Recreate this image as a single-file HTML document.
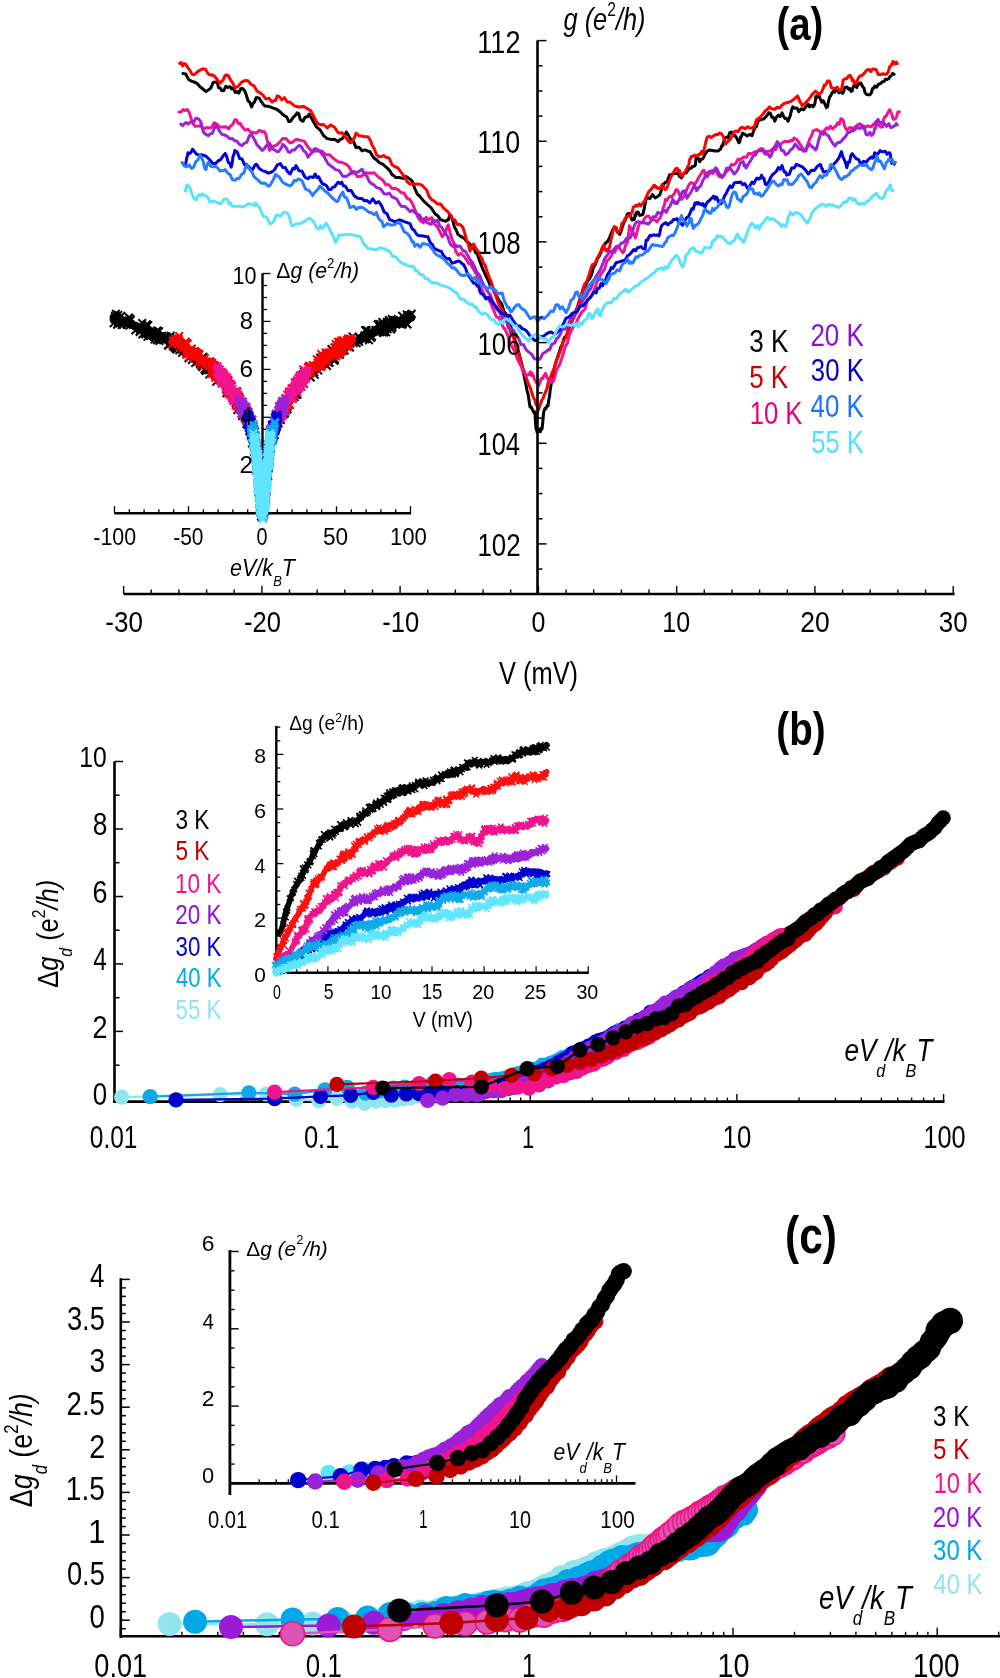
<!DOCTYPE html>
<html><head><meta charset="utf-8"><style>
html,body{margin:0;padding:0;background:#fff;}
svg{display:block;will-change:transform}
text{font-family:"Liberation Sans",sans-serif;}
</style></head><body>
<svg width="1000" height="1678" viewBox="0 0 1000 1678">
<rect width="1000" height="1678" fill="#fff"/>

<path d="M183 73.6 185.8 74 188.5 79.4 191.2 81.1 194 82 197 83.3 200 86.8 203 89 206 91.6 208.4 89.9 210.8 88.1 213.2 82.5 215.6 82 217.1 81.9 218.6 87.7 220.1 88 221.6 90.4 223.7 90.7 225.8 86.3 227.9 87.4 230 86.8 231.8 89 233.5 88 235.2 92.4 237 91.6 238.8 93.1 240.7 88.8 242.6 88.5 244.4 90.4 246.2 94.7 248 100.7 249.8 102.3 251.6 107 253.1 103.3 254.6 101.9 256.1 97.8 257.6 97.6 259.4 98.4 261.2 101.5 263 103.9 264.8 106 268.7 106.3 272.6 107.8 276.5 109.2 280.4 112 282.5 114.2 284.6 115.8 286.7 117 288.8 121.6 290.9 121 293 117.5 295.1 115.7 297.2 112.8 298.7 113.5 300.2 119.3 301.7 120.8 303.2 121.2 304.7 117.7 306.2 116.8 307.7 116.8 309.2 114 312.8 120.4 316.4 126.8 320 129.8 323.6 135.6 327.2 138.6 330.8 139.4 334.4 139.2 338 141.6 340.1 139.6 342.2 138.6 344.3 136 346.4 132 348.8 135.9 351.2 140.2 353.6 141.6 356 147.6 359 147.3 362 150.8 365 149.9 368 151.2 370.1 151.8 372.2 155.6 374.3 158.4 376.4 159.6 379.4 162.8 382.4 163.8 385.4 166.5 388.4 169.2 390.2 171.3 392 174.7 393.8 175.6 395.6 177.6 399.2 177.5 402.8 178.4 406.4 176.6 410 179.2 412.4 181.3 414.8 188.5 417.2 194 419.6 196 423.5 200.9 427.4 204.5 431.3 208 435.2 214 437.9 215.8 440.6 219.8 443.3 220.6 446 221.2 447.2 219.9 448.4 219.9 449.6 215.5 450.8 215.2 452.6 220.1 454.4 226.9 456.2 230 458 234.4 461 236.6 464 238.1 467 241.8 470 244 471.8 248.5 473.6 246.5 475.4 252.5 477.2 253.6 479.9 261.7 482.6 268.6 485.3 274.5 488 280 490.4 285.9 492.8 289.1 495.2 293.8 497.6 298 499.7 301.6 501.8 303.8 503.9 311.5 506 313.7 508.2 320.6 510.5 325.5 512.8 333.4 515 340 516.8 346.2 518.5 351.8 520.2 358 522 365 523 370.2 524 375.6 525 380.5 526 385 527 390.3 528 393.8 529 400.3 530 407 531.2 406.8 532.5 409.9 533.8 412.4 535 412 535.2 417.6 535.5 421.9 535.8 426.2 536 429 536.5 428.6 537 432.1 537.5 432 538 432 538.5 429.8 539 429.3 539.5 429 540 431 540.5 431.7 541 428.8 541.5 427.7 542 429 542.5 425.1 543 419.3 543.5 413.5 544 411 545 408.2 546 408.6 547 405.7 548 406 548.8 399.7 549.5 396.5 550.2 390 551 385 552.2 378.4 553.5 373.4 554.8 365.6 556 362 557.5 357.2 559 353.1 560.5 347.8 562 345 564.4 337.5 566.8 335.3 569.1 327.8 571.5 322 574.1 313.9 576.8 309 579.4 303.2 582 295 583.9 288.6 585.9 284.5 587.8 280.9 589.7 278.4 591.6 274.6 593.5 267.1 595.3 264.8 597.2 259 599.4 255.8 601.5 251.2 603.6 245.7 605.8 243 607.9 241.2 610.1 236.3 612.2 231 614.4 226.9 615.7 227.5 617 231.3 618.4 232 619.7 234.4 621.6 229.6 623.5 223.4 625.4 219.7 627.3 214 628.9 213.3 630.5 215.8 632.1 220.2 633.7 219.4 634.4 219.4 635 215 635.7 215.7 636.4 212.3 638 212 639.6 215.4 641.3 215 642.9 214.4 644 209.7 645 204.7 646.1 199.3 647.2 197.3 649.9 198.8 652.5 194.6 655.2 197.9 657.9 196.2 659.8 194.8 661.6 189.5 663.5 184.2 665.4 182.2 666.5 182 667.5 180.6 668.6 177.5 669.7 174.7 671.6 174.5 673.5 173.6 675.3 173.2 677.2 173.6 678.3 173.3 679.4 176.6 680.4 176.5 681.5 177.9 683.1 174.6 684.7 172.3 686.3 173 687.9 170.4 689.5 168.4 691.1 168.2 692.8 166.4 694.4 166.1 694.9 165.9 695.5 164.2 696 158.3 696.5 158.6 697.6 157.5 698.6 158.4 699.7 161.7 700.8 159.7 702.9 158.6 705.1 154.1 707.2 151.1 709.4 150 712.2 150.5 715.1 151 717.9 151.1 720.8 148.8 721.7 145.7 722.6 145.8 723.5 142.5 724.4 139.2 726.2 137.3 728 137.8 729.8 132.6 731.6 132 733.4 135.7 735.2 135.5 737 138.6 738.8 142.8 739.7 142.3 740.6 136.7 741.5 136.8 742.4 133.2 744.8 134.3 747.2 136 749.6 134.4 752 135.6 753.5 131.3 755 127.4 756.5 126.5 758 121.2 760.7 119.6 763.4 119.1 766.1 116.7 768.8 112.8 770.3 113.2 771.8 117.2 773.3 117.3 774.8 121.2 776.6 117 778.4 115 780.2 116.6 782 112.8 783.5 116.2 785 118.5 786.5 118.4 788 121.2 789.2 118.1 790.4 115.3 791.6 109.8 792.8 106.8 794.3 108.3 795.8 107.9 797.3 108.5 798.8 111.6 801.2 108.7 803.6 109.8 806 106.5 808.4 104.4 809.6 107 810.8 105.4 812 105.2 813.2 106.8 814.1 105.4 815 102.9 815.9 96.5 816.8 96 817.6 97.3 818.4 95.1 819.2 95.7 820 98 821.6 102.2 823.2 100.7 824.8 104 826.4 107.6 827.5 106.9 828.5 101.3 829.6 97 830.7 95.8 832.1 92.7 833.4 91.4 834.8 92.1 836.1 89.4 837.5 88.4 838.8 92.9 840.1 91.2 841.5 92.6 842.6 93.4 843.6 91.8 844.7 87.6 845.8 87.2 847.1 87.1 848.5 89.2 849.8 88.6 851.1 91.5 852.2 90.8 853.2 86.7 854.3 85.2 855.4 86.1 856.8 87.5 858.1 83.6 859.4 84.1 860.8 82.9 861.8 85.1 862.9 86.9 864 88.2 865 92.6 866.6 94.5 868.2 94.8 869.9 94.8 871.5 92.6 872.3 89.2 873.1 88 873.9 88.3 874.7 86.1 876.6 87.2 878.5 84.1 880.3 83.7 882.2 81.8 883.8 81.7 885.5 79.1 887.1 79.6 888.7 78.6 890 76.6 891.4 75.3 892.7 73.4 894 74.3" fill="none" stroke="#000000" stroke-width="3" stroke-linejoin="round" stroke-linecap="round"/>
<path d="M179.6 63.4 181.1 62.5 182.6 65.9 184.1 63.6 185.6 64 187.7 67.4 189.8 70.1 191.9 74.1 194 74.8 196.4 72.8 198.8 70.9 201.2 69.5 203.6 68.8 205.7 69.5 207.8 73.4 209.9 75.1 212 74.8 214.1 75.9 216.2 78.1 218.3 81.2 220.4 83 221.9 81.3 223.4 79.3 224.9 75.7 226.4 74.8 228.5 75.9 230.6 80.2 232.7 82.7 234.8 88 238.1 86.4 241.4 82.4 244.7 80.6 248 80.8 251 84.4 254 85.8 257 91.1 260 92.8 263 95.1 266 99.1 269 98.1 272 102 273.8 100.6 275.5 100.6 277.2 95.9 279 96.4 281.8 99.9 284.5 97.7 287.2 101.9 290 102 294.5 106 299 107 303.5 106.4 308 109 311 111.1 314 117 317 122.8 320 124.8 323.6 124.5 327.2 127.8 330.8 125 334.4 127.2 338.3 133 342.2 132.8 346.1 138.1 350 142.8 351.5 142.3 353 139.4 354.5 137.5 356 133.2 359 135.7 362 136.1 365 136.8 368 136.8 370.1 139.8 372.2 145.5 374.3 148.7 376.4 154.8 378.8 156.4 381.2 156.8 383.6 155.5 386 157.2 389 157.9 392 164.7 395 166.7 398 168 401 172.2 404 176.2 407 181.6 410 184 413 184.1 416 184.1 419 184.2 422 185.2 424.4 187.7 426.8 190.2 429.2 196.7 431.6 199.6 434.6 201.3 437.6 204.1 440.6 203.9 443.6 208 445.7 210 447.8 211.7 449.9 214.4 452 218.8 454.7 219.8 457.4 224.5 460.1 224.6 462.8 227.2 464.6 232.7 466.4 239.7 468.2 244 470 251.2 470.9 247.1 471.8 247.7 472.7 245.8 473.6 244 475.7 248.3 477.8 250.9 479.9 255.7 482 258.4 483.5 263.4 485 265 486.5 270.1 488 274 489.5 278.1 491 281.1 492.5 286.2 494 290.8 495.8 295.3 497.6 301.1 499.4 305.4 501.2 307.7 503 311.7 504.8 318.5 506.6 320.8 508.4 328 509.3 327.6 510.2 331.2 511.1 334.4 512 334.2 513.5 337.1 515 344.3 516.5 349.3 518 352 519.3 355.4 520.6 361.5 521.9 366.5 523.2 369.2 524.9 373.1 526.6 379 528.3 383.6 530 387 531.2 390.7 532.5 395.1 533.8 398.6 535 400 535.9 404.6 536.8 405.3 537.6 406 538.5 410 540.1 404.6 541.8 400.2 543.4 397.6 545 393 546.8 389.2 548.5 380.9 550.2 378.8 552 373 554.2 368.2 556.4 360.8 558.5 355.8 560.7 350 563.4 341.6 566.1 337.3 568.8 327.2 571.5 322.4 574.2 316.8 576.9 308.2 579.5 299.6 582.2 291.2 584.4 284.5 586.5 281.8 588.6 276.4 590.8 268.7 592.4 264.4 594 264.6 595.6 262.2 597.2 258 598.8 255.5 600.4 252.5 602 248.1 603.6 245.1 604.7 248.7 605.8 250.5 606.9 249.4 608 251.5 609.6 246.7 611.2 238.9 612.8 231.5 614.4 226.9 615.5 227.4 616.5 227.8 617.6 232.8 618.7 232.2 620.3 230.8 621.9 223.5 623.5 222.2 625.1 218.3 626.3 217.5 627.5 215.7 628.8 216.1 630 216.6 631.1 213 632.1 212.9 633.2 207 634.3 206.9 635.9 205.2 637.5 206.1 639.1 203.9 640.7 205.8 642.1 204.3 643.4 202 644.8 201 646.1 197.3 648 193 649.9 190.4 651.7 188.6 653.6 185.5 654.7 185.3 655.8 187.5 656.8 186.8 657.9 188.7 659 188.5 660 187.9 661.1 186.9 662.2 184.4 663 187.9 663.8 187.3 664.6 188.3 665.4 189.7 666.8 188.1 668.1 184.5 669.4 180.4 670.8 176.9 672.4 174.2 674 171.6 675.6 168.6 677.2 168.3 678.3 171.6 679.4 170.3 680.4 175.1 681.5 175.8 683.1 173.6 684.7 173.1 686.3 169.7 687.9 166.1 688.7 165.9 689.5 159.6 690.4 158.9 691.2 156.5 692.8 156.6 694.4 155.1 696 155.7 697.6 155.4 699 154.2 700.3 154.5 701.6 151.5 703 153.3 704.1 149 705.1 145 706.2 140.3 707.3 137.2 709.2 136.2 711 137.4 712.9 136.4 714.8 135 716.3 134.5 717.8 134.8 719.3 133.1 720.8 133.2 722 134.5 723.2 136.3 724.4 140.3 725.6 144 727.7 141.5 729.8 139.8 731.9 136.5 734 132 736.1 130.9 738.2 131.8 740.3 128.2 742.4 127.2 745.1 128.7 747.8 126.8 750.5 128.3 753.2 127.2 754.4 127.3 755.6 122.1 756.8 119.4 758 118.8 760.4 117 762.8 114.1 765.2 111 767.6 109.2 769.4 106.9 771.2 108.7 773 108.9 774.8 109.2 777.2 107.3 779.6 107.9 782 105.1 784.4 103.2 787.7 102.5 791 101.4 794.3 98.9 797.6 96 798.8 98.4 800 101.9 801.2 103.8 802.4 105.6 805.7 102.7 809 99 812.3 94.4 815.6 91.2 816.7 92.4 817.8 93 818.9 95 820 93.6 821.1 92.7 822.1 90.9 823.2 88.4 824.3 85 825.4 85.4 826.5 83.4 827.5 81.2 828.6 80.8 829.7 81.6 830.8 85.5 831.8 88.1 832.9 88.3 835 88.8 837.2 87.2 839.4 90.7 841.5 89.4 842 86.9 842.5 84.4 843.1 80 843.6 79.7 845.2 78.7 846.8 78.7 848.4 76.1 850 75.4 851.1 76.9 852.1 80.4 853.2 79.6 854.3 84 855.4 82.4 856.5 82.9 857.5 80.1 858.6 77.6 860.2 75.8 861.8 75.8 863.4 74 865 72.2 866.9 70.1 868.8 69.3 870.7 71.6 872.6 69 874.5 69.3 876.3 69.7 878.1 74.5 880 74.3 881.6 74.4 883.2 73.7 884.9 74.4 886.5 74.3 888.1 72.2 889.8 66.4 891.4 65.4 893 61.5 894.1 63 895.1 64 896.2 62 897.3 63.6" fill="none" stroke="#ff0000" stroke-width="3" stroke-linejoin="round" stroke-linecap="round"/>
<path d="M179 112 181.1 111.9 183.2 109.6 185.3 110.5 187.4 109.6 189.3 112.3 191.3 119.3 193.2 123.9 195.2 126.4 197.9 125.9 200.6 125.7 203.3 129.4 206 127.6 208.7 127.7 211.4 127.4 214.1 122.7 216.8 124 219.8 127 222.8 127 225.8 126.8 228.8 128.8 230.3 126.2 231.8 125.5 233.3 123.4 234.8 119.8 236.6 120 238.4 123.7 240.2 123.2 242 126.4 245 130.1 248 129.1 251 132.8 254 132.4 255.8 133.1 257.5 132.2 259.2 130.3 261 131 262.2 132.1 263.5 131.2 264.8 132.2 266 134.8 266.9 139.7 267.8 142 268.7 147.7 269.6 150.4 272.9 146.2 276.2 145.4 279.5 142.4 282.8 138.4 284.6 138.6 286.4 138.8 288.2 141.2 290 142.8 292.7 142.2 295.4 139.8 298.1 139.6 300.8 140.4 304.1 141.1 307.4 146.2 310.7 150.3 314 151.2 317.9 150.8 321.8 150.9 325.7 154.8 329.6 154.8 333.8 158.6 338 161.7 342.2 162.5 346.4 164.4 349 166.7 351.7 172 354.4 171.6 357 176.4 361.2 176.4 365.5 172.7 369.8 173.2 374 172.8 377 175.8 380 178.2 383 180.3 386 184.8 389 184.8 392 188.7 395 188.2 398 189.6 401 192.5 404 193.3 407 198.1 410 199.6 412.7 204.2 415.4 210.8 418.1 217.7 420.8 221.2 423.5 222.6 426.2 217.3 428.9 219.9 431.6 217.6 434.3 224 437 226.4 439.7 231.5 442.4 236.8 443.9 234.2 445.4 232.7 446.9 227.3 448.4 224.8 450.2 233.1 452 239.2 453.8 243 455.6 251.2 458.3 255.2 461 253.2 463.7 255.9 466.4 259.6 468.5 263.4 470.6 263.6 472.7 268 474.8 271.6 476.6 274.4 478.4 280.4 480.2 286.7 482 289.6 485 296.9 488 298.3 491 303.9 494 311.3 496.4 317 498.8 317.5 501.2 322.8 503.6 328 505 329.2 506.3 332.1 507.6 334.8 509 340 510.4 343.4 511.9 346.6 513.3 349.1 514.8 351 516.9 357.8 519 362.2 521.1 366.2 523.2 372 524.6 373.3 526 375.6 527.4 374.8 528.8 374.8 529.6 373.2 530.4 371.9 531.2 375.5 532 373 532.8 375.2 533.5 375.8 534.2 378.7 535 380 535.9 381.8 536.8 383.1 537.7 382.5 538.6 386 539.5 383.3 540.3 381.6 541.1 378.6 542 378 542.9 378.6 543.8 375.4 544.7 375.3 545.6 373.4 546.7 376.5 547.8 378.8 548.9 380.9 550 382 551 382.4 552 379.4 553 381.9 554 379 556.8 369.3 559.6 364.8 562.4 356.5 565.2 346.8 567.3 343.4 569.4 334.7 571.5 329.8 573.6 326.7 575.8 324.4 577.9 319 580.1 314.8 582.2 311.6 584.9 309.3 587.5 300.4 590.2 298.1 592.9 293.4 594.8 288.6 596.6 282.6 598.5 279.3 600.4 275.2 602.5 272.1 604.7 268.9 606.9 260.9 609 259.1 610.9 256.5 612.8 251.8 614.6 252.4 616.5 248.3 618.1 247.5 619.8 248.3 621.4 251 623 252.6 624.1 251.3 625.1 246.9 626.2 243.7 627.3 243 627.8 240.1 628.3 235.8 628.9 231.7 629.4 225.8 630.9 227.9 632.4 231.6 633.9 233.8 635.4 238 636.5 234.5 637.5 229.7 638.6 226 639.7 223 641.3 222.7 642.9 221.9 644.5 218.6 646.1 216.6 648.5 215.9 651 219.5 653.4 219.6 655.8 220.9 657.1 221.8 658.5 219.2 659.8 218.4 661.1 215.5 662.2 212.4 663.2 207.6 664.3 205.3 665.4 199.4 667 200.4 668.6 197.4 670.2 196.2 671.8 197.3 673.1 194.8 674.5 193.6 675.9 189.7 677.2 189.7 678.3 191.4 679.4 194.9 680.4 194.9 681.5 199.4 683.6 196.8 685.8 192 688 186.5 690.1 183.3 691.2 182.6 692.2 183.2 693.3 183.3 694.4 184.4 696.5 182 698.7 177.4 700.9 174 703 170.4 704.1 170.4 705.1 175.6 706.2 174.5 707.3 176.9 709.2 174.2 711 171.2 712.9 173.5 714.8 169.4 716.3 171.1 717.8 174.8 719.3 176.6 720.8 176.4 723.5 175.6 726.2 171.9 728.9 169.4 731.6 164.4 733.7 165.1 735.8 163.4 737.9 159.1 740 159.6 742.1 158.2 744.2 156.9 746.3 157.4 748.4 153.6 751.4 153.7 754.4 152.1 757.4 151.1 760.4 148.8 762.8 148.8 765.2 152 767.6 151.3 770 151.2 771.8 149.6 773.6 148.6 775.4 149.8 777.2 146.4 779.9 145.3 782.6 142.5 785.3 141.2 788 141.6 789.5 141.6 791 140.1 792.5 140.8 794 138 797 139.8 800 144.2 803 148.9 806 151.2 807.8 144 809.6 139.2 811.4 136.1 813.2 130.8 815 130 816.8 129.6 818.6 130.6 820.4 132 822.5 131.9 824.5 130.6 826.5 127.8 828.6 129 830.5 126.2 832.4 129 834.2 127.3 836.1 125.8 837.7 122.7 839.3 124.3 840.9 118.8 842.5 119.4 843.6 121.5 844.6 126.3 845.7 128.4 846.8 130.1 850 127.5 853.2 128.7 856.5 125.8 859.7 123.7 862.4 126.2 865 127.1 867.7 125.8 870.4 126.9 871.8 126.4 873.1 124.4 874.4 124.9 875.8 121.5 877.4 124.2 879 125.2 880.6 127 882.2 126.9 882.8 126.8 883.3 121 883.9 118.3 884.4 117.3 885.7 116.5 887 114.7 888.4 111.7 889.7 109.7 890.8 112.1 891.9 114.1 892.9 118.7 894 119.4 895.4 118.9 896.7 116 898 111.7 899.4 111.9" fill="none" stroke="#f01490" stroke-width="3" stroke-linejoin="round" stroke-linecap="round"/>
<path d="M180.8 124 182.6 125.6 184.4 123.8 186.2 122.6 188 124 190.7 121.9 193.4 122.5 196.1 118.1 198.8 119.2 200.3 121.1 201.8 125.5 203.3 131.8 204.8 133.6 206.6 134.7 208.4 135.8 210.2 133.8 212 133.6 212.9 131.8 213.8 129.6 214.7 127.4 215.6 125.2 217.7 127.8 219.8 131.5 221.9 134.5 224 134.8 226.7 135.9 229.4 138.4 232.1 138.4 234.8 140.8 236.6 141.1 238.4 143.2 240.2 144.8 242 145.6 244.4 143.1 246.8 142.4 249.2 135.9 251.6 134.8 254.3 139.3 257 144.9 259.7 147.6 262.4 150.4 264.2 148.9 266 146.2 267.8 144.5 269.6 143.2 271.4 147.3 273.2 149.2 275 150.3 276.8 151.6 278.3 151.6 279.8 150 281.3 147.8 282.8 144.4 284.6 145.9 286.4 148.2 288.2 151.8 290 152.4 292.4 150 294.8 149.9 297.2 146.9 299.6 145.2 301.7 147.4 303.8 151 305.9 152.4 308 157.2 310.1 154.4 312.2 152.6 314.3 148.7 316.4 148.8 320.3 151.8 324.2 156.7 328.1 163.9 332 166.8 335.6 169.6 339.2 170.6 342.8 176.3 346.4 176.4 350.3 173.5 354.2 172.9 358.1 172.1 362 169.2 364.4 173.7 366.8 176.1 369.2 181.3 371.6 183.6 374 185 376.4 187.6 378.8 188.1 381.2 189.6 383.9 193.6 386.6 194.2 389.3 193.1 392 196.8 396.5 198.8 401 206.3 405.5 206.7 410 211.6 412.4 210.3 414.8 212.3 417.2 214.2 419.6 215.2 422 219.4 424.4 218.9 426.8 222.5 429.2 223.6 431.3 224.2 433.4 219.9 435.5 221.4 437.6 220 439.7 225.9 441.8 227.4 443.9 231 446 234.4 447.8 236.7 449.6 242.5 451.4 245.6 453.2 246.4 455 244.6 456.8 246.6 458.6 246 460.4 246.4 462.8 250.5 465.2 251.2 467.6 255.2 470 259.6 472.4 262.5 474.8 267.3 477.2 272.6 479.6 275.2 481.7 281 483.8 284.9 485.9 288.6 488 292 490.1 294.3 492.2 299.9 494.3 305.5 496.4 308.9 498.5 310.8 500.7 314.6 502.9 319.2 505 320.2 507.8 322.3 510.6 329.5 513.4 329.9 516.2 335.6 518.7 338.6 521.1 344.5 523.5 344.7 526 349.6 528.8 352.1 531.6 354.1 534.4 358.7 537.2 359.4 540 359.2 542.8 353.5 545.6 352 548.4 349.6 549.6 350 550.8 346.9 552 343.9 553.2 343.8 554.8 342.9 556.4 339 558 337.6 559.6 335.6 562.6 329 565.5 329.1 568.5 323.2 571.5 318.1 573.6 316.8 575.8 313.8 577.9 307.4 580 305.2 582.1 301.9 584.3 297.9 586.5 295.9 588.6 291.2 591 288.2 593.5 280.9 595.9 276.5 598.3 273 600.4 269.6 602.6 264 604.8 258.4 606.9 255.8 609.3 252 611.7 251.3 614.1 249.1 616.5 246.2 618.6 247 620.8 243.7 623 242.7 625.1 240.8 626.3 238.5 627.5 239 628.8 237.7 630 238 631.6 234.9 633.2 228.9 634.8 224.6 636.4 221.9 639.4 221.8 642.3 222.9 645.2 222.8 648.2 224.1 650.6 221.6 653 216.7 655.5 217 657.9 212.3 660 213.2 662.2 212.5 664.4 210.3 666.5 212.3 668.1 208.3 669.7 206.7 671.3 203.3 672.9 199.4 674 201.9 675 203.4 676.1 201.8 677.2 203.7 678.8 200.4 680.4 196.5 682 192.3 683.6 190.8 684.4 191 685.2 193.4 686.1 194.5 686.9 198.3 688.8 195.3 690.6 192.8 692.5 189 694.4 185.5 694.9 187.7 695.5 186.9 696 188.1 696.5 190.8 698.6 187.6 700.8 185.6 703 180 705.1 176.9 707.2 173 709.4 171.4 711.6 171.1 713.7 170.4 714.6 170.6 715.5 167.9 716.3 168.2 717.2 169.2 718.4 172.1 719.6 175.6 720.8 174.8 722 177.6 723.5 175.7 725 172.9 726.5 168.2 728 168 729.5 168.7 731 169.3 732.5 171.4 734 174 736.1 172.2 738.2 168.8 740.3 162.9 742.4 162 743.3 161.6 744.2 166 745.1 164.7 746 168 748.4 163.9 750.8 160.3 753.2 156 755.6 154.8 757.4 151.4 759.2 150.7 761 150.7 762.8 150 764.6 153.8 766.4 154.2 768.2 154.2 770 157.2 771.8 154.1 773.6 148.4 775.4 145.6 777.2 141.6 779.3 144.1 781.4 150.3 783.5 150.8 785.6 154.8 788 153.5 790.4 150 792.8 148.3 795.2 144 797.3 146.3 799.4 149.3 801.5 149 803.6 151.2 805.1 150.2 806.6 148.2 808.1 145.9 809.6 144 811.1 145.8 812.6 147.2 814.1 148 815.6 150 816.8 147.9 818 142.8 819.2 138.5 820.4 134.4 821.9 132.3 823.4 134.4 824.9 132.9 826.4 134.4 828.5 136 830.7 140 832.9 143.5 835 146.2 836.6 143.7 838.2 142.5 839.9 142.4 841.5 140.9 843.6 138.6 845.8 136.2 847.9 132.6 850 132.3 851.6 130.6 853.2 130.9 854.9 129.3 856.5 128 858.1 127.7 859.7 128.5 861.3 127.4 862.9 125.8 863.7 128.8 864.5 127.9 865.3 131.4 866.1 134.4 868 135 869.9 132.3 871.7 135.5 873.6 133.3 874.7 128.2 875.8 128.1 876.8 121.6 877.9 119.4 879.5 122 881.1 123.2 882.8 121.9 884.4 123.7 886.5 126.3 888.7 123.7 890.9 127.7 893 126.9 894.1 125.8 895.1 125.6 896.2 123.6 897.3 124.8" fill="none" stroke="#9a22d8" stroke-width="3" stroke-linejoin="round" stroke-linecap="round"/>
<path d="M185.6 163.6 186.2 161.4 186.8 157.1 187.4 156.3 188 152.8 189.5 153.7 191 152.4 192.5 149.2 194 151 196.4 154.1 198.8 155 201.2 154.8 203.6 155.2 206.6 156.7 209.6 159.7 212.6 163.3 215.6 163.6 218 160.9 220.4 159.8 222.8 156.4 225.2 153.4 226.7 156.5 228.2 162.3 229.7 163.3 231.2 167.2 232.1 163.5 233 156.7 233.9 154.5 234.8 150.4 237.2 151.9 239.6 158.5 242 158.9 244.4 164.8 246.2 164.2 248 166 249.8 167.6 251.6 170.8 252.8 169.2 254 166.8 255.2 164.8 256.4 164.2 259.4 168.7 262.4 170.6 265.4 171.7 268.4 173.2 271.4 172.2 274.4 169.9 277.4 164.8 280.4 163.6 282.8 167.6 285.2 167.6 287.6 171.7 290 174 291.5 171.2 293 168.2 294.5 169 296 165.6 299 170.8 302 171.3 305 177.2 308 178.8 309.8 176.9 311.6 177.1 313.4 177.5 315.2 174 317 177.7 318.8 176.8 320.6 180.9 322.4 183.6 324.5 184.5 326.6 185.7 328.7 189.6 330.8 189.6 332.6 187.5 334.4 186.9 336.2 184.8 338 182.4 339.8 183.4 341.6 182.2 343.4 185.9 345.2 186 348.2 190.8 351.2 190.5 354.2 195.7 357.2 198 359.6 198.5 362 198.5 364.4 200.8 366.8 200.4 369.8 202.9 372.8 198.8 375.8 203.1 378.8 201.6 381.5 205.6 384.2 212.1 386.9 213.6 389.6 219.6 394.7 221.6 399.8 219.8 404.9 221.8 410 223.6 412.1 228.8 414.2 230.3 416.3 233.9 418.4 235.6 420.8 235.7 423.2 236.1 425.6 236.5 428 236.8 429.5 241.1 431 243.8 432.5 244.4 434 248.8 435.8 249.1 437.6 250.2 439.4 250.9 441.2 251.2 443.9 256.2 446.6 258.8 449.3 258.6 452 263.2 454.4 262.6 456.8 261.4 459.2 261 461.6 263.2 463.7 264.8 465.8 268.9 467.9 275.2 470 277.6 471.8 280.5 473.6 283.2 475.4 282.9 477.2 286 478.7 286.5 480.2 292.4 481.7 293.9 483.2 294.5 485.9 298.9 488.6 297 491.3 301.1 494 304 496.4 307 498.8 309.9 501.2 313.2 503.6 313.7 505.7 315.1 507.8 315.7 509.9 315.2 512 318.8 514 322 516 324.6 518 326.1 520 326 522.2 328.8 524.4 329.4 526.6 331 528.8 334.2 530.9 336.9 533 339 535.1 340.5 537.2 339.8 540 336.6 542.8 336.7 545.6 334.6 548.4 332.8 551 332 553.5 333.3 556 333.5 558.6 331 560.5 328.8 562.4 325.5 564.2 322.2 566.1 318.1 568.2 317.5 570.4 315.6 572.6 312.9 574.7 312.7 577.4 311.6 580 306.1 582.7 306.1 585.4 303 587.3 300.1 589.1 298.5 591 296.5 592.9 293.4 594.5 292 596.1 292.9 597.8 288.2 599.4 288 601 283.6 602.6 285.8 604.2 280.7 605.8 279.4 607.1 275.4 608.5 273.1 609.9 271 611.2 267.6 612.8 268.5 614.4 265.9 616 262.8 617.6 262.3 619.5 261.9 621.4 261 623.2 260.7 625.1 260.1 626.3 258.2 627.5 255.6 628.8 255.1 630 254.1 631.9 252 633.8 249.5 635.6 250.8 637.5 247.7 639.4 247.3 641.2 246.6 643.1 248.8 645 248.8 645.3 248.2 645.5 245.8 645.8 242.9 646.1 240.2 647.5 240.2 648.8 237.3 650.1 235.3 651.5 235.9 653.4 234.8 655.2 235.2 657.1 234.9 659 235.9 659.8 233.1 660.6 228.9 661.4 226.2 662.2 225.2 664.1 223.5 666 222.7 667.8 224.9 669.7 223 671.6 222.1 673.5 219.5 675.3 219.4 677.2 218.7 678.6 222 679.9 222.3 681.2 223.8 682.6 225.2 684.5 221.7 686.4 217.9 688.2 216.9 690.1 213.3 691.7 208.7 693.3 209.3 694.9 203.2 696.5 202.6 697.6 204 698.6 202.6 699.7 204.3 700.8 203.7 701.9 204.9 703 203.6 704 206.3 705.1 206.9 707 202.5 708.9 200.9 710.7 199.2 712.6 197.3 713.5 196.2 714.3 197.8 715.1 199.2 716 196.8 717.2 197.9 718.4 202 719.6 200.9 720.8 204 722.6 201.4 724.4 196.1 726.2 193.4 728 189.6 730.1 185.9 732.2 187.5 734.3 182.9 736.4 182.4 738.5 182.5 740.6 182 742.7 184.7 744.8 183.6 745.7 185.2 746.6 186.5 747.5 188.4 748.4 188.4 750.2 185.2 752 182.2 753.8 183.6 755.6 180 757.1 178 758.6 179 760.1 178.5 761.6 175.2 762.8 178.2 764 178.2 765.2 184 766.4 184.8 768.5 182.4 770.6 177.6 772.7 174.5 774.8 172.8 776.6 171 778.4 167.5 780.2 169.3 782 165.6 783.2 169 784.4 171.9 785.6 172.3 786.8 175.2 789.2 174.4 791.6 168.1 794 168.1 796.4 164.4 799.4 165.7 802.4 166.9 805.4 169.9 808.4 174 811.4 170.2 814.4 170.4 817.4 166.2 820.4 164.4 821.1 166.2 821.8 168.7 822.5 169 823.2 172 825.1 171.8 827 171.2 828.8 171.5 830.7 168.8 833.4 164.5 836.1 161.8 838.8 158.1 841.5 151.6 842.8 156.9 844.1 159.3 845.5 162.6 846.8 167.7 848.1 162.3 849.5 162.2 850.9 155.5 852.2 153.7 854.4 156.7 856.5 158.9 858.6 159.7 860.8 164.5 863.5 161.3 866.1 162.2 868.8 159.1 871.5 157 872.6 158.1 873.6 157.2 874.7 152.7 875.8 153.7 877.9 154 880.1 150.5 882.2 151.8 884.4 151.6 885.7 151.6 887 154.3 888.4 152.9 889.7 152.7 890.2 153.9 890.8 158.1 891.4 160.8 891.9 163.4 892.7 161.7 893.5 162.2 894.3 164.3 895.1 162.3" fill="none" stroke="#0000d8" stroke-width="3" stroke-linejoin="round" stroke-linecap="round"/>
<path d="M182 162.4 184.4 166.1 186.8 166.7 189.2 164.9 191.6 168.4 193.7 167 195.8 161.6 197.9 160 200 155.2 201.5 157.3 203 160.8 204.5 167.9 206 169.6 206.6 166.8 207.2 163.9 207.8 164.2 208.4 162.4 210.8 166.2 213.2 166.9 215.6 166.4 218 168.4 219.8 171 221.6 170.4 223.4 170.9 225.2 169.6 227.6 173 230 174.5 232.4 179.6 234.8 180.4 236.9 178.5 239 178.8 241.1 175.2 243.2 173.2 244.1 173 245 168.9 245.9 166.6 246.8 164.8 248.6 168.2 250.4 170 252.2 172.2 254 176.8 257.6 179.6 261.2 183.2 264.8 183 268.4 186.4 270.2 185.1 272 181.7 273.8 178.7 275.6 174.4 279.2 176.9 282.8 182.5 286.4 184.4 290 186 292.1 184.5 294.2 180.6 296.3 180.9 298.4 178.8 302 180.8 305.6 189.1 309.2 190.6 312.8 195.6 314.6 192.6 316.4 191 318.2 189 320 186 324.2 190.3 328.4 193.7 332.6 198.3 336.8 201.6 338.3 200.8 339.8 196.6 341.3 194.4 342.8 192 344.6 197.3 346.4 197.5 348.2 202.1 350 207.6 352.1 206.8 354.2 206.3 356.3 209.4 358.4 207.6 361.1 207.2 363.8 208.2 366.5 210.4 369.2 212.4 371 212.4 372.8 213.9 374.6 214.7 376.4 212.4 378.2 217.6 380 220.1 381.8 221.1 383.6 226.8 387.2 223.6 390.8 225 394.4 224.7 398 222 401 224.6 404 231.6 407 233.3 410 236.8 411.2 239.5 412.4 242.1 413.6 242 414.8 246.4 417.5 244.3 420.2 247.2 422.9 243.5 425.6 244 428.9 245.1 432.2 249 435.5 254 438.8 256 440.9 256.7 443 258.3 445.1 260.4 447.2 263.2 449.6 264.9 452 267.9 454.4 267.7 456.8 270.4 458.9 273.3 461 275 463.1 275.5 465.2 275.2 467.6 273.8 470 275.6 472.4 279 474.8 277.6 476.6 281.4 478.4 280.1 480.2 283.6 482 286 484.7 286.3 487.4 288.9 490.1 286.5 492.8 289.6 494.9 289.6 497 292.4 499.1 293.9 501.2 292.9 502.4 293.6 503.6 298.9 504.8 302 506 304 507.5 307.5 509 307.3 510.5 311.7 512 311.3 513.8 308.3 515.5 306.3 517.2 304.7 519 304.8 521.8 308.7 524.6 310.1 527.4 314.2 530.2 318.8 532.7 317.4 535.1 316.8 537.5 320.9 540 318.8 542.1 317 544.2 318.8 546.3 316.7 548.4 314.6 550.9 310.9 553.3 311.7 555.8 305 558.2 304.8 560.2 309 562.2 306.6 564.1 309.6 566.1 312.7 568.5 307.8 571 300.2 573.4 298.6 575.8 292.3 577.4 292 579 297 580.6 295 582.2 298.8 583.8 295.7 585.4 291 587 288.2 588.6 285.9 590.8 283.7 592.9 281 595.1 279 597.2 277.3 599.4 279.6 601.5 279.1 603.6 280.6 605.8 283.7 606.9 282.4 608 278.5 609 279.3 610.1 275.2 612.5 273.8 614.9 272.9 617.3 269.8 619.7 270.9 621.6 265.7 623.5 263.2 625.4 262.6 627.3 259.1 628.3 260.9 629.4 263.3 630.5 261.9 631.5 263.3 633 262.8 634.5 259.6 636 256.8 637.5 257.3 639.6 255.3 641.8 255 644 253.9 646.1 250.9 647.7 251.4 649.3 249.2 650.9 246.4 652.5 244.5 654.9 245.3 657.4 245.6 659.8 246 662.2 246.6 663.6 245.3 664.9 242.6 666.2 241.8 667.6 238 669.5 236.4 671.4 235.2 673.2 235.6 675.1 232.7 676.7 229.2 678.3 224.2 679.9 220.1 681.5 215.5 682.9 219.6 684.2 221.3 685.5 222.4 686.9 226.2 688 223.5 689 222.9 690.1 218.5 691.2 218.7 691.7 220.9 692.2 225.4 692.8 224.7 693.3 228.4 695.2 225.7 697 224.5 698.9 223.1 700.8 218.7 701.9 217.2 703 214.5 704 211 705.1 209.1 706.2 209.9 707.2 211.9 708.3 211.6 709.4 213.3 711 213.3 712.6 208.4 714.2 210.5 715.8 208 717.6 207.2 719.5 203.3 721.4 200.1 723.2 200.4 724.4 201.5 725.6 204.4 726.8 207.1 728 207.6 729.5 205.4 731 198.5 732.5 194 734 192 735.8 192.7 737.6 199 739.4 199.9 741.2 201.6 743.3 196.3 745.4 195.3 747.5 192.9 749.6 187.2 751.1 189.2 752.6 189 754.1 193.8 755.6 193.2 757.4 194.7 759.2 192.9 761 196.2 762.8 195.6 765.2 192 767.6 188.7 770 184.2 772.4 181.2 773.9 181.5 775.4 183.2 776.9 184.9 778.4 186 780.2 184.3 782 184.7 783.8 179.5 785.6 180 787.1 179.8 788.6 184.4 790.1 184.1 791.6 184.8 794 182.6 796.4 180 798.8 175.5 801.2 174 803.3 176.8 805.4 179.3 807.5 182.3 809.6 187.2 811.7 187.4 813.8 184.1 815.9 182.6 818 178.8 820.1 175.6 822.2 177.9 824.3 175.2 826.4 175.2 827.8 172.5 829.1 170.7 830.4 165 831.8 164.5 834.2 167.7 836.6 172.2 839.1 177.5 841.5 179.5 843.1 178.5 844.7 176.5 846.3 176.8 847.9 175.2 849.5 174 851.1 171 852.7 170.6 854.3 168.8 857 166.9 859.6 164.9 862.3 165.5 865 165.5 866.6 164.7 868.2 167.6 869.9 168.7 871.5 169.8 872.9 168 874.2 164 875.5 160.5 876.9 155.9 878.8 161.4 880.6 161.3 882.5 165 884.4 168.8 885.5 165.1 886.5 162.1 887.6 161.6 888.7 159.1 890.3 160 891.9 159 893.5 163.4 895.1 162.3" fill="none" stroke="#2a7cff" stroke-width="3" stroke-linejoin="round" stroke-linecap="round"/>
<path d="M185 190 185.8 191.2 186.5 186 187.2 184.7 188 186 190 187.5 192 194.1 194 198.1 196 200 197.5 196.5 199 194.7 200.5 195.7 202 194 204 195.2 206 195.8 208 197.7 210 202 212.5 201.2 215 201.6 217.5 202.6 220 204 221.5 203 223 200.4 224.5 199 226 199 227.5 199.4 229 204.3 230.5 203 232 206 234.5 206.5 237 206.3 239.5 206 242 207 245 206.1 248 203.8 251 204.1 254 205 254.5 205.4 255 205.7 255.5 203 256 204 259.5 207.5 263 215.9 266.5 217.1 270 224 272 223.1 274 221.2 276 215.6 278 215 280.5 216.3 283 212.9 285.5 212.1 288 214 289 216 290 219.3 291 223.4 292 226 296.3 223.8 300.6 223.5 304.9 221.1 309.2 218.4 311.6 219.3 314 222.4 316.4 227.6 318.8 229.2 320.6 225.9 322.4 228.3 324.2 226.1 326 223.2 328.4 226.7 330.8 231.8 333.2 236.5 335.6 242.4 336.8 240.2 338 237.6 339.2 234.8 340.4 235.2 345.2 234.4 350 234.4 354.8 235.4 359.6 236.4 361.7 239.2 363.8 244.1 365.9 246.1 368 248.4 371.9 248.9 375.8 250.1 379.7 247.9 383.6 248.4 386.6 250.2 389.6 251.4 392.6 256.2 395.6 256.8 399.2 261 402.8 263.7 406.4 264.8 410 266.8 411.8 265.9 413.6 266.6 415.4 270.9 417.2 270.4 419.9 274.3 422.6 274.7 425.3 278.6 428 278.8 431 282.3 434 283 437 282.7 440 284.8 443 285.8 446 286.5 449 287.9 452 289.6 454.1 291.9 456.2 292.2 458.3 295.2 460.4 299.3 463.4 298.9 466.4 302 469.4 304.5 472.4 304 474.2 307.1 476 306.6 477.8 310.2 479.6 312.5 482 314.3 484.4 313.2 486.8 314.2 489.2 317.3 491.6 319.6 494 319.7 496.4 323.4 498.8 324.5 500.7 321.6 502.6 323.3 504.5 319.3 506.4 318.8 508.9 320.2 511.3 322.5 513.8 325.8 516.2 325.8 519.4 331.6 522.5 335.1 525.6 338.2 528.8 341.2 530.9 337.1 533 335.6 535.1 335.1 537.2 332.8 540 337.5 542.8 338.7 545.6 338.7 548.4 342.6 551.2 337.7 554 336.3 556.8 330 559.6 325.8 561.5 327.1 563.3 326.5 565.1 325.7 567 324 568.9 325 570.9 325.6 572.8 324.5 574.7 325.6 576.6 323.6 578.5 327.1 580.3 322.6 582.2 324.5 583.8 320.8 585.4 319.7 587 318.6 588.6 313.8 589.7 313.5 590.8 314.8 591.8 318.6 592.9 318.1 594 315.2 595 313.4 596.1 311 597.2 309.5 598 309 598.8 314.7 599.6 315.2 600.4 315.9 601.8 310.7 603.1 308.1 604.4 305.4 605.8 304.1 608.5 302.2 611.1 303.2 613.8 298.5 616.5 298.8 618.6 295.1 620.8 293.1 623 291.6 625.1 289.1 626.3 291.3 627.5 290 628.8 292.1 630 290.6 632.7 288.6 635.4 286 638 285.9 640.7 282 642.9 281 645 279.2 647.1 278.1 649.3 276.7 652 274.1 654.6 272.6 657.3 269 660 269.1 661.9 267.5 663.8 269.8 665.7 266.6 667.6 268 669.7 263.5 671.9 260.1 674 257.8 676.1 255.2 677.7 256.1 679.4 260.5 681 264.6 682.6 267 683.7 264.6 684.8 262.2 685.8 255.4 686.9 254.1 688.5 253.2 690.1 249.5 691.7 248.6 693.3 247.7 694.6 249.1 696 251.4 697.4 251.7 698.7 252 701.7 253.2 704.6 247.6 707.5 247.9 710.5 247.7 711.3 246 712.1 242.3 712.9 240.8 713.7 241.2 714.9 239.4 716 239.1 717.2 235.9 718.4 236.4 721.4 236.2 724.4 239.2 727.4 242.9 730.4 243.6 732.2 241.5 734 241.1 735.8 236.9 737.6 234 739.1 237.9 740.6 238.5 742.1 240.2 743.6 242.4 745.7 237.2 747.8 230.8 749.9 226 752 223.2 753.8 225.4 755.6 227.9 757.4 225.5 759.2 229.2 761.3 224.7 763.4 222.4 765.5 219.3 767.6 217.2 770 219.9 772.4 218.5 774.8 219.9 777.2 222 779.3 223.1 781.4 226.5 783.5 224.7 785.6 226.8 786.8 223.8 788 217.5 789.2 215.7 790.4 212.4 793.1 215 795.8 212.3 798.5 213.5 801.2 214.8 802.7 217.6 804.2 219.3 805.7 221.4 807.2 223.2 808.7 220.7 810.2 218 811.7 213.4 813.2 211.2 815.3 208.7 817.4 207.1 819.5 205.9 821.6 204 823.9 204.6 826.2 206.3 828.4 204.4 830.7 205.2 833.4 205 836.1 206.7 838.8 207.4 841.5 205.2 843.9 202.1 846.3 202.5 848.7 198.4 851.1 197.7 853 200.4 854.9 198.8 856.7 202.6 858.6 204.2 860.8 203.7 862.9 203.5 865.1 203.7 867.2 201 869.1 200.7 871 198 872.8 196.1 874.7 194.5 876.6 193.3 878.5 196.9 880.3 198 882.2 198.8 884.1 196.7 886 190.8 887.8 189.5 889.7 185.9 890.5 184.9 891.4 189.1 892.2 190.6 893 190.2" fill="none" stroke="#5ae2ff" stroke-width="3" stroke-linejoin="round" stroke-linecap="round"/>
<line x1="537.5" y1="40.6" x2="537.5" y2="595" stroke="#000" stroke-width="2.6"/>
<line x1="537.5" y1="569.1" x2="542.5" y2="569.1" stroke="#000" stroke-width="1.5"/>
<line x1="537.5" y1="543.9" x2="546.5" y2="543.9" stroke="#000" stroke-width="1.5"/>
<text transform="translate(477.43 555.91) scale(0.827 1)" font-size="31.27">102</text>
<line x1="537.5" y1="518.8" x2="542.5" y2="518.8" stroke="#000" stroke-width="1.5"/>
<line x1="537.5" y1="493.6" x2="542.5" y2="493.6" stroke="#000" stroke-width="1.5"/>
<line x1="537.5" y1="468.4" x2="542.5" y2="468.4" stroke="#000" stroke-width="1.5"/>
<line x1="537.5" y1="443.3" x2="546.5" y2="443.3" stroke="#000" stroke-width="1.5"/>
<text transform="translate(477.46 455.25) scale(0.816 1)" font-size="31.27">104</text>
<line x1="537.5" y1="418.1" x2="542.5" y2="418.1" stroke="#000" stroke-width="1.5"/>
<line x1="537.5" y1="392.9" x2="542.5" y2="392.9" stroke="#000" stroke-width="1.5"/>
<line x1="537.5" y1="367.8" x2="542.5" y2="367.8" stroke="#000" stroke-width="1.5"/>
<line x1="537.5" y1="342.6" x2="546.5" y2="342.6" stroke="#000" stroke-width="1.5"/>
<text transform="translate(477.43 354.59) scale(0.827 1)" font-size="31.27">106</text>
<line x1="537.5" y1="317.4" x2="542.5" y2="317.4" stroke="#000" stroke-width="1.5"/>
<line x1="537.5" y1="292.3" x2="542.5" y2="292.3" stroke="#000" stroke-width="1.5"/>
<line x1="537.5" y1="267.1" x2="542.5" y2="267.1" stroke="#000" stroke-width="1.5"/>
<line x1="537.5" y1="241.9" x2="546.5" y2="241.9" stroke="#000" stroke-width="1.5"/>
<text transform="translate(477.43 253.93) scale(0.827 1)" font-size="31.27">108</text>
<line x1="537.5" y1="216.8" x2="542.5" y2="216.8" stroke="#000" stroke-width="1.5"/>
<line x1="537.5" y1="191.6" x2="542.5" y2="191.6" stroke="#000" stroke-width="1.5"/>
<line x1="537.5" y1="166.4" x2="542.5" y2="166.4" stroke="#000" stroke-width="1.5"/>
<line x1="537.5" y1="141.3" x2="546.5" y2="141.3" stroke="#000" stroke-width="1.5"/>
<text transform="translate(477.35 153.27) scale(0.860 1)" font-size="31.27">110</text>
<line x1="537.5" y1="116.1" x2="542.5" y2="116.1" stroke="#000" stroke-width="1.5"/>
<line x1="537.5" y1="91" x2="542.5" y2="91" stroke="#000" stroke-width="1.5"/>
<line x1="537.5" y1="65.8" x2="542.5" y2="65.8" stroke="#000" stroke-width="1.5"/>
<line x1="537.5" y1="40.6" x2="546.5" y2="40.6" stroke="#000" stroke-width="1.5"/>
<text transform="translate(477.33 52.92) scale(0.854 1)" font-size="31.71">112</text>
<line x1="123.6" y1="594" x2="954.6" y2="594" stroke="#000" stroke-width="2.6"/>
<line x1="123.6" y1="594" x2="123.6" y2="586" stroke="#000" stroke-width="1.4"/>
<text transform="translate(105.35 632.10) scale(0.862 1)" font-size="30.14">-30</text>
<line x1="151.2" y1="594" x2="151.2" y2="589.5" stroke="#000" stroke-width="1.4"/>
<line x1="178.9" y1="594" x2="178.9" y2="589.5" stroke="#000" stroke-width="1.4"/>
<line x1="206.6" y1="594" x2="206.6" y2="589.5" stroke="#000" stroke-width="1.4"/>
<line x1="234.2" y1="594" x2="234.2" y2="589.5" stroke="#000" stroke-width="1.4"/>
<line x1="261.9" y1="594" x2="261.9" y2="586" stroke="#000" stroke-width="1.4"/>
<text transform="translate(243.94 632.10) scale(0.848 1)" font-size="30.14">-20</text>
<line x1="289.5" y1="594" x2="289.5" y2="589.5" stroke="#000" stroke-width="1.4"/>
<line x1="317.2" y1="594" x2="317.2" y2="589.5" stroke="#000" stroke-width="1.4"/>
<line x1="344.8" y1="594" x2="344.8" y2="589.5" stroke="#000" stroke-width="1.4"/>
<line x1="372.5" y1="594" x2="372.5" y2="589.5" stroke="#000" stroke-width="1.4"/>
<line x1="400.1" y1="594" x2="400.1" y2="586" stroke="#000" stroke-width="1.4"/>
<text transform="translate(382.21 632.10) scale(0.848 1)" font-size="30.14">-10</text>
<line x1="427.8" y1="594" x2="427.8" y2="589.5" stroke="#000" stroke-width="1.4"/>
<line x1="455.4" y1="594" x2="455.4" y2="589.5" stroke="#000" stroke-width="1.4"/>
<line x1="483.1" y1="594" x2="483.1" y2="589.5" stroke="#000" stroke-width="1.4"/>
<line x1="510.7" y1="594" x2="510.7" y2="589.5" stroke="#000" stroke-width="1.4"/>
<line x1="538.4" y1="594" x2="538.4" y2="586" stroke="#000" stroke-width="1.4"/>
<text transform="translate(531.60 632.10) scale(0.829 1)" font-size="30.14">0</text>
<line x1="566.1" y1="594" x2="566.1" y2="589.5" stroke="#000" stroke-width="1.4"/>
<line x1="593.7" y1="594" x2="593.7" y2="589.5" stroke="#000" stroke-width="1.4"/>
<line x1="621.4" y1="594" x2="621.4" y2="589.5" stroke="#000" stroke-width="1.4"/>
<line x1="649" y1="594" x2="649" y2="589.5" stroke="#000" stroke-width="1.4"/>
<line x1="676.7" y1="594" x2="676.7" y2="586" stroke="#000" stroke-width="1.4"/>
<text transform="translate(662.37 632.10) scale(0.829 1)" font-size="30.14">10</text>
<line x1="704.3" y1="594" x2="704.3" y2="589.5" stroke="#000" stroke-width="1.4"/>
<line x1="732" y1="594" x2="732" y2="589.5" stroke="#000" stroke-width="1.4"/>
<line x1="759.6" y1="594" x2="759.6" y2="589.5" stroke="#000" stroke-width="1.4"/>
<line x1="787.3" y1="594" x2="787.3" y2="589.5" stroke="#000" stroke-width="1.4"/>
<line x1="814.9" y1="594" x2="814.9" y2="586" stroke="#000" stroke-width="1.4"/>
<text transform="translate(800.22 632.10) scale(0.876 1)" font-size="30.14">20</text>
<line x1="842.6" y1="594" x2="842.6" y2="589.5" stroke="#000" stroke-width="1.4"/>
<line x1="870.2" y1="594" x2="870.2" y2="589.5" stroke="#000" stroke-width="1.4"/>
<line x1="897.9" y1="594" x2="897.9" y2="589.5" stroke="#000" stroke-width="1.4"/>
<line x1="925.6" y1="594" x2="925.6" y2="589.5" stroke="#000" stroke-width="1.4"/>
<line x1="953.2" y1="594" x2="953.2" y2="586" stroke="#000" stroke-width="1.4"/>
<text transform="translate(938.87 632.10) scale(0.861 1)" font-size="30.14">30</text>
<text transform="translate(498.95 684.30) scale(0.822 1)" font-size="30.97">V (mV)</text>
<text transform="translate(563.50 29.50) scale(0.805 1)" font-size="31.50"><tspan font-style="italic" y="0.00">g (e</tspan><tspan font-size="19.53" y="-14.00">2</tspan><tspan font-style="italic" y="0.00">/h)</tspan></text>
<text transform="translate(776.48 39.91) scale(0.813 1)" font-size="47.10" font-weight="bold">(a)</text>
<text transform="translate(749.16 352.18) scale(0.822 1)" font-size="31.69" fill="#000000">3 K</text>
<text transform="translate(749.16 388.18) scale(0.810 1)" font-size="32.14" fill="#c80000">5 K</text>
<text transform="translate(749.65 424.08) scale(0.810 1)" font-size="31.69" fill="#e8007a">10 K</text>
<text transform="translate(810.40 345.88) scale(0.820 1)" font-size="31.69" fill="#9010d0">20 K</text>
<text transform="translate(810.87 381.38) scale(0.813 1)" font-size="31.69" fill="#0000c8">30 K</text>
<text transform="translate(810.48 417.38) scale(0.819 1)" font-size="31.69" fill="#2070ff">40 K</text>
<text transform="translate(811.18 453.38) scale(0.796 1)" font-size="32.14" fill="#55dfff">55 K</text>
<line x1="262.5" y1="273.4" x2="262.5" y2="514.4" stroke="#000" stroke-width="2.4"/>
<line x1="262.5" y1="513.2" x2="270.5" y2="513.2" stroke="#000" stroke-width="1.3"/>
<line x1="262.5" y1="501.2" x2="267" y2="501.2" stroke="#000" stroke-width="1.3"/>
<line x1="262.5" y1="489.2" x2="267" y2="489.2" stroke="#000" stroke-width="1.3"/>
<line x1="262.5" y1="477.2" x2="267" y2="477.2" stroke="#000" stroke-width="1.3"/>
<line x1="262.5" y1="465.3" x2="270.5" y2="465.3" stroke="#000" stroke-width="1.3"/>
<line x1="262.5" y1="453.3" x2="267" y2="453.3" stroke="#000" stroke-width="1.3"/>
<line x1="262.5" y1="441.3" x2="267" y2="441.3" stroke="#000" stroke-width="1.3"/>
<line x1="262.5" y1="429.3" x2="267" y2="429.3" stroke="#000" stroke-width="1.3"/>
<line x1="262.5" y1="417.3" x2="270.5" y2="417.3" stroke="#000" stroke-width="1.3"/>
<line x1="262.5" y1="405.3" x2="267" y2="405.3" stroke="#000" stroke-width="1.3"/>
<line x1="262.5" y1="393.4" x2="267" y2="393.4" stroke="#000" stroke-width="1.3"/>
<line x1="262.5" y1="381.4" x2="267" y2="381.4" stroke="#000" stroke-width="1.3"/>
<line x1="262.5" y1="369.4" x2="270.5" y2="369.4" stroke="#000" stroke-width="1.3"/>
<line x1="262.5" y1="357.4" x2="267" y2="357.4" stroke="#000" stroke-width="1.3"/>
<line x1="262.5" y1="345.4" x2="267" y2="345.4" stroke="#000" stroke-width="1.3"/>
<line x1="262.5" y1="333.4" x2="267" y2="333.4" stroke="#000" stroke-width="1.3"/>
<line x1="262.5" y1="321.4" x2="270.5" y2="321.4" stroke="#000" stroke-width="1.3"/>
<line x1="262.5" y1="309.5" x2="267" y2="309.5" stroke="#000" stroke-width="1.3"/>
<line x1="262.5" y1="297.5" x2="267" y2="297.5" stroke="#000" stroke-width="1.3"/>
<line x1="262.5" y1="285.5" x2="267" y2="285.5" stroke="#000" stroke-width="1.3"/>
<line x1="262.5" y1="273.5" x2="270.5" y2="273.5" stroke="#000" stroke-width="1.3"/>
<text transform="translate(232.47 283.55) scale(0.876 1)" font-size="24.65">10</text>
<line x1="114.3" y1="513.2" x2="411" y2="513.2" stroke="#000" stroke-width="2.4"/>
<line x1="114.5" y1="513.2" x2="114.5" y2="506.2" stroke="#000" stroke-width="1.3"/>
<text transform="translate(93.34 545.25) scale(0.868 1)" font-size="24.65">-100</text>
<line x1="129.3" y1="513.2" x2="129.3" y2="509.2" stroke="#000" stroke-width="1.3"/>
<line x1="144.1" y1="513.2" x2="144.1" y2="509.2" stroke="#000" stroke-width="1.3"/>
<line x1="158.9" y1="513.2" x2="158.9" y2="509.2" stroke="#000" stroke-width="1.3"/>
<line x1="173.7" y1="513.2" x2="173.7" y2="509.2" stroke="#000" stroke-width="1.3"/>
<line x1="188.5" y1="513.2" x2="188.5" y2="506.2" stroke="#000" stroke-width="1.3"/>
<text transform="translate(173.16 545.25) scale(0.850 1)" font-size="24.65">-50</text>
<line x1="203.3" y1="513.2" x2="203.3" y2="509.2" stroke="#000" stroke-width="1.3"/>
<line x1="218.1" y1="513.2" x2="218.1" y2="509.2" stroke="#000" stroke-width="1.3"/>
<line x1="232.9" y1="513.2" x2="232.9" y2="509.2" stroke="#000" stroke-width="1.3"/>
<line x1="247.7" y1="513.2" x2="247.7" y2="509.2" stroke="#000" stroke-width="1.3"/>
<line x1="262.5" y1="513.2" x2="262.5" y2="506.2" stroke="#000" stroke-width="1.3"/>
<text transform="translate(256.51 545.25) scale(0.803 1)" font-size="24.65">0</text>
<line x1="277.3" y1="513.2" x2="277.3" y2="509.2" stroke="#000" stroke-width="1.3"/>
<line x1="292.1" y1="513.2" x2="292.1" y2="509.2" stroke="#000" stroke-width="1.3"/>
<line x1="306.9" y1="513.2" x2="306.9" y2="509.2" stroke="#000" stroke-width="1.3"/>
<line x1="321.7" y1="513.2" x2="321.7" y2="509.2" stroke="#000" stroke-width="1.3"/>
<line x1="336.5" y1="513.2" x2="336.5" y2="506.2" stroke="#000" stroke-width="1.3"/>
<text transform="translate(322.90 545.25) scale(0.917 1)" font-size="24.65">50</text>
<line x1="351.3" y1="513.2" x2="351.3" y2="509.2" stroke="#000" stroke-width="1.3"/>
<line x1="366.1" y1="513.2" x2="366.1" y2="509.2" stroke="#000" stroke-width="1.3"/>
<line x1="380.9" y1="513.2" x2="380.9" y2="509.2" stroke="#000" stroke-width="1.3"/>
<line x1="395.7" y1="513.2" x2="395.7" y2="509.2" stroke="#000" stroke-width="1.3"/>
<line x1="410.5" y1="513.2" x2="410.5" y2="506.2" stroke="#000" stroke-width="1.3"/>
<text transform="translate(389.93 545.25) scale(0.898 1)" font-size="24.65">100</text>
<text transform="translate(276.20 277.60) scale(0.941 1)" font-size="22.60"><tspan y="0.00">Δ</tspan><tspan font-style="italic" y="0.00">g (e</tspan><tspan font-size="14.01" y="-10.00">2</tspan><tspan font-style="italic" y="0.00">/h)</tspan></text>
<text transform="translate(230.00 576.30) scale(0.918 1)" font-size="23.50"><tspan font-style="italic" y="0.00">eV/k</tspan><tspan font-style="italic" font-size="14.10" y="10.00">B</tspan><tspan font-style="italic" y="0.00">T</tspan></text>
<path d="M262.5 513.1 260 494.8 257.5 468 255.1 446.6 252.6 434.4 250.1 428.1 247.6 421 245.1 416.1 242.7 412.3 240.2 408.7 237.7 404.9 235.2 400.1 232.7 396.9 230.2 391.9 227.8 389.1 225.3 384.8 222.8 381.8 220.3 379.7 217.8 374.8 215.4 373.9 212.9 371.6 210.4 370.6 207.9 368.6 205.4 364.8 203 363.1 200.5 362.6 198 359.2 195.5 357 193 356.7 190.6 354.4 188.1 352 185.6 350.7 183.1 348.8 180.6 347.1 178.1 345.5 175.7 343 173.2 342.3 170.7 341.9 168.2 340 165.7 339.3 163.3 337.2 160.8 335.9 158.3 334.4 155.8 335.3 153.3 332.5 150.9 331.9 148.4 331.3 145.9 330.4 143.4 329.1 140.9 327.7 138.5 327.5 136 325.7 133.5 325.5 131 322.9 128.5 323.3 126.1 321 123.6 320.6 121.1 319.7 118.6 318.2 116.1 317.7 113.6 317.5" fill="none" stroke="#000000" stroke-width="8" stroke-linejoin="round" stroke-linecap="round"/>
<path d="M252.4 465.4l7.6 7.6m-7.6 0l7.6 -7.6M191.4 359.2l7.6 7.6m-7.6 0l7.6 -7.6M142.2 327.9l7.6 7.6m-7.6 0l7.6 -7.6M232.7 397.6l7.6 7.6m-7.6 0l7.6 -7.6M138.5 330.7l7.6 7.6m-7.6 0l7.6 -7.6M225.5 385.3l7.6 7.6m-7.6 0l7.6 -7.6M125.2 313.9l7.6 7.6m-7.6 0l7.6 -7.6M190.3 351.4l7.6 7.6m-7.6 0l7.6 -7.6M182.2 348.3l7.6 7.6m-7.6 0l7.6 -7.6M196.3 359.6l7.6 7.6m-7.6 0l7.6 -7.6M186.5 346.3l7.6 7.6m-7.6 0l7.6 -7.6M114.5 311.1l7.6 7.6m-7.6 0l7.6 -7.6M137.1 323.8l7.6 7.6m-7.6 0l7.6 -7.6M126.9 315.2l7.6 7.6m-7.6 0l7.6 -7.6M249.8 438.7l7.6 7.6m-7.6 0l7.6 -7.6M210.2 362.9l7.6 7.6m-7.6 0l7.6 -7.6M186 353.1l7.6 7.6m-7.6 0l7.6 -7.6M213.8 369l7.6 7.6m-7.6 0l7.6 -7.6M145.6 328l7.6 7.6m-7.6 0l7.6 -7.6M192.2 354.8l7.6 7.6m-7.6 0l7.6 -7.6M178.3 349l7.6 7.6m-7.6 0l7.6 -7.6M117.2 317.7l7.6 7.6m-7.6 0l7.6 -7.6M150.4 331.3l7.6 7.6m-7.6 0l7.6 -7.6M189.8 351.1l7.6 7.6m-7.6 0l7.6 -7.6M178 341.4l7.6 7.6m-7.6 0l7.6 -7.6M229.2 388.8l7.6 7.6m-7.6 0l7.6 -7.6M143.7 329.7l7.6 7.6m-7.6 0l7.6 -7.6M211.2 366.4l7.6 7.6m-7.6 0l7.6 -7.6M205.2 366.5l7.6 7.6m-7.6 0l7.6 -7.6M198.7 363.3l7.6 7.6m-7.6 0l7.6 -7.6M214.9 372.7l7.6 7.6m-7.6 0l7.6 -7.6M155.2 327.5l7.6 7.6m-7.6 0l7.6 -7.6M202 367.1l7.6 7.6m-7.6 0l7.6 -7.6M169.6 342.4l7.6 7.6m-7.6 0l7.6 -7.6M224.3 389.1l7.6 7.6m-7.6 0l7.6 -7.6M202.1 359l7.6 7.6m-7.6 0l7.6 -7.6M195 350.4l7.6 7.6m-7.6 0l7.6 -7.6M197 359.3l7.6 7.6m-7.6 0l7.6 -7.6M151.1 332.8l7.6 7.6m-7.6 0l7.6 -7.6M237 406.3l7.6 7.6m-7.6 0l7.6 -7.6M164.4 341.9l7.6 7.6m-7.6 0l7.6 -7.6M117.6 312l7.6 7.6m-7.6 0l7.6 -7.6M113.3 320.9l7.6 7.6m-7.6 0l7.6 -7.6M241.1 407.4l7.6 7.6m-7.6 0l7.6 -7.6M238.3 412.3l7.6 7.6m-7.6 0l7.6 -7.6M153.6 326.8l7.6 7.6m-7.6 0l7.6 -7.6M204.3 361.3l7.6 7.6m-7.6 0l7.6 -7.6M184.7 354.4l7.6 7.6m-7.6 0l7.6 -7.6M245.4 422.2l7.6 7.6m-7.6 0l7.6 -7.6M237 401.4l7.6 7.6m-7.6 0l7.6 -7.6M125.2 313.7l7.6 7.6m-7.6 0l7.6 -7.6M188.1 356.2l7.6 7.6m-7.6 0l7.6 -7.6M150.8 335.7l7.6 7.6m-7.6 0l7.6 -7.6M258.5 499.5l7.6 7.6m-7.6 0l7.6 -7.6M135.8 327.7l7.6 7.6m-7.6 0l7.6 -7.6M138.4 319.2l7.6 7.6m-7.6 0l7.6 -7.6M197.9 362.6l7.6 7.6m-7.6 0l7.6 -7.6M110.8 315.3l7.6 7.6m-7.6 0l7.6 -7.6M158.3 332.1l7.6 7.6m-7.6 0l7.6 -7.6M207.5 364.8l7.6 7.6m-7.6 0l7.6 -7.6M204.1 359.8l7.6 7.6m-7.6 0l7.6 -7.6M248.2 426l7.6 7.6m-7.6 0l7.6 -7.6M158.9 335.2l7.6 7.6m-7.6 0l7.6 -7.6M172.9 345.6l7.6 7.6m-7.6 0l7.6 -7.6M135.3 323l7.6 7.6m-7.6 0l7.6 -7.6M141.5 330.6l7.6 7.6m-7.6 0l7.6 -7.6M155.7 337.2l7.6 7.6m-7.6 0l7.6 -7.6M143 320.5l7.6 7.6m-7.6 0l7.6 -7.6M191.6 353.6l7.6 7.6m-7.6 0l7.6 -7.6M171.2 344.2l7.6 7.6m-7.6 0l7.6 -7.6M222.6 382.1l7.6 7.6m-7.6 0l7.6 -7.6M235.1 399.7l7.6 7.6m-7.6 0l7.6 -7.6M215.7 368l7.6 7.6m-7.6 0l7.6 -7.6M249.6 437.5l7.6 7.6m-7.6 0l7.6 -7.6M194.5 357.4l7.6 7.6m-7.6 0l7.6 -7.6M244.4 420.8l7.6 7.6m-7.6 0l7.6 -7.6M118.6 316.9l7.6 7.6m-7.6 0l7.6 -7.6M198.9 358.9l7.6 7.6m-7.6 0l7.6 -7.6M188.3 350.1l7.6 7.6m-7.6 0l7.6 -7.6M249 435.9l7.6 7.6m-7.6 0l7.6 -7.6M202.5 358.4l7.6 7.6m-7.6 0l7.6 -7.6M122.6 320.6l7.6 7.6m-7.6 0l7.6 -7.6M245.7 427.5l7.6 7.6m-7.6 0l7.6 -7.6M223.2 386.6l7.6 7.6m-7.6 0l7.6 -7.6M173.5 339.5l7.6 7.6m-7.6 0l7.6 -7.6M252.9 450.1l7.6 7.6m-7.6 0l7.6 -7.6M166.2 333.9l7.6 7.6m-7.6 0l7.6 -7.6M109.9 319.4l7.6 7.6m-7.6 0l7.6 -7.6M187.7 347.9l7.6 7.6m-7.6 0l7.6 -7.6M233.4 397.9l7.6 7.6m-7.6 0l7.6 -7.6M170.6 339.8l7.6 7.6m-7.6 0l7.6 -7.6M161.4 336.5l7.6 7.6m-7.6 0l7.6 -7.6M197.7 359.4l7.6 7.6m-7.6 0l7.6 -7.6M188 348.4l7.6 7.6m-7.6 0l7.6 -7.6M248.2 439.5l7.6 7.6m-7.6 0l7.6 -7.6M126.8 316.3l7.6 7.6m-7.6 0l7.6 -7.6M134.7 323.2l7.6 7.6m-7.6 0l7.6 -7.6M212.4 378l7.6 7.6m-7.6 0l7.6 -7.6M111.1 312.3l7.6 7.6m-7.6 0l7.6 -7.6M151.3 330.2l7.6 7.6m-7.6 0l7.6 -7.6M241.5 411.3l7.6 7.6m-7.6 0l7.6 -7.6M144.5 321.4l7.6 7.6m-7.6 0l7.6 -7.6M188.5 349.5l7.6 7.6m-7.6 0l7.6 -7.6M116.1 316.2l7.6 7.6m-7.6 0l7.6 -7.6M242.6 415.6l7.6 7.6m-7.6 0l7.6 -7.6M164.4 341.3l7.6 7.6m-7.6 0l7.6 -7.6M192.4 354.5l7.6 7.6m-7.6 0l7.6 -7.6M171.6 335.2l7.6 7.6m-7.6 0l7.6 -7.6M249.3 431.6l7.6 7.6m-7.6 0l7.6 -7.6M175.5 346.5l7.6 7.6m-7.6 0l7.6 -7.6M233.6 406.1l7.6 7.6m-7.6 0l7.6 -7.6M244.9 423.8l7.6 7.6m-7.6 0l7.6 -7.6M174.2 337.3l7.6 7.6m-7.6 0l7.6 -7.6M171.9 345.1l7.6 7.6m-7.6 0l7.6 -7.6M220.6 372.7l7.6 7.6m-7.6 0l7.6 -7.6M167.1 337.2l7.6 7.6m-7.6 0l7.6 -7.6M194.7 351.3l7.6 7.6m-7.6 0l7.6 -7.6M143 328.9l7.6 7.6m-7.6 0l7.6 -7.6M135.9 328.1l7.6 7.6m-7.6 0l7.6 -7.6M205.5 370.6l7.6 7.6m-7.6 0l7.6 -7.6M112.1 310l7.6 7.6m-7.6 0l7.6 -7.6M118 321.2l7.6 7.6m-7.6 0l7.6 -7.6M209.9 366.1l7.6 7.6m-7.6 0l7.6 -7.6M157.3 332.5l7.6 7.6m-7.6 0l7.6 -7.6M243.3 420.7l7.6 7.6m-7.6 0l7.6 -7.6M140.9 323.8l7.6 7.6m-7.6 0l7.6 -7.6M143.7 333l7.6 7.6m-7.6 0l7.6 -7.6M125.9 321.6l7.6 7.6m-7.6 0l7.6 -7.6M200.7 365.6l7.6 7.6m-7.6 0l7.6 -7.6M191.8 348.3l7.6 7.6m-7.6 0l7.6 -7.6M131.5 326.6l7.6 7.6m-7.6 0l7.6 -7.6M154.1 331.8l7.6 7.6m-7.6 0l7.6 -7.6M243.3 419l7.6 7.6m-7.6 0l7.6 -7.6M231.8 399.4l7.6 7.6m-7.6 0l7.6 -7.6M171.4 337.8l7.6 7.6m-7.6 0l7.6 -7.6M176.1 346.3l7.6 7.6m-7.6 0l7.6 -7.6M166.9 331.9l7.6 7.6m-7.6 0l7.6 -7.6M239.1 411.7l7.6 7.6m-7.6 0l7.6 -7.6M162.8 332.7l7.6 7.6m-7.6 0l7.6 -7.6M169.4 342.9l7.6 7.6m-7.6 0l7.6 -7.6M243.7 411.2l7.6 7.6m-7.6 0l7.6 -7.6M153.2 336.5l7.6 7.6m-7.6 0l7.6 -7.6M123 321l7.6 7.6m-7.6 0l7.6 -7.6M124 317.8l7.6 7.6m-7.6 0l7.6 -7.6M146.4 332.2l7.6 7.6m-7.6 0l7.6 -7.6M199.6 352.9l7.6 7.6m-7.6 0l7.6 -7.6M170.9 343.4l7.6 7.6m-7.6 0l7.6 -7.6M114.2 319.2l7.6 7.6m-7.6 0l7.6 -7.6M222.6 389.4l7.6 7.6m-7.6 0l7.6 -7.6M196.3 360.8l7.6 7.6m-7.6 0l7.6 -7.6" stroke="#000000" stroke-width="2" fill="none"/>
<path d="M262.5 514 265 493.6 267.5 467.9 269.9 446.7 272.4 434.4 274.9 426.7 277.4 420.3 279.9 416.4 282.3 412 284.8 408.1 287.3 404.2 289.8 400.7 292.3 396.7 294.8 391.9 297.2 389.4 299.7 386.5 302.2 381.8 304.7 379.1 307.2 376.6 309.6 373.9 312.1 372 314.6 369.2 317.1 368.6 319.6 366.3 322 363.2 324.5 361.2 327 358.6 329.5 357.6 332 356.6 334.4 354.7 336.9 351.7 339.4 350.1 341.9 348.2 344.4 346.7 346.9 344.8 349.3 343 351.8 342.2 354.3 341.8 356.8 340.6 359.3 339 361.7 337.3 364.2 337.4 366.7 334.9 369.2 333.4 371.7 332.7 374.1 332.7 376.6 331.4 379.1 329.5 381.6 328.3 384.1 328.1 386.5 326.8 389 326.4 391.5 324.7 394 323 396.5 321.9 398.9 321.3 401.4 320.8 403.9 320.2 406.4 318.9 408.9 316.8 411.4 317.7" fill="none" stroke="#000000" stroke-width="8" stroke-linejoin="round" stroke-linecap="round"/>
<path d="M327 349l7.6 7.6m-7.6 0l7.6 -7.6M294.1 384.7l7.6 7.6m-7.6 0l7.6 -7.6M393.3 316.5l7.6 7.6m-7.6 0l7.6 -7.6M300.1 367.9l7.6 7.6m-7.6 0l7.6 -7.6M376.4 320.3l7.6 7.6m-7.6 0l7.6 -7.6M270 423.7l7.6 7.6m-7.6 0l7.6 -7.6M296.5 378.6l7.6 7.6m-7.6 0l7.6 -7.6M288.9 395l7.6 7.6m-7.6 0l7.6 -7.6M361.3 326.4l7.6 7.6m-7.6 0l7.6 -7.6M402.9 310.8l7.6 7.6m-7.6 0l7.6 -7.6M330.5 357l7.6 7.6m-7.6 0l7.6 -7.6M258.9 496.2l7.6 7.6m-7.6 0l7.6 -7.6M280.4 402.2l7.6 7.6m-7.6 0l7.6 -7.6M338 338.1l7.6 7.6m-7.6 0l7.6 -7.6M299.6 376.4l7.6 7.6m-7.6 0l7.6 -7.6M388.9 321l7.6 7.6m-7.6 0l7.6 -7.6M299.3 375.7l7.6 7.6m-7.6 0l7.6 -7.6M318.5 356.7l7.6 7.6m-7.6 0l7.6 -7.6M261.2 473.6l7.6 7.6m-7.6 0l7.6 -7.6M291 393.3l7.6 7.6m-7.6 0l7.6 -7.6M367.4 334.1l7.6 7.6m-7.6 0l7.6 -7.6M388.2 322.7l7.6 7.6m-7.6 0l7.6 -7.6M277.9 407.8l7.6 7.6m-7.6 0l7.6 -7.6M297.8 373.5l7.6 7.6m-7.6 0l7.6 -7.6M365.2 336.5l7.6 7.6m-7.6 0l7.6 -7.6M262.3 476.5l7.6 7.6m-7.6 0l7.6 -7.6M336.3 342l7.6 7.6m-7.6 0l7.6 -7.6M271.7 416.2l7.6 7.6m-7.6 0l7.6 -7.6M385.1 316.3l7.6 7.6m-7.6 0l7.6 -7.6M378.9 319l7.6 7.6m-7.6 0l7.6 -7.6M346 335.3l7.6 7.6m-7.6 0l7.6 -7.6M380.8 328l7.6 7.6m-7.6 0l7.6 -7.6M399.3 319l7.6 7.6m-7.6 0l7.6 -7.6M387.3 318.5l7.6 7.6m-7.6 0l7.6 -7.6M329.4 349.5l7.6 7.6m-7.6 0l7.6 -7.6M380.6 328.5l7.6 7.6m-7.6 0l7.6 -7.6M326 352.7l7.6 7.6m-7.6 0l7.6 -7.6M406.7 311.8l7.6 7.6m-7.6 0l7.6 -7.6M349.9 339.3l7.6 7.6m-7.6 0l7.6 -7.6M348.9 332.8l7.6 7.6m-7.6 0l7.6 -7.6M321.4 351.7l7.6 7.6m-7.6 0l7.6 -7.6M373.4 329.1l7.6 7.6m-7.6 0l7.6 -7.6M373.8 326.8l7.6 7.6m-7.6 0l7.6 -7.6M336.1 349.6l7.6 7.6m-7.6 0l7.6 -7.6M300.2 380l7.6 7.6m-7.6 0l7.6 -7.6M383.2 318l7.6 7.6m-7.6 0l7.6 -7.6M361.7 335.5l7.6 7.6m-7.6 0l7.6 -7.6M331.2 355.7l7.6 7.6m-7.6 0l7.6 -7.6M296 374.8l7.6 7.6m-7.6 0l7.6 -7.6M271.6 425.5l7.6 7.6m-7.6 0l7.6 -7.6M292 384l7.6 7.6m-7.6 0l7.6 -7.6M314.5 366.8l7.6 7.6m-7.6 0l7.6 -7.6M327 353.1l7.6 7.6m-7.6 0l7.6 -7.6M358.5 334.8l7.6 7.6m-7.6 0l7.6 -7.6M343.7 336l7.6 7.6m-7.6 0l7.6 -7.6M260.1 484.8l7.6 7.6m-7.6 0l7.6 -7.6M339.1 347l7.6 7.6m-7.6 0l7.6 -7.6M262.4 486.6l7.6 7.6m-7.6 0l7.6 -7.6M402.2 319.4l7.6 7.6m-7.6 0l7.6 -7.6M363.4 331l7.6 7.6m-7.6 0l7.6 -7.6M318.8 357.1l7.6 7.6m-7.6 0l7.6 -7.6M316.5 354l7.6 7.6m-7.6 0l7.6 -7.6M339.2 340.2l7.6 7.6m-7.6 0l7.6 -7.6M382.5 328.5l7.6 7.6m-7.6 0l7.6 -7.6M360.4 332.6l7.6 7.6m-7.6 0l7.6 -7.6M383.8 325.5l7.6 7.6m-7.6 0l7.6 -7.6M319.8 355.6l7.6 7.6m-7.6 0l7.6 -7.6M310.1 361.9l7.6 7.6m-7.6 0l7.6 -7.6M383.3 318.7l7.6 7.6m-7.6 0l7.6 -7.6M323.8 356.2l7.6 7.6m-7.6 0l7.6 -7.6M334.3 343.5l7.6 7.6m-7.6 0l7.6 -7.6M406.9 310.8l7.6 7.6m-7.6 0l7.6 -7.6M311 371l7.6 7.6m-7.6 0l7.6 -7.6M340.2 341.4l7.6 7.6m-7.6 0l7.6 -7.6M340.9 346.6l7.6 7.6m-7.6 0l7.6 -7.6M290.8 389l7.6 7.6m-7.6 0l7.6 -7.6M299 374.8l7.6 7.6m-7.6 0l7.6 -7.6M407.9 310l7.6 7.6m-7.6 0l7.6 -7.6M262 487.1l7.6 7.6m-7.6 0l7.6 -7.6M281 399.5l7.6 7.6m-7.6 0l7.6 -7.6M273 421.4l7.6 7.6m-7.6 0l7.6 -7.6M374.3 320.1l7.6 7.6m-7.6 0l7.6 -7.6M329.7 347.7l7.6 7.6m-7.6 0l7.6 -7.6M346.2 343.8l7.6 7.6m-7.6 0l7.6 -7.6M390 319.2l7.6 7.6m-7.6 0l7.6 -7.6M272 423.3l7.6 7.6m-7.6 0l7.6 -7.6M310.5 368.6l7.6 7.6m-7.6 0l7.6 -7.6M366.9 326.7l7.6 7.6m-7.6 0l7.6 -7.6M279.8 410l7.6 7.6m-7.6 0l7.6 -7.6M401.4 316.2l7.6 7.6m-7.6 0l7.6 -7.6M403.8 320.7l7.6 7.6m-7.6 0l7.6 -7.6M281 409.9l7.6 7.6m-7.6 0l7.6 -7.6M274.9 419.4l7.6 7.6m-7.6 0l7.6 -7.6M293.8 390.8l7.6 7.6m-7.6 0l7.6 -7.6M365.4 328.3l7.6 7.6m-7.6 0l7.6 -7.6M384.1 320.7l7.6 7.6m-7.6 0l7.6 -7.6M332.1 343.7l7.6 7.6m-7.6 0l7.6 -7.6M269.5 422.5l7.6 7.6m-7.6 0l7.6 -7.6M393.9 319.6l7.6 7.6m-7.6 0l7.6 -7.6M323.2 362.2l7.6 7.6m-7.6 0l7.6 -7.6M391.5 320.4l7.6 7.6m-7.6 0l7.6 -7.6M375.6 327.3l7.6 7.6m-7.6 0l7.6 -7.6M327.7 345.3l7.6 7.6m-7.6 0l7.6 -7.6M261.6 481.4l7.6 7.6m-7.6 0l7.6 -7.6M318.7 356.5l7.6 7.6m-7.6 0l7.6 -7.6M404.8 311.5l7.6 7.6m-7.6 0l7.6 -7.6M314.7 360.3l7.6 7.6m-7.6 0l7.6 -7.6M295.3 381.3l7.6 7.6m-7.6 0l7.6 -7.6M359.4 335.3l7.6 7.6m-7.6 0l7.6 -7.6M352.9 339.3l7.6 7.6m-7.6 0l7.6 -7.6M388.6 323.7l7.6 7.6m-7.6 0l7.6 -7.6M324.3 358.5l7.6 7.6m-7.6 0l7.6 -7.6M306.9 373.7l7.6 7.6m-7.6 0l7.6 -7.6M362.8 326.2l7.6 7.6m-7.6 0l7.6 -7.6M379.6 326.7l7.6 7.6m-7.6 0l7.6 -7.6M355.3 338l7.6 7.6m-7.6 0l7.6 -7.6M387.9 315.3l7.6 7.6m-7.6 0l7.6 -7.6M395.7 319.4l7.6 7.6m-7.6 0l7.6 -7.6M371.7 326.3l7.6 7.6m-7.6 0l7.6 -7.6M266 457.3l7.6 7.6m-7.6 0l7.6 -7.6M335.9 351.1l7.6 7.6m-7.6 0l7.6 -7.6M283.6 403.2l7.6 7.6m-7.6 0l7.6 -7.6M346.9 336.8l7.6 7.6m-7.6 0l7.6 -7.6M360.7 331.6l7.6 7.6m-7.6 0l7.6 -7.6M398.4 312l7.6 7.6m-7.6 0l7.6 -7.6M283.7 405.6l7.6 7.6m-7.6 0l7.6 -7.6M396.1 320.2l7.6 7.6m-7.6 0l7.6 -7.6M334 349.6l7.6 7.6m-7.6 0l7.6 -7.6M400.5 314.3l7.6 7.6m-7.6 0l7.6 -7.6M368.2 332.8l7.6 7.6m-7.6 0l7.6 -7.6M282.9 398.9l7.6 7.6m-7.6 0l7.6 -7.6M298.8 370.6l7.6 7.6m-7.6 0l7.6 -7.6M277 416.1l7.6 7.6m-7.6 0l7.6 -7.6M275.9 415.2l7.6 7.6m-7.6 0l7.6 -7.6M373.8 320.7l7.6 7.6m-7.6 0l7.6 -7.6M378.7 318.1l7.6 7.6m-7.6 0l7.6 -7.6M355.2 333.3l7.6 7.6m-7.6 0l7.6 -7.6M378.9 328.6l7.6 7.6m-7.6 0l7.6 -7.6M395.6 319.9l7.6 7.6m-7.6 0l7.6 -7.6M379.9 324.7l7.6 7.6m-7.6 0l7.6 -7.6M390.1 316.2l7.6 7.6m-7.6 0l7.6 -7.6M381.8 323.5l7.6 7.6m-7.6 0l7.6 -7.6M377.9 322.9l7.6 7.6m-7.6 0l7.6 -7.6M387.4 325.7l7.6 7.6m-7.6 0l7.6 -7.6M264.7 444.4l7.6 7.6m-7.6 0l7.6 -7.6M272.3 422.4l7.6 7.6m-7.6 0l7.6 -7.6M265.1 443.3l7.6 7.6m-7.6 0l7.6 -7.6M398.9 320.7l7.6 7.6m-7.6 0l7.6 -7.6M325.8 358.9l7.6 7.6m-7.6 0l7.6 -7.6M292.4 391l7.6 7.6m-7.6 0l7.6 -7.6" stroke="#000000" stroke-width="2" fill="none"/>
<path d="M262.5 513.2 261 505.5 259.5 488.7 258 470.7 256.5 455.8 255.1 443.4 253.6 435.9 252.1 430.9 250.6 425.6 249.1 421.9 247.6 418.9 246.1 415.1 244.6 413.9 243.1 409.7 241.7 407.2 240.2 405.4 238.7 402.2 237.2 401 235.7 397.6 234.2 394.7 232.7 393.5 231.2 390.9 229.8 389.3 228.3 386.2 226.8 384 225.3 382.5 223.8 380.9 222.3 378.2 220.8 376.1 219.3 375.3 217.8 372.3 216.4 371.3 214.9 371.1 213.4 370.1 211.9 368.5 210.4 366 208.9 366.1 207.4 363.5 205.9 363.7 204.4 361.5 203 360.2 201.5 359.4 200 357.6 198.5 357.4 197 356.5 195.5 355.1 194 354.3 192.5 352 191.1 351.1 189.6 351.2 188.1 349.2 186.6 349 185.1 347.5 183.6 345.7 182.1 344.8 180.6 345.1 179.1 344 177.7 342.4 176.2 340.2 174.7 339.1 173.2 340.1" fill="none" stroke="#ff0000" stroke-width="8" stroke-linejoin="round" stroke-linecap="round"/>
<path d="M188 344.8l7.6 7.6m-7.6 0l7.6 -7.6M176.3 343.4l7.6 7.6m-7.6 0l7.6 -7.6M196.8 359.4l7.6 7.6m-7.6 0l7.6 -7.6M243.2 416.6l7.6 7.6m-7.6 0l7.6 -7.6M227.9 392.4l7.6 7.6m-7.6 0l7.6 -7.6M228.3 390.6l7.6 7.6m-7.6 0l7.6 -7.6M175 335.8l7.6 7.6m-7.6 0l7.6 -7.6M225.9 390.8l7.6 7.6m-7.6 0l7.6 -7.6M182.4 344.6l7.6 7.6m-7.6 0l7.6 -7.6M227.1 381.6l7.6 7.6m-7.6 0l7.6 -7.6M206.9 357.8l7.6 7.6m-7.6 0l7.6 -7.6M192.2 351.1l7.6 7.6m-7.6 0l7.6 -7.6M182.7 346.4l7.6 7.6m-7.6 0l7.6 -7.6M251.6 451.8l7.6 7.6m-7.6 0l7.6 -7.6M183.4 350.8l7.6 7.6m-7.6 0l7.6 -7.6M214.3 373.3l7.6 7.6m-7.6 0l7.6 -7.6M177.7 342.3l7.6 7.6m-7.6 0l7.6 -7.6M238.9 407.6l7.6 7.6m-7.6 0l7.6 -7.6M254.9 484.9l7.6 7.6m-7.6 0l7.6 -7.6M236.7 398.6l7.6 7.6m-7.6 0l7.6 -7.6M246.3 419.9l7.6 7.6m-7.6 0l7.6 -7.6M233.3 402.7l7.6 7.6m-7.6 0l7.6 -7.6M207.4 360.5l7.6 7.6m-7.6 0l7.6 -7.6M233.7 393.4l7.6 7.6m-7.6 0l7.6 -7.6M245.1 420.8l7.6 7.6m-7.6 0l7.6 -7.6M175.7 338.9l7.6 7.6m-7.6 0l7.6 -7.6M244.8 408.3l7.6 7.6m-7.6 0l7.6 -7.6M208.1 360.6l7.6 7.6m-7.6 0l7.6 -7.6M211.4 366.2l7.6 7.6m-7.6 0l7.6 -7.6M249.3 432l7.6 7.6m-7.6 0l7.6 -7.6M245.7 419.8l7.6 7.6m-7.6 0l7.6 -7.6M226.9 389.5l7.6 7.6m-7.6 0l7.6 -7.6M210.8 361.2l7.6 7.6m-7.6 0l7.6 -7.6M218.1 379.8l7.6 7.6m-7.6 0l7.6 -7.6M193 352.7l7.6 7.6m-7.6 0l7.6 -7.6M240.9 405l7.6 7.6m-7.6 0l7.6 -7.6M242.6 413.5l7.6 7.6m-7.6 0l7.6 -7.6M174 340.2l7.6 7.6m-7.6 0l7.6 -7.6M224.6 388.9l7.6 7.6m-7.6 0l7.6 -7.6M169 336.6l7.6 7.6m-7.6 0l7.6 -7.6M214.3 370.6l7.6 7.6m-7.6 0l7.6 -7.6M251.6 435.3l7.6 7.6m-7.6 0l7.6 -7.6M201.1 354.4l7.6 7.6m-7.6 0l7.6 -7.6M175.5 338.3l7.6 7.6m-7.6 0l7.6 -7.6M252.7 450.2l7.6 7.6m-7.6 0l7.6 -7.6M240 403.5l7.6 7.6m-7.6 0l7.6 -7.6M234.2 401.4l7.6 7.6m-7.6 0l7.6 -7.6M191.8 348l7.6 7.6m-7.6 0l7.6 -7.6M230.8 390.3l7.6 7.6m-7.6 0l7.6 -7.6M235.1 394.7l7.6 7.6m-7.6 0l7.6 -7.6M221.6 381.3l7.6 7.6m-7.6 0l7.6 -7.6M258.1 502.8l7.6 7.6m-7.6 0l7.6 -7.6M244.8 410l7.6 7.6m-7.6 0l7.6 -7.6M189.5 350.9l7.6 7.6m-7.6 0l7.6 -7.6M212 363.1l7.6 7.6m-7.6 0l7.6 -7.6M221 373.9l7.6 7.6m-7.6 0l7.6 -7.6M221.9 385.2l7.6 7.6m-7.6 0l7.6 -7.6M182.4 350.8l7.6 7.6m-7.6 0l7.6 -7.6M223.1 377.2l7.6 7.6m-7.6 0l7.6 -7.6M250.4 435.5l7.6 7.6m-7.6 0l7.6 -7.6M183.1 340.5l7.6 7.6m-7.6 0l7.6 -7.6M206.4 358.8l7.6 7.6m-7.6 0l7.6 -7.6M231.9 401.3l7.6 7.6m-7.6 0l7.6 -7.6M246 417.2l7.6 7.6m-7.6 0l7.6 -7.6M194 349.1l7.6 7.6m-7.6 0l7.6 -7.6M182 337.8l7.6 7.6m-7.6 0l7.6 -7.6M238.2 404l7.6 7.6m-7.6 0l7.6 -7.6M244.6 416.8l7.6 7.6m-7.6 0l7.6 -7.6M223.3 384.4l7.6 7.6m-7.6 0l7.6 -7.6M226 388.9l7.6 7.6m-7.6 0l7.6 -7.6M195.7 350.5l7.6 7.6m-7.6 0l7.6 -7.6M182.4 349.2l7.6 7.6m-7.6 0l7.6 -7.6M202.9 357.6l7.6 7.6m-7.6 0l7.6 -7.6M182.1 339.7l7.6 7.6m-7.6 0l7.6 -7.6M205.8 357.5l7.6 7.6m-7.6 0l7.6 -7.6M236.3 396.1l7.6 7.6m-7.6 0l7.6 -7.6M180.2 341.7l7.6 7.6m-7.6 0l7.6 -7.6M258.9 508.7l7.6 7.6m-7.6 0l7.6 -7.6M189.6 354.1l7.6 7.6m-7.6 0l7.6 -7.6M220.5 379.6l7.6 7.6m-7.6 0l7.6 -7.6M214.4 369.7l7.6 7.6m-7.6 0l7.6 -7.6M224.9 376.7l7.6 7.6m-7.6 0l7.6 -7.6M194.4 357.9l7.6 7.6m-7.6 0l7.6 -7.6M208.5 359.1l7.6 7.6m-7.6 0l7.6 -7.6M179.3 344.6l7.6 7.6m-7.6 0l7.6 -7.6M247.8 430.5l7.6 7.6m-7.6 0l7.6 -7.6M225 379.5l7.6 7.6m-7.6 0l7.6 -7.6M249.7 433.6l7.6 7.6m-7.6 0l7.6 -7.6M187.5 345.6l7.6 7.6m-7.6 0l7.6 -7.6M174.7 334.7l7.6 7.6m-7.6 0l7.6 -7.6M214.3 372.1l7.6 7.6m-7.6 0l7.6 -7.6M249.4 426.6l7.6 7.6m-7.6 0l7.6 -7.6M257.6 511.2l7.6 7.6m-7.6 0l7.6 -7.6M253.3 465.3l7.6 7.6m-7.6 0l7.6 -7.6M248 424.7l7.6 7.6m-7.6 0l7.6 -7.6M235.7 393.1l7.6 7.6m-7.6 0l7.6 -7.6M242.2 411.6l7.6 7.6m-7.6 0l7.6 -7.6M239 411.2l7.6 7.6m-7.6 0l7.6 -7.6M241.9 413.5l7.6 7.6m-7.6 0l7.6 -7.6M241 405.3l7.6 7.6m-7.6 0l7.6 -7.6M242.1 416.9l7.6 7.6m-7.6 0l7.6 -7.6M211.1 371.9l7.6 7.6m-7.6 0l7.6 -7.6M191.8 349.2l7.6 7.6m-7.6 0l7.6 -7.6M251.7 439.2l7.6 7.6m-7.6 0l7.6 -7.6M207.9 364.9l7.6 7.6m-7.6 0l7.6 -7.6M207.5 369.1l7.6 7.6m-7.6 0l7.6 -7.6M208.1 370.1l7.6 7.6m-7.6 0l7.6 -7.6M192.1 350.8l7.6 7.6m-7.6 0l7.6 -7.6M208.2 366.7l7.6 7.6m-7.6 0l7.6 -7.6M168.2 340.9l7.6 7.6m-7.6 0l7.6 -7.6M171.4 335.4l7.6 7.6m-7.6 0l7.6 -7.6M199.4 355.5l7.6 7.6m-7.6 0l7.6 -7.6M243.8 416.6l7.6 7.6m-7.6 0l7.6 -7.6M232.6 398.1l7.6 7.6m-7.6 0l7.6 -7.6M234.5 391.2l7.6 7.6m-7.6 0l7.6 -7.6M238.2 401.3l7.6 7.6m-7.6 0l7.6 -7.6M183.9 339.8l7.6 7.6m-7.6 0l7.6 -7.6M241.1 406.1l7.6 7.6m-7.6 0l7.6 -7.6M231.1 387.8l7.6 7.6m-7.6 0l7.6 -7.6M190.5 347.1l7.6 7.6m-7.6 0l7.6 -7.6M249.3 433.6l7.6 7.6m-7.6 0l7.6 -7.6M175.4 332.3l7.6 7.6m-7.6 0l7.6 -7.6M214.4 370l7.6 7.6m-7.6 0l7.6 -7.6M221.9 379.1l7.6 7.6m-7.6 0l7.6 -7.6M221.2 376.9l7.6 7.6m-7.6 0l7.6 -7.6M258.4 511.3l7.6 7.6m-7.6 0l7.6 -7.6M199.5 362.3l7.6 7.6m-7.6 0l7.6 -7.6M256.5 476.8l7.6 7.6m-7.6 0l7.6 -7.6M182.6 340.6l7.6 7.6m-7.6 0l7.6 -7.6M236.2 403.6l7.6 7.6m-7.6 0l7.6 -7.6M211.6 373.9l7.6 7.6m-7.6 0l7.6 -7.6M183.4 339.4l7.6 7.6m-7.6 0l7.6 -7.6M223.5 385.9l7.6 7.6m-7.6 0l7.6 -7.6M242.7 420.4l7.6 7.6m-7.6 0l7.6 -7.6M229 394.2l7.6 7.6m-7.6 0l7.6 -7.6M185.9 347.6l7.6 7.6m-7.6 0l7.6 -7.6M185.8 352.6l7.6 7.6m-7.6 0l7.6 -7.6M238.5 410.7l7.6 7.6m-7.6 0l7.6 -7.6M170.9 337.4l7.6 7.6m-7.6 0l7.6 -7.6M250.8 432.4l7.6 7.6m-7.6 0l7.6 -7.6M210.1 361.3l7.6 7.6m-7.6 0l7.6 -7.6M211 368.6l7.6 7.6m-7.6 0l7.6 -7.6M247.5 426.2l7.6 7.6m-7.6 0l7.6 -7.6M228.1 382.2l7.6 7.6m-7.6 0l7.6 -7.6M224 375.7l7.6 7.6m-7.6 0l7.6 -7.6M222 378.1l7.6 7.6m-7.6 0l7.6 -7.6M227.9 388.2l7.6 7.6m-7.6 0l7.6 -7.6M251.1 437.2l7.6 7.6m-7.6 0l7.6 -7.6M230.3 396.2l7.6 7.6m-7.6 0l7.6 -7.6M174.1 337l7.6 7.6m-7.6 0l7.6 -7.6" stroke="#ff0000" stroke-width="2" fill="none"/>
<path d="M262.5 512.9 264 505.6 265.5 486.9 267 470 268.5 454.8 269.9 444.1 271.4 436.9 272.9 429.7 274.4 426.6 275.9 422.2 277.4 419.1 278.9 416.6 280.4 413.5 281.9 409.9 283.3 408.6 284.8 404.2 286.3 403.7 287.8 400.1 289.3 397.4 290.8 396.3 292.3 393.1 293.8 390.8 295.2 388.6 296.7 386.8 298.2 384.4 299.7 382.9 301.2 380.7 302.7 378.3 304.2 375.7 305.7 374 307.2 373.3 308.6 372 310.1 371.2 311.6 368.5 313.1 368.8 314.6 367.5 316.1 365.2 317.6 365.2 319.1 364.1 320.6 362.6 322 360.8 323.5 360.3 325 357.6 326.5 356.4 328 355.2 329.5 355.1 331 354.6 332.5 352 333.9 350.9 335.4 351.3 336.9 350.3 338.4 347.7 339.9 346.5 341.4 345.9 342.9 344.9 344.4 343.3 345.9 342.5 347.3 342.9 348.8 340.3 350.3 340 351.8 339.6" fill="none" stroke="#ff0000" stroke-width="8" stroke-linejoin="round" stroke-linecap="round"/>
<path d="M321.9 348.7l7.6 7.6m-7.6 0l7.6 -7.6M296.3 377.2l7.6 7.6m-7.6 0l7.6 -7.6M284.7 401.4l7.6 7.6m-7.6 0l7.6 -7.6M258.6 509.9l7.6 7.6m-7.6 0l7.6 -7.6M304.2 363.5l7.6 7.6m-7.6 0l7.6 -7.6M345.6 339.6l7.6 7.6m-7.6 0l7.6 -7.6M281.3 406l7.6 7.6m-7.6 0l7.6 -7.6M325.7 348.4l7.6 7.6m-7.6 0l7.6 -7.6M335.2 340.4l7.6 7.6m-7.6 0l7.6 -7.6M277 411.6l7.6 7.6m-7.6 0l7.6 -7.6M287.7 384.8l7.6 7.6m-7.6 0l7.6 -7.6M330.6 343.8l7.6 7.6m-7.6 0l7.6 -7.6M329.8 351.9l7.6 7.6m-7.6 0l7.6 -7.6M321.5 352.2l7.6 7.6m-7.6 0l7.6 -7.6M337.5 336.8l7.6 7.6m-7.6 0l7.6 -7.6M336 349.6l7.6 7.6m-7.6 0l7.6 -7.6M314.7 360.1l7.6 7.6m-7.6 0l7.6 -7.6M264.9 451.3l7.6 7.6m-7.6 0l7.6 -7.6M293.3 379.8l7.6 7.6m-7.6 0l7.6 -7.6M305.1 362.2l7.6 7.6m-7.6 0l7.6 -7.6M338 345l7.6 7.6m-7.6 0l7.6 -7.6M288.5 385.5l7.6 7.6m-7.6 0l7.6 -7.6M278.2 407.4l7.6 7.6m-7.6 0l7.6 -7.6M318.4 358.7l7.6 7.6m-7.6 0l7.6 -7.6M312.7 361.6l7.6 7.6m-7.6 0l7.6 -7.6M264.3 457.6l7.6 7.6m-7.6 0l7.6 -7.6M312.7 365.2l7.6 7.6m-7.6 0l7.6 -7.6M308.8 361.5l7.6 7.6m-7.6 0l7.6 -7.6M299.2 372.6l7.6 7.6m-7.6 0l7.6 -7.6M345.2 340.4l7.6 7.6m-7.6 0l7.6 -7.6M339.5 336.5l7.6 7.6m-7.6 0l7.6 -7.6M347.2 334.9l7.6 7.6m-7.6 0l7.6 -7.6M265 459.8l7.6 7.6m-7.6 0l7.6 -7.6M305.3 369.3l7.6 7.6m-7.6 0l7.6 -7.6M275.2 407.5l7.6 7.6m-7.6 0l7.6 -7.6M306.2 367.8l7.6 7.6m-7.6 0l7.6 -7.6M272.7 411.2l7.6 7.6m-7.6 0l7.6 -7.6M305.7 370.2l7.6 7.6m-7.6 0l7.6 -7.6M334.2 337.9l7.6 7.6m-7.6 0l7.6 -7.6M306.5 363.6l7.6 7.6m-7.6 0l7.6 -7.6M322.8 357.2l7.6 7.6m-7.6 0l7.6 -7.6M295.8 373.6l7.6 7.6m-7.6 0l7.6 -7.6M264.8 449.8l7.6 7.6m-7.6 0l7.6 -7.6M315 356.5l7.6 7.6m-7.6 0l7.6 -7.6M345.1 335.5l7.6 7.6m-7.6 0l7.6 -7.6M292.5 378l7.6 7.6m-7.6 0l7.6 -7.6M344.3 341l7.6 7.6m-7.6 0l7.6 -7.6M295.7 379.9l7.6 7.6m-7.6 0l7.6 -7.6M281.9 407.8l7.6 7.6m-7.6 0l7.6 -7.6M344.3 334.6l7.6 7.6m-7.6 0l7.6 -7.6M335.6 344.6l7.6 7.6m-7.6 0l7.6 -7.6M321.6 353l7.6 7.6m-7.6 0l7.6 -7.6M264.8 446.3l7.6 7.6m-7.6 0l7.6 -7.6M323.6 349.1l7.6 7.6m-7.6 0l7.6 -7.6M286.3 401.2l7.6 7.6m-7.6 0l7.6 -7.6M317.4 357.3l7.6 7.6m-7.6 0l7.6 -7.6M334.7 341.4l7.6 7.6m-7.6 0l7.6 -7.6M339.6 337.2l7.6 7.6m-7.6 0l7.6 -7.6M304.1 367.7l7.6 7.6m-7.6 0l7.6 -7.6M269.1 431.3l7.6 7.6m-7.6 0l7.6 -7.6M270 424.3l7.6 7.6m-7.6 0l7.6 -7.6M297.6 382.8l7.6 7.6m-7.6 0l7.6 -7.6M346.6 335.2l7.6 7.6m-7.6 0l7.6 -7.6M291 378.8l7.6 7.6m-7.6 0l7.6 -7.6M303.4 369.2l7.6 7.6m-7.6 0l7.6 -7.6M277.7 412.5l7.6 7.6m-7.6 0l7.6 -7.6M301.5 370.5l7.6 7.6m-7.6 0l7.6 -7.6M271.4 421l7.6 7.6m-7.6 0l7.6 -7.6M318.7 355.9l7.6 7.6m-7.6 0l7.6 -7.6M290.3 392l7.6 7.6m-7.6 0l7.6 -7.6M276.7 413.8l7.6 7.6m-7.6 0l7.6 -7.6M333.1 348.4l7.6 7.6m-7.6 0l7.6 -7.6M285.2 390.7l7.6 7.6m-7.6 0l7.6 -7.6M342.7 341.2l7.6 7.6m-7.6 0l7.6 -7.6M338.6 346.1l7.6 7.6m-7.6 0l7.6 -7.6M333.6 350.7l7.6 7.6m-7.6 0l7.6 -7.6M279.8 404.3l7.6 7.6m-7.6 0l7.6 -7.6M332 340.2l7.6 7.6m-7.6 0l7.6 -7.6M296.2 372l7.6 7.6m-7.6 0l7.6 -7.6M273.8 413.3l7.6 7.6m-7.6 0l7.6 -7.6M329 349.3l7.6 7.6m-7.6 0l7.6 -7.6M282 394.1l7.6 7.6m-7.6 0l7.6 -7.6M324.3 353.7l7.6 7.6m-7.6 0l7.6 -7.6M320.4 357.4l7.6 7.6m-7.6 0l7.6 -7.6M318.4 359.4l7.6 7.6m-7.6 0l7.6 -7.6M305.9 362.6l7.6 7.6m-7.6 0l7.6 -7.6M264.3 457.6l7.6 7.6m-7.6 0l7.6 -7.6M346.1 335.6l7.6 7.6m-7.6 0l7.6 -7.6M289.6 384.2l7.6 7.6m-7.6 0l7.6 -7.6M343.8 343.2l7.6 7.6m-7.6 0l7.6 -7.6M346.2 340.3l7.6 7.6m-7.6 0l7.6 -7.6M337.4 347.9l7.6 7.6m-7.6 0l7.6 -7.6M292.5 387.1l7.6 7.6m-7.6 0l7.6 -7.6M272.2 420.5l7.6 7.6m-7.6 0l7.6 -7.6M260.7 500.8l7.6 7.6m-7.6 0l7.6 -7.6M297.2 382.7l7.6 7.6m-7.6 0l7.6 -7.6M261.2 497.8l7.6 7.6m-7.6 0l7.6 -7.6M292.3 383.4l7.6 7.6m-7.6 0l7.6 -7.6M259.8 501l7.6 7.6m-7.6 0l7.6 -7.6M278.1 411.2l7.6 7.6m-7.6 0l7.6 -7.6M301 368.2l7.6 7.6m-7.6 0l7.6 -7.6M259.4 501.9l7.6 7.6m-7.6 0l7.6 -7.6M313.9 358.9l7.6 7.6m-7.6 0l7.6 -7.6M305.7 362l7.6 7.6m-7.6 0l7.6 -7.6M337.1 347.6l7.6 7.6m-7.6 0l7.6 -7.6M332.4 352.6l7.6 7.6m-7.6 0l7.6 -7.6M265.7 441.9l7.6 7.6m-7.6 0l7.6 -7.6M288.8 394.4l7.6 7.6m-7.6 0l7.6 -7.6M276.3 413.5l7.6 7.6m-7.6 0l7.6 -7.6M287 392.9l7.6 7.6m-7.6 0l7.6 -7.6M285.1 389.4l7.6 7.6m-7.6 0l7.6 -7.6M310.1 363.5l7.6 7.6m-7.6 0l7.6 -7.6M292 385.9l7.6 7.6m-7.6 0l7.6 -7.6M300.1 374.2l7.6 7.6m-7.6 0l7.6 -7.6M331.2 343.5l7.6 7.6m-7.6 0l7.6 -7.6M315.8 362.7l7.6 7.6m-7.6 0l7.6 -7.6M269.9 421.4l7.6 7.6m-7.6 0l7.6 -7.6M272.2 421.2l7.6 7.6m-7.6 0l7.6 -7.6M293.8 385.6l7.6 7.6m-7.6 0l7.6 -7.6M307.7 368.1l7.6 7.6m-7.6 0l7.6 -7.6M297 371.8l7.6 7.6m-7.6 0l7.6 -7.6M317.5 363.1l7.6 7.6m-7.6 0l7.6 -7.6M284.1 397l7.6 7.6m-7.6 0l7.6 -7.6M272.2 418.8l7.6 7.6m-7.6 0l7.6 -7.6M318.4 352.9l7.6 7.6m-7.6 0l7.6 -7.6M272.9 419.3l7.6 7.6m-7.6 0l7.6 -7.6M339.1 339.3l7.6 7.6m-7.6 0l7.6 -7.6M330.4 350.8l7.6 7.6m-7.6 0l7.6 -7.6M265.4 452.2l7.6 7.6m-7.6 0l7.6 -7.6M317.3 350.1l7.6 7.6m-7.6 0l7.6 -7.6M260.1 482l7.6 7.6m-7.6 0l7.6 -7.6M335.8 338.3l7.6 7.6m-7.6 0l7.6 -7.6M347.7 337.8l7.6 7.6m-7.6 0l7.6 -7.6M317.4 361.5l7.6 7.6m-7.6 0l7.6 -7.6M344.8 335.4l7.6 7.6m-7.6 0l7.6 -7.6M297.5 378.4l7.6 7.6m-7.6 0l7.6 -7.6M266.3 433.8l7.6 7.6m-7.6 0l7.6 -7.6M272.7 420.1l7.6 7.6m-7.6 0l7.6 -7.6M276.3 409.7l7.6 7.6m-7.6 0l7.6 -7.6M274.5 416.2l7.6 7.6m-7.6 0l7.6 -7.6M288.8 391.7l7.6 7.6m-7.6 0l7.6 -7.6M318.4 356.9l7.6 7.6m-7.6 0l7.6 -7.6M261.6 479.8l7.6 7.6m-7.6 0l7.6 -7.6M313 355.4l7.6 7.6m-7.6 0l7.6 -7.6M267.5 432l7.6 7.6m-7.6 0l7.6 -7.6M341.7 339.8l7.6 7.6m-7.6 0l7.6 -7.6M339.9 345.3l7.6 7.6m-7.6 0l7.6 -7.6M315.3 362.1l7.6 7.6m-7.6 0l7.6 -7.6M274.6 412.7l7.6 7.6m-7.6 0l7.6 -7.6M269.6 425.8l7.6 7.6m-7.6 0l7.6 -7.6" stroke="#ff0000" stroke-width="2" fill="none"/>
<path d="M262.5 512.9 261.8 509.1 261 504 260.3 495.1 259.5 487 258.8 478.6 258 470.9 257.3 462.4 256.5 455.3 255.8 448 255.1 443.6 254.3 438.5 253.6 435.8 252.8 431.7 252.1 428.6 251.3 427.3 250.6 424.7 249.8 423.2 249.1 420.2 248.4 420 247.6 417 246.9 416.8 246.1 413.5 245.4 412.8 244.6 411.8 243.9 410.3 243.1 408.6 242.4 408.8 241.7 406.7 240.9 406.1 240.2 404 239.4 403.3 238.7 401.8 237.9 399.6 237.2 399.5 236.5 398.4 235.7 397.1 235 395.5 234.2 393.4 233.5 393.7 232.7 392.9 232 390 231.2 389 230.5 388.7 229.8 388.3 229 386.7 228.3 386.4 227.5 385.5 226.8 383.9 226 382.9 225.3 382 224.5 380.4 223.8 379 223.1 379.4 222.3 377.1 221.6 377.2 220.8 375.6 220.1 375 219.3 374 218.6 373.2 217.8 372.2" fill="none" stroke="#f01490" stroke-width="8" stroke-linejoin="round" stroke-linecap="round"/>
<path d="M245.1 418.8l7.6 7.6m-7.6 0l7.6 -7.6M229.1 396.2l7.6 7.6m-7.6 0l7.6 -7.6M222.7 377.4l7.6 7.6m-7.6 0l7.6 -7.6M222.8 377.4l7.6 7.6m-7.6 0l7.6 -7.6M219.7 375.7l7.6 7.6m-7.6 0l7.6 -7.6M221.9 375.4l7.6 7.6m-7.6 0l7.6 -7.6M223.6 385l7.6 7.6m-7.6 0l7.6 -7.6M244.5 414.7l7.6 7.6m-7.6 0l7.6 -7.6M226.2 382.4l7.6 7.6m-7.6 0l7.6 -7.6M222.4 383.6l7.6 7.6m-7.6 0l7.6 -7.6M230.6 389.6l7.6 7.6m-7.6 0l7.6 -7.6M248.8 429.9l7.6 7.6m-7.6 0l7.6 -7.6M233.9 388.4l7.6 7.6m-7.6 0l7.6 -7.6M216.1 374.2l7.6 7.6m-7.6 0l7.6 -7.6M221.3 380.8l7.6 7.6m-7.6 0l7.6 -7.6M225 388.9l7.6 7.6m-7.6 0l7.6 -7.6M217.8 379.5l7.6 7.6m-7.6 0l7.6 -7.6M242.8 403.4l7.6 7.6m-7.6 0l7.6 -7.6M221.1 374.4l7.6 7.6m-7.6 0l7.6 -7.6M237.7 399.8l7.6 7.6m-7.6 0l7.6 -7.6M239.5 408.1l7.6 7.6m-7.6 0l7.6 -7.6M248.9 426.4l7.6 7.6m-7.6 0l7.6 -7.6M249.2 427.3l7.6 7.6m-7.6 0l7.6 -7.6M251 435.8l7.6 7.6m-7.6 0l7.6 -7.6M225.1 381.1l7.6 7.6m-7.6 0l7.6 -7.6M216 365.9l7.6 7.6m-7.6 0l7.6 -7.6M220.6 376.1l7.6 7.6m-7.6 0l7.6 -7.6M252.2 448.4l7.6 7.6m-7.6 0l7.6 -7.6M217.8 378l7.6 7.6m-7.6 0l7.6 -7.6M214.6 365.1l7.6 7.6m-7.6 0l7.6 -7.6M221.9 378.8l7.6 7.6m-7.6 0l7.6 -7.6M229.2 393.7l7.6 7.6m-7.6 0l7.6 -7.6M256.8 496.8l7.6 7.6m-7.6 0l7.6 -7.6M248.6 415.7l7.6 7.6m-7.6 0l7.6 -7.6M233.6 400.1l7.6 7.6m-7.6 0l7.6 -7.6M252.1 440.4l7.6 7.6m-7.6 0l7.6 -7.6M214.4 370.2l7.6 7.6m-7.6 0l7.6 -7.6M218.1 372.2l7.6 7.6m-7.6 0l7.6 -7.6M218.4 376l7.6 7.6m-7.6 0l7.6 -7.6M240 404.7l7.6 7.6m-7.6 0l7.6 -7.6M214 364.5l7.6 7.6m-7.6 0l7.6 -7.6M231.6 396.8l7.6 7.6m-7.6 0l7.6 -7.6M232.6 390.5l7.6 7.6m-7.6 0l7.6 -7.6M236.5 394.8l7.6 7.6m-7.6 0l7.6 -7.6M227.1 380l7.6 7.6m-7.6 0l7.6 -7.6M243.5 415.5l7.6 7.6m-7.6 0l7.6 -7.6M228.8 385.3l7.6 7.6m-7.6 0l7.6 -7.6M244.5 415.2l7.6 7.6m-7.6 0l7.6 -7.6M245.3 416.7l7.6 7.6m-7.6 0l7.6 -7.6M250.8 444.1l7.6 7.6m-7.6 0l7.6 -7.6M230.8 389.3l7.6 7.6m-7.6 0l7.6 -7.6M233.2 391.8l7.6 7.6m-7.6 0l7.6 -7.6M222.3 374.8l7.6 7.6m-7.6 0l7.6 -7.6M252.7 446.3l7.6 7.6m-7.6 0l7.6 -7.6M222.1 373.7l7.6 7.6m-7.6 0l7.6 -7.6M224.4 382l7.6 7.6m-7.6 0l7.6 -7.6M213.3 366.9l7.6 7.6m-7.6 0l7.6 -7.6M239.7 408.8l7.6 7.6m-7.6 0l7.6 -7.6M220.4 371.1l7.6 7.6m-7.6 0l7.6 -7.6M247.6 420.9l7.6 7.6m-7.6 0l7.6 -7.6M255.9 494.8l7.6 7.6m-7.6 0l7.6 -7.6M243.4 413.1l7.6 7.6m-7.6 0l7.6 -7.6M254.9 459l7.6 7.6m-7.6 0l7.6 -7.6M237.8 401.9l7.6 7.6m-7.6 0l7.6 -7.6M216.5 372.4l7.6 7.6m-7.6 0l7.6 -7.6M250.4 445.5l7.6 7.6m-7.6 0l7.6 -7.6M244.5 413.1l7.6 7.6m-7.6 0l7.6 -7.6M255.8 492.7l7.6 7.6m-7.6 0l7.6 -7.6M232.7 392l7.6 7.6m-7.6 0l7.6 -7.6M245.1 421.9l7.6 7.6m-7.6 0l7.6 -7.6M219.9 377.5l7.6 7.6m-7.6 0l7.6 -7.6M252.9 460.9l7.6 7.6m-7.6 0l7.6 -7.6M250.3 425.4l7.6 7.6m-7.6 0l7.6 -7.6M221.6 375.9l7.6 7.6m-7.6 0l7.6 -7.6M214.5 375l7.6 7.6m-7.6 0l7.6 -7.6M244.9 413.1l7.6 7.6m-7.6 0l7.6 -7.6M255.8 487.5l7.6 7.6m-7.6 0l7.6 -7.6M243.2 420.7l7.6 7.6m-7.6 0l7.6 -7.6M221.5 372.6l7.6 7.6m-7.6 0l7.6 -7.6M252 440.6l7.6 7.6m-7.6 0l7.6 -7.6M245.3 422.8l7.6 7.6m-7.6 0l7.6 -7.6M228 393.8l7.6 7.6m-7.6 0l7.6 -7.6M232.6 394.8l7.6 7.6m-7.6 0l7.6 -7.6M237.9 402.1l7.6 7.6m-7.6 0l7.6 -7.6M257 480.7l7.6 7.6m-7.6 0l7.6 -7.6M255 487.8l7.6 7.6m-7.6 0l7.6 -7.6M226.8 383l7.6 7.6m-7.6 0l7.6 -7.6M216.9 370.4l7.6 7.6m-7.6 0l7.6 -7.6M219.1 374.3l7.6 7.6m-7.6 0l7.6 -7.6M255.4 479.6l7.6 7.6m-7.6 0l7.6 -7.6M220.1 378.5l7.6 7.6m-7.6 0l7.6 -7.6M223.4 373.7l7.6 7.6m-7.6 0l7.6 -7.6M253.5 445.3l7.6 7.6m-7.6 0l7.6 -7.6M240.5 402.5l7.6 7.6m-7.6 0l7.6 -7.6M252.3 447.6l7.6 7.6m-7.6 0l7.6 -7.6M215.7 373.5l7.6 7.6m-7.6 0l7.6 -7.6M253.4 456.7l7.6 7.6m-7.6 0l7.6 -7.6M239.8 405.6l7.6 7.6m-7.6 0l7.6 -7.6M223 377.9l7.6 7.6m-7.6 0l7.6 -7.6M225.3 382.6l7.6 7.6m-7.6 0l7.6 -7.6M231.2 390.7l7.6 7.6m-7.6 0l7.6 -7.6M238.4 399.7l7.6 7.6m-7.6 0l7.6 -7.6M229.6 397.2l7.6 7.6m-7.6 0l7.6 -7.6M257.6 491.1l7.6 7.6m-7.6 0l7.6 -7.6M227.8 386.4l7.6 7.6m-7.6 0l7.6 -7.6M256.6 498.2l7.6 7.6m-7.6 0l7.6 -7.6M258.1 503.6l7.6 7.6m-7.6 0l7.6 -7.6M219.4 369.3l7.6 7.6m-7.6 0l7.6 -7.6M249.1 424.3l7.6 7.6m-7.6 0l7.6 -7.6M240.7 406.1l7.6 7.6m-7.6 0l7.6 -7.6M252.7 443.9l7.6 7.6m-7.6 0l7.6 -7.6M251.3 444.5l7.6 7.6m-7.6 0l7.6 -7.6M217.9 368l7.6 7.6m-7.6 0l7.6 -7.6M216.3 376.8l7.6 7.6m-7.6 0l7.6 -7.6M223.4 379.7l7.6 7.6m-7.6 0l7.6 -7.6M258.4 505.9l7.6 7.6m-7.6 0l7.6 -7.6M242.8 411.3l7.6 7.6m-7.6 0l7.6 -7.6M217.4 375.8l7.6 7.6m-7.6 0l7.6 -7.6M253.9 466.5l7.6 7.6m-7.6 0l7.6 -7.6M225 380.4l7.6 7.6m-7.6 0l7.6 -7.6M253 453.4l7.6 7.6m-7.6 0l7.6 -7.6M224.3 387.4l7.6 7.6m-7.6 0l7.6 -7.6M220.3 378.4l7.6 7.6m-7.6 0l7.6 -7.6M213.3 366.3l7.6 7.6m-7.6 0l7.6 -7.6M238.7 407l7.6 7.6m-7.6 0l7.6 -7.6M238.7 398.8l7.6 7.6m-7.6 0l7.6 -7.6M256.5 490.9l7.6 7.6m-7.6 0l7.6 -7.6M246.9 420.5l7.6 7.6m-7.6 0l7.6 -7.6M250.6 431.3l7.6 7.6m-7.6 0l7.6 -7.6M238.9 397.8l7.6 7.6m-7.6 0l7.6 -7.6M231.4 396.1l7.6 7.6m-7.6 0l7.6 -7.6M213.4 362.1l7.6 7.6m-7.6 0l7.6 -7.6M229.9 394.7l7.6 7.6m-7.6 0l7.6 -7.6M233.1 386.9l7.6 7.6m-7.6 0l7.6 -7.6M236.8 398.3l7.6 7.6m-7.6 0l7.6 -7.6M256.8 479.4l7.6 7.6m-7.6 0l7.6 -7.6M223.9 384.1l7.6 7.6m-7.6 0l7.6 -7.6M246 416.3l7.6 7.6m-7.6 0l7.6 -7.6M217.5 376.8l7.6 7.6m-7.6 0l7.6 -7.6M215.7 368.6l7.6 7.6m-7.6 0l7.6 -7.6M259.6 510.2l7.6 7.6m-7.6 0l7.6 -7.6M251.7 445.7l7.6 7.6m-7.6 0l7.6 -7.6M218.8 370.1l7.6 7.6m-7.6 0l7.6 -7.6M246 418.2l7.6 7.6m-7.6 0l7.6 -7.6M247.6 415.7l7.6 7.6m-7.6 0l7.6 -7.6M217.6 376.6l7.6 7.6m-7.6 0l7.6 -7.6M246.1 424.3l7.6 7.6m-7.6 0l7.6 -7.6M252.5 457.2l7.6 7.6m-7.6 0l7.6 -7.6M248.7 424.4l7.6 7.6m-7.6 0l7.6 -7.6M251.5 440.2l7.6 7.6m-7.6 0l7.6 -7.6" stroke="#f01490" stroke-width="2" fill="none"/>
<path d="M262.5 513.1 263.2 508.9 264 504.9 264.7 496.1 265.5 488.3 266.2 479.7 267 471.1 267.7 462.3 268.5 453.9 269.2 448.6 269.9 442.9 270.7 437.6 271.4 435.7 272.2 432.4 272.9 430.3 273.7 426 274.4 425.1 275.2 422.4 275.9 420 276.6 418 277.4 416.9 278.1 415.2 278.9 414.2 279.6 412.3 280.4 410.9 281.1 410 281.9 409.7 282.6 407.9 283.3 407 284.1 406.1 284.8 403.9 285.6 402.9 286.3 400.9 287.1 400 287.8 399.6 288.5 398.5 289.3 396 290 394.9 290.8 394.2 291.5 393 292.3 392.1 293 391.6 293.8 389.4 294.5 388 295.2 387 296 386.4 296.7 385.5 297.5 384 298.2 384.4 299 382.4 299.7 381.2 300.5 380.2 301.2 380.4 301.9 378.9 302.7 378.2 303.4 375.8 304.2 374.9 304.9 374.3 305.7 373.4 306.4 371.7 307.2 371" fill="none" stroke="#f01490" stroke-width="8" stroke-linejoin="round" stroke-linecap="round"/>
<path d="M261 472.5l7.6 7.6m-7.6 0l7.6 -7.6M269 425.2l7.6 7.6m-7.6 0l7.6 -7.6M303.5 367.5l7.6 7.6m-7.6 0l7.6 -7.6M274.8 411.2l7.6 7.6m-7.6 0l7.6 -7.6M279.5 402.4l7.6 7.6m-7.6 0l7.6 -7.6M267.7 424.5l7.6 7.6m-7.6 0l7.6 -7.6M272 416.9l7.6 7.6m-7.6 0l7.6 -7.6M286.7 391.8l7.6 7.6m-7.6 0l7.6 -7.6M271.9 409.8l7.6 7.6m-7.6 0l7.6 -7.6M300.1 369.8l7.6 7.6m-7.6 0l7.6 -7.6M261.3 490.9l7.6 7.6m-7.6 0l7.6 -7.6M281.7 404.1l7.6 7.6m-7.6 0l7.6 -7.6M296.3 371.8l7.6 7.6m-7.6 0l7.6 -7.6M263.5 455.4l7.6 7.6m-7.6 0l7.6 -7.6M266.3 430.5l7.6 7.6m-7.6 0l7.6 -7.6M276.4 410.6l7.6 7.6m-7.6 0l7.6 -7.6M262.3 470.7l7.6 7.6m-7.6 0l7.6 -7.6M276.6 408.8l7.6 7.6m-7.6 0l7.6 -7.6M286.3 387.4l7.6 7.6m-7.6 0l7.6 -7.6M301.9 373.1l7.6 7.6m-7.6 0l7.6 -7.6M267.5 434.6l7.6 7.6m-7.6 0l7.6 -7.6M273.1 420l7.6 7.6m-7.6 0l7.6 -7.6M282.4 400.7l7.6 7.6m-7.6 0l7.6 -7.6M299.1 378.6l7.6 7.6m-7.6 0l7.6 -7.6M291.4 379.3l7.6 7.6m-7.6 0l7.6 -7.6M270 424.5l7.6 7.6m-7.6 0l7.6 -7.6M275.4 402.3l7.6 7.6m-7.6 0l7.6 -7.6M299.4 376.6l7.6 7.6m-7.6 0l7.6 -7.6M299.8 375l7.6 7.6m-7.6 0l7.6 -7.6M297.8 379.4l7.6 7.6m-7.6 0l7.6 -7.6M293.6 379.4l7.6 7.6m-7.6 0l7.6 -7.6M277.8 409.7l7.6 7.6m-7.6 0l7.6 -7.6M278.1 402.1l7.6 7.6m-7.6 0l7.6 -7.6M266 430.9l7.6 7.6m-7.6 0l7.6 -7.6M302.1 374.9l7.6 7.6m-7.6 0l7.6 -7.6M278.8 404.2l7.6 7.6m-7.6 0l7.6 -7.6M283.3 395.5l7.6 7.6m-7.6 0l7.6 -7.6M291.5 383.7l7.6 7.6m-7.6 0l7.6 -7.6M292 386.8l7.6 7.6m-7.6 0l7.6 -7.6M279.2 408.6l7.6 7.6m-7.6 0l7.6 -7.6M262.9 476.3l7.6 7.6m-7.6 0l7.6 -7.6M274.8 409.3l7.6 7.6m-7.6 0l7.6 -7.6M287.7 394l7.6 7.6m-7.6 0l7.6 -7.6M300.4 373.2l7.6 7.6m-7.6 0l7.6 -7.6M276.8 404.2l7.6 7.6m-7.6 0l7.6 -7.6M279 403.1l7.6 7.6m-7.6 0l7.6 -7.6M260.1 509.8l7.6 7.6m-7.6 0l7.6 -7.6M292.6 377.8l7.6 7.6m-7.6 0l7.6 -7.6M268.9 433.1l7.6 7.6m-7.6 0l7.6 -7.6M275.7 405.4l7.6 7.6m-7.6 0l7.6 -7.6M288.3 385.9l7.6 7.6m-7.6 0l7.6 -7.6M289.3 394.1l7.6 7.6m-7.6 0l7.6 -7.6M277 406.8l7.6 7.6m-7.6 0l7.6 -7.6M261.2 493.6l7.6 7.6m-7.6 0l7.6 -7.6M298.9 373.3l7.6 7.6m-7.6 0l7.6 -7.6M293.3 377.3l7.6 7.6m-7.6 0l7.6 -7.6M277.9 411.2l7.6 7.6m-7.6 0l7.6 -7.6M272.1 424l7.6 7.6m-7.6 0l7.6 -7.6M302.2 369.5l7.6 7.6m-7.6 0l7.6 -7.6M289.9 386.2l7.6 7.6m-7.6 0l7.6 -7.6M276.2 414.6l7.6 7.6m-7.6 0l7.6 -7.6M281.6 394.7l7.6 7.6m-7.6 0l7.6 -7.6M295.9 381.2l7.6 7.6m-7.6 0l7.6 -7.6M277.2 404.4l7.6 7.6m-7.6 0l7.6 -7.6M292.8 380.2l7.6 7.6m-7.6 0l7.6 -7.6M289.3 384l7.6 7.6m-7.6 0l7.6 -7.6M286 387.4l7.6 7.6m-7.6 0l7.6 -7.6M299.6 374.7l7.6 7.6m-7.6 0l7.6 -7.6M300.1 366.5l7.6 7.6m-7.6 0l7.6 -7.6M301.3 366.7l7.6 7.6m-7.6 0l7.6 -7.6M260.4 502.2l7.6 7.6m-7.6 0l7.6 -7.6M265.1 451.7l7.6 7.6m-7.6 0l7.6 -7.6M295.9 377.7l7.6 7.6m-7.6 0l7.6 -7.6M274.8 419.8l7.6 7.6m-7.6 0l7.6 -7.6M263 488.3l7.6 7.6m-7.6 0l7.6 -7.6M270.8 424.6l7.6 7.6m-7.6 0l7.6 -7.6M287.9 388.3l7.6 7.6m-7.6 0l7.6 -7.6M295.4 377.3l7.6 7.6m-7.6 0l7.6 -7.6M300.8 370.5l7.6 7.6m-7.6 0l7.6 -7.6M295 382l7.6 7.6m-7.6 0l7.6 -7.6M282.4 395.7l7.6 7.6m-7.6 0l7.6 -7.6M291.9 381.7l7.6 7.6m-7.6 0l7.6 -7.6M275.3 406.8l7.6 7.6m-7.6 0l7.6 -7.6M281.4 398.7l7.6 7.6m-7.6 0l7.6 -7.6M283.9 391.3l7.6 7.6m-7.6 0l7.6 -7.6M279.4 411.2l7.6 7.6m-7.6 0l7.6 -7.6M286 391.8l7.6 7.6m-7.6 0l7.6 -7.6M300.4 380l7.6 7.6m-7.6 0l7.6 -7.6M285 387.9l7.6 7.6m-7.6 0l7.6 -7.6M269 425.3l7.6 7.6m-7.6 0l7.6 -7.6M278.8 400.2l7.6 7.6m-7.6 0l7.6 -7.6M259.2 503.7l7.6 7.6m-7.6 0l7.6 -7.6M270.7 424.9l7.6 7.6m-7.6 0l7.6 -7.6M283.2 390.9l7.6 7.6m-7.6 0l7.6 -7.6M287.4 392.9l7.6 7.6m-7.6 0l7.6 -7.6M274.8 412.3l7.6 7.6m-7.6 0l7.6 -7.6M291.6 382.9l7.6 7.6m-7.6 0l7.6 -7.6M299.3 365.5l7.6 7.6m-7.6 0l7.6 -7.6M259 509.2l7.6 7.6m-7.6 0l7.6 -7.6M268.9 431.9l7.6 7.6m-7.6 0l7.6 -7.6M270.7 425.1l7.6 7.6m-7.6 0l7.6 -7.6M276.9 402.6l7.6 7.6m-7.6 0l7.6 -7.6M296.9 374l7.6 7.6m-7.6 0l7.6 -7.6M260.2 486.9l7.6 7.6m-7.6 0l7.6 -7.6M276.1 414.7l7.6 7.6m-7.6 0l7.6 -7.6M267.4 444.5l7.6 7.6m-7.6 0l7.6 -7.6M301.5 372l7.6 7.6m-7.6 0l7.6 -7.6M298.3 379.8l7.6 7.6m-7.6 0l7.6 -7.6M271.1 415.2l7.6 7.6m-7.6 0l7.6 -7.6M290.9 382.3l7.6 7.6m-7.6 0l7.6 -7.6M269.9 432.1l7.6 7.6m-7.6 0l7.6 -7.6M271.6 423.4l7.6 7.6m-7.6 0l7.6 -7.6M279.2 408.7l7.6 7.6m-7.6 0l7.6 -7.6M272.4 417.7l7.6 7.6m-7.6 0l7.6 -7.6M293.6 379.8l7.6 7.6m-7.6 0l7.6 -7.6M267.8 431.1l7.6 7.6m-7.6 0l7.6 -7.6M272 415.9l7.6 7.6m-7.6 0l7.6 -7.6M277.7 409.6l7.6 7.6m-7.6 0l7.6 -7.6M300.3 373.2l7.6 7.6m-7.6 0l7.6 -7.6M262 467.8l7.6 7.6m-7.6 0l7.6 -7.6M282.2 397.2l7.6 7.6m-7.6 0l7.6 -7.6M292.6 387.9l7.6 7.6m-7.6 0l7.6 -7.6M286.4 394.5l7.6 7.6m-7.6 0l7.6 -7.6M263.8 466.3l7.6 7.6m-7.6 0l7.6 -7.6M272.7 416.1l7.6 7.6m-7.6 0l7.6 -7.6M298 375.5l7.6 7.6m-7.6 0l7.6 -7.6M293.5 376.2l7.6 7.6m-7.6 0l7.6 -7.6M295.6 378.9l7.6 7.6m-7.6 0l7.6 -7.6M291.8 380.4l7.6 7.6m-7.6 0l7.6 -7.6M259.9 499.3l7.6 7.6m-7.6 0l7.6 -7.6M278.5 400.2l7.6 7.6m-7.6 0l7.6 -7.6M268 423.6l7.6 7.6m-7.6 0l7.6 -7.6M298.9 375.9l7.6 7.6m-7.6 0l7.6 -7.6M289.3 388.6l7.6 7.6m-7.6 0l7.6 -7.6M279.4 402.3l7.6 7.6m-7.6 0l7.6 -7.6M271.9 414.3l7.6 7.6m-7.6 0l7.6 -7.6M290.6 386.9l7.6 7.6m-7.6 0l7.6 -7.6M294.9 382l7.6 7.6m-7.6 0l7.6 -7.6M264.3 445l7.6 7.6m-7.6 0l7.6 -7.6M280.9 398.8l7.6 7.6m-7.6 0l7.6 -7.6M302.4 373.4l7.6 7.6m-7.6 0l7.6 -7.6M272 413.5l7.6 7.6m-7.6 0l7.6 -7.6M276.6 402.7l7.6 7.6m-7.6 0l7.6 -7.6M288.6 385.2l7.6 7.6m-7.6 0l7.6 -7.6M294.6 374.1l7.6 7.6m-7.6 0l7.6 -7.6M294.5 384.6l7.6 7.6m-7.6 0l7.6 -7.6M295.5 384l7.6 7.6m-7.6 0l7.6 -7.6M279.5 397.3l7.6 7.6m-7.6 0l7.6 -7.6M293.6 388.6l7.6 7.6m-7.6 0l7.6 -7.6M300.9 374.2l7.6 7.6m-7.6 0l7.6 -7.6" stroke="#f01490" stroke-width="2" fill="none"/>
<path d="M262.5 513 262.1 511.7 261.8 508.2 261.4 505.8 261 503.9 260.6 499.8 260.3 495.3 259.9 491.6 259.5 487.8 259.2 483.1 258.8 479.6 258.4 473.8 258 469.3 257.7 465.9 257.3 462.7 256.9 457.7 256.5 453.5 256.2 451.2 255.8 449.5 255.4 445.4 255.1 442.3 254.7 439.7 254.3 437.5 253.9 436.8 253.6 435.1 253.2 434.2 252.8 432 252.5 430.2 252.1 428.8 251.7 427.1 251.3 427 251 425.4 250.6 424.5 250.2 423.6 249.8 422 249.5 421.7 249.1 420.3 248.7 419.3 248.4 419.8 248 417.4 247.6 417.6 247.2 416.4 246.9 415.5 246.5 416.1 246.1 414.5 245.8 414.7 245.4 412.6 245 412.6 244.6 411.3 244.3 411.8 243.9 409.7 243.5 409.4 243.1 410.1 242.8 408.6 242.4 407.8 242 406.9 241.7 407.5 241.3 406.8 240.9 405.2 240.5 404.5 240.2 403.2" fill="none" stroke="#9a22d8" stroke-width="8" stroke-linejoin="round" stroke-linecap="round"/>
<path d="M248.3 429.8l7.6 7.6m-7.6 0l7.6 -7.6M251.4 435.1l7.6 7.6m-7.6 0l7.6 -7.6M241.4 404.6l7.6 7.6m-7.6 0l7.6 -7.6M247.4 423.5l7.6 7.6m-7.6 0l7.6 -7.6M258 503.6l7.6 7.6m-7.6 0l7.6 -7.6M236.6 396.6l7.6 7.6m-7.6 0l7.6 -7.6M249.2 426.5l7.6 7.6m-7.6 0l7.6 -7.6M243 408.6l7.6 7.6m-7.6 0l7.6 -7.6M237.8 402.2l7.6 7.6m-7.6 0l7.6 -7.6M248.1 424.3l7.6 7.6m-7.6 0l7.6 -7.6M255.7 487.6l7.6 7.6m-7.6 0l7.6 -7.6M256.1 492.8l7.6 7.6m-7.6 0l7.6 -7.6M239.2 407.7l7.6 7.6m-7.6 0l7.6 -7.6M252.2 439.1l7.6 7.6m-7.6 0l7.6 -7.6M251.1 443.8l7.6 7.6m-7.6 0l7.6 -7.6M235.3 396.7l7.6 7.6m-7.6 0l7.6 -7.6M249 430.2l7.6 7.6m-7.6 0l7.6 -7.6M252.2 466.7l7.6 7.6m-7.6 0l7.6 -7.6M256 486.1l7.6 7.6m-7.6 0l7.6 -7.6M256.2 481.9l7.6 7.6m-7.6 0l7.6 -7.6M249.9 438.4l7.6 7.6m-7.6 0l7.6 -7.6M238 409.9l7.6 7.6m-7.6 0l7.6 -7.6M254.2 475.6l7.6 7.6m-7.6 0l7.6 -7.6M245 410.8l7.6 7.6m-7.6 0l7.6 -7.6M237.6 402.4l7.6 7.6m-7.6 0l7.6 -7.6M238.5 402.3l7.6 7.6m-7.6 0l7.6 -7.6M249.4 431.3l7.6 7.6m-7.6 0l7.6 -7.6M258.6 505.1l7.6 7.6m-7.6 0l7.6 -7.6M244.2 411.3l7.6 7.6m-7.6 0l7.6 -7.6M246.1 424.7l7.6 7.6m-7.6 0l7.6 -7.6M237.3 406.8l7.6 7.6m-7.6 0l7.6 -7.6M252.5 450.6l7.6 7.6m-7.6 0l7.6 -7.6M249.1 432.9l7.6 7.6m-7.6 0l7.6 -7.6M249 421.5l7.6 7.6m-7.6 0l7.6 -7.6M254.4 457.1l7.6 7.6m-7.6 0l7.6 -7.6M256.5 498.1l7.6 7.6m-7.6 0l7.6 -7.6M240.8 414.6l7.6 7.6m-7.6 0l7.6 -7.6M244 416.3l7.6 7.6m-7.6 0l7.6 -7.6M243.8 418.4l7.6 7.6m-7.6 0l7.6 -7.6M254.5 467l7.6 7.6m-7.6 0l7.6 -7.6M252.5 443.8l7.6 7.6m-7.6 0l7.6 -7.6M243 416.8l7.6 7.6m-7.6 0l7.6 -7.6M246 417.1l7.6 7.6m-7.6 0l7.6 -7.6M243.2 415.3l7.6 7.6m-7.6 0l7.6 -7.6M245.2 418.4l7.6 7.6m-7.6 0l7.6 -7.6M240.3 404l7.6 7.6m-7.6 0l7.6 -7.6M242.4 404.6l7.6 7.6m-7.6 0l7.6 -7.6M238.5 405.6l7.6 7.6m-7.6 0l7.6 -7.6M254.4 450.5l7.6 7.6m-7.6 0l7.6 -7.6M251.4 434.4l7.6 7.6m-7.6 0l7.6 -7.6M239.7 400.6l7.6 7.6m-7.6 0l7.6 -7.6M252 441.3l7.6 7.6m-7.6 0l7.6 -7.6M236.7 399.4l7.6 7.6m-7.6 0l7.6 -7.6M244.9 415.1l7.6 7.6m-7.6 0l7.6 -7.6M251.8 452.1l7.6 7.6m-7.6 0l7.6 -7.6M251.5 432.3l7.6 7.6m-7.6 0l7.6 -7.6M250.4 431.2l7.6 7.6m-7.6 0l7.6 -7.6M250.2 445l7.6 7.6m-7.6 0l7.6 -7.6M252.5 447.6l7.6 7.6m-7.6 0l7.6 -7.6M250 427.8l7.6 7.6m-7.6 0l7.6 -7.6M240.8 411.9l7.6 7.6m-7.6 0l7.6 -7.6M256.8 507.7l7.6 7.6m-7.6 0l7.6 -7.6M251.4 446.2l7.6 7.6m-7.6 0l7.6 -7.6M254.8 453.2l7.6 7.6m-7.6 0l7.6 -7.6M254.3 475.7l7.6 7.6m-7.6 0l7.6 -7.6M252 442.5l7.6 7.6m-7.6 0l7.6 -7.6M246.6 420.3l7.6 7.6m-7.6 0l7.6 -7.6M256.9 507.4l7.6 7.6m-7.6 0l7.6 -7.6M246.4 427.4l7.6 7.6m-7.6 0l7.6 -7.6M245.3 417.2l7.6 7.6m-7.6 0l7.6 -7.6M238.9 406.5l7.6 7.6m-7.6 0l7.6 -7.6M243.4 411.9l7.6 7.6m-7.6 0l7.6 -7.6M247 419.2l7.6 7.6m-7.6 0l7.6 -7.6M255.7 494.1l7.6 7.6m-7.6 0l7.6 -7.6M252.5 453.3l7.6 7.6m-7.6 0l7.6 -7.6M242.7 415l7.6 7.6m-7.6 0l7.6 -7.6M245.5 411.8l7.6 7.6m-7.6 0l7.6 -7.6M244.3 417.2l7.6 7.6m-7.6 0l7.6 -7.6M237.4 409.9l7.6 7.6m-7.6 0l7.6 -7.6M243.5 414.8l7.6 7.6m-7.6 0l7.6 -7.6M245.1 417.2l7.6 7.6m-7.6 0l7.6 -7.6M245.3 411.7l7.6 7.6m-7.6 0l7.6 -7.6M237.7 405.6l7.6 7.6m-7.6 0l7.6 -7.6M258.3 494.9l7.6 7.6m-7.6 0l7.6 -7.6M240.7 407.1l7.6 7.6m-7.6 0l7.6 -7.6M252.5 445.1l7.6 7.6m-7.6 0l7.6 -7.6M243.9 410.4l7.6 7.6m-7.6 0l7.6 -7.6M248.1 418.7l7.6 7.6m-7.6 0l7.6 -7.6M241.7 402.6l7.6 7.6m-7.6 0l7.6 -7.6M257.3 505.5l7.6 7.6m-7.6 0l7.6 -7.6M258.7 505.1l7.6 7.6m-7.6 0l7.6 -7.6M246.7 421.9l7.6 7.6m-7.6 0l7.6 -7.6M235.4 399.1l7.6 7.6m-7.6 0l7.6 -7.6M255.6 493l7.6 7.6m-7.6 0l7.6 -7.6M246.1 414.7l7.6 7.6m-7.6 0l7.6 -7.6M245.1 413.1l7.6 7.6m-7.6 0l7.6 -7.6M252 442l7.6 7.6m-7.6 0l7.6 -7.6M246.6 428.4l7.6 7.6m-7.6 0l7.6 -7.6M245.7 426l7.6 7.6m-7.6 0l7.6 -7.6M255.9 498l7.6 7.6m-7.6 0l7.6 -7.6M245.1 416.4l7.6 7.6m-7.6 0l7.6 -7.6M246.1 417.8l7.6 7.6m-7.6 0l7.6 -7.6M241.6 413.5l7.6 7.6m-7.6 0l7.6 -7.6M247.1 418.5l7.6 7.6m-7.6 0l7.6 -7.6M253.7 454.4l7.6 7.6m-7.6 0l7.6 -7.6M235.2 405.4l7.6 7.6m-7.6 0l7.6 -7.6M242.7 417.1l7.6 7.6m-7.6 0l7.6 -7.6M241.1 410.1l7.6 7.6m-7.6 0l7.6 -7.6M245.2 414.4l7.6 7.6m-7.6 0l7.6 -7.6M248.2 428.6l7.6 7.6m-7.6 0l7.6 -7.6M257.6 495.9l7.6 7.6m-7.6 0l7.6 -7.6M244.3 410.7l7.6 7.6m-7.6 0l7.6 -7.6M237.9 398.6l7.6 7.6m-7.6 0l7.6 -7.6M236.5 400l7.6 7.6m-7.6 0l7.6 -7.6M257.1 503.1l7.6 7.6m-7.6 0l7.6 -7.6M248.7 429.1l7.6 7.6m-7.6 0l7.6 -7.6M241.8 412.6l7.6 7.6m-7.6 0l7.6 -7.6M256.8 490l7.6 7.6m-7.6 0l7.6 -7.6M258.7 501.3l7.6 7.6m-7.6 0l7.6 -7.6M248.4 431.8l7.6 7.6m-7.6 0l7.6 -7.6M252.3 442.9l7.6 7.6m-7.6 0l7.6 -7.6M237.9 403.3l7.6 7.6m-7.6 0l7.6 -7.6M253 461.6l7.6 7.6m-7.6 0l7.6 -7.6M242.1 406.2l7.6 7.6m-7.6 0l7.6 -7.6M255.6 479.8l7.6 7.6m-7.6 0l7.6 -7.6M243.8 418.2l7.6 7.6m-7.6 0l7.6 -7.6M246.1 415.5l7.6 7.6m-7.6 0l7.6 -7.6M247.4 423.5l7.6 7.6m-7.6 0l7.6 -7.6M257.6 486.5l7.6 7.6m-7.6 0l7.6 -7.6M242.4 407.9l7.6 7.6m-7.6 0l7.6 -7.6M256.4 488.1l7.6 7.6m-7.6 0l7.6 -7.6M243.1 406.2l7.6 7.6m-7.6 0l7.6 -7.6M246.6 415.9l7.6 7.6m-7.6 0l7.6 -7.6M245.7 415.4l7.6 7.6m-7.6 0l7.6 -7.6M249.1 427.8l7.6 7.6m-7.6 0l7.6 -7.6M247.3 427.9l7.6 7.6m-7.6 0l7.6 -7.6M241.4 403l7.6 7.6m-7.6 0l7.6 -7.6M255.6 481.4l7.6 7.6m-7.6 0l7.6 -7.6M253.8 445.2l7.6 7.6m-7.6 0l7.6 -7.6M250.7 439.6l7.6 7.6m-7.6 0l7.6 -7.6M238.5 404.5l7.6 7.6m-7.6 0l7.6 -7.6M244.1 411.7l7.6 7.6m-7.6 0l7.6 -7.6M243.3 406.7l7.6 7.6m-7.6 0l7.6 -7.6M243.7 407.4l7.6 7.6m-7.6 0l7.6 -7.6M248.5 434.2l7.6 7.6m-7.6 0l7.6 -7.6M239.7 403.1l7.6 7.6m-7.6 0l7.6 -7.6M249.4 424.5l7.6 7.6m-7.6 0l7.6 -7.6M253.3 448l7.6 7.6m-7.6 0l7.6 -7.6M250.2 425.3l7.6 7.6m-7.6 0l7.6 -7.6M254.1 466.4l7.6 7.6m-7.6 0l7.6 -7.6" stroke="#9a22d8" stroke-width="2" fill="none"/>
<path d="M262.5 514.1 262.9 511.9 263.2 509 263.6 506.5 264 503.8 264.4 501.2 264.7 495.5 265.1 491.9 265.5 487.5 265.8 482.1 266.2 478.8 266.6 474.1 267 470.2 267.3 467.2 267.7 462.8 268.1 458.9 268.5 455 268.8 451.3 269.2 449.1 269.6 445.8 269.9 443.6 270.3 440.7 270.7 437.4 271.1 435.8 271.4 435.6 271.8 433.1 272.2 431.8 272.5 430.2 272.9 430.3 273.3 428.7 273.7 425.9 274 425.1 274.4 424.4 274.8 424 275.2 423.9 275.5 421.9 275.9 420.7 276.3 420.1 276.6 418.5 277 418.1 277.4 417.3 277.8 417.3 278.1 415.7 278.5 415 278.9 415.4 279.2 412.9 279.6 413.9 280 412.7 280.4 412 280.7 410.8 281.1 411.1 281.5 410.6 281.9 410 282.2 408.8 282.6 407.3 283 407.1 283.3 405.9 283.7 406 284.1 405.7 284.5 404.2 284.8 404.7" fill="none" stroke="#9a22d8" stroke-width="8" stroke-linejoin="round" stroke-linecap="round"/>
<path d="M270.1 425.5l7.6 7.6m-7.6 0l7.6 -7.6M279.5 406.6l7.6 7.6m-7.6 0l7.6 -7.6M262.8 461.6l7.6 7.6m-7.6 0l7.6 -7.6M266.4 442l7.6 7.6m-7.6 0l7.6 -7.6M264.4 457.4l7.6 7.6m-7.6 0l7.6 -7.6M275.7 405.3l7.6 7.6m-7.6 0l7.6 -7.6M278.4 402.9l7.6 7.6m-7.6 0l7.6 -7.6M259.5 510.3l7.6 7.6m-7.6 0l7.6 -7.6M274.4 411l7.6 7.6m-7.6 0l7.6 -7.6M277.3 407.7l7.6 7.6m-7.6 0l7.6 -7.6M274.3 406.7l7.6 7.6m-7.6 0l7.6 -7.6M273.7 416.3l7.6 7.6m-7.6 0l7.6 -7.6M277.8 406.3l7.6 7.6m-7.6 0l7.6 -7.6M265.5 454.6l7.6 7.6m-7.6 0l7.6 -7.6M279.2 405.4l7.6 7.6m-7.6 0l7.6 -7.6M267.4 435.8l7.6 7.6m-7.6 0l7.6 -7.6M272.7 413.5l7.6 7.6m-7.6 0l7.6 -7.6M279.3 401.7l7.6 7.6m-7.6 0l7.6 -7.6M259.4 486.7l7.6 7.6m-7.6 0l7.6 -7.6M261.5 470.2l7.6 7.6m-7.6 0l7.6 -7.6M269.8 421.4l7.6 7.6m-7.6 0l7.6 -7.6M272.3 413.8l7.6 7.6m-7.6 0l7.6 -7.6M268.4 426.6l7.6 7.6m-7.6 0l7.6 -7.6M281.3 394.9l7.6 7.6m-7.6 0l7.6 -7.6M278.6 399l7.6 7.6m-7.6 0l7.6 -7.6M266.2 452.4l7.6 7.6m-7.6 0l7.6 -7.6M260.1 496.6l7.6 7.6m-7.6 0l7.6 -7.6M272.8 417.6l7.6 7.6m-7.6 0l7.6 -7.6M267.6 426l7.6 7.6m-7.6 0l7.6 -7.6M261.6 481l7.6 7.6m-7.6 0l7.6 -7.6M262.1 491.5l7.6 7.6m-7.6 0l7.6 -7.6M266 441l7.6 7.6m-7.6 0l7.6 -7.6M262.4 474.9l7.6 7.6m-7.6 0l7.6 -7.6M277.1 401.1l7.6 7.6m-7.6 0l7.6 -7.6M271 413.9l7.6 7.6m-7.6 0l7.6 -7.6M265.1 455.2l7.6 7.6m-7.6 0l7.6 -7.6M270.6 417.7l7.6 7.6m-7.6 0l7.6 -7.6M258.2 504.1l7.6 7.6m-7.6 0l7.6 -7.6M278.8 405.7l7.6 7.6m-7.6 0l7.6 -7.6M262.5 455.1l7.6 7.6m-7.6 0l7.6 -7.6M276.9 407.5l7.6 7.6m-7.6 0l7.6 -7.6M270 424l7.6 7.6m-7.6 0l7.6 -7.6M279.6 404.6l7.6 7.6m-7.6 0l7.6 -7.6M264.5 446.3l7.6 7.6m-7.6 0l7.6 -7.6M266.2 442.9l7.6 7.6m-7.6 0l7.6 -7.6M268.1 431.2l7.6 7.6m-7.6 0l7.6 -7.6M279.8 404.2l7.6 7.6m-7.6 0l7.6 -7.6M259.3 501.8l7.6 7.6m-7.6 0l7.6 -7.6M260.7 494.1l7.6 7.6m-7.6 0l7.6 -7.6M279.5 403.5l7.6 7.6m-7.6 0l7.6 -7.6M275.4 412.1l7.6 7.6m-7.6 0l7.6 -7.6M263.8 470.3l7.6 7.6m-7.6 0l7.6 -7.6M273.2 420l7.6 7.6m-7.6 0l7.6 -7.6M259.8 510.6l7.6 7.6m-7.6 0l7.6 -7.6M268.2 432.2l7.6 7.6m-7.6 0l7.6 -7.6M265 452.9l7.6 7.6m-7.6 0l7.6 -7.6M271 418l7.6 7.6m-7.6 0l7.6 -7.6M266.2 425.7l7.6 7.6m-7.6 0l7.6 -7.6M267.3 435.2l7.6 7.6m-7.6 0l7.6 -7.6M267.8 431.5l7.6 7.6m-7.6 0l7.6 -7.6M262.4 474.1l7.6 7.6m-7.6 0l7.6 -7.6M266.7 448l7.6 7.6m-7.6 0l7.6 -7.6M264.9 450.4l7.6 7.6m-7.6 0l7.6 -7.6M278.8 406.9l7.6 7.6m-7.6 0l7.6 -7.6M277.8 400.1l7.6 7.6m-7.6 0l7.6 -7.6M273.9 411.5l7.6 7.6m-7.6 0l7.6 -7.6M276.1 403.2l7.6 7.6m-7.6 0l7.6 -7.6M272.4 417l7.6 7.6m-7.6 0l7.6 -7.6M260.7 496.2l7.6 7.6m-7.6 0l7.6 -7.6M274.6 412.2l7.6 7.6m-7.6 0l7.6 -7.6M272.8 416.8l7.6 7.6m-7.6 0l7.6 -7.6M272.1 421.5l7.6 7.6m-7.6 0l7.6 -7.6M271.1 416.3l7.6 7.6m-7.6 0l7.6 -7.6M271.7 412l7.6 7.6m-7.6 0l7.6 -7.6M281 397.9l7.6 7.6m-7.6 0l7.6 -7.6M265.4 443.7l7.6 7.6m-7.6 0l7.6 -7.6M264 450.9l7.6 7.6m-7.6 0l7.6 -7.6M271.7 411.7l7.6 7.6m-7.6 0l7.6 -7.6M262.2 481.8l7.6 7.6m-7.6 0l7.6 -7.6M269.8 422.2l7.6 7.6m-7.6 0l7.6 -7.6M263.6 469.8l7.6 7.6m-7.6 0l7.6 -7.6M275 407.2l7.6 7.6m-7.6 0l7.6 -7.6M272.5 419.7l7.6 7.6m-7.6 0l7.6 -7.6M277.4 405.5l7.6 7.6m-7.6 0l7.6 -7.6M278.4 397.1l7.6 7.6m-7.6 0l7.6 -7.6M273.6 419.9l7.6 7.6m-7.6 0l7.6 -7.6M265.6 443.1l7.6 7.6m-7.6 0l7.6 -7.6M264.7 446.9l7.6 7.6m-7.6 0l7.6 -7.6M271.2 416.2l7.6 7.6m-7.6 0l7.6 -7.6M266 431.6l7.6 7.6m-7.6 0l7.6 -7.6M260.5 492.3l7.6 7.6m-7.6 0l7.6 -7.6M278.9 408.8l7.6 7.6m-7.6 0l7.6 -7.6M264.9 447.7l7.6 7.6m-7.6 0l7.6 -7.6M274.7 416.5l7.6 7.6m-7.6 0l7.6 -7.6M271.2 424.9l7.6 7.6m-7.6 0l7.6 -7.6M267.6 428.9l7.6 7.6m-7.6 0l7.6 -7.6M279.4 400.3l7.6 7.6m-7.6 0l7.6 -7.6M274.4 415.6l7.6 7.6m-7.6 0l7.6 -7.6M274.9 411.9l7.6 7.6m-7.6 0l7.6 -7.6M280.8 405l7.6 7.6m-7.6 0l7.6 -7.6M260.5 496l7.6 7.6m-7.6 0l7.6 -7.6M279.5 398.5l7.6 7.6m-7.6 0l7.6 -7.6M276.7 401.8l7.6 7.6m-7.6 0l7.6 -7.6M263.8 471.5l7.6 7.6m-7.6 0l7.6 -7.6M260 505.2l7.6 7.6m-7.6 0l7.6 -7.6M273.8 417.9l7.6 7.6m-7.6 0l7.6 -7.6M270.1 423.9l7.6 7.6m-7.6 0l7.6 -7.6M265.5 453.6l7.6 7.6m-7.6 0l7.6 -7.6M260.6 485.9l7.6 7.6m-7.6 0l7.6 -7.6M279 402.4l7.6 7.6m-7.6 0l7.6 -7.6M267.9 433.6l7.6 7.6m-7.6 0l7.6 -7.6M268.4 430.8l7.6 7.6m-7.6 0l7.6 -7.6M261 478.4l7.6 7.6m-7.6 0l7.6 -7.6M266.2 433.8l7.6 7.6m-7.6 0l7.6 -7.6M261.2 482.5l7.6 7.6m-7.6 0l7.6 -7.6M272.2 413l7.6 7.6m-7.6 0l7.6 -7.6M260.4 497.3l7.6 7.6m-7.6 0l7.6 -7.6M269.1 431.8l7.6 7.6m-7.6 0l7.6 -7.6M257.4 510.8l7.6 7.6m-7.6 0l7.6 -7.6M261 497.6l7.6 7.6m-7.6 0l7.6 -7.6M279.5 406.9l7.6 7.6m-7.6 0l7.6 -7.6M276.5 402.1l7.6 7.6m-7.6 0l7.6 -7.6M266.8 433.2l7.6 7.6m-7.6 0l7.6 -7.6M264.6 472.4l7.6 7.6m-7.6 0l7.6 -7.6M274.7 413.3l7.6 7.6m-7.6 0l7.6 -7.6M264.9 444l7.6 7.6m-7.6 0l7.6 -7.6M261.3 481.8l7.6 7.6m-7.6 0l7.6 -7.6M271.8 421.6l7.6 7.6m-7.6 0l7.6 -7.6M271.2 422.7l7.6 7.6m-7.6 0l7.6 -7.6M278.9 400.8l7.6 7.6m-7.6 0l7.6 -7.6M271 419.6l7.6 7.6m-7.6 0l7.6 -7.6M275.7 414.5l7.6 7.6m-7.6 0l7.6 -7.6M270.6 425l7.6 7.6m-7.6 0l7.6 -7.6M275.6 409.3l7.6 7.6m-7.6 0l7.6 -7.6M278.7 397.2l7.6 7.6m-7.6 0l7.6 -7.6M260 500.8l7.6 7.6m-7.6 0l7.6 -7.6M277.5 409.4l7.6 7.6m-7.6 0l7.6 -7.6M259.5 501l7.6 7.6m-7.6 0l7.6 -7.6M276.9 402.4l7.6 7.6m-7.6 0l7.6 -7.6M269.4 422.3l7.6 7.6m-7.6 0l7.6 -7.6M278.2 401.9l7.6 7.6m-7.6 0l7.6 -7.6M268.8 420.6l7.6 7.6m-7.6 0l7.6 -7.6M278.8 403.2l7.6 7.6m-7.6 0l7.6 -7.6M270.3 427.3l7.6 7.6m-7.6 0l7.6 -7.6M270.8 428l7.6 7.6m-7.6 0l7.6 -7.6M275.4 406.2l7.6 7.6m-7.6 0l7.6 -7.6M275.3 403l7.6 7.6m-7.6 0l7.6 -7.6M263.4 448.1l7.6 7.6m-7.6 0l7.6 -7.6M269.2 423.3l7.6 7.6m-7.6 0l7.6 -7.6M277.8 399.4l7.6 7.6m-7.6 0l7.6 -7.6" stroke="#9a22d8" stroke-width="2" fill="none"/>
<path d="M262.5 513.8 262.3 511.9 262 510.7 261.8 508.3 261.5 506.9 261.3 505.6 261 504.6 260.8 501.4 260.5 499.6 260.3 495.6 260 493.6 259.8 491.5 259.5 487.5 259.3 485.6 259 483.1 258.8 479.9 258.5 477.1 258.3 473.2 258 471.2 257.8 467.5 257.5 465.2 257.3 463.5 257 460.4 256.8 456.9 256.5 454.5 256.3 453.9 256 451.9 255.8 450.4 255.6 447.8 255.3 446.5 255.1 445 254.8 441.6 254.6 440.1 254.3 439.4 254.1 438.3 253.8 437 253.6 436.7 253.3 436.1 253.1 434.3 252.8 432.9 252.6 432.4 252.3 431.1 252.1 430.2 251.8 429.7 251.6 427.9 251.3 427.1 251.1 427 250.8 425.9 250.6 426 250.3 424.9 250.1 425.1 249.8 423.2 249.6 424.4 249.4 422.5 249.1 421.9 248.9 422 248.6 421.8 248.4 420.2 248.1 420.1 247.9 418.1 247.6 418.2" fill="none" stroke="#0000d8" stroke-width="8" stroke-linejoin="round" stroke-linecap="round"/>
<path d="M252.7 442.6l7.6 7.6m-7.6 0l7.6 -7.6M252.1 447.9l7.6 7.6m-7.6 0l7.6 -7.6M257.5 500.9l7.6 7.6m-7.6 0l7.6 -7.6M256.1 477.9l7.6 7.6m-7.6 0l7.6 -7.6M258 491.7l7.6 7.6m-7.6 0l7.6 -7.6M248.2 426.8l7.6 7.6m-7.6 0l7.6 -7.6M245.6 427l7.6 7.6m-7.6 0l7.6 -7.6M256.6 470.9l7.6 7.6m-7.6 0l7.6 -7.6M248.5 425.2l7.6 7.6m-7.6 0l7.6 -7.6M254.3 455.4l7.6 7.6m-7.6 0l7.6 -7.6M246.9 423.4l7.6 7.6m-7.6 0l7.6 -7.6M246.1 420.7l7.6 7.6m-7.6 0l7.6 -7.6M245.9 422.5l7.6 7.6m-7.6 0l7.6 -7.6M246.5 426.3l7.6 7.6m-7.6 0l7.6 -7.6M256.6 494.2l7.6 7.6m-7.6 0l7.6 -7.6M245.5 412.2l7.6 7.6m-7.6 0l7.6 -7.6M248.5 429.5l7.6 7.6m-7.6 0l7.6 -7.6M246.7 427.3l7.6 7.6m-7.6 0l7.6 -7.6M252.8 445.4l7.6 7.6m-7.6 0l7.6 -7.6M247.3 424l7.6 7.6m-7.6 0l7.6 -7.6M246.9 422.1l7.6 7.6m-7.6 0l7.6 -7.6M258 500.4l7.6 7.6m-7.6 0l7.6 -7.6M253.6 460l7.6 7.6m-7.6 0l7.6 -7.6M253.7 473.5l7.6 7.6m-7.6 0l7.6 -7.6M254.2 485.1l7.6 7.6m-7.6 0l7.6 -7.6M257.9 491.8l7.6 7.6m-7.6 0l7.6 -7.6M250.1 437.6l7.6 7.6m-7.6 0l7.6 -7.6M249.7 436.8l7.6 7.6m-7.6 0l7.6 -7.6M253.7 461.6l7.6 7.6m-7.6 0l7.6 -7.6M244.2 412.6l7.6 7.6m-7.6 0l7.6 -7.6M250.5 433.9l7.6 7.6m-7.6 0l7.6 -7.6M257.7 496.4l7.6 7.6m-7.6 0l7.6 -7.6M254.8 479.2l7.6 7.6m-7.6 0l7.6 -7.6M244.5 419.8l7.6 7.6m-7.6 0l7.6 -7.6M250.5 432.7l7.6 7.6m-7.6 0l7.6 -7.6M244.7 411.5l7.6 7.6m-7.6 0l7.6 -7.6M248.9 440.1l7.6 7.6m-7.6 0l7.6 -7.6M254.3 469.4l7.6 7.6m-7.6 0l7.6 -7.6M256.6 497l7.6 7.6m-7.6 0l7.6 -7.6M243.5 420.4l7.6 7.6m-7.6 0l7.6 -7.6M249.4 432.4l7.6 7.6m-7.6 0l7.6 -7.6M252.8 442.2l7.6 7.6m-7.6 0l7.6 -7.6M252.1 454l7.6 7.6m-7.6 0l7.6 -7.6M251.9 435.4l7.6 7.6m-7.6 0l7.6 -7.6M258.5 498.7l7.6 7.6m-7.6 0l7.6 -7.6M258.8 514.7l7.6 7.6m-7.6 0l7.6 -7.6M250.9 428l7.6 7.6m-7.6 0l7.6 -7.6M248.2 424.6l7.6 7.6m-7.6 0l7.6 -7.6M250.6 428.7l7.6 7.6m-7.6 0l7.6 -7.6M249.7 422.5l7.6 7.6m-7.6 0l7.6 -7.6M259.5 509.1l7.6 7.6m-7.6 0l7.6 -7.6M250.6 448.4l7.6 7.6m-7.6 0l7.6 -7.6M246.5 424.3l7.6 7.6m-7.6 0l7.6 -7.6M245.9 423.8l7.6 7.6m-7.6 0l7.6 -7.6M256.3 483.9l7.6 7.6m-7.6 0l7.6 -7.6M257.2 493.7l7.6 7.6m-7.6 0l7.6 -7.6M249.8 436l7.6 7.6m-7.6 0l7.6 -7.6M256 475.6l7.6 7.6m-7.6 0l7.6 -7.6M247.1 416.9l7.6 7.6m-7.6 0l7.6 -7.6M254.8 478.1l7.6 7.6m-7.6 0l7.6 -7.6M254.3 462.4l7.6 7.6m-7.6 0l7.6 -7.6M259.8 511.5l7.6 7.6m-7.6 0l7.6 -7.6M251.2 427.5l7.6 7.6m-7.6 0l7.6 -7.6M251.3 440.3l7.6 7.6m-7.6 0l7.6 -7.6M255.7 469.7l7.6 7.6m-7.6 0l7.6 -7.6M244.2 420.3l7.6 7.6m-7.6 0l7.6 -7.6M250.1 438.1l7.6 7.6m-7.6 0l7.6 -7.6M248.6 427.3l7.6 7.6m-7.6 0l7.6 -7.6M251.2 442.3l7.6 7.6m-7.6 0l7.6 -7.6M247.4 432.1l7.6 7.6m-7.6 0l7.6 -7.6M245.8 424.6l7.6 7.6m-7.6 0l7.6 -7.6M250 426.3l7.6 7.6m-7.6 0l7.6 -7.6M243.1 419.6l7.6 7.6m-7.6 0l7.6 -7.6M244.9 413.3l7.6 7.6m-7.6 0l7.6 -7.6M256.6 508.5l7.6 7.6m-7.6 0l7.6 -7.6M246.8 422.6l7.6 7.6m-7.6 0l7.6 -7.6M255.7 472l7.6 7.6m-7.6 0l7.6 -7.6M247.1 431.5l7.6 7.6m-7.6 0l7.6 -7.6M253.4 462.6l7.6 7.6m-7.6 0l7.6 -7.6M253.1 454.6l7.6 7.6m-7.6 0l7.6 -7.6M243.4 420.2l7.6 7.6m-7.6 0l7.6 -7.6M245.2 417.4l7.6 7.6m-7.6 0l7.6 -7.6M254.7 488.1l7.6 7.6m-7.6 0l7.6 -7.6M247.9 418.1l7.6 7.6m-7.6 0l7.6 -7.6M256.9 479.9l7.6 7.6m-7.6 0l7.6 -7.6M252.1 450.8l7.6 7.6m-7.6 0l7.6 -7.6M246.2 416.9l7.6 7.6m-7.6 0l7.6 -7.6M256.8 497.4l7.6 7.6m-7.6 0l7.6 -7.6M253.6 449.5l7.6 7.6m-7.6 0l7.6 -7.6M255.1 482.5l7.6 7.6m-7.6 0l7.6 -7.6M247.9 432.6l7.6 7.6m-7.6 0l7.6 -7.6M248.7 428.6l7.6 7.6m-7.6 0l7.6 -7.6M257.9 506.9l7.6 7.6m-7.6 0l7.6 -7.6M259.8 506.1l7.6 7.6m-7.6 0l7.6 -7.6M253.7 460.5l7.6 7.6m-7.6 0l7.6 -7.6M252.4 447.7l7.6 7.6m-7.6 0l7.6 -7.6M257.8 502.6l7.6 7.6m-7.6 0l7.6 -7.6M244.8 417.2l7.6 7.6m-7.6 0l7.6 -7.6M252.9 451.7l7.6 7.6m-7.6 0l7.6 -7.6M256.6 502.1l7.6 7.6m-7.6 0l7.6 -7.6M245.5 414.7l7.6 7.6m-7.6 0l7.6 -7.6M256.9 501.6l7.6 7.6m-7.6 0l7.6 -7.6M256.5 490.5l7.6 7.6m-7.6 0l7.6 -7.6M257.1 482l7.6 7.6m-7.6 0l7.6 -7.6M250.1 431.2l7.6 7.6m-7.6 0l7.6 -7.6M244.3 413.1l7.6 7.6m-7.6 0l7.6 -7.6M249.9 431l7.6 7.6m-7.6 0l7.6 -7.6M254.4 453.6l7.6 7.6m-7.6 0l7.6 -7.6M250.1 440.7l7.6 7.6m-7.6 0l7.6 -7.6M257.3 499.5l7.6 7.6m-7.6 0l7.6 -7.6M253.8 454.1l7.6 7.6m-7.6 0l7.6 -7.6M258.8 507.7l7.6 7.6m-7.6 0l7.6 -7.6M256.8 505.4l7.6 7.6m-7.6 0l7.6 -7.6M243.4 410.4l7.6 7.6m-7.6 0l7.6 -7.6M251.9 451.1l7.6 7.6m-7.6 0l7.6 -7.6M253.7 454.3l7.6 7.6m-7.6 0l7.6 -7.6M253.9 447.4l7.6 7.6m-7.6 0l7.6 -7.6M247.3 426l7.6 7.6m-7.6 0l7.6 -7.6M259.5 511.3l7.6 7.6m-7.6 0l7.6 -7.6M255.2 466.2l7.6 7.6m-7.6 0l7.6 -7.6M244.1 421l7.6 7.6m-7.6 0l7.6 -7.6M258.9 501.1l7.6 7.6m-7.6 0l7.6 -7.6M247.3 430.2l7.6 7.6m-7.6 0l7.6 -7.6M251.3 442.1l7.6 7.6m-7.6 0l7.6 -7.6M255.9 478.5l7.6 7.6m-7.6 0l7.6 -7.6M259.4 510.7l7.6 7.6m-7.6 0l7.6 -7.6M258 507.6l7.6 7.6m-7.6 0l7.6 -7.6M256.2 481.2l7.6 7.6m-7.6 0l7.6 -7.6M254.1 483.4l7.6 7.6m-7.6 0l7.6 -7.6M243.8 413.4l7.6 7.6m-7.6 0l7.6 -7.6M252.7 459.6l7.6 7.6m-7.6 0l7.6 -7.6M248.8 425.1l7.6 7.6m-7.6 0l7.6 -7.6M253.1 441.2l7.6 7.6m-7.6 0l7.6 -7.6M245.7 417.5l7.6 7.6m-7.6 0l7.6 -7.6M246 413.2l7.6 7.6m-7.6 0l7.6 -7.6M249.2 435.3l7.6 7.6m-7.6 0l7.6 -7.6M257.1 493.4l7.6 7.6m-7.6 0l7.6 -7.6M246.7 424.8l7.6 7.6m-7.6 0l7.6 -7.6M249.2 425.8l7.6 7.6m-7.6 0l7.6 -7.6M254.9 467.1l7.6 7.6m-7.6 0l7.6 -7.6M253.9 456.8l7.6 7.6m-7.6 0l7.6 -7.6M255.8 466l7.6 7.6m-7.6 0l7.6 -7.6M250.7 447.3l7.6 7.6m-7.6 0l7.6 -7.6M247.5 423.1l7.6 7.6m-7.6 0l7.6 -7.6M257.2 512.5l7.6 7.6m-7.6 0l7.6 -7.6M248.7 422.5l7.6 7.6m-7.6 0l7.6 -7.6M251.6 431.4l7.6 7.6m-7.6 0l7.6 -7.6M250.8 438.7l7.6 7.6m-7.6 0l7.6 -7.6M250.9 438.7l7.6 7.6m-7.6 0l7.6 -7.6M248.9 426.4l7.6 7.6m-7.6 0l7.6 -7.6" stroke="#0000d8" stroke-width="2" fill="none"/>
<path d="M262.5 512.9 262.7 512.2 263 509.8 263.2 508.5 263.5 507.9 263.7 507 264 504 264.2 501.5 264.5 498.2 264.7 495.7 265 494.3 265.2 489.8 265.5 488.3 265.7 485.6 266 481.7 266.2 479.1 266.5 475.9 266.7 473.9 267 470.5 267.2 467.5 267.5 465.8 267.7 462.5 268 459.7 268.2 458 268.5 454.5 268.7 454.5 269 451.8 269.2 450 269.4 447.9 269.7 445.9 269.9 444.3 270.2 441.5 270.4 440.8 270.7 439.4 270.9 437.8 271.2 437.4 271.4 436.5 271.7 435.4 271.9 433.7 272.2 433.8 272.4 432 272.7 432.1 272.9 430.2 273.2 429.7 273.4 428.8 273.7 428.2 273.9 426.5 274.2 425.8 274.4 426.8 274.7 425 274.9 425.7 275.2 424.4 275.4 423.2 275.6 423 275.9 422.6 276.1 422.5 276.4 421.6 276.6 421 276.9 420.6 277.1 419.4 277.4 418.4" fill="none" stroke="#0000d8" stroke-width="8" stroke-linejoin="round" stroke-linecap="round"/>
<path d="M263.2 476.6l7.6 7.6m-7.6 0l7.6 -7.6M265.3 445.7l7.6 7.6m-7.6 0l7.6 -7.6M261 497.9l7.6 7.6m-7.6 0l7.6 -7.6M270.3 431.7l7.6 7.6m-7.6 0l7.6 -7.6M262.8 457.1l7.6 7.6m-7.6 0l7.6 -7.6M272.1 418.9l7.6 7.6m-7.6 0l7.6 -7.6M266.3 450.8l7.6 7.6m-7.6 0l7.6 -7.6M266.3 438.2l7.6 7.6m-7.6 0l7.6 -7.6M259 497.8l7.6 7.6m-7.6 0l7.6 -7.6M263.7 470.9l7.6 7.6m-7.6 0l7.6 -7.6M269.9 427l7.6 7.6m-7.6 0l7.6 -7.6M268.3 429.2l7.6 7.6m-7.6 0l7.6 -7.6M270.6 420.3l7.6 7.6m-7.6 0l7.6 -7.6M273.2 423l7.6 7.6m-7.6 0l7.6 -7.6M261.1 507.1l7.6 7.6m-7.6 0l7.6 -7.6M262.1 490.8l7.6 7.6m-7.6 0l7.6 -7.6M265.7 444.5l7.6 7.6m-7.6 0l7.6 -7.6M260.8 495.2l7.6 7.6m-7.6 0l7.6 -7.6M260.7 486.1l7.6 7.6m-7.6 0l7.6 -7.6M269.1 432.8l7.6 7.6m-7.6 0l7.6 -7.6M262.4 472.5l7.6 7.6m-7.6 0l7.6 -7.6M273.8 418.3l7.6 7.6m-7.6 0l7.6 -7.6M263.9 466.3l7.6 7.6m-7.6 0l7.6 -7.6M271.4 413.8l7.6 7.6m-7.6 0l7.6 -7.6M258.9 505.3l7.6 7.6m-7.6 0l7.6 -7.6M270.5 424.9l7.6 7.6m-7.6 0l7.6 -7.6M274.1 415.1l7.6 7.6m-7.6 0l7.6 -7.6M260 485.3l7.6 7.6m-7.6 0l7.6 -7.6M265.2 459.1l7.6 7.6m-7.6 0l7.6 -7.6M262.4 492.8l7.6 7.6m-7.6 0l7.6 -7.6M269.2 429.3l7.6 7.6m-7.6 0l7.6 -7.6M270.6 417.7l7.6 7.6m-7.6 0l7.6 -7.6M259.6 502.4l7.6 7.6m-7.6 0l7.6 -7.6M269.8 428.6l7.6 7.6m-7.6 0l7.6 -7.6M258 511l7.6 7.6m-7.6 0l7.6 -7.6M262.5 479.9l7.6 7.6m-7.6 0l7.6 -7.6M266.3 434.1l7.6 7.6m-7.6 0l7.6 -7.6M269.7 430l7.6 7.6m-7.6 0l7.6 -7.6M263.5 466.6l7.6 7.6m-7.6 0l7.6 -7.6M272.9 411.3l7.6 7.6m-7.6 0l7.6 -7.6M264.4 440.4l7.6 7.6m-7.6 0l7.6 -7.6M271.7 417.1l7.6 7.6m-7.6 0l7.6 -7.6M273.1 412.4l7.6 7.6m-7.6 0l7.6 -7.6M273.9 419.9l7.6 7.6m-7.6 0l7.6 -7.6M272.5 416.9l7.6 7.6m-7.6 0l7.6 -7.6M258.3 503.5l7.6 7.6m-7.6 0l7.6 -7.6M259.5 504.6l7.6 7.6m-7.6 0l7.6 -7.6M269.9 422.2l7.6 7.6m-7.6 0l7.6 -7.6M258.6 497.7l7.6 7.6m-7.6 0l7.6 -7.6M266.2 427.4l7.6 7.6m-7.6 0l7.6 -7.6M265.9 453.6l7.6 7.6m-7.6 0l7.6 -7.6M266.8 426.7l7.6 7.6m-7.6 0l7.6 -7.6M259.1 513.8l7.6 7.6m-7.6 0l7.6 -7.6M267.5 428.5l7.6 7.6m-7.6 0l7.6 -7.6M272.1 421.3l7.6 7.6m-7.6 0l7.6 -7.6M265.8 448.4l7.6 7.6m-7.6 0l7.6 -7.6M258.3 509.3l7.6 7.6m-7.6 0l7.6 -7.6M268.4 436.6l7.6 7.6m-7.6 0l7.6 -7.6M271.1 426l7.6 7.6m-7.6 0l7.6 -7.6M266.4 436.4l7.6 7.6m-7.6 0l7.6 -7.6M268.4 421.1l7.6 7.6m-7.6 0l7.6 -7.6M265.3 442.4l7.6 7.6m-7.6 0l7.6 -7.6M274 411l7.6 7.6m-7.6 0l7.6 -7.6M265.6 446.8l7.6 7.6m-7.6 0l7.6 -7.6M269.5 428.3l7.6 7.6m-7.6 0l7.6 -7.6M260.7 482.6l7.6 7.6m-7.6 0l7.6 -7.6M263 471.3l7.6 7.6m-7.6 0l7.6 -7.6M264 462.7l7.6 7.6m-7.6 0l7.6 -7.6M271.8 420.3l7.6 7.6m-7.6 0l7.6 -7.6M263.9 455.2l7.6 7.6m-7.6 0l7.6 -7.6M266.7 434.3l7.6 7.6m-7.6 0l7.6 -7.6M265.4 438.8l7.6 7.6m-7.6 0l7.6 -7.6M262.4 473l7.6 7.6m-7.6 0l7.6 -7.6M259.7 502.8l7.6 7.6m-7.6 0l7.6 -7.6M257.9 513.9l7.6 7.6m-7.6 0l7.6 -7.6M263.7 451.2l7.6 7.6m-7.6 0l7.6 -7.6M269.2 421.6l7.6 7.6m-7.6 0l7.6 -7.6M272.2 416.6l7.6 7.6m-7.6 0l7.6 -7.6M266.4 446.3l7.6 7.6m-7.6 0l7.6 -7.6M266.1 440.2l7.6 7.6m-7.6 0l7.6 -7.6M270.7 424.4l7.6 7.6m-7.6 0l7.6 -7.6M265.8 439.8l7.6 7.6m-7.6 0l7.6 -7.6M268.2 433.6l7.6 7.6m-7.6 0l7.6 -7.6M267 433.4l7.6 7.6m-7.6 0l7.6 -7.6M265.8 440.9l7.6 7.6m-7.6 0l7.6 -7.6M262.6 479.5l7.6 7.6m-7.6 0l7.6 -7.6M269.9 420.1l7.6 7.6m-7.6 0l7.6 -7.6M268 432.3l7.6 7.6m-7.6 0l7.6 -7.6M271.2 419.1l7.6 7.6m-7.6 0l7.6 -7.6M260.1 496.7l7.6 7.6m-7.6 0l7.6 -7.6M271.1 417.6l7.6 7.6m-7.6 0l7.6 -7.6M261.7 482.7l7.6 7.6m-7.6 0l7.6 -7.6M268.1 425.8l7.6 7.6m-7.6 0l7.6 -7.6M259.9 485.5l7.6 7.6m-7.6 0l7.6 -7.6M269 429.2l7.6 7.6m-7.6 0l7.6 -7.6M268.4 435.5l7.6 7.6m-7.6 0l7.6 -7.6M273.2 419.8l7.6 7.6m-7.6 0l7.6 -7.6M265.8 435.3l7.6 7.6m-7.6 0l7.6 -7.6M262.1 477.4l7.6 7.6m-7.6 0l7.6 -7.6M260.7 493.7l7.6 7.6m-7.6 0l7.6 -7.6M272.3 415.6l7.6 7.6m-7.6 0l7.6 -7.6M265.3 461.1l7.6 7.6m-7.6 0l7.6 -7.6M269.7 434.1l7.6 7.6m-7.6 0l7.6 -7.6M271.8 421.5l7.6 7.6m-7.6 0l7.6 -7.6M270.8 420.3l7.6 7.6m-7.6 0l7.6 -7.6M268 427.8l7.6 7.6m-7.6 0l7.6 -7.6M268.3 430.8l7.6 7.6m-7.6 0l7.6 -7.6M269.9 423.7l7.6 7.6m-7.6 0l7.6 -7.6M271 427.3l7.6 7.6m-7.6 0l7.6 -7.6M271.9 426.8l7.6 7.6m-7.6 0l7.6 -7.6M261.3 471.4l7.6 7.6m-7.6 0l7.6 -7.6M267.9 421.2l7.6 7.6m-7.6 0l7.6 -7.6M272.4 412.3l7.6 7.6m-7.6 0l7.6 -7.6M266 434.4l7.6 7.6m-7.6 0l7.6 -7.6M265.4 444.2l7.6 7.6m-7.6 0l7.6 -7.6M266.9 440.3l7.6 7.6m-7.6 0l7.6 -7.6M269.2 436.3l7.6 7.6m-7.6 0l7.6 -7.6M263.7 472.5l7.6 7.6m-7.6 0l7.6 -7.6M273.8 413l7.6 7.6m-7.6 0l7.6 -7.6M269.3 425.8l7.6 7.6m-7.6 0l7.6 -7.6M260.3 490.3l7.6 7.6m-7.6 0l7.6 -7.6M271.2 419.3l7.6 7.6m-7.6 0l7.6 -7.6M272.6 411.2l7.6 7.6m-7.6 0l7.6 -7.6M266.8 428.2l7.6 7.6m-7.6 0l7.6 -7.6M271.4 417.5l7.6 7.6m-7.6 0l7.6 -7.6M268.4 435l7.6 7.6m-7.6 0l7.6 -7.6M266.2 441.8l7.6 7.6m-7.6 0l7.6 -7.6M268.9 423.1l7.6 7.6m-7.6 0l7.6 -7.6M259.2 500.3l7.6 7.6m-7.6 0l7.6 -7.6M263.1 482.2l7.6 7.6m-7.6 0l7.6 -7.6M269.6 434.2l7.6 7.6m-7.6 0l7.6 -7.6M269.6 428.4l7.6 7.6m-7.6 0l7.6 -7.6M272.1 424.7l7.6 7.6m-7.6 0l7.6 -7.6M260.8 482.1l7.6 7.6m-7.6 0l7.6 -7.6M270.9 427.1l7.6 7.6m-7.6 0l7.6 -7.6M262.3 471.2l7.6 7.6m-7.6 0l7.6 -7.6M270.1 423.5l7.6 7.6m-7.6 0l7.6 -7.6M264.5 443.1l7.6 7.6m-7.6 0l7.6 -7.6M262.6 464.6l7.6 7.6m-7.6 0l7.6 -7.6M271 431.2l7.6 7.6m-7.6 0l7.6 -7.6M264.9 464.2l7.6 7.6m-7.6 0l7.6 -7.6M263.5 463.6l7.6 7.6m-7.6 0l7.6 -7.6M269.6 426.8l7.6 7.6m-7.6 0l7.6 -7.6M267.6 427l7.6 7.6m-7.6 0l7.6 -7.6M261.4 507.4l7.6 7.6m-7.6 0l7.6 -7.6M260.3 485.9l7.6 7.6m-7.6 0l7.6 -7.6M262.9 472.5l7.6 7.6m-7.6 0l7.6 -7.6M261.8 479.7l7.6 7.6m-7.6 0l7.6 -7.6M268.9 427.3l7.6 7.6m-7.6 0l7.6 -7.6M265.7 440l7.6 7.6m-7.6 0l7.6 -7.6" stroke="#0000d8" stroke-width="2" fill="none"/>
<path d="M262.5 513 262.3 512.3 262.1 512 261.9 509.1 261.8 508.4 261.6 507.9 261.4 507.8 261.2 505.2 261 504.4 260.8 502.6 260.6 500.5 260.5 498.8 260.3 495.8 260.1 493.5 259.9 491.9 259.7 490.7 259.5 488.6 259.3 486.4 259.2 483.1 259 481.3 258.8 479.3 258.6 477.7 258.4 475 258.2 472.1 258 470.4 257.8 468.7 257.7 466.3 257.5 464.2 257.3 463.1 257.1 460.6 256.9 459.6 256.7 456.9 256.5 455.8 256.4 454 256.2 452 256 451.8 255.8 450.6 255.6 448.4 255.4 447.1 255.2 445.1 255.1 445.1 254.9 442 254.7 440.4 254.5 440.5 254.3 439.3 254.1 438.2 253.9 436.8 253.8 436 253.6 435.3 253.4 434.7 253.2 434.5 253 434.1 252.8 432.3 252.6 432.8 252.5 432.6 252.3 431.9 252.1 431.4 251.9 430.4 251.7 428.7 251.5 427.7 251.3 428.4" fill="none" stroke="#10a8e8" stroke-width="8" stroke-linejoin="round" stroke-linecap="round"/>
<path d="M254.7 455.4l7.6 7.6m-7.6 0l7.6 -7.6M249.7 420.5l7.6 7.6m-7.6 0l7.6 -7.6M255.1 466.6l7.6 7.6m-7.6 0l7.6 -7.6M251.2 442.1l7.6 7.6m-7.6 0l7.6 -7.6M253.2 450.9l7.6 7.6m-7.6 0l7.6 -7.6M256.5 486.1l7.6 7.6m-7.6 0l7.6 -7.6M250.8 434.7l7.6 7.6m-7.6 0l7.6 -7.6M251.7 450.8l7.6 7.6m-7.6 0l7.6 -7.6M254.6 470.2l7.6 7.6m-7.6 0l7.6 -7.6M247.6 425.2l7.6 7.6m-7.6 0l7.6 -7.6M252.1 456.1l7.6 7.6m-7.6 0l7.6 -7.6M250.2 433.4l7.6 7.6m-7.6 0l7.6 -7.6M253.5 465.2l7.6 7.6m-7.6 0l7.6 -7.6M255.7 468.1l7.6 7.6m-7.6 0l7.6 -7.6M249.6 436.4l7.6 7.6m-7.6 0l7.6 -7.6M251.9 444.3l7.6 7.6m-7.6 0l7.6 -7.6M249.3 437.9l7.6 7.6m-7.6 0l7.6 -7.6M254 479.3l7.6 7.6m-7.6 0l7.6 -7.6M252.5 461.4l7.6 7.6m-7.6 0l7.6 -7.6M254.9 489.9l7.6 7.6m-7.6 0l7.6 -7.6M254.4 470.4l7.6 7.6m-7.6 0l7.6 -7.6M251.1 432.3l7.6 7.6m-7.6 0l7.6 -7.6M253.6 455.8l7.6 7.6m-7.6 0l7.6 -7.6M256.3 498.6l7.6 7.6m-7.6 0l7.6 -7.6M259.9 503l7.6 7.6m-7.6 0l7.6 -7.6M253 448l7.6 7.6m-7.6 0l7.6 -7.6M253 457.5l7.6 7.6m-7.6 0l7.6 -7.6M258.1 489.1l7.6 7.6m-7.6 0l7.6 -7.6M256 506.1l7.6 7.6m-7.6 0l7.6 -7.6M255.3 472.7l7.6 7.6m-7.6 0l7.6 -7.6M256.4 497.9l7.6 7.6m-7.6 0l7.6 -7.6M249.2 426.1l7.6 7.6m-7.6 0l7.6 -7.6M251.7 448.8l7.6 7.6m-7.6 0l7.6 -7.6M254 467.9l7.6 7.6m-7.6 0l7.6 -7.6M255.7 504.1l7.6 7.6m-7.6 0l7.6 -7.6M256.5 498.7l7.6 7.6m-7.6 0l7.6 -7.6M256.2 490.8l7.6 7.6m-7.6 0l7.6 -7.6M254.2 459.2l7.6 7.6m-7.6 0l7.6 -7.6M255.3 491.4l7.6 7.6m-7.6 0l7.6 -7.6M257.5 508.3l7.6 7.6m-7.6 0l7.6 -7.6M250.7 433l7.6 7.6m-7.6 0l7.6 -7.6M256 499.6l7.6 7.6m-7.6 0l7.6 -7.6M256.3 491.4l7.6 7.6m-7.6 0l7.6 -7.6M255.9 490.6l7.6 7.6m-7.6 0l7.6 -7.6M253.1 473.3l7.6 7.6m-7.6 0l7.6 -7.6M256.3 496.9l7.6 7.6m-7.6 0l7.6 -7.6M256.2 478.6l7.6 7.6m-7.6 0l7.6 -7.6M250.5 440.2l7.6 7.6m-7.6 0l7.6 -7.6M247.9 423l7.6 7.6m-7.6 0l7.6 -7.6M253.4 458.2l7.6 7.6m-7.6 0l7.6 -7.6M257.2 507.5l7.6 7.6m-7.6 0l7.6 -7.6M254.9 473.5l7.6 7.6m-7.6 0l7.6 -7.6M247.6 427.5l7.6 7.6m-7.6 0l7.6 -7.6M255.1 462.8l7.6 7.6m-7.6 0l7.6 -7.6M247.9 425l7.6 7.6m-7.6 0l7.6 -7.6M255.3 472l7.6 7.6m-7.6 0l7.6 -7.6M252.3 439.8l7.6 7.6m-7.6 0l7.6 -7.6M256.1 480.3l7.6 7.6m-7.6 0l7.6 -7.6M255.1 463l7.6 7.6m-7.6 0l7.6 -7.6M252.7 460.9l7.6 7.6m-7.6 0l7.6 -7.6M256.1 507l7.6 7.6m-7.6 0l7.6 -7.6M259.5 514.3l7.6 7.6m-7.6 0l7.6 -7.6M256.3 489.7l7.6 7.6m-7.6 0l7.6 -7.6M257.4 485.7l7.6 7.6m-7.6 0l7.6 -7.6M250.6 436.4l7.6 7.6m-7.6 0l7.6 -7.6M257.1 507.1l7.6 7.6m-7.6 0l7.6 -7.6M255.9 480.3l7.6 7.6m-7.6 0l7.6 -7.6M257.4 505l7.6 7.6m-7.6 0l7.6 -7.6M257.2 493.8l7.6 7.6m-7.6 0l7.6 -7.6M255.7 481.7l7.6 7.6m-7.6 0l7.6 -7.6M254.8 482.2l7.6 7.6m-7.6 0l7.6 -7.6M249.2 421.6l7.6 7.6m-7.6 0l7.6 -7.6M253.1 458.3l7.6 7.6m-7.6 0l7.6 -7.6M247 423l7.6 7.6m-7.6 0l7.6 -7.6M255.1 484.2l7.6 7.6m-7.6 0l7.6 -7.6M247.8 421.2l7.6 7.6m-7.6 0l7.6 -7.6M255.2 492.9l7.6 7.6m-7.6 0l7.6 -7.6M258.8 507.1l7.6 7.6m-7.6 0l7.6 -7.6M256.8 495.7l7.6 7.6m-7.6 0l7.6 -7.6M255.6 471.1l7.6 7.6m-7.6 0l7.6 -7.6M258.4 501l7.6 7.6m-7.6 0l7.6 -7.6M255.4 464.4l7.6 7.6m-7.6 0l7.6 -7.6M253.9 455.3l7.6 7.6m-7.6 0l7.6 -7.6M247.9 424l7.6 7.6m-7.6 0l7.6 -7.6M253.7 457.2l7.6 7.6m-7.6 0l7.6 -7.6M251.6 446.9l7.6 7.6m-7.6 0l7.6 -7.6M247.5 428.5l7.6 7.6m-7.6 0l7.6 -7.6M252.2 447.9l7.6 7.6m-7.6 0l7.6 -7.6M255.4 500.6l7.6 7.6m-7.6 0l7.6 -7.6M252.9 457l7.6 7.6m-7.6 0l7.6 -7.6M256.2 478.3l7.6 7.6m-7.6 0l7.6 -7.6M252.3 432.7l7.6 7.6m-7.6 0l7.6 -7.6M249.7 438.3l7.6 7.6m-7.6 0l7.6 -7.6M255.1 486.7l7.6 7.6m-7.6 0l7.6 -7.6M249.4 434.7l7.6 7.6m-7.6 0l7.6 -7.6M248.2 424.1l7.6 7.6m-7.6 0l7.6 -7.6M258.3 502.2l7.6 7.6m-7.6 0l7.6 -7.6M256.3 479.6l7.6 7.6m-7.6 0l7.6 -7.6M249.3 428.5l7.6 7.6m-7.6 0l7.6 -7.6M247.5 424.8l7.6 7.6m-7.6 0l7.6 -7.6M249.7 427.7l7.6 7.6m-7.6 0l7.6 -7.6M257.4 502.8l7.6 7.6m-7.6 0l7.6 -7.6M250.6 435.8l7.6 7.6m-7.6 0l7.6 -7.6M255.6 470l7.6 7.6m-7.6 0l7.6 -7.6M249.8 430l7.6 7.6m-7.6 0l7.6 -7.6M252.2 446l7.6 7.6m-7.6 0l7.6 -7.6M247.9 429l7.6 7.6m-7.6 0l7.6 -7.6M249.1 425.1l7.6 7.6m-7.6 0l7.6 -7.6M254.4 480.7l7.6 7.6m-7.6 0l7.6 -7.6M247.8 424.2l7.6 7.6m-7.6 0l7.6 -7.6M253.3 461l7.6 7.6m-7.6 0l7.6 -7.6M250.3 435.1l7.6 7.6m-7.6 0l7.6 -7.6M252.8 451.5l7.6 7.6m-7.6 0l7.6 -7.6M250 442.3l7.6 7.6m-7.6 0l7.6 -7.6M251.7 439.1l7.6 7.6m-7.6 0l7.6 -7.6M254.7 469.6l7.6 7.6m-7.6 0l7.6 -7.6M254.9 452.9l7.6 7.6m-7.6 0l7.6 -7.6M250.7 427.5l7.6 7.6m-7.6 0l7.6 -7.6M255.2 468l7.6 7.6m-7.6 0l7.6 -7.6M255.7 494.3l7.6 7.6m-7.6 0l7.6 -7.6M249.6 436.6l7.6 7.6m-7.6 0l7.6 -7.6M252 436.2l7.6 7.6m-7.6 0l7.6 -7.6M249.8 430.5l7.6 7.6m-7.6 0l7.6 -7.6M253 452.2l7.6 7.6m-7.6 0l7.6 -7.6M256.1 480.4l7.6 7.6m-7.6 0l7.6 -7.6M253.7 466.4l7.6 7.6m-7.6 0l7.6 -7.6M258.8 506.4l7.6 7.6m-7.6 0l7.6 -7.6M252.7 444.5l7.6 7.6m-7.6 0l7.6 -7.6M254.2 483.5l7.6 7.6m-7.6 0l7.6 -7.6M255.2 470.7l7.6 7.6m-7.6 0l7.6 -7.6M257.9 490.5l7.6 7.6m-7.6 0l7.6 -7.6M253.8 455.8l7.6 7.6m-7.6 0l7.6 -7.6M256.8 503.1l7.6 7.6m-7.6 0l7.6 -7.6M251.3 445.6l7.6 7.6m-7.6 0l7.6 -7.6M254.8 460l7.6 7.6m-7.6 0l7.6 -7.6M251.7 454.9l7.6 7.6m-7.6 0l7.6 -7.6M256.7 499.8l7.6 7.6m-7.6 0l7.6 -7.6M249.1 423.2l7.6 7.6m-7.6 0l7.6 -7.6M255.1 488l7.6 7.6m-7.6 0l7.6 -7.6M254.9 474.4l7.6 7.6m-7.6 0l7.6 -7.6M255.4 484.1l7.6 7.6m-7.6 0l7.6 -7.6M256.3 469.7l7.6 7.6m-7.6 0l7.6 -7.6M254.1 449.6l7.6 7.6m-7.6 0l7.6 -7.6M254.9 467.5l7.6 7.6m-7.6 0l7.6 -7.6M247.6 433.2l7.6 7.6m-7.6 0l7.6 -7.6M254.9 463.4l7.6 7.6m-7.6 0l7.6 -7.6M253.1 465l7.6 7.6m-7.6 0l7.6 -7.6M250.2 434.5l7.6 7.6m-7.6 0l7.6 -7.6M251.4 431.4l7.6 7.6m-7.6 0l7.6 -7.6M255 467.2l7.6 7.6m-7.6 0l7.6 -7.6" stroke="#10a8e8" stroke-width="2" fill="none"/>
<path d="M262.5 513.4 262.7 511.4 262.9 511.4 263.1 510.9 263.2 509.6 263.4 507.4 263.6 506.4 263.8 506.4 264 505.4 264.2 501.7 264.4 501.4 264.5 497.8 264.7 496.1 264.9 494.7 265.1 492.8 265.3 489.6 265.5 488.7 265.7 485.6 265.8 482.8 266 480.9 266.2 480.3 266.4 476.8 266.6 474.9 266.8 473.7 267 471.1 267.2 469.9 267.3 467.7 267.5 464.4 267.7 463.1 267.9 461.7 268.1 459.7 268.3 458.2 268.5 454.5 268.6 453.5 268.8 452.2 269 450.4 269.2 450.6 269.4 447.8 269.6 446.9 269.8 445 269.9 443.2 270.1 443.3 270.3 442 270.5 439.9 270.7 438.6 270.9 438.3 271.1 437.2 271.2 436.4 271.4 436.9 271.6 434.5 271.8 435.4 272 434.3 272.2 433.1 272.4 431.8 272.5 432.6 272.7 431.8 272.9 430.3 273.1 429.7 273.3 429.2 273.5 429.4 273.7 428.2" fill="none" stroke="#10a8e8" stroke-width="8" stroke-linejoin="round" stroke-linecap="round"/>
<path d="M266.8 427.5l7.6 7.6m-7.6 0l7.6 -7.6M265.5 441.3l7.6 7.6m-7.6 0l7.6 -7.6M268 435.8l7.6 7.6m-7.6 0l7.6 -7.6M263.7 468.9l7.6 7.6m-7.6 0l7.6 -7.6M261.6 492.8l7.6 7.6m-7.6 0l7.6 -7.6M265.8 447.1l7.6 7.6m-7.6 0l7.6 -7.6M265.4 440.2l7.6 7.6m-7.6 0l7.6 -7.6M269.2 430.1l7.6 7.6m-7.6 0l7.6 -7.6M263.9 449.2l7.6 7.6m-7.6 0l7.6 -7.6M260.7 489.7l7.6 7.6m-7.6 0l7.6 -7.6M265.9 435.1l7.6 7.6m-7.6 0l7.6 -7.6M263.8 472l7.6 7.6m-7.6 0l7.6 -7.6M270.9 418.3l7.6 7.6m-7.6 0l7.6 -7.6M265.2 442.4l7.6 7.6m-7.6 0l7.6 -7.6M261.4 470.8l7.6 7.6m-7.6 0l7.6 -7.6M266.7 435.5l7.6 7.6m-7.6 0l7.6 -7.6M264.5 454l7.6 7.6m-7.6 0l7.6 -7.6M260.3 491.5l7.6 7.6m-7.6 0l7.6 -7.6M266.9 434.9l7.6 7.6m-7.6 0l7.6 -7.6M259.7 503.6l7.6 7.6m-7.6 0l7.6 -7.6M260.9 487l7.6 7.6m-7.6 0l7.6 -7.6M260.4 478.2l7.6 7.6m-7.6 0l7.6 -7.6M262.6 465.4l7.6 7.6m-7.6 0l7.6 -7.6M264.4 460.5l7.6 7.6m-7.6 0l7.6 -7.6M258.7 513.9l7.6 7.6m-7.6 0l7.6 -7.6M264.3 460.5l7.6 7.6m-7.6 0l7.6 -7.6M262.6 477.3l7.6 7.6m-7.6 0l7.6 -7.6M267 441.9l7.6 7.6m-7.6 0l7.6 -7.6M264.2 440.4l7.6 7.6m-7.6 0l7.6 -7.6M266.7 428.4l7.6 7.6m-7.6 0l7.6 -7.6M265.3 438.6l7.6 7.6m-7.6 0l7.6 -7.6M261 500.1l7.6 7.6m-7.6 0l7.6 -7.6M258.6 501.7l7.6 7.6m-7.6 0l7.6 -7.6M261.7 485l7.6 7.6m-7.6 0l7.6 -7.6M259.7 505.6l7.6 7.6m-7.6 0l7.6 -7.6M260.5 499.2l7.6 7.6m-7.6 0l7.6 -7.6M269.3 430.5l7.6 7.6m-7.6 0l7.6 -7.6M265 447.4l7.6 7.6m-7.6 0l7.6 -7.6M265.8 436.3l7.6 7.6m-7.6 0l7.6 -7.6M271.1 418.9l7.6 7.6m-7.6 0l7.6 -7.6M267.4 435.7l7.6 7.6m-7.6 0l7.6 -7.6M268.2 425.4l7.6 7.6m-7.6 0l7.6 -7.6M266.9 438.3l7.6 7.6m-7.6 0l7.6 -7.6M262.9 467.1l7.6 7.6m-7.6 0l7.6 -7.6M266 436.6l7.6 7.6m-7.6 0l7.6 -7.6M257.6 505.4l7.6 7.6m-7.6 0l7.6 -7.6M263.6 452.8l7.6 7.6m-7.6 0l7.6 -7.6M260.1 495.9l7.6 7.6m-7.6 0l7.6 -7.6M262.7 471.8l7.6 7.6m-7.6 0l7.6 -7.6M264.3 445.8l7.6 7.6m-7.6 0l7.6 -7.6M262.2 483.3l7.6 7.6m-7.6 0l7.6 -7.6M263.6 478.3l7.6 7.6m-7.6 0l7.6 -7.6M263.9 451.3l7.6 7.6m-7.6 0l7.6 -7.6M267.2 437.7l7.6 7.6m-7.6 0l7.6 -7.6M268.6 432.6l7.6 7.6m-7.6 0l7.6 -7.6M268.1 429.3l7.6 7.6m-7.6 0l7.6 -7.6M268.8 436.9l7.6 7.6m-7.6 0l7.6 -7.6M260.3 496.6l7.6 7.6m-7.6 0l7.6 -7.6M269.1 431.3l7.6 7.6m-7.6 0l7.6 -7.6M264.7 451.6l7.6 7.6m-7.6 0l7.6 -7.6M266.4 427.4l7.6 7.6m-7.6 0l7.6 -7.6M261.9 491l7.6 7.6m-7.6 0l7.6 -7.6M263.2 474.4l7.6 7.6m-7.6 0l7.6 -7.6M262.4 475l7.6 7.6m-7.6 0l7.6 -7.6M258.5 505.2l7.6 7.6m-7.6 0l7.6 -7.6M260.2 481.7l7.6 7.6m-7.6 0l7.6 -7.6M263.9 465.1l7.6 7.6m-7.6 0l7.6 -7.6M261.5 498.7l7.6 7.6m-7.6 0l7.6 -7.6M268 434.2l7.6 7.6m-7.6 0l7.6 -7.6M266 444.3l7.6 7.6m-7.6 0l7.6 -7.6M269.2 434.2l7.6 7.6m-7.6 0l7.6 -7.6M262.8 464.1l7.6 7.6m-7.6 0l7.6 -7.6M261.2 473.6l7.6 7.6m-7.6 0l7.6 -7.6M260.3 511.7l7.6 7.6m-7.6 0l7.6 -7.6M261.3 490.8l7.6 7.6m-7.6 0l7.6 -7.6M265.6 442.5l7.6 7.6m-7.6 0l7.6 -7.6M263.9 447.6l7.6 7.6m-7.6 0l7.6 -7.6M262.1 480.4l7.6 7.6m-7.6 0l7.6 -7.6M265.9 434.1l7.6 7.6m-7.6 0l7.6 -7.6M261.8 481.1l7.6 7.6m-7.6 0l7.6 -7.6M262.5 484.8l7.6 7.6m-7.6 0l7.6 -7.6M262.4 479.7l7.6 7.6m-7.6 0l7.6 -7.6M261.9 479.3l7.6 7.6m-7.6 0l7.6 -7.6M265.6 462l7.6 7.6m-7.6 0l7.6 -7.6M266.9 434.2l7.6 7.6m-7.6 0l7.6 -7.6M265.3 449.3l7.6 7.6m-7.6 0l7.6 -7.6M269.1 432.3l7.6 7.6m-7.6 0l7.6 -7.6M263.2 477.8l7.6 7.6m-7.6 0l7.6 -7.6M262.4 495.1l7.6 7.6m-7.6 0l7.6 -7.6M262.8 473l7.6 7.6m-7.6 0l7.6 -7.6M261.8 497.8l7.6 7.6m-7.6 0l7.6 -7.6M267.5 430l7.6 7.6m-7.6 0l7.6 -7.6M259.5 503.3l7.6 7.6m-7.6 0l7.6 -7.6M263.3 464.6l7.6 7.6m-7.6 0l7.6 -7.6M261.3 474.3l7.6 7.6m-7.6 0l7.6 -7.6M263.3 465.1l7.6 7.6m-7.6 0l7.6 -7.6M260.3 495.2l7.6 7.6m-7.6 0l7.6 -7.6M265 460l7.6 7.6m-7.6 0l7.6 -7.6M258.8 498.9l7.6 7.6m-7.6 0l7.6 -7.6M267.1 429.7l7.6 7.6m-7.6 0l7.6 -7.6M268.5 430l7.6 7.6m-7.6 0l7.6 -7.6M264 456.6l7.6 7.6m-7.6 0l7.6 -7.6M266 438.2l7.6 7.6m-7.6 0l7.6 -7.6M262.4 477.1l7.6 7.6m-7.6 0l7.6 -7.6M262.7 463.1l7.6 7.6m-7.6 0l7.6 -7.6M260.7 494.2l7.6 7.6m-7.6 0l7.6 -7.6M261.1 499.6l7.6 7.6m-7.6 0l7.6 -7.6M268.7 430l7.6 7.6m-7.6 0l7.6 -7.6M262.6 472.7l7.6 7.6m-7.6 0l7.6 -7.6M260.3 500.3l7.6 7.6m-7.6 0l7.6 -7.6M258 511.9l7.6 7.6m-7.6 0l7.6 -7.6M259.8 502.6l7.6 7.6m-7.6 0l7.6 -7.6M260.3 497.7l7.6 7.6m-7.6 0l7.6 -7.6M262.4 491.6l7.6 7.6m-7.6 0l7.6 -7.6M263.8 458.6l7.6 7.6m-7.6 0l7.6 -7.6M257.8 504l7.6 7.6m-7.6 0l7.6 -7.6M260.8 494l7.6 7.6m-7.6 0l7.6 -7.6M268 425.4l7.6 7.6m-7.6 0l7.6 -7.6M265.1 441l7.6 7.6m-7.6 0l7.6 -7.6M260.6 497.6l7.6 7.6m-7.6 0l7.6 -7.6M261.2 475.8l7.6 7.6m-7.6 0l7.6 -7.6M262.7 475.2l7.6 7.6m-7.6 0l7.6 -7.6M264.6 452.3l7.6 7.6m-7.6 0l7.6 -7.6M265.1 445.3l7.6 7.6m-7.6 0l7.6 -7.6M264.3 453.2l7.6 7.6m-7.6 0l7.6 -7.6M261 492l7.6 7.6m-7.6 0l7.6 -7.6M265.1 458l7.6 7.6m-7.6 0l7.6 -7.6M261.9 497.2l7.6 7.6m-7.6 0l7.6 -7.6M267.6 431.2l7.6 7.6m-7.6 0l7.6 -7.6M262.1 488.1l7.6 7.6m-7.6 0l7.6 -7.6M269.2 426.8l7.6 7.6m-7.6 0l7.6 -7.6M268.3 428.9l7.6 7.6m-7.6 0l7.6 -7.6M266.8 443.9l7.6 7.6m-7.6 0l7.6 -7.6M268 425.7l7.6 7.6m-7.6 0l7.6 -7.6M261.7 493.1l7.6 7.6m-7.6 0l7.6 -7.6M264.7 454.2l7.6 7.6m-7.6 0l7.6 -7.6M259.7 491.1l7.6 7.6m-7.6 0l7.6 -7.6M261 471.9l7.6 7.6m-7.6 0l7.6 -7.6M261.4 503.1l7.6 7.6m-7.6 0l7.6 -7.6M262.8 473.1l7.6 7.6m-7.6 0l7.6 -7.6M270.9 420l7.6 7.6m-7.6 0l7.6 -7.6M261.1 490.1l7.6 7.6m-7.6 0l7.6 -7.6M261.6 469.4l7.6 7.6m-7.6 0l7.6 -7.6M268.2 428.8l7.6 7.6m-7.6 0l7.6 -7.6M269.7 425l7.6 7.6m-7.6 0l7.6 -7.6M264.1 447.5l7.6 7.6m-7.6 0l7.6 -7.6M262 483.9l7.6 7.6m-7.6 0l7.6 -7.6M263.3 454.3l7.6 7.6m-7.6 0l7.6 -7.6M266.3 433.1l7.6 7.6m-7.6 0l7.6 -7.6M270.7 422.9l7.6 7.6m-7.6 0l7.6 -7.6" stroke="#10a8e8" stroke-width="2" fill="none"/>
<path d="M262.5 512.3 262.4 512.5 262.2 511.5 262.1 509.9 262 509.4 261.8 508.8 261.7 507.8 261.6 508.1 261.4 507.4 261.3 506.5 261.1 504.9 261 503.7 260.9 503.5 260.7 501.4 260.6 499.2 260.5 498.8 260.3 497.1 260.2 494.8 260.1 494.2 259.9 492.4 259.8 491.8 259.7 490.4 259.5 487.6 259.4 485.5 259.3 485.7 259.1 483.1 259 481.2 258.8 480.4 258.7 478 258.6 478 258.4 475.5 258.3 475 258.2 472.8 258 470.4 257.9 470.3 257.8 468 257.6 466.6 257.5 464.4 257.4 464.2 257.2 461.7 257.1 461.7 257 459.5 256.8 457.5 256.7 456.5 256.5 454.6 256.4 454.3 256.3 453.9 256.1 453 256 452.3 255.9 450.8 255.7 449.4 255.6 447.8 255.5 446.6 255.3 445.3 255.2 445.7 255.1 443.7 254.9 443.1 254.8 441.3 254.7 441.7 254.5 440.7 254.4 438.3" fill="none" stroke="#60e4ff" stroke-width="8" stroke-linejoin="round" stroke-linecap="round"/>
<path d="M257.1 505.4l7.6 7.6m-7.6 0l7.6 -7.6M253.9 483.9l7.6 7.6m-7.6 0l7.6 -7.6M251.4 437.6l7.6 7.6m-7.6 0l7.6 -7.6M256.5 506.4l7.6 7.6m-7.6 0l7.6 -7.6M256.1 484.7l7.6 7.6m-7.6 0l7.6 -7.6M253.4 465.6l7.6 7.6m-7.6 0l7.6 -7.6M253.9 457.9l7.6 7.6m-7.6 0l7.6 -7.6M251.8 453l7.6 7.6m-7.6 0l7.6 -7.6M257.4 503.1l7.6 7.6m-7.6 0l7.6 -7.6M252.7 454.8l7.6 7.6m-7.6 0l7.6 -7.6M257 491.1l7.6 7.6m-7.6 0l7.6 -7.6M255.8 462.8l7.6 7.6m-7.6 0l7.6 -7.6M252.1 451.9l7.6 7.6m-7.6 0l7.6 -7.6M252.1 464.2l7.6 7.6m-7.6 0l7.6 -7.6M255.8 489.6l7.6 7.6m-7.6 0l7.6 -7.6M255.9 490.8l7.6 7.6m-7.6 0l7.6 -7.6M258.4 505.9l7.6 7.6m-7.6 0l7.6 -7.6M259.6 511l7.6 7.6m-7.6 0l7.6 -7.6M257.1 503.6l7.6 7.6m-7.6 0l7.6 -7.6M252.4 460.7l7.6 7.6m-7.6 0l7.6 -7.6M255.1 478.7l7.6 7.6m-7.6 0l7.6 -7.6M252.3 446.8l7.6 7.6m-7.6 0l7.6 -7.6M254.5 471.2l7.6 7.6m-7.6 0l7.6 -7.6M252.4 463.4l7.6 7.6m-7.6 0l7.6 -7.6M257.8 486.3l7.6 7.6m-7.6 0l7.6 -7.6M251.3 449l7.6 7.6m-7.6 0l7.6 -7.6M254.6 466.4l7.6 7.6m-7.6 0l7.6 -7.6M250.4 446.6l7.6 7.6m-7.6 0l7.6 -7.6M252.1 436.4l7.6 7.6m-7.6 0l7.6 -7.6M258.4 507.4l7.6 7.6m-7.6 0l7.6 -7.6M256.2 507.8l7.6 7.6m-7.6 0l7.6 -7.6M255.7 492.9l7.6 7.6m-7.6 0l7.6 -7.6M249.6 429.5l7.6 7.6m-7.6 0l7.6 -7.6M252.1 436l7.6 7.6m-7.6 0l7.6 -7.6M256.1 505l7.6 7.6m-7.6 0l7.6 -7.6M249.7 433.1l7.6 7.6m-7.6 0l7.6 -7.6M255.9 495.2l7.6 7.6m-7.6 0l7.6 -7.6M256.2 473.1l7.6 7.6m-7.6 0l7.6 -7.6M256.5 497.4l7.6 7.6m-7.6 0l7.6 -7.6M252.2 442.1l7.6 7.6m-7.6 0l7.6 -7.6M252.9 465.2l7.6 7.6m-7.6 0l7.6 -7.6M253.9 483.3l7.6 7.6m-7.6 0l7.6 -7.6M252.7 456l7.6 7.6m-7.6 0l7.6 -7.6M254.5 477.4l7.6 7.6m-7.6 0l7.6 -7.6M256.7 497.7l7.6 7.6m-7.6 0l7.6 -7.6M251.9 458l7.6 7.6m-7.6 0l7.6 -7.6M249.9 445.9l7.6 7.6m-7.6 0l7.6 -7.6M256.6 492.4l7.6 7.6m-7.6 0l7.6 -7.6M258 501.5l7.6 7.6m-7.6 0l7.6 -7.6M253.8 447.4l7.6 7.6m-7.6 0l7.6 -7.6M255.2 475.3l7.6 7.6m-7.6 0l7.6 -7.6M256.6 481.5l7.6 7.6m-7.6 0l7.6 -7.6M252.2 435.4l7.6 7.6m-7.6 0l7.6 -7.6M256.3 480.8l7.6 7.6m-7.6 0l7.6 -7.6M253.3 460.7l7.6 7.6m-7.6 0l7.6 -7.6M253.7 465.8l7.6 7.6m-7.6 0l7.6 -7.6M252.7 462.4l7.6 7.6m-7.6 0l7.6 -7.6M253.6 458.3l7.6 7.6m-7.6 0l7.6 -7.6M255.2 487.1l7.6 7.6m-7.6 0l7.6 -7.6M257.2 510.5l7.6 7.6m-7.6 0l7.6 -7.6M254 452.9l7.6 7.6m-7.6 0l7.6 -7.6M252.5 444l7.6 7.6m-7.6 0l7.6 -7.6M254.6 450.5l7.6 7.6m-7.6 0l7.6 -7.6M252.8 459.9l7.6 7.6m-7.6 0l7.6 -7.6M256.8 506.1l7.6 7.6m-7.6 0l7.6 -7.6M256.5 496.4l7.6 7.6m-7.6 0l7.6 -7.6M254.1 471.8l7.6 7.6m-7.6 0l7.6 -7.6M253.4 447.4l7.6 7.6m-7.6 0l7.6 -7.6M251.8 443.1l7.6 7.6m-7.6 0l7.6 -7.6M255.2 474l7.6 7.6m-7.6 0l7.6 -7.6M257 479.8l7.6 7.6m-7.6 0l7.6 -7.6M253.9 480.2l7.6 7.6m-7.6 0l7.6 -7.6M252.3 447.8l7.6 7.6m-7.6 0l7.6 -7.6M258.1 498.7l7.6 7.6m-7.6 0l7.6 -7.6M252.3 451l7.6 7.6m-7.6 0l7.6 -7.6M258.5 502.5l7.6 7.6m-7.6 0l7.6 -7.6M254.9 454.7l7.6 7.6m-7.6 0l7.6 -7.6M254.2 477.4l7.6 7.6m-7.6 0l7.6 -7.6M250.7 441.5l7.6 7.6m-7.6 0l7.6 -7.6M255.3 492.7l7.6 7.6m-7.6 0l7.6 -7.6M249.7 445.7l7.6 7.6m-7.6 0l7.6 -7.6M253.1 458.3l7.6 7.6m-7.6 0l7.6 -7.6M255.6 484l7.6 7.6m-7.6 0l7.6 -7.6M253.5 450.7l7.6 7.6m-7.6 0l7.6 -7.6M254.5 471.3l7.6 7.6m-7.6 0l7.6 -7.6M256.6 484.4l7.6 7.6m-7.6 0l7.6 -7.6M249.3 440.1l7.6 7.6m-7.6 0l7.6 -7.6M258.7 514.9l7.6 7.6m-7.6 0l7.6 -7.6M258.1 509.5l7.6 7.6m-7.6 0l7.6 -7.6M254.2 465.4l7.6 7.6m-7.6 0l7.6 -7.6M254.8 486l7.6 7.6m-7.6 0l7.6 -7.6M253.3 453.6l7.6 7.6m-7.6 0l7.6 -7.6M255.1 466.2l7.6 7.6m-7.6 0l7.6 -7.6M252.8 463l7.6 7.6m-7.6 0l7.6 -7.6M257 484.7l7.6 7.6m-7.6 0l7.6 -7.6M256.1 489l7.6 7.6m-7.6 0l7.6 -7.6M254.9 471.8l7.6 7.6m-7.6 0l7.6 -7.6M253.3 461.1l7.6 7.6m-7.6 0l7.6 -7.6M258.7 501.2l7.6 7.6m-7.6 0l7.6 -7.6M253.9 456.5l7.6 7.6m-7.6 0l7.6 -7.6M253.3 453.4l7.6 7.6m-7.6 0l7.6 -7.6M258.3 506.8l7.6 7.6m-7.6 0l7.6 -7.6M253 473.5l7.6 7.6m-7.6 0l7.6 -7.6M251 436.9l7.6 7.6m-7.6 0l7.6 -7.6M257.8 501.5l7.6 7.6m-7.6 0l7.6 -7.6M254.5 480.4l7.6 7.6m-7.6 0l7.6 -7.6M252.6 435l7.6 7.6m-7.6 0l7.6 -7.6M249.9 434.1l7.6 7.6m-7.6 0l7.6 -7.6M251.5 436.6l7.6 7.6m-7.6 0l7.6 -7.6M257.8 507l7.6 7.6m-7.6 0l7.6 -7.6M253.7 476.4l7.6 7.6m-7.6 0l7.6 -7.6M255.3 480.6l7.6 7.6m-7.6 0l7.6 -7.6M251.1 452l7.6 7.6m-7.6 0l7.6 -7.6M252.7 442.2l7.6 7.6m-7.6 0l7.6 -7.6M257.1 495.6l7.6 7.6m-7.6 0l7.6 -7.6M256.9 506.8l7.6 7.6m-7.6 0l7.6 -7.6M253.8 475l7.6 7.6m-7.6 0l7.6 -7.6M254.1 467.5l7.6 7.6m-7.6 0l7.6 -7.6M251.6 448.6l7.6 7.6m-7.6 0l7.6 -7.6M251.3 441.5l7.6 7.6m-7.6 0l7.6 -7.6M256.1 489.8l7.6 7.6m-7.6 0l7.6 -7.6M256.7 490.1l7.6 7.6m-7.6 0l7.6 -7.6M257.7 497.2l7.6 7.6m-7.6 0l7.6 -7.6M253 452.1l7.6 7.6m-7.6 0l7.6 -7.6M250.8 441.7l7.6 7.6m-7.6 0l7.6 -7.6M254.2 454.6l7.6 7.6m-7.6 0l7.6 -7.6M256.5 483.3l7.6 7.6m-7.6 0l7.6 -7.6M257.5 507.7l7.6 7.6m-7.6 0l7.6 -7.6M255.6 491l7.6 7.6m-7.6 0l7.6 -7.6M254 463l7.6 7.6m-7.6 0l7.6 -7.6M253 454.8l7.6 7.6m-7.6 0l7.6 -7.6M251.4 449.1l7.6 7.6m-7.6 0l7.6 -7.6M257.1 495.4l7.6 7.6m-7.6 0l7.6 -7.6M254.1 486.7l7.6 7.6m-7.6 0l7.6 -7.6M251.8 434l7.6 7.6m-7.6 0l7.6 -7.6M259.2 504.2l7.6 7.6m-7.6 0l7.6 -7.6M252.3 445.1l7.6 7.6m-7.6 0l7.6 -7.6M255.8 493l7.6 7.6m-7.6 0l7.6 -7.6M252.2 445.2l7.6 7.6m-7.6 0l7.6 -7.6M255.6 470l7.6 7.6m-7.6 0l7.6 -7.6M253.4 455.7l7.6 7.6m-7.6 0l7.6 -7.6M251.1 434l7.6 7.6m-7.6 0l7.6 -7.6M253.8 484.7l7.6 7.6m-7.6 0l7.6 -7.6M255.2 492.4l7.6 7.6m-7.6 0l7.6 -7.6M252.4 449.4l7.6 7.6m-7.6 0l7.6 -7.6M253.8 461.5l7.6 7.6m-7.6 0l7.6 -7.6M251.9 454.3l7.6 7.6m-7.6 0l7.6 -7.6M252.8 461.2l7.6 7.6m-7.6 0l7.6 -7.6M255.2 482.5l7.6 7.6m-7.6 0l7.6 -7.6M257.9 505.5l7.6 7.6m-7.6 0l7.6 -7.6" stroke="#60e4ff" stroke-width="2" fill="none"/>
<path d="M262.5 512.5 262.6 512.2 262.8 512.4 262.9 511.5 263 510 263.2 509.1 263.3 508.7 263.4 508.1 263.6 507.4 263.7 506.8 263.9 506.4 264 504.5 264.1 504.1 264.3 500.8 264.4 500.2 264.5 498.3 264.7 496.3 264.8 495.5 264.9 493.8 265.1 492.1 265.2 490 265.3 489.1 265.5 487.2 265.6 485.4 265.7 485.1 265.9 482.8 266 481.8 266.2 480 266.3 479.5 266.4 476.2 266.6 474.7 266.7 474.8 266.8 473 267 471.7 267.1 470 267.2 468.3 267.4 466.5 267.5 465.5 267.6 463.6 267.8 462.3 267.9 460.7 268 460.2 268.2 457.4 268.3 457.5 268.5 456 268.6 453.5 268.7 452.5 268.9 451.4 269 450.5 269.1 451.2 269.3 449.1 269.4 449 269.5 447.4 269.7 445.7 269.8 445.2 269.9 443.6 270.1 444.1 270.2 442 270.3 441 270.5 439.1 270.6 439.6" fill="none" stroke="#60e4ff" stroke-width="8" stroke-linejoin="round" stroke-linecap="round"/>
<path d="M264.2 451l7.6 7.6m-7.6 0l7.6 -7.6M265.2 440.5l7.6 7.6m-7.6 0l7.6 -7.6M266.1 450.7l7.6 7.6m-7.6 0l7.6 -7.6M263.2 454.3l7.6 7.6m-7.6 0l7.6 -7.6M264.3 445.7l7.6 7.6m-7.6 0l7.6 -7.6M265.9 429.7l7.6 7.6m-7.6 0l7.6 -7.6M260.5 482.1l7.6 7.6m-7.6 0l7.6 -7.6M262.8 458.8l7.6 7.6m-7.6 0l7.6 -7.6M263.8 469.4l7.6 7.6m-7.6 0l7.6 -7.6M264.4 462.7l7.6 7.6m-7.6 0l7.6 -7.6M262.5 491.4l7.6 7.6m-7.6 0l7.6 -7.6M261.9 498.2l7.6 7.6m-7.6 0l7.6 -7.6M265.7 441.4l7.6 7.6m-7.6 0l7.6 -7.6M262.1 480.4l7.6 7.6m-7.6 0l7.6 -7.6M265.5 442.3l7.6 7.6m-7.6 0l7.6 -7.6M267.2 447.4l7.6 7.6m-7.6 0l7.6 -7.6M259.7 503.6l7.6 7.6m-7.6 0l7.6 -7.6M258 502.9l7.6 7.6m-7.6 0l7.6 -7.6M260 503l7.6 7.6m-7.6 0l7.6 -7.6M265.4 458.1l7.6 7.6m-7.6 0l7.6 -7.6M259.5 502.7l7.6 7.6m-7.6 0l7.6 -7.6M261.5 479.4l7.6 7.6m-7.6 0l7.6 -7.6M260.1 503.1l7.6 7.6m-7.6 0l7.6 -7.6M266.7 440.2l7.6 7.6m-7.6 0l7.6 -7.6M264.8 453.2l7.6 7.6m-7.6 0l7.6 -7.6M265 452.5l7.6 7.6m-7.6 0l7.6 -7.6M263.3 460.4l7.6 7.6m-7.6 0l7.6 -7.6M260.6 480.1l7.6 7.6m-7.6 0l7.6 -7.6M263.9 453.7l7.6 7.6m-7.6 0l7.6 -7.6M260.7 498.9l7.6 7.6m-7.6 0l7.6 -7.6M260.8 479.3l7.6 7.6m-7.6 0l7.6 -7.6M266.9 448.4l7.6 7.6m-7.6 0l7.6 -7.6M265.7 448.4l7.6 7.6m-7.6 0l7.6 -7.6M262.2 488.3l7.6 7.6m-7.6 0l7.6 -7.6M262.6 463.8l7.6 7.6m-7.6 0l7.6 -7.6M259.2 506.6l7.6 7.6m-7.6 0l7.6 -7.6M266.8 440.6l7.6 7.6m-7.6 0l7.6 -7.6M258.1 504.8l7.6 7.6m-7.6 0l7.6 -7.6M267.8 432.9l7.6 7.6m-7.6 0l7.6 -7.6M266.8 439.5l7.6 7.6m-7.6 0l7.6 -7.6M265.6 439.7l7.6 7.6m-7.6 0l7.6 -7.6M258.6 511.6l7.6 7.6m-7.6 0l7.6 -7.6M263.2 474.5l7.6 7.6m-7.6 0l7.6 -7.6M262.9 482.6l7.6 7.6m-7.6 0l7.6 -7.6M265.8 459.4l7.6 7.6m-7.6 0l7.6 -7.6M260.4 503.3l7.6 7.6m-7.6 0l7.6 -7.6M264.7 442l7.6 7.6m-7.6 0l7.6 -7.6M265.3 445.6l7.6 7.6m-7.6 0l7.6 -7.6M264.4 458.9l7.6 7.6m-7.6 0l7.6 -7.6M264.6 456.8l7.6 7.6m-7.6 0l7.6 -7.6M260.4 504.1l7.6 7.6m-7.6 0l7.6 -7.6M259.2 495.9l7.6 7.6m-7.6 0l7.6 -7.6M264.9 453.5l7.6 7.6m-7.6 0l7.6 -7.6M266.8 431.6l7.6 7.6m-7.6 0l7.6 -7.6M262 483.2l7.6 7.6m-7.6 0l7.6 -7.6M265.8 449.7l7.6 7.6m-7.6 0l7.6 -7.6M260.4 506.7l7.6 7.6m-7.6 0l7.6 -7.6M263.5 470.2l7.6 7.6m-7.6 0l7.6 -7.6M260.9 497l7.6 7.6m-7.6 0l7.6 -7.6M266.9 447.6l7.6 7.6m-7.6 0l7.6 -7.6M263.4 473.9l7.6 7.6m-7.6 0l7.6 -7.6M265 453l7.6 7.6m-7.6 0l7.6 -7.6M259 505.1l7.6 7.6m-7.6 0l7.6 -7.6M262.9 462.3l7.6 7.6m-7.6 0l7.6 -7.6M266.4 436.2l7.6 7.6m-7.6 0l7.6 -7.6M264.6 452.5l7.6 7.6m-7.6 0l7.6 -7.6M264.8 442.7l7.6 7.6m-7.6 0l7.6 -7.6M263.7 452.9l7.6 7.6m-7.6 0l7.6 -7.6M263.8 466.2l7.6 7.6m-7.6 0l7.6 -7.6M262.9 480.9l7.6 7.6m-7.6 0l7.6 -7.6M260.3 496.3l7.6 7.6m-7.6 0l7.6 -7.6M267.5 434.6l7.6 7.6m-7.6 0l7.6 -7.6M263.1 477.9l7.6 7.6m-7.6 0l7.6 -7.6M264.2 466.4l7.6 7.6m-7.6 0l7.6 -7.6M262.8 473.1l7.6 7.6m-7.6 0l7.6 -7.6M259.2 497.6l7.6 7.6m-7.6 0l7.6 -7.6M266 441.7l7.6 7.6m-7.6 0l7.6 -7.6M265.4 434.3l7.6 7.6m-7.6 0l7.6 -7.6M267.1 435.8l7.6 7.6m-7.6 0l7.6 -7.6M262.9 461.1l7.6 7.6m-7.6 0l7.6 -7.6M264.2 451.9l7.6 7.6m-7.6 0l7.6 -7.6M266.6 441.2l7.6 7.6m-7.6 0l7.6 -7.6M260.6 489.4l7.6 7.6m-7.6 0l7.6 -7.6M261.8 499.1l7.6 7.6m-7.6 0l7.6 -7.6M264.7 448.1l7.6 7.6m-7.6 0l7.6 -7.6M265 440.1l7.6 7.6m-7.6 0l7.6 -7.6M266.4 440.2l7.6 7.6m-7.6 0l7.6 -7.6M266.6 434.2l7.6 7.6m-7.6 0l7.6 -7.6M260.1 489.6l7.6 7.6m-7.6 0l7.6 -7.6M261.2 488.8l7.6 7.6m-7.6 0l7.6 -7.6M261.6 475.7l7.6 7.6m-7.6 0l7.6 -7.6M265.4 432.2l7.6 7.6m-7.6 0l7.6 -7.6M265.9 443.3l7.6 7.6m-7.6 0l7.6 -7.6M259.9 498.6l7.6 7.6m-7.6 0l7.6 -7.6M261.6 489.1l7.6 7.6m-7.6 0l7.6 -7.6M262.2 476l7.6 7.6m-7.6 0l7.6 -7.6M261.4 478.3l7.6 7.6m-7.6 0l7.6 -7.6M262 462.7l7.6 7.6m-7.6 0l7.6 -7.6M260.4 480.5l7.6 7.6m-7.6 0l7.6 -7.6M262.6 474.7l7.6 7.6m-7.6 0l7.6 -7.6M261.7 481.9l7.6 7.6m-7.6 0l7.6 -7.6M260.7 491.7l7.6 7.6m-7.6 0l7.6 -7.6M265.5 445.2l7.6 7.6m-7.6 0l7.6 -7.6M264.9 441.4l7.6 7.6m-7.6 0l7.6 -7.6M258.2 502.8l7.6 7.6m-7.6 0l7.6 -7.6M262.5 466.6l7.6 7.6m-7.6 0l7.6 -7.6M259.5 506.2l7.6 7.6m-7.6 0l7.6 -7.6M263.6 482.1l7.6 7.6m-7.6 0l7.6 -7.6M262.8 474l7.6 7.6m-7.6 0l7.6 -7.6M266 456.8l7.6 7.6m-7.6 0l7.6 -7.6M261.8 493.7l7.6 7.6m-7.6 0l7.6 -7.6M266.5 453.4l7.6 7.6m-7.6 0l7.6 -7.6M261.9 466.5l7.6 7.6m-7.6 0l7.6 -7.6M260 499.3l7.6 7.6m-7.6 0l7.6 -7.6M263.2 463.8l7.6 7.6m-7.6 0l7.6 -7.6M265.9 452.7l7.6 7.6m-7.6 0l7.6 -7.6M259.4 499.8l7.6 7.6m-7.6 0l7.6 -7.6M263.3 480.4l7.6 7.6m-7.6 0l7.6 -7.6M262.6 468.6l7.6 7.6m-7.6 0l7.6 -7.6M265.3 460.8l7.6 7.6m-7.6 0l7.6 -7.6M262.9 481l7.6 7.6m-7.6 0l7.6 -7.6M259.8 501.3l7.6 7.6m-7.6 0l7.6 -7.6M264.6 454l7.6 7.6m-7.6 0l7.6 -7.6M265.6 442.2l7.6 7.6m-7.6 0l7.6 -7.6M259.7 501.1l7.6 7.6m-7.6 0l7.6 -7.6M265 442.9l7.6 7.6m-7.6 0l7.6 -7.6M264.6 439.2l7.6 7.6m-7.6 0l7.6 -7.6M261.8 500.2l7.6 7.6m-7.6 0l7.6 -7.6M261.1 481.6l7.6 7.6m-7.6 0l7.6 -7.6M261.6 471.6l7.6 7.6m-7.6 0l7.6 -7.6M260.6 495.8l7.6 7.6m-7.6 0l7.6 -7.6M261.4 502.3l7.6 7.6m-7.6 0l7.6 -7.6M261.1 503.9l7.6 7.6m-7.6 0l7.6 -7.6M265.4 448.2l7.6 7.6m-7.6 0l7.6 -7.6M264.5 456.1l7.6 7.6m-7.6 0l7.6 -7.6M265.3 443.5l7.6 7.6m-7.6 0l7.6 -7.6M258.6 504.4l7.6 7.6m-7.6 0l7.6 -7.6M264.3 448.9l7.6 7.6m-7.6 0l7.6 -7.6M259.4 502l7.6 7.6m-7.6 0l7.6 -7.6M262.1 488.1l7.6 7.6m-7.6 0l7.6 -7.6M262.8 484.9l7.6 7.6m-7.6 0l7.6 -7.6M265.7 435.7l7.6 7.6m-7.6 0l7.6 -7.6M264.2 450.3l7.6 7.6m-7.6 0l7.6 -7.6M260.8 483l7.6 7.6m-7.6 0l7.6 -7.6M265 441.5l7.6 7.6m-7.6 0l7.6 -7.6M266 439.4l7.6 7.6m-7.6 0l7.6 -7.6M261 488.1l7.6 7.6m-7.6 0l7.6 -7.6M265.6 446.6l7.6 7.6m-7.6 0l7.6 -7.6M258.4 504.1l7.6 7.6m-7.6 0l7.6 -7.6M264.8 446.2l7.6 7.6m-7.6 0l7.6 -7.6" stroke="#60e4ff" stroke-width="2" fill="none"/>
<text transform="translate(239.48 473.20) scale(0.991 1)" font-size="24.57">2</text>
<text transform="translate(240.26 424.80) scale(0.881 1)" font-size="24.93">4</text>
<text transform="translate(239.48 376.76) scale(1.005 1)" font-size="24.23">6</text>
<text transform="translate(239.75 328.76) scale(0.984 1)" font-size="24.23">8</text>
<line x1="114.5" y1="761.5" x2="114.5" y2="1103" stroke="#000" stroke-width="2.6"/>
<line x1="114.5" y1="1098.9" x2="123" y2="1098.9" stroke="#000" stroke-width="1.5"/>
<text transform="translate(92.77 1105.09) scale(0.834 1)" font-size="30.99">0</text>
<line x1="114.5" y1="1065.2" x2="119.5" y2="1065.2" stroke="#000" stroke-width="1.5"/>
<line x1="114.5" y1="1031.4" x2="123" y2="1031.4" stroke="#000" stroke-width="1.5"/>
<text transform="translate(92.45 1037.92) scale(0.858 1)" font-size="31.43">2</text>
<line x1="114.5" y1="997.7" x2="119.5" y2="997.7" stroke="#000" stroke-width="1.5"/>
<line x1="114.5" y1="963.9" x2="123" y2="963.9" stroke="#000" stroke-width="1.5"/>
<text transform="translate(93.31 970.44) scale(0.763 1)" font-size="31.88">4</text>
<line x1="114.5" y1="930.2" x2="119.5" y2="930.2" stroke="#000" stroke-width="1.5"/>
<line x1="114.5" y1="896.5" x2="123" y2="896.5" stroke="#000" stroke-width="1.5"/>
<text transform="translate(92.45 902.65) scale(0.870 1)" font-size="30.99">6</text>
<line x1="114.5" y1="862.7" x2="119.5" y2="862.7" stroke="#000" stroke-width="1.5"/>
<line x1="114.5" y1="829" x2="123" y2="829" stroke="#000" stroke-width="1.5"/>
<text transform="translate(92.74 835.17) scale(0.851 1)" font-size="30.99">8</text>
<line x1="114.5" y1="795.2" x2="119.5" y2="795.2" stroke="#000" stroke-width="1.5"/>
<line x1="114.5" y1="761.5" x2="123" y2="761.5" stroke="#000" stroke-width="1.5"/>
<text transform="translate(79.22 767.20) scale(0.835 1)" font-size="29.58">10</text>
<line x1="113.3" y1="1101.6" x2="944.5" y2="1101.6" stroke="#000" stroke-width="2.6"/>
<line x1="116.8" y1="1101.6" x2="116.8" y2="1094.1" stroke="#000" stroke-width="1.4"/>
<line x1="179" y1="1101.6" x2="179" y2="1097.6" stroke="#000" stroke-width="1.4"/>
<line x1="215.4" y1="1101.6" x2="215.4" y2="1097.6" stroke="#000" stroke-width="1.4"/>
<line x1="241.2" y1="1101.6" x2="241.2" y2="1097.6" stroke="#000" stroke-width="1.4"/>
<line x1="261.3" y1="1101.6" x2="261.3" y2="1097.6" stroke="#000" stroke-width="1.4"/>
<line x1="277.6" y1="1101.6" x2="277.6" y2="1097.6" stroke="#000" stroke-width="1.4"/>
<line x1="291.5" y1="1101.6" x2="291.5" y2="1097.6" stroke="#000" stroke-width="1.4"/>
<line x1="303.5" y1="1101.6" x2="303.5" y2="1097.6" stroke="#000" stroke-width="1.4"/>
<line x1="314" y1="1101.6" x2="314" y2="1097.6" stroke="#000" stroke-width="1.4"/>
<line x1="323.5" y1="1101.6" x2="323.5" y2="1094.1" stroke="#000" stroke-width="1.4"/>
<line x1="385.7" y1="1101.6" x2="385.7" y2="1097.6" stroke="#000" stroke-width="1.4"/>
<line x1="422.1" y1="1101.6" x2="422.1" y2="1097.6" stroke="#000" stroke-width="1.4"/>
<line x1="447.9" y1="1101.6" x2="447.9" y2="1097.6" stroke="#000" stroke-width="1.4"/>
<line x1="468" y1="1101.6" x2="468" y2="1097.6" stroke="#000" stroke-width="1.4"/>
<line x1="484.3" y1="1101.6" x2="484.3" y2="1097.6" stroke="#000" stroke-width="1.4"/>
<line x1="498.2" y1="1101.6" x2="498.2" y2="1097.6" stroke="#000" stroke-width="1.4"/>
<line x1="510.2" y1="1101.6" x2="510.2" y2="1097.6" stroke="#000" stroke-width="1.4"/>
<line x1="520.7" y1="1101.6" x2="520.7" y2="1097.6" stroke="#000" stroke-width="1.4"/>
<line x1="530.2" y1="1101.6" x2="530.2" y2="1094.1" stroke="#000" stroke-width="1.4"/>
<line x1="592.4" y1="1101.6" x2="592.4" y2="1097.6" stroke="#000" stroke-width="1.4"/>
<line x1="628.8" y1="1101.6" x2="628.8" y2="1097.6" stroke="#000" stroke-width="1.4"/>
<line x1="654.6" y1="1101.6" x2="654.6" y2="1097.6" stroke="#000" stroke-width="1.4"/>
<line x1="674.7" y1="1101.6" x2="674.7" y2="1097.6" stroke="#000" stroke-width="1.4"/>
<line x1="691" y1="1101.6" x2="691" y2="1097.6" stroke="#000" stroke-width="1.4"/>
<line x1="704.9" y1="1101.6" x2="704.9" y2="1097.6" stroke="#000" stroke-width="1.4"/>
<line x1="716.9" y1="1101.6" x2="716.9" y2="1097.6" stroke="#000" stroke-width="1.4"/>
<line x1="727.4" y1="1101.6" x2="727.4" y2="1097.6" stroke="#000" stroke-width="1.4"/>
<line x1="736.9" y1="1101.6" x2="736.9" y2="1094.1" stroke="#000" stroke-width="1.4"/>
<line x1="799.1" y1="1101.6" x2="799.1" y2="1097.6" stroke="#000" stroke-width="1.4"/>
<line x1="835.5" y1="1101.6" x2="835.5" y2="1097.6" stroke="#000" stroke-width="1.4"/>
<line x1="861.3" y1="1101.6" x2="861.3" y2="1097.6" stroke="#000" stroke-width="1.4"/>
<line x1="881.4" y1="1101.6" x2="881.4" y2="1097.6" stroke="#000" stroke-width="1.4"/>
<line x1="897.7" y1="1101.6" x2="897.7" y2="1097.6" stroke="#000" stroke-width="1.4"/>
<line x1="911.6" y1="1101.6" x2="911.6" y2="1097.6" stroke="#000" stroke-width="1.4"/>
<line x1="923.6" y1="1101.6" x2="923.6" y2="1097.6" stroke="#000" stroke-width="1.4"/>
<line x1="934.1" y1="1101.6" x2="934.1" y2="1097.6" stroke="#000" stroke-width="1.4"/>
<line x1="943.6" y1="1101.6" x2="943.6" y2="1094" stroke="#000" stroke-width="1.4"/>
<text transform="translate(89.82 1148.09) scale(0.798 1)" font-size="30.70">0.01</text>
<text transform="translate(303.88 1148.09) scale(0.832 1)" font-size="30.70">0.1</text>
<text transform="translate(522.05 1148.40) scale(0.692 1)" font-size="31.59">1</text>
<text transform="translate(722.54 1148.09) scale(0.840 1)" font-size="30.70">10</text>
<text transform="translate(923.48 1148.09) scale(0.824 1)" font-size="30.70">100</text>
<text transform="translate(776.27 745.45) scale(0.832 1)" font-size="46.45" font-weight="bold">(b)</text>
<text transform="translate(175.49 828.92) scale(0.820 1)" font-size="27.61" fill="#000000">3 K</text>
<text transform="translate(175.49 860.42) scale(0.809 1)" font-size="28.00" fill="#c00000">5 K</text>
<text transform="translate(175.00 892.62) scale(0.817 1)" font-size="27.61" fill="#f0148a">10 K</text>
<text transform="translate(175.28 924.12) scale(0.812 1)" font-size="27.61" fill="#9010d8">20 K</text>
<text transform="translate(175.51 955.62) scale(0.808 1)" font-size="27.61" fill="#0000cc">30 K</text>
<text transform="translate(175.96 987.12) scale(0.800 1)" font-size="27.61" fill="#00a8e8">40 K</text>
<text transform="translate(175.51 1019.32) scale(0.796 1)" font-size="28.00" fill="#90e4f0">55 K</text>
<text transform="translate(844.40 1061.00) scale(0.842 1)" font-size="31.00"><tspan font-style="italic" y="0.00">eV</tspan><tspan font-style="italic" font-size="19.22" y="15.60">d</tspan><tspan font-style="italic" y="0.00">/k</tspan><tspan font-style="italic" font-size="19.22" y="15.60">B</tspan><tspan font-style="italic" y="0.00">T</tspan></text>
<text transform="translate(57.70 987.80) rotate(-90) scale(0.862 1)" font-size="29.50"><tspan y="0.00">Δ</tspan><tspan font-style="italic" y="0.00">g</tspan><tspan font-style="italic" font-size="18.29" y="14.00">d</tspan><tspan y="0.00"> (e</tspan><tspan font-size="18.29" y="-13.00">2</tspan><tspan font-style="italic" y="0.00">/h)</tspan></text>
<line x1="276.3" y1="725.9" x2="276.3" y2="974" stroke="#000" stroke-width="2.4"/>
<line x1="276.3" y1="972.8" x2="283.3" y2="972.8" stroke="#000" stroke-width="1.3"/>
<text transform="translate(254.17 981.70) scale(1.042 1)" font-size="20.00">0</text>
<line x1="276.3" y1="959.1" x2="280.3" y2="959.1" stroke="#000" stroke-width="1.3"/>
<line x1="276.3" y1="945.5" x2="280.3" y2="945.5" stroke="#000" stroke-width="1.3"/>
<line x1="276.3" y1="931.8" x2="280.3" y2="931.8" stroke="#000" stroke-width="1.3"/>
<line x1="276.3" y1="918.2" x2="283.3" y2="918.2" stroke="#000" stroke-width="1.3"/>
<text transform="translate(253.91 927.30) scale(1.072 1)" font-size="20.29">2</text>
<line x1="276.3" y1="904.5" x2="280.3" y2="904.5" stroke="#000" stroke-width="1.3"/>
<line x1="276.3" y1="890.9" x2="280.3" y2="890.9" stroke="#000" stroke-width="1.3"/>
<line x1="276.3" y1="877.2" x2="280.3" y2="877.2" stroke="#000" stroke-width="1.3"/>
<line x1="276.3" y1="863.6" x2="283.3" y2="863.6" stroke="#000" stroke-width="1.3"/>
<text transform="translate(254.61 872.70) scale(0.953 1)" font-size="20.58">4</text>
<line x1="276.3" y1="849.9" x2="280.3" y2="849.9" stroke="#000" stroke-width="1.3"/>
<line x1="276.3" y1="836.3" x2="280.3" y2="836.3" stroke="#000" stroke-width="1.3"/>
<line x1="276.3" y1="822.6" x2="280.3" y2="822.6" stroke="#000" stroke-width="1.3"/>
<line x1="276.3" y1="809" x2="283.3" y2="809" stroke="#000" stroke-width="1.3"/>
<text transform="translate(253.91 817.90) scale(1.087 1)" font-size="20.00">6</text>
<line x1="276.3" y1="795.3" x2="280.3" y2="795.3" stroke="#000" stroke-width="1.3"/>
<line x1="276.3" y1="781.7" x2="280.3" y2="781.7" stroke="#000" stroke-width="1.3"/>
<line x1="276.3" y1="768" x2="280.3" y2="768" stroke="#000" stroke-width="1.3"/>
<line x1="276.3" y1="754.4" x2="283.3" y2="754.4" stroke="#000" stroke-width="1.3"/>
<text transform="translate(254.15 763.30) scale(1.064 1)" font-size="20.00">8</text>
<line x1="276.3" y1="740.8" x2="280.3" y2="740.8" stroke="#000" stroke-width="1.3"/>
<line x1="276.3" y1="727.1" x2="280.3" y2="727.1" stroke="#000" stroke-width="1.3"/>
<line x1="275" y1="972.8" x2="588.8" y2="972.8" stroke="#000" stroke-width="2.4"/>
<line x1="275.9" y1="972.8" x2="275.9" y2="966.3" stroke="#000" stroke-width="1.2"/>
<line x1="286.3" y1="972.8" x2="286.3" y2="969.3" stroke="#000" stroke-width="1.2"/>
<line x1="296.7" y1="972.8" x2="296.7" y2="969.3" stroke="#000" stroke-width="1.2"/>
<line x1="307.1" y1="972.8" x2="307.1" y2="969.3" stroke="#000" stroke-width="1.2"/>
<line x1="317.5" y1="972.8" x2="317.5" y2="969.3" stroke="#000" stroke-width="1.2"/>
<line x1="327.9" y1="972.8" x2="327.9" y2="966.3" stroke="#000" stroke-width="1.2"/>
<line x1="338.4" y1="972.8" x2="338.4" y2="969.3" stroke="#000" stroke-width="1.2"/>
<line x1="348.8" y1="972.8" x2="348.8" y2="969.3" stroke="#000" stroke-width="1.2"/>
<line x1="359.2" y1="972.8" x2="359.2" y2="969.3" stroke="#000" stroke-width="1.2"/>
<line x1="369.6" y1="972.8" x2="369.6" y2="969.3" stroke="#000" stroke-width="1.2"/>
<line x1="380" y1="972.8" x2="380" y2="966.3" stroke="#000" stroke-width="1.2"/>
<line x1="390.4" y1="972.8" x2="390.4" y2="969.3" stroke="#000" stroke-width="1.2"/>
<line x1="400.8" y1="972.8" x2="400.8" y2="969.3" stroke="#000" stroke-width="1.2"/>
<line x1="411.2" y1="972.8" x2="411.2" y2="969.3" stroke="#000" stroke-width="1.2"/>
<line x1="421.6" y1="972.8" x2="421.6" y2="969.3" stroke="#000" stroke-width="1.2"/>
<line x1="432" y1="972.8" x2="432" y2="966.3" stroke="#000" stroke-width="1.2"/>
<line x1="442.5" y1="972.8" x2="442.5" y2="969.3" stroke="#000" stroke-width="1.2"/>
<line x1="452.9" y1="972.8" x2="452.9" y2="969.3" stroke="#000" stroke-width="1.2"/>
<line x1="463.3" y1="972.8" x2="463.3" y2="969.3" stroke="#000" stroke-width="1.2"/>
<line x1="473.7" y1="972.8" x2="473.7" y2="969.3" stroke="#000" stroke-width="1.2"/>
<line x1="484.1" y1="972.8" x2="484.1" y2="966.3" stroke="#000" stroke-width="1.2"/>
<line x1="494.5" y1="972.8" x2="494.5" y2="969.3" stroke="#000" stroke-width="1.2"/>
<line x1="504.9" y1="972.8" x2="504.9" y2="969.3" stroke="#000" stroke-width="1.2"/>
<line x1="515.3" y1="972.8" x2="515.3" y2="969.3" stroke="#000" stroke-width="1.2"/>
<line x1="525.7" y1="972.8" x2="525.7" y2="969.3" stroke="#000" stroke-width="1.2"/>
<line x1="536.1" y1="972.8" x2="536.1" y2="966.3" stroke="#000" stroke-width="1.2"/>
<line x1="546.6" y1="972.8" x2="546.6" y2="969.3" stroke="#000" stroke-width="1.2"/>
<line x1="557" y1="972.8" x2="557" y2="969.3" stroke="#000" stroke-width="1.2"/>
<line x1="567.4" y1="972.8" x2="567.4" y2="969.3" stroke="#000" stroke-width="1.2"/>
<line x1="577.8" y1="972.8" x2="577.8" y2="969.3" stroke="#000" stroke-width="1.2"/>
<line x1="588.2" y1="972.8" x2="588.2" y2="966.3" stroke="#000" stroke-width="1.2"/>
<text transform="translate(272.93 998.79) scale(0.671 1)" font-size="21.13">0</text>
<text transform="translate(323.79 998.79) scale(0.826 1)" font-size="21.43">5</text>
<text transform="translate(370.60 998.79) scale(0.890 1)" font-size="21.13">10</text>
<text transform="translate(421.70 998.79) scale(0.873 1)" font-size="21.43">15</text>
<text transform="translate(472.21 998.79) scale(0.937 1)" font-size="21.13">20</text>
<text transform="translate(524.21 998.79) scale(0.937 1)" font-size="21.13">25</text>
<text transform="translate(576.41 998.79) scale(0.933 1)" font-size="21.13">30</text>
<text transform="translate(412.81 1026.69) scale(0.882 1)" font-size="21.94">V (mV)</text>
<text transform="translate(289.20 730.00) scale(0.986 1)" font-size="19.50"><tspan y="0.00">Δg (e</tspan><tspan font-size="12.09" y="-8.50">2</tspan><tspan y="0.00">/h)</tspan></text>
<path d="M279 934 280.7 932.1 282.5 926.1 284.2 918.3 285.9 911.9 287.6 906.7 289.3 902.1 291 896.5 292.7 892.7 294.5 888.2 296.2 885.6 297.9 883.1 299.6 879.9 301.3 875.8 303 873 304.7 870 306.5 866.7 308.2 863.6 309.9 861.4 311.6 857.7 313.3 854.4 315 852.2 316.8 848.2 318.5 845.3 320.2 841.8 321.9 838.9 323.6 837.4 325.3 835.2 327 835.5 328.8 836 330.5 834.4 332.2 832.2 333.9 832.7 335.6 831.2 337.3 829.6 339 828.6 340.8 827 342.5 826 344.2 824.1 345.9 824.9 347.6 824.4 349.3 822.2 351.1 823.3 352.8 822.8 354.5 821.6 356.2 820.9 357.9 819.7 359.6 819.4 361.3 816.8 363.1 815.9 364.8 813 366.5 812.6 368.2 811.1 369.9 808.7 371.6 807.8 373.3 807.6 375.1 806.2 376.8 804.8 378.5 803.2 380.2 802.4 381.9 802.3 383.6 799.8 385.4 800.3 387.1 797.2 388.8 797.2 390.5 794.3 392.2 794.5 393.9 792.8 395.6 791.4 397.4 790.9 399.1 790.9 400.8 790.5 402.5 789.7 404.2 789.3 405.9 789.8 407.6 790.4 409.4 789.1 411.1 787 412.8 787.9 414.5 786.7 416.2 786.2 417.9 783.7 419.7 784.4 421.4 782.4 423.1 783.6 424.8 782.6 426.5 782.5 428.2 784.1 429.9 782 431.7 782.7 433.4 783 435.1 780.7 436.8 779.6 438.5 780.1 440.2 777.7 441.9 777.2 443.7 774.4 445.4 774.2 447.1 772.9 448.8 773.6 450.5 771.8 452.2 773.5 454 771 455.7 772.3 457.4 770 459.1 769.8 460.8 770.1 462.5 767.4 464.2 766.3 466 766.3 467.7 764.5 469.4 762.7 471.1 764.3 472.8 761.9 474.5 761.5 476.2 762.3 478 763.2 479.7 763.6 481.4 762.2 483.1 762.7 484.8 761.7 486.5 762.4 488.3 762.7 490 761.9 491.7 761.7 493.4 760.7 495.1 760.4 496.8 759.8 498.5 759.1 500.3 758.5 502 759.7 503.7 759.1 505.4 758.6 507.1 759.4 508.8 760.1 510.5 757.7 512.3 758.1 514 756.6 515.7 755.8 517.4 753.8 519.1 754.6 520.8 752 522.6 752.2 524.3 751.2 526 750 527.7 751.2 529.4 750.1 531.1 749.9 532.8 749.6 534.6 749.6 536.3 748.9 538 749.5 539.7 748.4 541.4 748.6 543.1 747.7 544.8 747.1 546.6 744.8" fill="none" stroke="#000000" stroke-width="5.6" stroke-linejoin="round" stroke-linecap="round"/>
<path d="M394.4 788.4l5.6 5.6m-5.6 0l5.6 -5.6M444.1 772.6l5.6 5.6m-5.6 0l5.6 -5.6M344.6 820.7l5.6 5.6m-5.6 0l5.6 -5.6M276.1 928.6l5.6 5.6m-5.6 0l5.6 -5.6M306.6 859.3l5.6 5.6m-5.6 0l5.6 -5.6M302 864.6l5.6 5.6m-5.6 0l5.6 -5.6M334.4 826.2l5.6 5.6m-5.6 0l5.6 -5.6M359.5 811.8l5.6 5.6m-5.6 0l5.6 -5.6M520.2 750.9l5.6 5.6m-5.6 0l5.6 -5.6M392.3 789.4l5.6 5.6m-5.6 0l5.6 -5.6M289.7 890.3l5.6 5.6m-5.6 0l5.6 -5.6M323.5 834.3l5.6 5.6m-5.6 0l5.6 -5.6M374.2 804.4l5.6 5.6m-5.6 0l5.6 -5.6M438.9 776.4l5.6 5.6m-5.6 0l5.6 -5.6M374.4 802.1l5.6 5.6m-5.6 0l5.6 -5.6M302.7 867.7l5.6 5.6m-5.6 0l5.6 -5.6M454.7 767.3l5.6 5.6m-5.6 0l5.6 -5.6M386.1 791.6l5.6 5.6m-5.6 0l5.6 -5.6M432.5 776.4l5.6 5.6m-5.6 0l5.6 -5.6M377.3 798.3l5.6 5.6m-5.6 0l5.6 -5.6M477.3 760.8l5.6 5.6m-5.6 0l5.6 -5.6M380.9 799.2l5.6 5.6m-5.6 0l5.6 -5.6M380.8 794.7l5.6 5.6m-5.6 0l5.6 -5.6M298.8 875.2l5.6 5.6m-5.6 0l5.6 -5.6M533.5 744.4l5.6 5.6m-5.6 0l5.6 -5.6M453.4 770.3l5.6 5.6m-5.6 0l5.6 -5.6M409 784.3l5.6 5.6m-5.6 0l5.6 -5.6M489.2 757.7l5.6 5.6m-5.6 0l5.6 -5.6M405.4 788.6l5.6 5.6m-5.6 0l5.6 -5.6M526.6 747l5.6 5.6m-5.6 0l5.6 -5.6M338.2 822l5.6 5.6m-5.6 0l5.6 -5.6M391.2 792.3l5.6 5.6m-5.6 0l5.6 -5.6M433.9 775.7l5.6 5.6m-5.6 0l5.6 -5.6M373 801.2l5.6 5.6m-5.6 0l5.6 -5.6M386.4 789.4l5.6 5.6m-5.6 0l5.6 -5.6M517.3 751.9l5.6 5.6m-5.6 0l5.6 -5.6M310 850.1l5.6 5.6m-5.6 0l5.6 -5.6M456.2 767.5l5.6 5.6m-5.6 0l5.6 -5.6M415.2 781.4l5.6 5.6m-5.6 0l5.6 -5.6M531.1 745.5l5.6 5.6m-5.6 0l5.6 -5.6M415.1 780.5l5.6 5.6m-5.6 0l5.6 -5.6M515.5 752.4l5.6 5.6m-5.6 0l5.6 -5.6M385.8 796.6l5.6 5.6m-5.6 0l5.6 -5.6M428.6 779.3l5.6 5.6m-5.6 0l5.6 -5.6M284.4 907.8l5.6 5.6m-5.6 0l5.6 -5.6M324.5 832.5l5.6 5.6m-5.6 0l5.6 -5.6M385.2 797.3l5.6 5.6m-5.6 0l5.6 -5.6M464.9 764.7l5.6 5.6m-5.6 0l5.6 -5.6M365.4 808.9l5.6 5.6m-5.6 0l5.6 -5.6M481 758.7l5.6 5.6m-5.6 0l5.6 -5.6M442.1 772.8l5.6 5.6m-5.6 0l5.6 -5.6M538.1 742.2l5.6 5.6m-5.6 0l5.6 -5.6M401.1 789.6l5.6 5.6m-5.6 0l5.6 -5.6M451.1 766.6l5.6 5.6m-5.6 0l5.6 -5.6M529.3 748.7l5.6 5.6m-5.6 0l5.6 -5.6M519.6 747.2l5.6 5.6m-5.6 0l5.6 -5.6M495.2 754.6l5.6 5.6m-5.6 0l5.6 -5.6M475.6 758.2l5.6 5.6m-5.6 0l5.6 -5.6M490.3 757.7l5.6 5.6m-5.6 0l5.6 -5.6M391.7 789.2l5.6 5.6m-5.6 0l5.6 -5.6M400.3 790l5.6 5.6m-5.6 0l5.6 -5.6M294.2 877.9l5.6 5.6m-5.6 0l5.6 -5.6M500.7 758.2l5.6 5.6m-5.6 0l5.6 -5.6M406.5 785.2l5.6 5.6m-5.6 0l5.6 -5.6M347.6 817.1l5.6 5.6m-5.6 0l5.6 -5.6M298.3 872.7l5.6 5.6m-5.6 0l5.6 -5.6M477.8 759.7l5.6 5.6m-5.6 0l5.6 -5.6M457.7 769.5l5.6 5.6m-5.6 0l5.6 -5.6M311.3 847.6l5.6 5.6m-5.6 0l5.6 -5.6M399.9 784.4l5.6 5.6m-5.6 0l5.6 -5.6M426.8 779.6l5.6 5.6m-5.6 0l5.6 -5.6M419.8 780.1l5.6 5.6m-5.6 0l5.6 -5.6M508.5 756.1l5.6 5.6m-5.6 0l5.6 -5.6M405.8 788.8l5.6 5.6m-5.6 0l5.6 -5.6M297.7 875l5.6 5.6m-5.6 0l5.6 -5.6M450 770.6l5.6 5.6m-5.6 0l5.6 -5.6M382.4 795l5.6 5.6m-5.6 0l5.6 -5.6M445.3 770.6l5.6 5.6m-5.6 0l5.6 -5.6M504.8 757.5l5.6 5.6m-5.6 0l5.6 -5.6M357.8 813.7l5.6 5.6m-5.6 0l5.6 -5.6M337.7 826.1l5.6 5.6m-5.6 0l5.6 -5.6M307.1 859.7l5.6 5.6m-5.6 0l5.6 -5.6M373.2 799.6l5.6 5.6m-5.6 0l5.6 -5.6M397.6 787.1l5.6 5.6m-5.6 0l5.6 -5.6M355.5 820l5.6 5.6m-5.6 0l5.6 -5.6M394.9 790.6l5.6 5.6m-5.6 0l5.6 -5.6M362.3 807.5l5.6 5.6m-5.6 0l5.6 -5.6M327.5 830.8l5.6 5.6m-5.6 0l5.6 -5.6M372.4 801.7l5.6 5.6m-5.6 0l5.6 -5.6M492.9 756.1l5.6 5.6m-5.6 0l5.6 -5.6M496.1 758.6l5.6 5.6m-5.6 0l5.6 -5.6M524 749.4l5.6 5.6m-5.6 0l5.6 -5.6M530.8 749.5l5.6 5.6m-5.6 0l5.6 -5.6M510.1 756.9l5.6 5.6m-5.6 0l5.6 -5.6M537.5 745.6l5.6 5.6m-5.6 0l5.6 -5.6M455.3 767.3l5.6 5.6m-5.6 0l5.6 -5.6M324.4 832.3l5.6 5.6m-5.6 0l5.6 -5.6M404.9 784.9l5.6 5.6m-5.6 0l5.6 -5.6M532.1 744.3l5.6 5.6m-5.6 0l5.6 -5.6M369.6 806.6l5.6 5.6m-5.6 0l5.6 -5.6M513.3 752.8l5.6 5.6m-5.6 0l5.6 -5.6M420.6 782.4l5.6 5.6m-5.6 0l5.6 -5.6M379.9 798.9l5.6 5.6m-5.6 0l5.6 -5.6M316 843.6l5.6 5.6m-5.6 0l5.6 -5.6M300.6 866.4l5.6 5.6m-5.6 0l5.6 -5.6M343.1 819.4l5.6 5.6m-5.6 0l5.6 -5.6M367.1 803.9l5.6 5.6m-5.6 0l5.6 -5.6M439.1 772.8l5.6 5.6m-5.6 0l5.6 -5.6M480.3 758l5.6 5.6m-5.6 0l5.6 -5.6M503.6 758.4l5.6 5.6m-5.6 0l5.6 -5.6M311.8 851.5l5.6 5.6m-5.6 0l5.6 -5.6M367.5 807l5.6 5.6m-5.6 0l5.6 -5.6M383.3 796.5l5.6 5.6m-5.6 0l5.6 -5.6M403.3 785.9l5.6 5.6m-5.6 0l5.6 -5.6M500.6 757.2l5.6 5.6m-5.6 0l5.6 -5.6M421.8 783.4l5.6 5.6m-5.6 0l5.6 -5.6M501 756.2l5.6 5.6m-5.6 0l5.6 -5.6M415.3 778.8l5.6 5.6m-5.6 0l5.6 -5.6M541.4 745.6l5.6 5.6m-5.6 0l5.6 -5.6M459.3 764l5.6 5.6m-5.6 0l5.6 -5.6M358.9 811.6l5.6 5.6m-5.6 0l5.6 -5.6M304.1 861.5l5.6 5.6m-5.6 0l5.6 -5.6M316 840.2l5.6 5.6m-5.6 0l5.6 -5.6M536.6 743.2l5.6 5.6m-5.6 0l5.6 -5.6M515.9 750.4l5.6 5.6m-5.6 0l5.6 -5.6M424.6 780.4l5.6 5.6m-5.6 0l5.6 -5.6M291.5 886.7l5.6 5.6m-5.6 0l5.6 -5.6M496.2 757.4l5.6 5.6m-5.6 0l5.6 -5.6M509.4 754.5l5.6 5.6m-5.6 0l5.6 -5.6M310.3 847.6l5.6 5.6m-5.6 0l5.6 -5.6M331.5 825.9l5.6 5.6m-5.6 0l5.6 -5.6M378 802l5.6 5.6m-5.6 0l5.6 -5.6M518.8 749.8l5.6 5.6m-5.6 0l5.6 -5.6M520.5 746.2l5.6 5.6m-5.6 0l5.6 -5.6M495.4 754.6l5.6 5.6m-5.6 0l5.6 -5.6M376.6 799.7l5.6 5.6m-5.6 0l5.6 -5.6M390.4 791.5l5.6 5.6m-5.6 0l5.6 -5.6M493.5 756.4l5.6 5.6m-5.6 0l5.6 -5.6M353.1 821.5l5.6 5.6m-5.6 0l5.6 -5.6M338.1 825.1l5.6 5.6m-5.6 0l5.6 -5.6M450.9 769.4l5.6 5.6m-5.6 0l5.6 -5.6M329.4 830.1l5.6 5.6m-5.6 0l5.6 -5.6M449.2 771.2l5.6 5.6m-5.6 0l5.6 -5.6M464.1 759.6l5.6 5.6m-5.6 0l5.6 -5.6M483.8 762l5.6 5.6m-5.6 0l5.6 -5.6M434.9 774.2l5.6 5.6m-5.6 0l5.6 -5.6M305.6 862.5l5.6 5.6m-5.6 0l5.6 -5.6M327.5 834.8l5.6 5.6m-5.6 0l5.6 -5.6M516.7 749.2l5.6 5.6m-5.6 0l5.6 -5.6M333.1 829.4l5.6 5.6m-5.6 0l5.6 -5.6M351.6 819.7l5.6 5.6m-5.6 0l5.6 -5.6M386.4 794.2l5.6 5.6m-5.6 0l5.6 -5.6M398.5 785.2l5.6 5.6m-5.6 0l5.6 -5.6M463.4 764.9l5.6 5.6m-5.6 0l5.6 -5.6M333.1 827.2l5.6 5.6m-5.6 0l5.6 -5.6M381.3 800.1l5.6 5.6m-5.6 0l5.6 -5.6M330.9 830.9l5.6 5.6m-5.6 0l5.6 -5.6M486.4 758.5l5.6 5.6m-5.6 0l5.6 -5.6M368.7 803.4l5.6 5.6m-5.6 0l5.6 -5.6M327.2 829.5l5.6 5.6m-5.6 0l5.6 -5.6M402 786l5.6 5.6m-5.6 0l5.6 -5.6M322.1 835.9l5.6 5.6m-5.6 0l5.6 -5.6M336 826.3l5.6 5.6m-5.6 0l5.6 -5.6M513.5 751.8l5.6 5.6m-5.6 0l5.6 -5.6M332.7 827.3l5.6 5.6m-5.6 0l5.6 -5.6M280.7 921.3l5.6 5.6m-5.6 0l5.6 -5.6M359.4 811.1l5.6 5.6m-5.6 0l5.6 -5.6M469.5 759.6l5.6 5.6m-5.6 0l5.6 -5.6M389.4 788.5l5.6 5.6m-5.6 0l5.6 -5.6M430.2 776.9l5.6 5.6m-5.6 0l5.6 -5.6M438.2 771.6l5.6 5.6m-5.6 0l5.6 -5.6M434.8 778.7l5.6 5.6m-5.6 0l5.6 -5.6M409.7 787.4l5.6 5.6m-5.6 0l5.6 -5.6M316.1 843.5l5.6 5.6m-5.6 0l5.6 -5.6M523.1 749.5l5.6 5.6m-5.6 0l5.6 -5.6M510.4 755.9l5.6 5.6m-5.6 0l5.6 -5.6M415.6 779.5l5.6 5.6m-5.6 0l5.6 -5.6M293.3 881.2l5.6 5.6m-5.6 0l5.6 -5.6M442.2 771.4l5.6 5.6m-5.6 0l5.6 -5.6M535.5 745.9l5.6 5.6m-5.6 0l5.6 -5.6M377 798.1l5.6 5.6m-5.6 0l5.6 -5.6M419.7 778.2l5.6 5.6m-5.6 0l5.6 -5.6M529.7 745.4l5.6 5.6m-5.6 0l5.6 -5.6M465.1 761.7l5.6 5.6m-5.6 0l5.6 -5.6M303.3 865.8l5.6 5.6m-5.6 0l5.6 -5.6M485.8 760.4l5.6 5.6m-5.6 0l5.6 -5.6M471.9 757l5.6 5.6m-5.6 0l5.6 -5.6M403.1 784.5l5.6 5.6m-5.6 0l5.6 -5.6M362.4 811l5.6 5.6m-5.6 0l5.6 -5.6M450.5 767.3l5.6 5.6m-5.6 0l5.6 -5.6M424.3 781.4l5.6 5.6m-5.6 0l5.6 -5.6M392.2 787.3l5.6 5.6m-5.6 0l5.6 -5.6M452.9 771.5l5.6 5.6m-5.6 0l5.6 -5.6M370.8 806l5.6 5.6m-5.6 0l5.6 -5.6M437.2 776.1l5.6 5.6m-5.6 0l5.6 -5.6M374.8 803.1l5.6 5.6m-5.6 0l5.6 -5.6M492.8 757l5.6 5.6m-5.6 0l5.6 -5.6M533.6 745.5l5.6 5.6m-5.6 0l5.6 -5.6M498.9 757.7l5.6 5.6m-5.6 0l5.6 -5.6M544.2 744.9l5.6 5.6m-5.6 0l5.6 -5.6M296.9 876.8l5.6 5.6m-5.6 0l5.6 -5.6M392.5 790.4l5.6 5.6m-5.6 0l5.6 -5.6M318.4 836.9l5.6 5.6m-5.6 0l5.6 -5.6M535.8 747.6l5.6 5.6m-5.6 0l5.6 -5.6M356.3 814.2l5.6 5.6m-5.6 0l5.6 -5.6M343.1 823.7l5.6 5.6m-5.6 0l5.6 -5.6M385.2 792.9l5.6 5.6m-5.6 0l5.6 -5.6M434.6 774.6l5.6 5.6m-5.6 0l5.6 -5.6M325.6 830.9l5.6 5.6m-5.6 0l5.6 -5.6M409.4 785.2l5.6 5.6m-5.6 0l5.6 -5.6M290.3 889.4l5.6 5.6m-5.6 0l5.6 -5.6M385.3 792.9l5.6 5.6m-5.6 0l5.6 -5.6M390.3 789.1l5.6 5.6m-5.6 0l5.6 -5.6M536.9 745.7l5.6 5.6m-5.6 0l5.6 -5.6M393.7 790.9l5.6 5.6m-5.6 0l5.6 -5.6M490.5 755.4l5.6 5.6m-5.6 0l5.6 -5.6M434.2 775.8l5.6 5.6m-5.6 0l5.6 -5.6M283 914.6l5.6 5.6m-5.6 0l5.6 -5.6M447.1 768.6l5.6 5.6m-5.6 0l5.6 -5.6M394.5 787.6l5.6 5.6m-5.6 0l5.6 -5.6M347.5 821.3l5.6 5.6m-5.6 0l5.6 -5.6M532 748.5l5.6 5.6m-5.6 0l5.6 -5.6M283.1 908.6l5.6 5.6m-5.6 0l5.6 -5.6M536.6 746.2l5.6 5.6m-5.6 0l5.6 -5.6M459.1 766.6l5.6 5.6m-5.6 0l5.6 -5.6M374.9 801.8l5.6 5.6m-5.6 0l5.6 -5.6M453.9 768.9l5.6 5.6m-5.6 0l5.6 -5.6M400.9 788.9l5.6 5.6m-5.6 0l5.6 -5.6M388.6 793.6l5.6 5.6m-5.6 0l5.6 -5.6M476.5 762.9l5.6 5.6m-5.6 0l5.6 -5.6M307.9 858.5l5.6 5.6m-5.6 0l5.6 -5.6M399.2 790.3l5.6 5.6m-5.6 0l5.6 -5.6M381.1 799.5l5.6 5.6m-5.6 0l5.6 -5.6M462 765.3l5.6 5.6m-5.6 0l5.6 -5.6M368.5 805.4l5.6 5.6m-5.6 0l5.6 -5.6M449.6 769.5l5.6 5.6m-5.6 0l5.6 -5.6M541.5 743.2l5.6 5.6m-5.6 0l5.6 -5.6M520.4 748.4l5.6 5.6m-5.6 0l5.6 -5.6M450.1 772l5.6 5.6m-5.6 0l5.6 -5.6M456.1 767.3l5.6 5.6m-5.6 0l5.6 -5.6M286.9 895.5l5.6 5.6m-5.6 0l5.6 -5.6M527.9 748.8l5.6 5.6m-5.6 0l5.6 -5.6M471.4 761.8l5.6 5.6m-5.6 0l5.6 -5.6M362.1 809.8l5.6 5.6m-5.6 0l5.6 -5.6M385.1 795l5.6 5.6m-5.6 0l5.6 -5.6M300 865.6l5.6 5.6m-5.6 0l5.6 -5.6M408.9 782.5l5.6 5.6m-5.6 0l5.6 -5.6M364.4 810.6l5.6 5.6m-5.6 0l5.6 -5.6M537 746.9l5.6 5.6m-5.6 0l5.6 -5.6M429.3 780.1l5.6 5.6m-5.6 0l5.6 -5.6M320 837.2l5.6 5.6m-5.6 0l5.6 -5.6M428.9 779.8l5.6 5.6m-5.6 0l5.6 -5.6M351 819.6l5.6 5.6m-5.6 0l5.6 -5.6M341.9 824.7l5.6 5.6m-5.6 0l5.6 -5.6M323.9 834.4l5.6 5.6m-5.6 0l5.6 -5.6M468.5 760.6l5.6 5.6m-5.6 0l5.6 -5.6M341 822.9l5.6 5.6m-5.6 0l5.6 -5.6M411.9 782.2l5.6 5.6m-5.6 0l5.6 -5.6M402.3 785.1l5.6 5.6m-5.6 0l5.6 -5.6M329.8 832.8l5.6 5.6m-5.6 0l5.6 -5.6M502.4 758.5l5.6 5.6m-5.6 0l5.6 -5.6M311.1 850.2l5.6 5.6m-5.6 0l5.6 -5.6M275.4 931.7l5.6 5.6m-5.6 0l5.6 -5.6M328 829.8l5.6 5.6m-5.6 0l5.6 -5.6M498.6 758.9l5.6 5.6m-5.6 0l5.6 -5.6M358 814.6l5.6 5.6m-5.6 0l5.6 -5.6M310.2 853.4l5.6 5.6m-5.6 0l5.6 -5.6M492.7 756.7l5.6 5.6m-5.6 0l5.6 -5.6M531.8 745.1l5.6 5.6m-5.6 0l5.6 -5.6M404.4 788.1l5.6 5.6m-5.6 0l5.6 -5.6M418 779.7l5.6 5.6m-5.6 0l5.6 -5.6M284.7 905.3l5.6 5.6m-5.6 0l5.6 -5.6M386.7 792.4l5.6 5.6m-5.6 0l5.6 -5.6M399.4 784.6l5.6 5.6m-5.6 0l5.6 -5.6M367.4 804.3l5.6 5.6m-5.6 0l5.6 -5.6M337.7 824.9l5.6 5.6m-5.6 0l5.6 -5.6M491.9 759.1l5.6 5.6m-5.6 0l5.6 -5.6M319.1 836.2l5.6 5.6m-5.6 0l5.6 -5.6M306.9 858.4l5.6 5.6m-5.6 0l5.6 -5.6M412.5 786.5l5.6 5.6m-5.6 0l5.6 -5.6M531.3 746.9l5.6 5.6m-5.6 0l5.6 -5.6M533 745.6l5.6 5.6m-5.6 0l5.6 -5.6M422.8 777.5l5.6 5.6m-5.6 0l5.6 -5.6M447.8 772.2l5.6 5.6m-5.6 0l5.6 -5.6M476.6 761.8l5.6 5.6m-5.6 0l5.6 -5.6M539.3 744.5l5.6 5.6m-5.6 0l5.6 -5.6M353.8 817.7l5.6 5.6m-5.6 0l5.6 -5.6M532.4 749l5.6 5.6m-5.6 0l5.6 -5.6M516 752.8l5.6 5.6m-5.6 0l5.6 -5.6M317.3 839.3l5.6 5.6m-5.6 0l5.6 -5.6M511.6 751.4l5.6 5.6m-5.6 0l5.6 -5.6M525.2 749.9l5.6 5.6m-5.6 0l5.6 -5.6M337.2 821.3l5.6 5.6m-5.6 0l5.6 -5.6M326 831.4l5.6 5.6m-5.6 0l5.6 -5.6M452.9 768.1l5.6 5.6m-5.6 0l5.6 -5.6M524.3 747.4l5.6 5.6m-5.6 0l5.6 -5.6M327 833.1l5.6 5.6m-5.6 0l5.6 -5.6M288.3 895.2l5.6 5.6m-5.6 0l5.6 -5.6M389.7 789.3l5.6 5.6m-5.6 0l5.6 -5.6M348.1 822.3l5.6 5.6m-5.6 0l5.6 -5.6M300.3 873l5.6 5.6m-5.6 0l5.6 -5.6M324.1 833.6l5.6 5.6m-5.6 0l5.6 -5.6M466.2 760.1l5.6 5.6m-5.6 0l5.6 -5.6M409.9 783.7l5.6 5.6m-5.6 0l5.6 -5.6M383.7 792.8l5.6 5.6m-5.6 0l5.6 -5.6M368 805.5l5.6 5.6m-5.6 0l5.6 -5.6M475.3 760.5l5.6 5.6m-5.6 0l5.6 -5.6M365.8 804.2l5.6 5.6m-5.6 0l5.6 -5.6M534.3 749.2l5.6 5.6m-5.6 0l5.6 -5.6M321.1 831.1l5.6 5.6m-5.6 0l5.6 -5.6M356.4 812.8l5.6 5.6m-5.6 0l5.6 -5.6M389.7 792.8l5.6 5.6m-5.6 0l5.6 -5.6" stroke="#000000" stroke-width="1.6" fill="none"/>
<path d="M275.9 958.7 277.6 954.4 279.3 950.6 281 946.6 282.8 942.7 284.5 938.9 286.2 936.2 287.9 933.7 289.6 929.1 291.3 925.8 293 922.1 294.7 919.6 296.5 916.5 298.2 914.4 299.9 910.1 301.6 909.6 303.3 906 305 904 306.7 900.5 308.4 896.6 310.2 891.8 311.9 887.3 313.6 883.9 315.3 884 317 882.3 318.7 879.7 320.4 877 322.2 876.4 323.9 872.9 325.6 869.9 327.3 868.1 329 865.4 330.7 864.6 332.4 865.5 334.1 864.7 335.9 864.5 337.6 861.7 339.3 861.5 341 859.6 342.7 857 344.4 856.6 346.1 854 347.8 853.3 349.6 854.6 351.3 852 353 851.4 354.7 849.7 356.4 847.1 358.1 843.6 359.8 843 361.6 839.9 363.3 840.3 365 840.5 366.7 838.9 368.4 837.1 370.1 837 371.8 834.4 373.5 832.8 375.3 831.8 377 831.3 378.7 830.3 380.4 831.3 382.1 830.6 383.8 829.6 385.5 828.7 387.2 827.2 389 825.1 390.7 825.3 392.4 824 394.1 824.9 395.8 822.6 397.5 823.9 399.2 821.4 401 820 402.7 817.8 404.4 817.1 406.1 814.5 407.8 812.9 409.5 811.6 411.2 811.1 412.9 811.6 414.7 812.3 416.4 809.9 418.1 808.9 419.8 807.9 421.5 804.8 423.2 805 424.9 805.4 426.6 805.4 428.4 806.2 430.1 806.9 431.8 805 433.5 805.4 435.2 803.3 436.9 803.2 438.6 801.6 440.4 803 442.1 802.4 443.8 803.5 445.5 803.4 447.2 801.4 448.9 798.4 450.6 797.4 452.3 797.2 454.1 795.2 455.8 794.9 457.5 794.1 459.2 795.3 460.9 795 462.6 793.7 464.3 792.5 466 790.1 467.8 788.9 469.5 789 471.2 790.5 472.9 791.5 474.6 792.2 476.3 793.1 478 791 479.8 790.4 481.5 790 483.2 788.5 484.9 789.3 486.6 790.1 488.3 790.3 490 788.8 491.7 790 493.5 789.4 495.2 788 496.9 785.7 498.6 783.6 500.3 783.8 502 783.2 503.7 782.6 505.4 782.2 507.2 780.9 508.9 780.9 510.6 779.8 512.3 778.6 514 777.4 515.7 777.8 517.4 777.8 519.2 777.2 520.9 779.8 522.6 778.4 524.3 780.9 526 779.6 527.7 779 529.4 777.2 531.1 777.5 532.9 777.8 534.6 776.5 536.3 776.8 538 778.7 539.7 777.1 541.4 775.9 543.1 775.4 544.8 773 546.6 771.8" fill="none" stroke="#ff1010" stroke-width="5.6" stroke-linejoin="round" stroke-linecap="round"/>
<path d="M348.6 850.8l5.6 5.6m-5.6 0l5.6 -5.6M426.6 802.5l5.6 5.6m-5.6 0l5.6 -5.6M484.3 789.3l5.6 5.6m-5.6 0l5.6 -5.6M284 928.6l5.6 5.6m-5.6 0l5.6 -5.6M402.1 813.8l5.6 5.6m-5.6 0l5.6 -5.6M370.4 831.8l5.6 5.6m-5.6 0l5.6 -5.6M542.6 771.2l5.6 5.6m-5.6 0l5.6 -5.6M300.1 905.4l5.6 5.6m-5.6 0l5.6 -5.6M336.5 855.7l5.6 5.6m-5.6 0l5.6 -5.6M398.3 817.7l5.6 5.6m-5.6 0l5.6 -5.6M313.1 878l5.6 5.6m-5.6 0l5.6 -5.6M449.4 791.4l5.6 5.6m-5.6 0l5.6 -5.6M364 833.4l5.6 5.6m-5.6 0l5.6 -5.6M432.4 799.9l5.6 5.6m-5.6 0l5.6 -5.6M274.8 952.6l5.6 5.6m-5.6 0l5.6 -5.6M303.6 898.6l5.6 5.6m-5.6 0l5.6 -5.6M527.4 773.2l5.6 5.6m-5.6 0l5.6 -5.6M498.9 776.9l5.6 5.6m-5.6 0l5.6 -5.6M303.5 899.4l5.6 5.6m-5.6 0l5.6 -5.6M444.1 801l5.6 5.6m-5.6 0l5.6 -5.6M473.4 791.9l5.6 5.6m-5.6 0l5.6 -5.6M522.8 774.5l5.6 5.6m-5.6 0l5.6 -5.6M466.4 787.1l5.6 5.6m-5.6 0l5.6 -5.6M346.4 853.3l5.6 5.6m-5.6 0l5.6 -5.6M480.8 787.9l5.6 5.6m-5.6 0l5.6 -5.6M297 906l5.6 5.6m-5.6 0l5.6 -5.6M273.6 953.4l5.6 5.6m-5.6 0l5.6 -5.6M539.3 774.3l5.6 5.6m-5.6 0l5.6 -5.6M432.8 804.2l5.6 5.6m-5.6 0l5.6 -5.6M494 780.1l5.6 5.6m-5.6 0l5.6 -5.6M514.2 776.2l5.6 5.6m-5.6 0l5.6 -5.6M506.2 776.2l5.6 5.6m-5.6 0l5.6 -5.6M388.5 824.5l5.6 5.6m-5.6 0l5.6 -5.6M541.2 771.9l5.6 5.6m-5.6 0l5.6 -5.6M509 777l5.6 5.6m-5.6 0l5.6 -5.6M335 859.5l5.6 5.6m-5.6 0l5.6 -5.6M405.2 809.2l5.6 5.6m-5.6 0l5.6 -5.6M493 783.7l5.6 5.6m-5.6 0l5.6 -5.6M470 788.9l5.6 5.6m-5.6 0l5.6 -5.6M510.8 775.5l5.6 5.6m-5.6 0l5.6 -5.6M448.4 792.7l5.6 5.6m-5.6 0l5.6 -5.6M451.6 791.3l5.6 5.6m-5.6 0l5.6 -5.6M304.7 895.9l5.6 5.6m-5.6 0l5.6 -5.6M513.9 776.2l5.6 5.6m-5.6 0l5.6 -5.6M512.3 773.2l5.6 5.6m-5.6 0l5.6 -5.6M461.1 792l5.6 5.6m-5.6 0l5.6 -5.6M348.5 849.8l5.6 5.6m-5.6 0l5.6 -5.6M390.9 822.4l5.6 5.6m-5.6 0l5.6 -5.6M310.3 881.1l5.6 5.6m-5.6 0l5.6 -5.6M330.1 864.5l5.6 5.6m-5.6 0l5.6 -5.6M342.7 850.8l5.6 5.6m-5.6 0l5.6 -5.6M407.4 806.9l5.6 5.6m-5.6 0l5.6 -5.6M390.5 823.4l5.6 5.6m-5.6 0l5.6 -5.6M300.3 900.1l5.6 5.6m-5.6 0l5.6 -5.6M328.9 863.8l5.6 5.6m-5.6 0l5.6 -5.6M526.3 774.6l5.6 5.6m-5.6 0l5.6 -5.6M414.8 808.9l5.6 5.6m-5.6 0l5.6 -5.6M528.9 773.6l5.6 5.6m-5.6 0l5.6 -5.6M416.5 805.2l5.6 5.6m-5.6 0l5.6 -5.6M493.9 781.8l5.6 5.6m-5.6 0l5.6 -5.6M496.9 778l5.6 5.6m-5.6 0l5.6 -5.6M438.9 800.1l5.6 5.6m-5.6 0l5.6 -5.6M305.8 889.9l5.6 5.6m-5.6 0l5.6 -5.6M485.4 787.1l5.6 5.6m-5.6 0l5.6 -5.6M442.7 802.2l5.6 5.6m-5.6 0l5.6 -5.6M434.6 797.4l5.6 5.6m-5.6 0l5.6 -5.6M341 856.2l5.6 5.6m-5.6 0l5.6 -5.6M462.2 789.9l5.6 5.6m-5.6 0l5.6 -5.6M330.8 859.8l5.6 5.6m-5.6 0l5.6 -5.6M290.5 920.4l5.6 5.6m-5.6 0l5.6 -5.6M437.4 800.1l5.6 5.6m-5.6 0l5.6 -5.6M385.3 823.9l5.6 5.6m-5.6 0l5.6 -5.6M339 856.2l5.6 5.6m-5.6 0l5.6 -5.6M366.4 835.7l5.6 5.6m-5.6 0l5.6 -5.6M399.9 815.5l5.6 5.6m-5.6 0l5.6 -5.6M275.1 955.6l5.6 5.6m-5.6 0l5.6 -5.6M474.2 788.6l5.6 5.6m-5.6 0l5.6 -5.6M388.8 824.1l5.6 5.6m-5.6 0l5.6 -5.6M350 852.3l5.6 5.6m-5.6 0l5.6 -5.6M340.5 850.7l5.6 5.6m-5.6 0l5.6 -5.6M446.9 797.7l5.6 5.6m-5.6 0l5.6 -5.6M299.2 906l5.6 5.6m-5.6 0l5.6 -5.6M521.7 774.6l5.6 5.6m-5.6 0l5.6 -5.6M455.3 794.1l5.6 5.6m-5.6 0l5.6 -5.6M495 781.4l5.6 5.6m-5.6 0l5.6 -5.6M422.9 801.3l5.6 5.6m-5.6 0l5.6 -5.6M426.4 804.3l5.6 5.6m-5.6 0l5.6 -5.6M423.2 802.5l5.6 5.6m-5.6 0l5.6 -5.6M381.5 827.9l5.6 5.6m-5.6 0l5.6 -5.6M301.6 903.1l5.6 5.6m-5.6 0l5.6 -5.6M456.5 790.8l5.6 5.6m-5.6 0l5.6 -5.6M396.4 818.7l5.6 5.6m-5.6 0l5.6 -5.6M522 774.1l5.6 5.6m-5.6 0l5.6 -5.6M407.8 810.2l5.6 5.6m-5.6 0l5.6 -5.6M512.4 776.5l5.6 5.6m-5.6 0l5.6 -5.6M276.5 949.3l5.6 5.6m-5.6 0l5.6 -5.6M281.1 942.7l5.6 5.6m-5.6 0l5.6 -5.6M451.9 791.5l5.6 5.6m-5.6 0l5.6 -5.6M340.7 855.8l5.6 5.6m-5.6 0l5.6 -5.6M345.4 850l5.6 5.6m-5.6 0l5.6 -5.6M345.9 848.7l5.6 5.6m-5.6 0l5.6 -5.6M278.1 944.2l5.6 5.6m-5.6 0l5.6 -5.6M428.2 804.8l5.6 5.6m-5.6 0l5.6 -5.6M513.8 771.6l5.6 5.6m-5.6 0l5.6 -5.6M300.5 901l5.6 5.6m-5.6 0l5.6 -5.6M356.3 842.4l5.6 5.6m-5.6 0l5.6 -5.6M534.7 774.6l5.6 5.6m-5.6 0l5.6 -5.6M383.6 824.3l5.6 5.6m-5.6 0l5.6 -5.6M312 882.7l5.6 5.6m-5.6 0l5.6 -5.6M382.2 829l5.6 5.6m-5.6 0l5.6 -5.6M520.5 775.4l5.6 5.6m-5.6 0l5.6 -5.6M513.9 773.1l5.6 5.6m-5.6 0l5.6 -5.6M459.2 794.2l5.6 5.6m-5.6 0l5.6 -5.6M374.3 825.8l5.6 5.6m-5.6 0l5.6 -5.6M353 846l5.6 5.6m-5.6 0l5.6 -5.6M443.4 795.6l5.6 5.6m-5.6 0l5.6 -5.6M324.6 865.6l5.6 5.6m-5.6 0l5.6 -5.6M490.5 783.9l5.6 5.6m-5.6 0l5.6 -5.6M526.9 774.3l5.6 5.6m-5.6 0l5.6 -5.6M415.9 806.3l5.6 5.6m-5.6 0l5.6 -5.6M503.5 778l5.6 5.6m-5.6 0l5.6 -5.6M404.7 811.1l5.6 5.6m-5.6 0l5.6 -5.6M482.2 788.9l5.6 5.6m-5.6 0l5.6 -5.6M395.2 818.7l5.6 5.6m-5.6 0l5.6 -5.6M415.6 806.9l5.6 5.6m-5.6 0l5.6 -5.6M434.6 798.6l5.6 5.6m-5.6 0l5.6 -5.6M308.4 886.3l5.6 5.6m-5.6 0l5.6 -5.6M458.5 788.5l5.6 5.6m-5.6 0l5.6 -5.6M484.3 787.4l5.6 5.6m-5.6 0l5.6 -5.6M415.7 809.1l5.6 5.6m-5.6 0l5.6 -5.6M430.8 802.2l5.6 5.6m-5.6 0l5.6 -5.6M490.5 788.2l5.6 5.6m-5.6 0l5.6 -5.6M357.1 838.2l5.6 5.6m-5.6 0l5.6 -5.6M427.9 803.1l5.6 5.6m-5.6 0l5.6 -5.6M471.2 787.8l5.6 5.6m-5.6 0l5.6 -5.6M508.4 773.6l5.6 5.6m-5.6 0l5.6 -5.6M422.3 802.3l5.6 5.6m-5.6 0l5.6 -5.6M436 801.9l5.6 5.6m-5.6 0l5.6 -5.6M361 838.1l5.6 5.6m-5.6 0l5.6 -5.6M458.8 790.9l5.6 5.6m-5.6 0l5.6 -5.6M490.7 786.7l5.6 5.6m-5.6 0l5.6 -5.6M317.4 875.3l5.6 5.6m-5.6 0l5.6 -5.6M395.7 817l5.6 5.6m-5.6 0l5.6 -5.6M286.3 924l5.6 5.6m-5.6 0l5.6 -5.6M460.7 788.7l5.6 5.6m-5.6 0l5.6 -5.6M387.7 824.6l5.6 5.6m-5.6 0l5.6 -5.6M443.2 796.5l5.6 5.6m-5.6 0l5.6 -5.6M424.1 804.8l5.6 5.6m-5.6 0l5.6 -5.6M332.1 860.4l5.6 5.6m-5.6 0l5.6 -5.6M348 851.3l5.6 5.6m-5.6 0l5.6 -5.6M409.7 811.2l5.6 5.6m-5.6 0l5.6 -5.6M280.5 938.4l5.6 5.6m-5.6 0l5.6 -5.6M340.1 853.4l5.6 5.6m-5.6 0l5.6 -5.6M383.7 823.2l5.6 5.6m-5.6 0l5.6 -5.6M355.5 839.5l5.6 5.6m-5.6 0l5.6 -5.6M444.6 802l5.6 5.6m-5.6 0l5.6 -5.6M364.3 834.1l5.6 5.6m-5.6 0l5.6 -5.6M313.4 880.5l5.6 5.6m-5.6 0l5.6 -5.6M432.5 799.6l5.6 5.6m-5.6 0l5.6 -5.6M406 811.2l5.6 5.6m-5.6 0l5.6 -5.6M473.3 789.2l5.6 5.6m-5.6 0l5.6 -5.6M462.5 790.4l5.6 5.6m-5.6 0l5.6 -5.6M538.4 774l5.6 5.6m-5.6 0l5.6 -5.6M499.4 780l5.6 5.6m-5.6 0l5.6 -5.6M434.5 801.5l5.6 5.6m-5.6 0l5.6 -5.6M398 818.2l5.6 5.6m-5.6 0l5.6 -5.6M474.8 789.5l5.6 5.6m-5.6 0l5.6 -5.6M314.4 877.8l5.6 5.6m-5.6 0l5.6 -5.6M328.8 861.3l5.6 5.6m-5.6 0l5.6 -5.6M382.6 825.1l5.6 5.6m-5.6 0l5.6 -5.6M376 824.5l5.6 5.6m-5.6 0l5.6 -5.6M383.8 826.2l5.6 5.6m-5.6 0l5.6 -5.6M353 840.9l5.6 5.6m-5.6 0l5.6 -5.6M330.3 859.6l5.6 5.6m-5.6 0l5.6 -5.6M283.1 929.7l5.6 5.6m-5.6 0l5.6 -5.6M471.7 788.5l5.6 5.6m-5.6 0l5.6 -5.6M362.1 837.5l5.6 5.6m-5.6 0l5.6 -5.6M338.9 858.2l5.6 5.6m-5.6 0l5.6 -5.6M338.6 855.6l5.6 5.6m-5.6 0l5.6 -5.6M417.3 805l5.6 5.6m-5.6 0l5.6 -5.6M412.6 808.8l5.6 5.6m-5.6 0l5.6 -5.6M337.3 856.2l5.6 5.6m-5.6 0l5.6 -5.6M434.7 797.9l5.6 5.6m-5.6 0l5.6 -5.6M377.1 827.3l5.6 5.6m-5.6 0l5.6 -5.6M339.8 857.9l5.6 5.6m-5.6 0l5.6 -5.6M447.8 792.9l5.6 5.6m-5.6 0l5.6 -5.6M403.5 810.8l5.6 5.6m-5.6 0l5.6 -5.6M391.4 820l5.6 5.6m-5.6 0l5.6 -5.6M439.3 802.4l5.6 5.6m-5.6 0l5.6 -5.6M499.5 776.7l5.6 5.6m-5.6 0l5.6 -5.6M280.3 941.3l5.6 5.6m-5.6 0l5.6 -5.6M304.2 895.4l5.6 5.6m-5.6 0l5.6 -5.6M330.1 861.2l5.6 5.6m-5.6 0l5.6 -5.6M442.6 800.2l5.6 5.6m-5.6 0l5.6 -5.6M310.6 879.3l5.6 5.6m-5.6 0l5.6 -5.6M290.4 922.3l5.6 5.6m-5.6 0l5.6 -5.6M276 950.9l5.6 5.6m-5.6 0l5.6 -5.6M315 875.6l5.6 5.6m-5.6 0l5.6 -5.6M296.4 908.7l5.6 5.6m-5.6 0l5.6 -5.6M319.5 874.7l5.6 5.6m-5.6 0l5.6 -5.6M477.9 789.1l5.6 5.6m-5.6 0l5.6 -5.6M462.1 787.8l5.6 5.6m-5.6 0l5.6 -5.6M529.9 771.6l5.6 5.6m-5.6 0l5.6 -5.6M522 779.2l5.6 5.6m-5.6 0l5.6 -5.6M328 862.1l5.6 5.6m-5.6 0l5.6 -5.6M422.1 803.5l5.6 5.6m-5.6 0l5.6 -5.6M371.8 829.2l5.6 5.6m-5.6 0l5.6 -5.6M312.5 879.6l5.6 5.6m-5.6 0l5.6 -5.6M419.7 801.1l5.6 5.6m-5.6 0l5.6 -5.6M345.2 848.8l5.6 5.6m-5.6 0l5.6 -5.6M385.5 826l5.6 5.6m-5.6 0l5.6 -5.6M306.4 893.7l5.6 5.6m-5.6 0l5.6 -5.6M384.9 824.2l5.6 5.6m-5.6 0l5.6 -5.6M406.5 808.2l5.6 5.6m-5.6 0l5.6 -5.6M293 916.5l5.6 5.6m-5.6 0l5.6 -5.6M499.4 777.4l5.6 5.6m-5.6 0l5.6 -5.6M453.1 792.1l5.6 5.6m-5.6 0l5.6 -5.6M344.4 853.9l5.6 5.6m-5.6 0l5.6 -5.6M495.2 783.8l5.6 5.6m-5.6 0l5.6 -5.6M280.6 933.7l5.6 5.6m-5.6 0l5.6 -5.6M395 817.4l5.6 5.6m-5.6 0l5.6 -5.6M495.1 783.6l5.6 5.6m-5.6 0l5.6 -5.6M535.4 776.6l5.6 5.6m-5.6 0l5.6 -5.6M445.9 798.6l5.6 5.6m-5.6 0l5.6 -5.6M484.3 788.3l5.6 5.6m-5.6 0l5.6 -5.6M313.6 881.8l5.6 5.6m-5.6 0l5.6 -5.6M333.4 860.9l5.6 5.6m-5.6 0l5.6 -5.6M469.5 785.5l5.6 5.6m-5.6 0l5.6 -5.6M341.3 855.6l5.6 5.6m-5.6 0l5.6 -5.6M426 803l5.6 5.6m-5.6 0l5.6 -5.6M409.3 811.5l5.6 5.6m-5.6 0l5.6 -5.6M367.4 832.6l5.6 5.6m-5.6 0l5.6 -5.6M340.3 852.3l5.6 5.6m-5.6 0l5.6 -5.6M438 799.3l5.6 5.6m-5.6 0l5.6 -5.6M481.3 787.6l5.6 5.6m-5.6 0l5.6 -5.6M424.9 802.2l5.6 5.6m-5.6 0l5.6 -5.6M393.5 819.7l5.6 5.6m-5.6 0l5.6 -5.6M487.6 784.9l5.6 5.6m-5.6 0l5.6 -5.6M421 801.4l5.6 5.6m-5.6 0l5.6 -5.6M348.5 851l5.6 5.6m-5.6 0l5.6 -5.6M465.1 787.5l5.6 5.6m-5.6 0l5.6 -5.6M349.5 850.2l5.6 5.6m-5.6 0l5.6 -5.6M457 790.8l5.6 5.6m-5.6 0l5.6 -5.6M423.3 804.2l5.6 5.6m-5.6 0l5.6 -5.6M543 770.5l5.6 5.6m-5.6 0l5.6 -5.6M305.9 893.8l5.6 5.6m-5.6 0l5.6 -5.6M463.1 787.8l5.6 5.6m-5.6 0l5.6 -5.6M302.9 902.4l5.6 5.6m-5.6 0l5.6 -5.6M513.6 776.9l5.6 5.6m-5.6 0l5.6 -5.6M436.6 800.4l5.6 5.6m-5.6 0l5.6 -5.6M531.8 777.1l5.6 5.6m-5.6 0l5.6 -5.6M384.8 822l5.6 5.6m-5.6 0l5.6 -5.6M396.8 820.4l5.6 5.6m-5.6 0l5.6 -5.6M400.4 816.1l5.6 5.6m-5.6 0l5.6 -5.6M275.5 951.9l5.6 5.6m-5.6 0l5.6 -5.6M339.3 853.6l5.6 5.6m-5.6 0l5.6 -5.6M517.6 778.6l5.6 5.6m-5.6 0l5.6 -5.6M439.8 798l5.6 5.6m-5.6 0l5.6 -5.6M513.1 772.9l5.6 5.6m-5.6 0l5.6 -5.6M428.9 804.9l5.6 5.6m-5.6 0l5.6 -5.6M508.4 779.6l5.6 5.6m-5.6 0l5.6 -5.6M378.4 825.1l5.6 5.6m-5.6 0l5.6 -5.6M302 903.1l5.6 5.6m-5.6 0l5.6 -5.6M351.2 842.5l5.6 5.6m-5.6 0l5.6 -5.6M362 839.1l5.6 5.6m-5.6 0l5.6 -5.6M461.1 792.1l5.6 5.6m-5.6 0l5.6 -5.6M463.5 787l5.6 5.6m-5.6 0l5.6 -5.6M478.6 788.8l5.6 5.6m-5.6 0l5.6 -5.6M407.1 811.6l5.6 5.6m-5.6 0l5.6 -5.6M488.6 788.8l5.6 5.6m-5.6 0l5.6 -5.6M417.9 804.6l5.6 5.6m-5.6 0l5.6 -5.6M511.1 774.8l5.6 5.6m-5.6 0l5.6 -5.6M345.4 851.4l5.6 5.6m-5.6 0l5.6 -5.6M391.9 822.1l5.6 5.6m-5.6 0l5.6 -5.6M326.4 863.6l5.6 5.6m-5.6 0l5.6 -5.6M382.4 826.6l5.6 5.6m-5.6 0l5.6 -5.6M457.9 793.3l5.6 5.6m-5.6 0l5.6 -5.6M367.8 833.4l5.6 5.6m-5.6 0l5.6 -5.6M376.9 829.2l5.6 5.6m-5.6 0l5.6 -5.6M516.4 777.8l5.6 5.6m-5.6 0l5.6 -5.6M287.4 925.5l5.6 5.6m-5.6 0l5.6 -5.6M445.6 798.2l5.6 5.6m-5.6 0l5.6 -5.6M327.3 861.9l5.6 5.6m-5.6 0l5.6 -5.6M385.9 826.1l5.6 5.6m-5.6 0l5.6 -5.6M412.4 806l5.6 5.6m-5.6 0l5.6 -5.6M417.7 805.5l5.6 5.6m-5.6 0l5.6 -5.6M532.4 773.7l5.6 5.6m-5.6 0l5.6 -5.6M510.2 779.7l5.6 5.6m-5.6 0l5.6 -5.6M304.7 895.1l5.6 5.6m-5.6 0l5.6 -5.6M346 853.8l5.6 5.6m-5.6 0l5.6 -5.6M432.7 800.4l5.6 5.6m-5.6 0l5.6 -5.6M355.8 838.3l5.6 5.6m-5.6 0l5.6 -5.6M531.3 772.2l5.6 5.6m-5.6 0l5.6 -5.6M503 780.6l5.6 5.6m-5.6 0l5.6 -5.6M342.2 854.5l5.6 5.6m-5.6 0l5.6 -5.6M464.1 785.9l5.6 5.6m-5.6 0l5.6 -5.6M362.3 836.1l5.6 5.6m-5.6 0l5.6 -5.6M541.4 774.9l5.6 5.6m-5.6 0l5.6 -5.6M451.8 794.3l5.6 5.6m-5.6 0l5.6 -5.6M331.4 864.4l5.6 5.6m-5.6 0l5.6 -5.6M317.9 873.8l5.6 5.6m-5.6 0l5.6 -5.6M504.2 777l5.6 5.6m-5.6 0l5.6 -5.6M374.9 827.7l5.6 5.6m-5.6 0l5.6 -5.6M281.5 937.9l5.6 5.6m-5.6 0l5.6 -5.6M283.1 935.7l5.6 5.6m-5.6 0l5.6 -5.6M436.2 796.7l5.6 5.6m-5.6 0l5.6 -5.6M469.1 784.5l5.6 5.6m-5.6 0l5.6 -5.6M423.4 803.4l5.6 5.6m-5.6 0l5.6 -5.6M464.3 786.6l5.6 5.6m-5.6 0l5.6 -5.6M467.2 787.7l5.6 5.6m-5.6 0l5.6 -5.6M288.9 922.1l5.6 5.6m-5.6 0l5.6 -5.6M391.6 823l5.6 5.6m-5.6 0l5.6 -5.6M324 866.1l5.6 5.6m-5.6 0l5.6 -5.6M406.6 807.6l5.6 5.6m-5.6 0l5.6 -5.6M539.7 771.1l5.6 5.6m-5.6 0l5.6 -5.6M489.1 785.8l5.6 5.6m-5.6 0l5.6 -5.6" stroke="#ff1010" stroke-width="1.6" fill="none"/>
<path d="M278 962.2 279.7 959.3 281.4 958.3 283.1 956.1 284.9 956.7 286.6 953.5 288.3 954.3 290 952.7 291.8 948.1 293.5 945 295.2 941.5 296.9 938.2 298.6 936.6 300.4 934.2 302.1 932.7 303.8 929.3 305.5 925.7 307.3 923 309 919 310.7 915.7 312.4 914.1 314.1 913.6 315.9 910.9 317.6 912.2 319.3 910.8 321 909.6 322.7 906.5 324.5 903.5 326.2 902.3 327.9 899.2 329.6 898.9 331.4 898.9 333.1 897.4 334.8 896.8 336.5 893.6 338.2 892.8 340 888.3 341.7 885.8 343.4 884.2 345.1 883.6 346.8 880.9 348.6 880.8 350.3 881.4 352 879.1 353.7 878 355.5 875.7 357.2 875.9 358.9 874 360.6 872.3 362.3 873.5 364.1 873.5 365.8 872.3 367.5 871.6 369.2 872.4 371 870.9 372.7 868.5 374.4 866.4 376.1 866 377.8 866.9 379.6 866.1 381.3 866.1 383 865.7 384.7 863.6 386.4 863.4 388.2 860.4 389.9 859.5 391.6 857.2 393.3 856.4 395.1 856.4 396.8 856.5 398.5 855.6 400.2 855.5 401.9 853.1 403.7 851.5 405.4 850 407.1 849.5 408.8 850.7 410.5 849.9 412.3 850.6 414 851 415.7 852.8 417.4 853 419.2 850.9 420.9 849.1 422.6 849.6 424.3 849.2 426 848 427.8 848.3 429.5 848.1 431.2 848.1 432.9 847.4 434.7 846.4 436.4 843.2 438.1 843 439.8 840.9 441.5 840 443.3 840.9 445 839.6 446.7 840.4 448.4 840.9 450.1 840 451.9 839 453.6 837.2 455.3 837 457 837.4 458.8 836.8 460.5 839.4 462.2 839.8 463.9 839.3 465.6 839.2 467.4 839.2 469.1 836.3 470.8 837 472.5 839.6 474.3 839.4 476 842.4 477.7 841.4 479.4 839.5 481.1 836.1 482.9 833.5 484.6 831 486.3 829.9 488 829.3 489.7 828.7 491.5 828.1 493.2 829.6 494.9 831 496.6 829.3 498.4 830 500.1 828.1 501.8 827.7 503.5 828.2 505.2 829.3 507 829.4 508.7 829.6 510.4 831.1 512.1 829.8 513.8 830.8 515.6 829.2 517.3 827.3 519 826.9 520.7 825.7 522.5 825.8 524.2 826.1 525.9 826.5 527.6 824.6 529.3 825.4 531.1 823.6 532.8 820.6 534.5 821.2 536.2 819.1 538 820.5 539.7 819.4 541.4 821.5 543.1 821.8 544.8 820.9 546.6 820.5" fill="none" stroke="#f0148a" stroke-width="5.6" stroke-linejoin="round" stroke-linecap="round"/>
<path d="M478.3 834.2l5.6 5.6m-5.6 0l5.6 -5.6M483.2 828.5l5.6 5.6m-5.6 0l5.6 -5.6M505.6 827.3l5.6 5.6m-5.6 0l5.6 -5.6M457.3 837.3l5.6 5.6m-5.6 0l5.6 -5.6M488.1 825.6l5.6 5.6m-5.6 0l5.6 -5.6M512 824l5.6 5.6m-5.6 0l5.6 -5.6M491.4 827l5.6 5.6m-5.6 0l5.6 -5.6M518.6 824.7l5.6 5.6m-5.6 0l5.6 -5.6M279 952.6l5.6 5.6m-5.6 0l5.6 -5.6M537.7 815.8l5.6 5.6m-5.6 0l5.6 -5.6M467.5 835.9l5.6 5.6m-5.6 0l5.6 -5.6M419.3 847.8l5.6 5.6m-5.6 0l5.6 -5.6M286.2 947.8l5.6 5.6m-5.6 0l5.6 -5.6M542.3 818.7l5.6 5.6m-5.6 0l5.6 -5.6M340.1 882.3l5.6 5.6m-5.6 0l5.6 -5.6M428.3 845.6l5.6 5.6m-5.6 0l5.6 -5.6M501.7 827.2l5.6 5.6m-5.6 0l5.6 -5.6M428.3 847.3l5.6 5.6m-5.6 0l5.6 -5.6M324.5 899.3l5.6 5.6m-5.6 0l5.6 -5.6M475.1 840.7l5.6 5.6m-5.6 0l5.6 -5.6M455.9 832.7l5.6 5.6m-5.6 0l5.6 -5.6M484.1 825.4l5.6 5.6m-5.6 0l5.6 -5.6M375.6 864.3l5.6 5.6m-5.6 0l5.6 -5.6M294.2 937.1l5.6 5.6m-5.6 0l5.6 -5.6M481.3 826.8l5.6 5.6m-5.6 0l5.6 -5.6M275.2 960.3l5.6 5.6m-5.6 0l5.6 -5.6M298.8 929.2l5.6 5.6m-5.6 0l5.6 -5.6M489.9 828.1l5.6 5.6m-5.6 0l5.6 -5.6M482.2 826.5l5.6 5.6m-5.6 0l5.6 -5.6M407.6 850.7l5.6 5.6m-5.6 0l5.6 -5.6M399 849.7l5.6 5.6m-5.6 0l5.6 -5.6M393.2 855.1l5.6 5.6m-5.6 0l5.6 -5.6M499.3 828.7l5.6 5.6m-5.6 0l5.6 -5.6M278.5 952.9l5.6 5.6m-5.6 0l5.6 -5.6M499 827l5.6 5.6m-5.6 0l5.6 -5.6M326.1 894.9l5.6 5.6m-5.6 0l5.6 -5.6M514.3 822.6l5.6 5.6m-5.6 0l5.6 -5.6M484.6 826.2l5.6 5.6m-5.6 0l5.6 -5.6M404 847.3l5.6 5.6m-5.6 0l5.6 -5.6M335.1 889.9l5.6 5.6m-5.6 0l5.6 -5.6M335.2 888.9l5.6 5.6m-5.6 0l5.6 -5.6M529.3 817.7l5.6 5.6m-5.6 0l5.6 -5.6M367 871.1l5.6 5.6m-5.6 0l5.6 -5.6M430.6 842.9l5.6 5.6m-5.6 0l5.6 -5.6M366.4 870.8l5.6 5.6m-5.6 0l5.6 -5.6M518.5 821.6l5.6 5.6m-5.6 0l5.6 -5.6M525.4 820.8l5.6 5.6m-5.6 0l5.6 -5.6M400.8 848.3l5.6 5.6m-5.6 0l5.6 -5.6M528.3 821.7l5.6 5.6m-5.6 0l5.6 -5.6M384.3 858.4l5.6 5.6m-5.6 0l5.6 -5.6M300.5 928.2l5.6 5.6m-5.6 0l5.6 -5.6M356.2 869.7l5.6 5.6m-5.6 0l5.6 -5.6M477.9 836.7l5.6 5.6m-5.6 0l5.6 -5.6M398.2 848.2l5.6 5.6m-5.6 0l5.6 -5.6M412.1 851.5l5.6 5.6m-5.6 0l5.6 -5.6M304.4 917l5.6 5.6m-5.6 0l5.6 -5.6M423.1 846.3l5.6 5.6m-5.6 0l5.6 -5.6M342.7 880l5.6 5.6m-5.6 0l5.6 -5.6M307.2 917.4l5.6 5.6m-5.6 0l5.6 -5.6M517.4 823l5.6 5.6m-5.6 0l5.6 -5.6M445.8 838.7l5.6 5.6m-5.6 0l5.6 -5.6M435.3 837l5.6 5.6m-5.6 0l5.6 -5.6M349.7 874.6l5.6 5.6m-5.6 0l5.6 -5.6M379.3 862.7l5.6 5.6m-5.6 0l5.6 -5.6M426.2 845.1l5.6 5.6m-5.6 0l5.6 -5.6M294.3 937l5.6 5.6m-5.6 0l5.6 -5.6M331 891.6l5.6 5.6m-5.6 0l5.6 -5.6M512.7 828.4l5.6 5.6m-5.6 0l5.6 -5.6M408.4 848.3l5.6 5.6m-5.6 0l5.6 -5.6M333.5 889l5.6 5.6m-5.6 0l5.6 -5.6M460.7 836.8l5.6 5.6m-5.6 0l5.6 -5.6M369.7 866.2l5.6 5.6m-5.6 0l5.6 -5.6M536 816.4l5.6 5.6m-5.6 0l5.6 -5.6M490.6 829.6l5.6 5.6m-5.6 0l5.6 -5.6M453.2 834.9l5.6 5.6m-5.6 0l5.6 -5.6M377.6 860.6l5.6 5.6m-5.6 0l5.6 -5.6M369 868.6l5.6 5.6m-5.6 0l5.6 -5.6M412.1 847l5.6 5.6m-5.6 0l5.6 -5.6M311.8 908.7l5.6 5.6m-5.6 0l5.6 -5.6M401.4 846.3l5.6 5.6m-5.6 0l5.6 -5.6M353.4 875.4l5.6 5.6m-5.6 0l5.6 -5.6M443.3 838.4l5.6 5.6m-5.6 0l5.6 -5.6M299.3 926.3l5.6 5.6m-5.6 0l5.6 -5.6M540.3 817l5.6 5.6m-5.6 0l5.6 -5.6M301.5 927.1l5.6 5.6m-5.6 0l5.6 -5.6M367.1 866.1l5.6 5.6m-5.6 0l5.6 -5.6M316.6 908.1l5.6 5.6m-5.6 0l5.6 -5.6M503.2 826.5l5.6 5.6m-5.6 0l5.6 -5.6M380.8 860.8l5.6 5.6m-5.6 0l5.6 -5.6M369.6 866.2l5.6 5.6m-5.6 0l5.6 -5.6M542.2 814.9l5.6 5.6m-5.6 0l5.6 -5.6M406.6 845l5.6 5.6m-5.6 0l5.6 -5.6M393.9 854.9l5.6 5.6m-5.6 0l5.6 -5.6M279.8 952.9l5.6 5.6m-5.6 0l5.6 -5.6M466.5 835.9l5.6 5.6m-5.6 0l5.6 -5.6M280.7 953.4l5.6 5.6m-5.6 0l5.6 -5.6M516.1 822.3l5.6 5.6m-5.6 0l5.6 -5.6M476.4 841.3l5.6 5.6m-5.6 0l5.6 -5.6M442.2 839.7l5.6 5.6m-5.6 0l5.6 -5.6M325.9 897.7l5.6 5.6m-5.6 0l5.6 -5.6M443.9 839.6l5.6 5.6m-5.6 0l5.6 -5.6M307.2 916.1l5.6 5.6m-5.6 0l5.6 -5.6M425.1 848l5.6 5.6m-5.6 0l5.6 -5.6M278.4 952.7l5.6 5.6m-5.6 0l5.6 -5.6M335.8 890.5l5.6 5.6m-5.6 0l5.6 -5.6M333.6 891.2l5.6 5.6m-5.6 0l5.6 -5.6M531.7 817.2l5.6 5.6m-5.6 0l5.6 -5.6M298.3 927.1l5.6 5.6m-5.6 0l5.6 -5.6M541.1 816.1l5.6 5.6m-5.6 0l5.6 -5.6M282.6 952.6l5.6 5.6m-5.6 0l5.6 -5.6M409.5 849.6l5.6 5.6m-5.6 0l5.6 -5.6M326.9 896.7l5.6 5.6m-5.6 0l5.6 -5.6M537.5 815.9l5.6 5.6m-5.6 0l5.6 -5.6M336.5 890.3l5.6 5.6m-5.6 0l5.6 -5.6M356.1 873.8l5.6 5.6m-5.6 0l5.6 -5.6M376.4 865.5l5.6 5.6m-5.6 0l5.6 -5.6M344.8 878.7l5.6 5.6m-5.6 0l5.6 -5.6M409.2 845.8l5.6 5.6m-5.6 0l5.6 -5.6M369.7 865.2l5.6 5.6m-5.6 0l5.6 -5.6M306.1 918.1l5.6 5.6m-5.6 0l5.6 -5.6M523.5 823.8l5.6 5.6m-5.6 0l5.6 -5.6M488.2 827.9l5.6 5.6m-5.6 0l5.6 -5.6M442.9 839.7l5.6 5.6m-5.6 0l5.6 -5.6M456.4 831.3l5.6 5.6m-5.6 0l5.6 -5.6M525.8 822l5.6 5.6m-5.6 0l5.6 -5.6M337.3 885.5l5.6 5.6m-5.6 0l5.6 -5.6M370.5 863.5l5.6 5.6m-5.6 0l5.6 -5.6M319.7 903.2l5.6 5.6m-5.6 0l5.6 -5.6M469.4 838l5.6 5.6m-5.6 0l5.6 -5.6M473 839.3l5.6 5.6m-5.6 0l5.6 -5.6M516.8 824.1l5.6 5.6m-5.6 0l5.6 -5.6M534.7 816.2l5.6 5.6m-5.6 0l5.6 -5.6M354 873l5.6 5.6m-5.6 0l5.6 -5.6M358.7 869.1l5.6 5.6m-5.6 0l5.6 -5.6M508.1 825.6l5.6 5.6m-5.6 0l5.6 -5.6M410.9 846.2l5.6 5.6m-5.6 0l5.6 -5.6M393.7 850.6l5.6 5.6m-5.6 0l5.6 -5.6M481.6 825.4l5.6 5.6m-5.6 0l5.6 -5.6M407.2 848.7l5.6 5.6m-5.6 0l5.6 -5.6M413.6 851.3l5.6 5.6m-5.6 0l5.6 -5.6M421 845.7l5.6 5.6m-5.6 0l5.6 -5.6M309.8 911.3l5.6 5.6m-5.6 0l5.6 -5.6M429.1 845.2l5.6 5.6m-5.6 0l5.6 -5.6M371.6 863.5l5.6 5.6m-5.6 0l5.6 -5.6M296.4 932.8l5.6 5.6m-5.6 0l5.6 -5.6M293.8 936.1l5.6 5.6m-5.6 0l5.6 -5.6M349.7 876.3l5.6 5.6m-5.6 0l5.6 -5.6M294.1 931.7l5.6 5.6m-5.6 0l5.6 -5.6M389.8 852.6l5.6 5.6m-5.6 0l5.6 -5.6M522.6 824.2l5.6 5.6m-5.6 0l5.6 -5.6M418.1 846.2l5.6 5.6m-5.6 0l5.6 -5.6M279.8 952.3l5.6 5.6m-5.6 0l5.6 -5.6M306.4 915.5l5.6 5.6m-5.6 0l5.6 -5.6M324.1 895.9l5.6 5.6m-5.6 0l5.6 -5.6M535 815.7l5.6 5.6m-5.6 0l5.6 -5.6M282 955.5l5.6 5.6m-5.6 0l5.6 -5.6M341.5 881.2l5.6 5.6m-5.6 0l5.6 -5.6M346.5 876.5l5.6 5.6m-5.6 0l5.6 -5.6M417.8 846.3l5.6 5.6m-5.6 0l5.6 -5.6M469.1 832.9l5.6 5.6m-5.6 0l5.6 -5.6M300.4 927l5.6 5.6m-5.6 0l5.6 -5.6M381.4 865l5.6 5.6m-5.6 0l5.6 -5.6M415.6 849.7l5.6 5.6m-5.6 0l5.6 -5.6M490 824.9l5.6 5.6m-5.6 0l5.6 -5.6M421 843.8l5.6 5.6m-5.6 0l5.6 -5.6M433.7 839.8l5.6 5.6m-5.6 0l5.6 -5.6M405.6 846.2l5.6 5.6m-5.6 0l5.6 -5.6M539.3 818l5.6 5.6m-5.6 0l5.6 -5.6M275.7 959.8l5.6 5.6m-5.6 0l5.6 -5.6M411.1 851.4l5.6 5.6m-5.6 0l5.6 -5.6M462.2 838.7l5.6 5.6m-5.6 0l5.6 -5.6M330.9 891.5l5.6 5.6m-5.6 0l5.6 -5.6M447.6 838.2l5.6 5.6m-5.6 0l5.6 -5.6M513.2 827.7l5.6 5.6m-5.6 0l5.6 -5.6M337.4 882.4l5.6 5.6m-5.6 0l5.6 -5.6M311.4 908.2l5.6 5.6m-5.6 0l5.6 -5.6M481.9 829.5l5.6 5.6m-5.6 0l5.6 -5.6M533.8 817.3l5.6 5.6m-5.6 0l5.6 -5.6M453.5 831l5.6 5.6m-5.6 0l5.6 -5.6M409.8 848.4l5.6 5.6m-5.6 0l5.6 -5.6M318 903.1l5.6 5.6m-5.6 0l5.6 -5.6M322 899.9l5.6 5.6m-5.6 0l5.6 -5.6M374 865.8l5.6 5.6m-5.6 0l5.6 -5.6M301.4 925.8l5.6 5.6m-5.6 0l5.6 -5.6M361.9 871.8l5.6 5.6m-5.6 0l5.6 -5.6M411 848.2l5.6 5.6m-5.6 0l5.6 -5.6M477.6 838.6l5.6 5.6m-5.6 0l5.6 -5.6M375.5 860.3l5.6 5.6m-5.6 0l5.6 -5.6M479.2 833.6l5.6 5.6m-5.6 0l5.6 -5.6M445.1 836.3l5.6 5.6m-5.6 0l5.6 -5.6M527.3 817.9l5.6 5.6m-5.6 0l5.6 -5.6M316 905.2l5.6 5.6m-5.6 0l5.6 -5.6M532.5 817.2l5.6 5.6m-5.6 0l5.6 -5.6M492 829.9l5.6 5.6m-5.6 0l5.6 -5.6M366.5 871.5l5.6 5.6m-5.6 0l5.6 -5.6M359.7 868.9l5.6 5.6m-5.6 0l5.6 -5.6M396.7 849.6l5.6 5.6m-5.6 0l5.6 -5.6M370.3 868.5l5.6 5.6m-5.6 0l5.6 -5.6M424.9 846.2l5.6 5.6m-5.6 0l5.6 -5.6M450.4 833.3l5.6 5.6m-5.6 0l5.6 -5.6M291.7 939.6l5.6 5.6m-5.6 0l5.6 -5.6M497.9 823.6l5.6 5.6m-5.6 0l5.6 -5.6M479.9 830.8l5.6 5.6m-5.6 0l5.6 -5.6M399.3 848.7l5.6 5.6m-5.6 0l5.6 -5.6M529.4 819.7l5.6 5.6m-5.6 0l5.6 -5.6M538 818.5l5.6 5.6m-5.6 0l5.6 -5.6M419.3 847.3l5.6 5.6m-5.6 0l5.6 -5.6M486.6 825.3l5.6 5.6m-5.6 0l5.6 -5.6M345.4 879.4l5.6 5.6m-5.6 0l5.6 -5.6M437.4 839.3l5.6 5.6m-5.6 0l5.6 -5.6M471.4 837.3l5.6 5.6m-5.6 0l5.6 -5.6M357.4 868.6l5.6 5.6m-5.6 0l5.6 -5.6M419.5 846.9l5.6 5.6m-5.6 0l5.6 -5.6M507.9 827.7l5.6 5.6m-5.6 0l5.6 -5.6M379.7 862.2l5.6 5.6m-5.6 0l5.6 -5.6M299.2 929l5.6 5.6m-5.6 0l5.6 -5.6M294.4 933.5l5.6 5.6m-5.6 0l5.6 -5.6M364.6 868.9l5.6 5.6m-5.6 0l5.6 -5.6M333.5 891.8l5.6 5.6m-5.6 0l5.6 -5.6M412.8 849.7l5.6 5.6m-5.6 0l5.6 -5.6M538.8 819.2l5.6 5.6m-5.6 0l5.6 -5.6M391.7 852.4l5.6 5.6m-5.6 0l5.6 -5.6M491.9 828l5.6 5.6m-5.6 0l5.6 -5.6M474 839.9l5.6 5.6m-5.6 0l5.6 -5.6M460.2 838.1l5.6 5.6m-5.6 0l5.6 -5.6M497.1 826.1l5.6 5.6m-5.6 0l5.6 -5.6M323 895.4l5.6 5.6m-5.6 0l5.6 -5.6M411.7 848l5.6 5.6m-5.6 0l5.6 -5.6M414.6 850.2l5.6 5.6m-5.6 0l5.6 -5.6M369.9 867.5l5.6 5.6m-5.6 0l5.6 -5.6M462.2 837.7l5.6 5.6m-5.6 0l5.6 -5.6M312.1 910.3l5.6 5.6m-5.6 0l5.6 -5.6M441.9 837.2l5.6 5.6m-5.6 0l5.6 -5.6M300 927.6l5.6 5.6m-5.6 0l5.6 -5.6M426.7 846.3l5.6 5.6m-5.6 0l5.6 -5.6M424 843.4l5.6 5.6m-5.6 0l5.6 -5.6M449.8 837l5.6 5.6m-5.6 0l5.6 -5.6M320.9 902.5l5.6 5.6m-5.6 0l5.6 -5.6M442.8 839.4l5.6 5.6m-5.6 0l5.6 -5.6M393.5 852.4l5.6 5.6m-5.6 0l5.6 -5.6M333.3 895.6l5.6 5.6m-5.6 0l5.6 -5.6M469.5 833.1l5.6 5.6m-5.6 0l5.6 -5.6M530.6 820.9l5.6 5.6m-5.6 0l5.6 -5.6M469 835.3l5.6 5.6m-5.6 0l5.6 -5.6M406 845.2l5.6 5.6m-5.6 0l5.6 -5.6M512.5 827.8l5.6 5.6m-5.6 0l5.6 -5.6M512.1 824.4l5.6 5.6m-5.6 0l5.6 -5.6M430 840.5l5.6 5.6m-5.6 0l5.6 -5.6M285.5 953.2l5.6 5.6m-5.6 0l5.6 -5.6M378.4 863.3l5.6 5.6m-5.6 0l5.6 -5.6M357.5 869l5.6 5.6m-5.6 0l5.6 -5.6M345.8 879l5.6 5.6m-5.6 0l5.6 -5.6M304 920.3l5.6 5.6m-5.6 0l5.6 -5.6M405.9 848.3l5.6 5.6m-5.6 0l5.6 -5.6M431.7 842.7l5.6 5.6m-5.6 0l5.6 -5.6M401.7 847.6l5.6 5.6m-5.6 0l5.6 -5.6M541.6 821l5.6 5.6m-5.6 0l5.6 -5.6M377.7 862.5l5.6 5.6m-5.6 0l5.6 -5.6M481.3 826.9l5.6 5.6m-5.6 0l5.6 -5.6M336.8 889.4l5.6 5.6m-5.6 0l5.6 -5.6M294 938.8l5.6 5.6m-5.6 0l5.6 -5.6M518.2 824.3l5.6 5.6m-5.6 0l5.6 -5.6M305.1 920.2l5.6 5.6m-5.6 0l5.6 -5.6M279.9 953.5l5.6 5.6m-5.6 0l5.6 -5.6M466.6 833.7l5.6 5.6m-5.6 0l5.6 -5.6M350.1 876.4l5.6 5.6m-5.6 0l5.6 -5.6M436.4 840.5l5.6 5.6m-5.6 0l5.6 -5.6M390.2 854.3l5.6 5.6m-5.6 0l5.6 -5.6M437.2 838l5.6 5.6m-5.6 0l5.6 -5.6M470.6 839.5l5.6 5.6m-5.6 0l5.6 -5.6M383 857.4l5.6 5.6m-5.6 0l5.6 -5.6M498.1 826.5l5.6 5.6m-5.6 0l5.6 -5.6M362.3 870.1l5.6 5.6m-5.6 0l5.6 -5.6M411.6 851.3l5.6 5.6m-5.6 0l5.6 -5.6M285.1 954.1l5.6 5.6m-5.6 0l5.6 -5.6M303.8 926.8l5.6 5.6m-5.6 0l5.6 -5.6M369.9 867.9l5.6 5.6m-5.6 0l5.6 -5.6M292.4 938.3l5.6 5.6m-5.6 0l5.6 -5.6M442.1 837.2l5.6 5.6m-5.6 0l5.6 -5.6M465.6 834.1l5.6 5.6m-5.6 0l5.6 -5.6M344.9 877.1l5.6 5.6m-5.6 0l5.6 -5.6M331.7 890.6l5.6 5.6m-5.6 0l5.6 -5.6M327 893.4l5.6 5.6m-5.6 0l5.6 -5.6M469 837.5l5.6 5.6m-5.6 0l5.6 -5.6M426.8 847.1l5.6 5.6m-5.6 0l5.6 -5.6M371.8 862.3l5.6 5.6m-5.6 0l5.6 -5.6M504.1 828.7l5.6 5.6m-5.6 0l5.6 -5.6M367.6 868.8l5.6 5.6m-5.6 0l5.6 -5.6M324.7 897.6l5.6 5.6m-5.6 0l5.6 -5.6M505.2 826.5l5.6 5.6m-5.6 0l5.6 -5.6M490.5 828.5l5.6 5.6m-5.6 0l5.6 -5.6M381 860.2l5.6 5.6m-5.6 0l5.6 -5.6M341.4 882.8l5.6 5.6m-5.6 0l5.6 -5.6M304.5 915.4l5.6 5.6m-5.6 0l5.6 -5.6M327.4 895.6l5.6 5.6m-5.6 0l5.6 -5.6M360.1 867.1l5.6 5.6m-5.6 0l5.6 -5.6M409.5 850l5.6 5.6m-5.6 0l5.6 -5.6M403.6 845.3l5.6 5.6m-5.6 0l5.6 -5.6M352.8 871.8l5.6 5.6m-5.6 0l5.6 -5.6M422 848.3l5.6 5.6m-5.6 0l5.6 -5.6M328 896.1l5.6 5.6m-5.6 0l5.6 -5.6M310.9 911.3l5.6 5.6m-5.6 0l5.6 -5.6M538.5 820.1l5.6 5.6m-5.6 0l5.6 -5.6M357.9 867.5l5.6 5.6m-5.6 0l5.6 -5.6M484.5 828.2l5.6 5.6m-5.6 0l5.6 -5.6M451.8 832.8l5.6 5.6m-5.6 0l5.6 -5.6M375.4 860.7l5.6 5.6m-5.6 0l5.6 -5.6M342.1 883.3l5.6 5.6m-5.6 0l5.6 -5.6M351.7 873.9l5.6 5.6m-5.6 0l5.6 -5.6M451.3 834.3l5.6 5.6m-5.6 0l5.6 -5.6M540.3 819.2l5.6 5.6m-5.6 0l5.6 -5.6M453.5 833.8l5.6 5.6m-5.6 0l5.6 -5.6" stroke="#f0148a" stroke-width="1.6" fill="none"/>
<path d="M275.9 968 277.6 967.6 279.3 964.7 281 964.7 282.8 964.3 284.5 963.6 286.2 962.7 287.9 960.7 289.6 960.3 291.3 960.4 293 960 294.7 956.9 296.5 955.8 298.2 956.8 299.9 953.7 301.6 952.5 303.3 951.6 305 949.1 306.7 949.1 308.4 944.8 310.2 943 311.9 942.2 313.6 940.4 315.3 939.9 317 938.9 318.7 935.4 320.4 936.2 322.2 932.4 323.9 931.2 325.6 928.6 327.3 926 329 923.2 330.7 922.5 332.4 919 334.1 917 335.9 916.5 337.6 913.9 339.3 912.4 341 911.5 342.7 911.1 344.4 909.3 346.1 909.5 347.8 907.2 349.6 906.3 351.3 904 353 901.3 354.7 902 356.4 900.5 358.1 899.5 359.8 898.2 361.6 899.4 363.3 899.3 365 899.8 366.7 898.2 368.4 899.4 370.1 899.5 371.8 898.3 373.5 896.9 375.3 894.6 377 894.5 378.7 893.5 380.4 891.7 382.1 892.8 383.8 891 385.5 890.3 387.2 891.1 389 891.8 390.7 890.7 392.4 888.8 394.1 888 395.8 887.8 397.5 886.3 399.2 883.6 401 882.2 402.7 880.4 404.4 880.4 406.1 880.2 407.8 878.6 409.5 879.7 411.2 878.8 412.9 879.1 414.7 878.8 416.4 878 418.1 876 419.8 877 421.5 873.8 423.2 873.3 424.9 872.4 426.6 873.3 428.4 872.7 430.1 874.1 431.8 872.5 433.5 872.8 435.2 873 436.9 874 438.6 875.1 440.4 873.7 442.1 873.5 443.8 872.2 445.5 871.4 447.2 871.7 448.9 869.4 450.6 870.3 452.3 871.1 454.1 869.7 455.8 870.2 457.5 870.6 459.2 869.6 460.9 869.1 462.6 870 464.3 867.1 466 866.5 467.8 865.9 469.5 863.7 471.2 862.6 472.9 863.9 474.6 863.2 476.3 862.3 478 863.4 479.8 863.1 481.5 862.9 483.2 862 484.9 862.5 486.6 860.9 488.3 860.1 490 858.9 491.7 857.5 493.5 858.7 495.2 858.2 496.9 858.2 498.6 857.3 500.3 858.3 502 858.6 503.7 858.3 505.4 859 507.2 858.4 508.9 859.9 510.6 859.2 512.3 857 514 857.8 515.7 857.1 517.4 854.9 519.2 856.7 520.9 856.5 522.6 855.3 524.3 855.2 526 854.4 527.7 856.3 529.4 856 531.1 854.3 532.9 853.1 534.6 852.9 536.3 852.6 538 850.6 539.7 850.4 541.4 850 543.1 848.5 544.8 849.4 546.6 848.6" fill="none" stroke="#9a22d8" stroke-width="5.6" stroke-linejoin="round" stroke-linecap="round"/>
<path d="M490 857.8l5.6 5.6m-5.6 0l5.6 -5.6M390.1 885.7l5.6 5.6m-5.6 0l5.6 -5.6M393.4 883.2l5.6 5.6m-5.6 0l5.6 -5.6M277.7 960.5l5.6 5.6m-5.6 0l5.6 -5.6M313.8 934.9l5.6 5.6m-5.6 0l5.6 -5.6M337.3 909.4l5.6 5.6m-5.6 0l5.6 -5.6M520 849.7l5.6 5.6m-5.6 0l5.6 -5.6M499.8 853l5.6 5.6m-5.6 0l5.6 -5.6M441.5 869.5l5.6 5.6m-5.6 0l5.6 -5.6M459.8 865.6l5.6 5.6m-5.6 0l5.6 -5.6M442.5 868.6l5.6 5.6m-5.6 0l5.6 -5.6M497.7 856.5l5.6 5.6m-5.6 0l5.6 -5.6M418.2 872.9l5.6 5.6m-5.6 0l5.6 -5.6M463.6 865.5l5.6 5.6m-5.6 0l5.6 -5.6M416.9 875l5.6 5.6m-5.6 0l5.6 -5.6M410.4 877.2l5.6 5.6m-5.6 0l5.6 -5.6M340.8 908.6l5.6 5.6m-5.6 0l5.6 -5.6M516.4 851.6l5.6 5.6m-5.6 0l5.6 -5.6M457.5 868.1l5.6 5.6m-5.6 0l5.6 -5.6M294.3 953.7l5.6 5.6m-5.6 0l5.6 -5.6M327.9 919.9l5.6 5.6m-5.6 0l5.6 -5.6M386.9 885.6l5.6 5.6m-5.6 0l5.6 -5.6M518.9 851.6l5.6 5.6m-5.6 0l5.6 -5.6M512.6 856.9l5.6 5.6m-5.6 0l5.6 -5.6M486.8 860.2l5.6 5.6m-5.6 0l5.6 -5.6M459.9 866l5.6 5.6m-5.6 0l5.6 -5.6M403.4 879.3l5.6 5.6m-5.6 0l5.6 -5.6M539.4 848.7l5.6 5.6m-5.6 0l5.6 -5.6M273.9 963.9l5.6 5.6m-5.6 0l5.6 -5.6M338.7 907.1l5.6 5.6m-5.6 0l5.6 -5.6M501.8 854.9l5.6 5.6m-5.6 0l5.6 -5.6M280.2 958.5l5.6 5.6m-5.6 0l5.6 -5.6M530.7 849.1l5.6 5.6m-5.6 0l5.6 -5.6M466.5 862.4l5.6 5.6m-5.6 0l5.6 -5.6M332.1 917.5l5.6 5.6m-5.6 0l5.6 -5.6M514 856.4l5.6 5.6m-5.6 0l5.6 -5.6M337 910l5.6 5.6m-5.6 0l5.6 -5.6M329.2 918.1l5.6 5.6m-5.6 0l5.6 -5.6M341.3 907.2l5.6 5.6m-5.6 0l5.6 -5.6M431.2 872.5l5.6 5.6m-5.6 0l5.6 -5.6M349 898.7l5.6 5.6m-5.6 0l5.6 -5.6M532.3 849.2l5.6 5.6m-5.6 0l5.6 -5.6M372.6 890.1l5.6 5.6m-5.6 0l5.6 -5.6M447.1 865.9l5.6 5.6m-5.6 0l5.6 -5.6M352.7 900.5l5.6 5.6m-5.6 0l5.6 -5.6M307.4 944.1l5.6 5.6m-5.6 0l5.6 -5.6M475 858l5.6 5.6m-5.6 0l5.6 -5.6M326 923.6l5.6 5.6m-5.6 0l5.6 -5.6M458.7 867.4l5.6 5.6m-5.6 0l5.6 -5.6M278 959l5.6 5.6m-5.6 0l5.6 -5.6M505.8 855.3l5.6 5.6m-5.6 0l5.6 -5.6M309.2 940.7l5.6 5.6m-5.6 0l5.6 -5.6M490.6 857.1l5.6 5.6m-5.6 0l5.6 -5.6M324.7 926.3l5.6 5.6m-5.6 0l5.6 -5.6M391.6 886.2l5.6 5.6m-5.6 0l5.6 -5.6M359.3 893.6l5.6 5.6m-5.6 0l5.6 -5.6M447.9 869.5l5.6 5.6m-5.6 0l5.6 -5.6M289.6 955.5l5.6 5.6m-5.6 0l5.6 -5.6M451.2 867.2l5.6 5.6m-5.6 0l5.6 -5.6M404.8 874.9l5.6 5.6m-5.6 0l5.6 -5.6M472.6 858.9l5.6 5.6m-5.6 0l5.6 -5.6M396.4 881.8l5.6 5.6m-5.6 0l5.6 -5.6M458.6 870.1l5.6 5.6m-5.6 0l5.6 -5.6M310.1 938.8l5.6 5.6m-5.6 0l5.6 -5.6M306.4 939.5l5.6 5.6m-5.6 0l5.6 -5.6M380.1 886.3l5.6 5.6m-5.6 0l5.6 -5.6M463.8 862.9l5.6 5.6m-5.6 0l5.6 -5.6M316 934.7l5.6 5.6m-5.6 0l5.6 -5.6M305.4 946.9l5.6 5.6m-5.6 0l5.6 -5.6M342.9 906.5l5.6 5.6m-5.6 0l5.6 -5.6M500.5 853.5l5.6 5.6m-5.6 0l5.6 -5.6M387.4 885.3l5.6 5.6m-5.6 0l5.6 -5.6M489.2 856.2l5.6 5.6m-5.6 0l5.6 -5.6M343.9 904.1l5.6 5.6m-5.6 0l5.6 -5.6M379.8 889.6l5.6 5.6m-5.6 0l5.6 -5.6M399 876.5l5.6 5.6m-5.6 0l5.6 -5.6M436.1 873.7l5.6 5.6m-5.6 0l5.6 -5.6M340.6 907.6l5.6 5.6m-5.6 0l5.6 -5.6M445.6 869.2l5.6 5.6m-5.6 0l5.6 -5.6M387.3 890.2l5.6 5.6m-5.6 0l5.6 -5.6M309 943.3l5.6 5.6m-5.6 0l5.6 -5.6M335.3 913.5l5.6 5.6m-5.6 0l5.6 -5.6M285.1 957.4l5.6 5.6m-5.6 0l5.6 -5.6M401.8 876l5.6 5.6m-5.6 0l5.6 -5.6M514.3 852.5l5.6 5.6m-5.6 0l5.6 -5.6M309.2 937.1l5.6 5.6m-5.6 0l5.6 -5.6M369.4 894.5l5.6 5.6m-5.6 0l5.6 -5.6M441.6 866.9l5.6 5.6m-5.6 0l5.6 -5.6M406.8 878.4l5.6 5.6m-5.6 0l5.6 -5.6M448.7 866.3l5.6 5.6m-5.6 0l5.6 -5.6M281 962.7l5.6 5.6m-5.6 0l5.6 -5.6M379.7 887.7l5.6 5.6m-5.6 0l5.6 -5.6M279 959.2l5.6 5.6m-5.6 0l5.6 -5.6M491.8 852.6l5.6 5.6m-5.6 0l5.6 -5.6M331 911.4l5.6 5.6m-5.6 0l5.6 -5.6M351.7 897.3l5.6 5.6m-5.6 0l5.6 -5.6M288.8 956.8l5.6 5.6m-5.6 0l5.6 -5.6M541.1 847.5l5.6 5.6m-5.6 0l5.6 -5.6M506.1 857.7l5.6 5.6m-5.6 0l5.6 -5.6M345.4 903l5.6 5.6m-5.6 0l5.6 -5.6M503.8 855.1l5.6 5.6m-5.6 0l5.6 -5.6M343.6 905.6l5.6 5.6m-5.6 0l5.6 -5.6M435 874.2l5.6 5.6m-5.6 0l5.6 -5.6M442.4 869.9l5.6 5.6m-5.6 0l5.6 -5.6M429.4 872.5l5.6 5.6m-5.6 0l5.6 -5.6M475.2 860.3l5.6 5.6m-5.6 0l5.6 -5.6M471.2 857.4l5.6 5.6m-5.6 0l5.6 -5.6M438.9 871.9l5.6 5.6m-5.6 0l5.6 -5.6M277.5 960l5.6 5.6m-5.6 0l5.6 -5.6M277.2 961.2l5.6 5.6m-5.6 0l5.6 -5.6M307.6 943.5l5.6 5.6m-5.6 0l5.6 -5.6M438.5 873l5.6 5.6m-5.6 0l5.6 -5.6M536.6 850.2l5.6 5.6m-5.6 0l5.6 -5.6M436.3 868.4l5.6 5.6m-5.6 0l5.6 -5.6M318.2 931.2l5.6 5.6m-5.6 0l5.6 -5.6M515.2 855.8l5.6 5.6m-5.6 0l5.6 -5.6M446.7 869.2l5.6 5.6m-5.6 0l5.6 -5.6M281.1 959.3l5.6 5.6m-5.6 0l5.6 -5.6M483.9 856.2l5.6 5.6m-5.6 0l5.6 -5.6M307.2 939.8l5.6 5.6m-5.6 0l5.6 -5.6M414 876.8l5.6 5.6m-5.6 0l5.6 -5.6M434.8 872.3l5.6 5.6m-5.6 0l5.6 -5.6M542.1 844l5.6 5.6m-5.6 0l5.6 -5.6M342.5 909.6l5.6 5.6m-5.6 0l5.6 -5.6M418.5 872.7l5.6 5.6m-5.6 0l5.6 -5.6M529.4 850.1l5.6 5.6m-5.6 0l5.6 -5.6M432.1 872.1l5.6 5.6m-5.6 0l5.6 -5.6M359.7 895.9l5.6 5.6m-5.6 0l5.6 -5.6M471.9 860.8l5.6 5.6m-5.6 0l5.6 -5.6M523.9 851.4l5.6 5.6m-5.6 0l5.6 -5.6M341.2 908.2l5.6 5.6m-5.6 0l5.6 -5.6M413.1 874.4l5.6 5.6m-5.6 0l5.6 -5.6M334.7 910.1l5.6 5.6m-5.6 0l5.6 -5.6M460.8 864.2l5.6 5.6m-5.6 0l5.6 -5.6M279.4 961.5l5.6 5.6m-5.6 0l5.6 -5.6M444.3 866.9l5.6 5.6m-5.6 0l5.6 -5.6M453.7 868.1l5.6 5.6m-5.6 0l5.6 -5.6M412.3 875.5l5.6 5.6m-5.6 0l5.6 -5.6M308.9 938.7l5.6 5.6m-5.6 0l5.6 -5.6M322.5 928.9l5.6 5.6m-5.6 0l5.6 -5.6M500.1 857.6l5.6 5.6m-5.6 0l5.6 -5.6M466.3 860.5l5.6 5.6m-5.6 0l5.6 -5.6M351.1 896.1l5.6 5.6m-5.6 0l5.6 -5.6M431.3 872.2l5.6 5.6m-5.6 0l5.6 -5.6M283 961l5.6 5.6m-5.6 0l5.6 -5.6M421.8 871.7l5.6 5.6m-5.6 0l5.6 -5.6M330.7 915.1l5.6 5.6m-5.6 0l5.6 -5.6M406.3 878.9l5.6 5.6m-5.6 0l5.6 -5.6M337.1 907.7l5.6 5.6m-5.6 0l5.6 -5.6M520.7 853.7l5.6 5.6m-5.6 0l5.6 -5.6M297.4 949.1l5.6 5.6m-5.6 0l5.6 -5.6M385.3 885.8l5.6 5.6m-5.6 0l5.6 -5.6M298.1 950.9l5.6 5.6m-5.6 0l5.6 -5.6M331.1 916.5l5.6 5.6m-5.6 0l5.6 -5.6M398.9 879.9l5.6 5.6m-5.6 0l5.6 -5.6M461 867.8l5.6 5.6m-5.6 0l5.6 -5.6M477.7 859.9l5.6 5.6m-5.6 0l5.6 -5.6M323.5 927.9l5.6 5.6m-5.6 0l5.6 -5.6M439.4 871l5.6 5.6m-5.6 0l5.6 -5.6M461.1 865.1l5.6 5.6m-5.6 0l5.6 -5.6M521.8 853.7l5.6 5.6m-5.6 0l5.6 -5.6M275.5 960.7l5.6 5.6m-5.6 0l5.6 -5.6M515.7 854.5l5.6 5.6m-5.6 0l5.6 -5.6M433.9 871.8l5.6 5.6m-5.6 0l5.6 -5.6M492.1 856.2l5.6 5.6m-5.6 0l5.6 -5.6M307 940.6l5.6 5.6m-5.6 0l5.6 -5.6M287.7 957.3l5.6 5.6m-5.6 0l5.6 -5.6M416.8 875.6l5.6 5.6m-5.6 0l5.6 -5.6M341.9 908.6l5.6 5.6m-5.6 0l5.6 -5.6M489.3 854.7l5.6 5.6m-5.6 0l5.6 -5.6M366.2 898.4l5.6 5.6m-5.6 0l5.6 -5.6M290.2 953.4l5.6 5.6m-5.6 0l5.6 -5.6M477.3 859.7l5.6 5.6m-5.6 0l5.6 -5.6M428.6 871.1l5.6 5.6m-5.6 0l5.6 -5.6M439.1 869.4l5.6 5.6m-5.6 0l5.6 -5.6M405.5 873.6l5.6 5.6m-5.6 0l5.6 -5.6M485.8 858.5l5.6 5.6m-5.6 0l5.6 -5.6M342.3 910.3l5.6 5.6m-5.6 0l5.6 -5.6M292.9 955.6l5.6 5.6m-5.6 0l5.6 -5.6M341.3 906.6l5.6 5.6m-5.6 0l5.6 -5.6M462.9 866.1l5.6 5.6m-5.6 0l5.6 -5.6M322.4 924.1l5.6 5.6m-5.6 0l5.6 -5.6M449.7 865.5l5.6 5.6m-5.6 0l5.6 -5.6M281.7 962.1l5.6 5.6m-5.6 0l5.6 -5.6M523.3 855.2l5.6 5.6m-5.6 0l5.6 -5.6M474.7 856.8l5.6 5.6m-5.6 0l5.6 -5.6M500.3 855.8l5.6 5.6m-5.6 0l5.6 -5.6M368.9 892.8l5.6 5.6m-5.6 0l5.6 -5.6M422.1 870.1l5.6 5.6m-5.6 0l5.6 -5.6M291.7 954.3l5.6 5.6m-5.6 0l5.6 -5.6M523.9 850.9l5.6 5.6m-5.6 0l5.6 -5.6M408.2 873.4l5.6 5.6m-5.6 0l5.6 -5.6M435 874.2l5.6 5.6m-5.6 0l5.6 -5.6M308.9 938.6l5.6 5.6m-5.6 0l5.6 -5.6M476.6 860.7l5.6 5.6m-5.6 0l5.6 -5.6M520.4 854.1l5.6 5.6m-5.6 0l5.6 -5.6M384.3 890l5.6 5.6m-5.6 0l5.6 -5.6M284 959.1l5.6 5.6m-5.6 0l5.6 -5.6M477.4 856.7l5.6 5.6m-5.6 0l5.6 -5.6M457 867.6l5.6 5.6m-5.6 0l5.6 -5.6M512.9 853.2l5.6 5.6m-5.6 0l5.6 -5.6M470.2 862.3l5.6 5.6m-5.6 0l5.6 -5.6M281.5 958.1l5.6 5.6m-5.6 0l5.6 -5.6M513.6 853.7l5.6 5.6m-5.6 0l5.6 -5.6M356.1 899.3l5.6 5.6m-5.6 0l5.6 -5.6M314.5 932.9l5.6 5.6m-5.6 0l5.6 -5.6M481.8 857.7l5.6 5.6m-5.6 0l5.6 -5.6M332.6 912.2l5.6 5.6m-5.6 0l5.6 -5.6M514.1 851.4l5.6 5.6m-5.6 0l5.6 -5.6M536.5 849.5l5.6 5.6m-5.6 0l5.6 -5.6M469.1 858.7l5.6 5.6m-5.6 0l5.6 -5.6M359.5 898.1l5.6 5.6m-5.6 0l5.6 -5.6M318.7 931.5l5.6 5.6m-5.6 0l5.6 -5.6M404 874l5.6 5.6m-5.6 0l5.6 -5.6M342.3 905.3l5.6 5.6m-5.6 0l5.6 -5.6M356 898.1l5.6 5.6m-5.6 0l5.6 -5.6M429 868.7l5.6 5.6m-5.6 0l5.6 -5.6M294.1 952.9l5.6 5.6m-5.6 0l5.6 -5.6M442.8 866.4l5.6 5.6m-5.6 0l5.6 -5.6M455.4 864.7l5.6 5.6m-5.6 0l5.6 -5.6M451.3 866.5l5.6 5.6m-5.6 0l5.6 -5.6M396 883.9l5.6 5.6m-5.6 0l5.6 -5.6M505.9 858.1l5.6 5.6m-5.6 0l5.6 -5.6M360 895.2l5.6 5.6m-5.6 0l5.6 -5.6M340.2 910.7l5.6 5.6m-5.6 0l5.6 -5.6M295.5 952.3l5.6 5.6m-5.6 0l5.6 -5.6M382.5 889.2l5.6 5.6m-5.6 0l5.6 -5.6M448.1 864.9l5.6 5.6m-5.6 0l5.6 -5.6M364.2 898.4l5.6 5.6m-5.6 0l5.6 -5.6M457.7 867.7l5.6 5.6m-5.6 0l5.6 -5.6M291.4 957.4l5.6 5.6m-5.6 0l5.6 -5.6M529.6 849.3l5.6 5.6m-5.6 0l5.6 -5.6M519.3 853.4l5.6 5.6m-5.6 0l5.6 -5.6M299.5 952.6l5.6 5.6m-5.6 0l5.6 -5.6M425.8 869.2l5.6 5.6m-5.6 0l5.6 -5.6M365.9 893.7l5.6 5.6m-5.6 0l5.6 -5.6M476.6 860.4l5.6 5.6m-5.6 0l5.6 -5.6M486.9 856.7l5.6 5.6m-5.6 0l5.6 -5.6M410.9 877.9l5.6 5.6m-5.6 0l5.6 -5.6M477.2 858l5.6 5.6m-5.6 0l5.6 -5.6M504.1 856.1l5.6 5.6m-5.6 0l5.6 -5.6M334 909.8l5.6 5.6m-5.6 0l5.6 -5.6M356.5 897l5.6 5.6m-5.6 0l5.6 -5.6M440.9 871.9l5.6 5.6m-5.6 0l5.6 -5.6M535.6 847.3l5.6 5.6m-5.6 0l5.6 -5.6M479.2 857.3l5.6 5.6m-5.6 0l5.6 -5.6M383 889.3l5.6 5.6m-5.6 0l5.6 -5.6M286.4 957.3l5.6 5.6m-5.6 0l5.6 -5.6M521 855.3l5.6 5.6m-5.6 0l5.6 -5.6M350.1 900.5l5.6 5.6m-5.6 0l5.6 -5.6M395.1 884.3l5.6 5.6m-5.6 0l5.6 -5.6M358.9 893.5l5.6 5.6m-5.6 0l5.6 -5.6M533.2 850.8l5.6 5.6m-5.6 0l5.6 -5.6M308.6 936.4l5.6 5.6m-5.6 0l5.6 -5.6M408.9 877.8l5.6 5.6m-5.6 0l5.6 -5.6M412.5 874.6l5.6 5.6m-5.6 0l5.6 -5.6M400.4 875l5.6 5.6m-5.6 0l5.6 -5.6M302 946.2l5.6 5.6m-5.6 0l5.6 -5.6M505.5 855l5.6 5.6m-5.6 0l5.6 -5.6M420.2 869.6l5.6 5.6m-5.6 0l5.6 -5.6M457.2 863.9l5.6 5.6m-5.6 0l5.6 -5.6M436.3 872.3l5.6 5.6m-5.6 0l5.6 -5.6M312.2 937l5.6 5.6m-5.6 0l5.6 -5.6M488.5 855.4l5.6 5.6m-5.6 0l5.6 -5.6M326 921.4l5.6 5.6m-5.6 0l5.6 -5.6M537.8 845l5.6 5.6m-5.6 0l5.6 -5.6M491.6 857.8l5.6 5.6m-5.6 0l5.6 -5.6M511.9 853.3l5.6 5.6m-5.6 0l5.6 -5.6M341.7 910.3l5.6 5.6m-5.6 0l5.6 -5.6M372.2 890.1l5.6 5.6m-5.6 0l5.6 -5.6M285 957.1l5.6 5.6m-5.6 0l5.6 -5.6M372.2 894.7l5.6 5.6m-5.6 0l5.6 -5.6M491.7 854.3l5.6 5.6m-5.6 0l5.6 -5.6M306 943.9l5.6 5.6m-5.6 0l5.6 -5.6M402.4 879l5.6 5.6m-5.6 0l5.6 -5.6M512.1 855.6l5.6 5.6m-5.6 0l5.6 -5.6M319.9 926.9l5.6 5.6m-5.6 0l5.6 -5.6M453.5 866.7l5.6 5.6m-5.6 0l5.6 -5.6M477.5 861.2l5.6 5.6m-5.6 0l5.6 -5.6M469.4 857.4l5.6 5.6m-5.6 0l5.6 -5.6M352.1 894.8l5.6 5.6m-5.6 0l5.6 -5.6M279.6 958.7l5.6 5.6m-5.6 0l5.6 -5.6M539.1 845.4l5.6 5.6m-5.6 0l5.6 -5.6M428.9 868.4l5.6 5.6m-5.6 0l5.6 -5.6M338 911.5l5.6 5.6m-5.6 0l5.6 -5.6M305.9 941.6l5.6 5.6m-5.6 0l5.6 -5.6M392.2 883.9l5.6 5.6m-5.6 0l5.6 -5.6M503.5 854.3l5.6 5.6m-5.6 0l5.6 -5.6M452 868.1l5.6 5.6m-5.6 0l5.6 -5.6M448.3 866.7l5.6 5.6m-5.6 0l5.6 -5.6M374.4 889.1l5.6 5.6m-5.6 0l5.6 -5.6M538.8 845.7l5.6 5.6m-5.6 0l5.6 -5.6M329.8 919l5.6 5.6m-5.6 0l5.6 -5.6M362.8 896.3l5.6 5.6m-5.6 0l5.6 -5.6M316.3 931.8l5.6 5.6m-5.6 0l5.6 -5.6M465.5 865l5.6 5.6m-5.6 0l5.6 -5.6M289.6 952.9l5.6 5.6m-5.6 0l5.6 -5.6M488.9 858.9l5.6 5.6m-5.6 0l5.6 -5.6M303 946.7l5.6 5.6m-5.6 0l5.6 -5.6M453.7 865.9l5.6 5.6m-5.6 0l5.6 -5.6M464.2 860.1l5.6 5.6m-5.6 0l5.6 -5.6M380.4 890.2l5.6 5.6m-5.6 0l5.6 -5.6M424.2 867.7l5.6 5.6m-5.6 0l5.6 -5.6M399.7 880l5.6 5.6m-5.6 0l5.6 -5.6M505.3 858.4l5.6 5.6m-5.6 0l5.6 -5.6M358.6 895.5l5.6 5.6m-5.6 0l5.6 -5.6M511 855.6l5.6 5.6m-5.6 0l5.6 -5.6M371.3 892.3l5.6 5.6m-5.6 0l5.6 -5.6M508.5 856.8l5.6 5.6m-5.6 0l5.6 -5.6M375.6 891.5l5.6 5.6m-5.6 0l5.6 -5.6M310.9 937.1l5.6 5.6m-5.6 0l5.6 -5.6M521.7 850.7l5.6 5.6m-5.6 0l5.6 -5.6M429.4 872.4l5.6 5.6m-5.6 0l5.6 -5.6M422.3 867.8l5.6 5.6m-5.6 0l5.6 -5.6M359.9 896.2l5.6 5.6m-5.6 0l5.6 -5.6M332.7 913.8l5.6 5.6m-5.6 0l5.6 -5.6" stroke="#9a22d8" stroke-width="1.6" fill="none"/>
<path d="M275.9 969.4 277.6 970 279.3 969.5 281 968.5 282.8 967.9 284.5 966.9 286.2 964.9 287.9 963.2 289.6 961.5 291.3 962.2 293 960.2 294.7 959.9 296.5 958.1 298.2 957.6 299.9 955.6 301.6 955.1 303.3 952.8 305 951.9 306.7 951.4 308.4 949.4 310.2 947.4 311.9 946.1 313.6 945.7 315.3 946.6 317 944.6 318.7 946.2 320.4 943.3 322.2 942.7 323.9 939.9 325.6 939.4 327.3 938 329 937.3 330.7 936.3 332.4 935.1 334.1 935.4 335.9 933.8 337.6 932.3 339.3 931 341 929.5 342.7 928.1 344.4 926.4 346.1 925.7 347.8 923.8 349.6 923 351.3 920.4 353 919.5 354.7 920.4 356.4 919.6 358.1 919.4 359.8 919 361.6 917.4 363.3 915.9 365 913.1 366.7 913.7 368.4 911.3 370.1 912.9 371.8 911.6 373.5 911.9 375.3 912.3 377 913.7 378.7 911.8 380.4 912.5 382.1 912.2 383.8 909.1 385.5 909.1 387.2 907.2 389 906.8 390.7 906.9 392.4 908.6 394.1 908.1 395.8 906 397.5 907.7 399.2 905.9 401 903.4 402.7 903.3 404.4 901.1 406.1 900.2 407.8 900.1 409.5 897.4 411.2 897.6 412.9 898.2 414.7 898.8 416.4 897.5 418.1 898.9 419.8 897.1 421.5 895.5 423.2 896.9 424.9 894.6 426.6 893.5 428.4 894.4 430.1 895 431.8 894.5 433.5 895 435.2 896.3 436.9 896.8 438.6 896.2 440.4 895.9 442.1 895.2 443.8 892.7 445.5 893.5 447.2 892.3 448.9 891.2 450.6 889.9 452.3 890.4 454.1 891 455.8 890.7 457.5 889.2 459.2 889.5 460.9 886.5 462.6 887.1 464.3 884.1 466 884.5 467.8 882.9 469.5 881.6 471.2 881.7 472.9 882.1 474.6 881.8 476.3 882.7 478 882.8 479.8 881.3 481.5 881.2 483.2 881.2 484.9 880.9 486.6 880.6 488.3 879 490 880.2 491.7 880.8 493.5 881.4 495.2 883.6 496.9 882.8 498.6 882.7 500.3 881 502 880.3 503.7 880.5 505.4 879 507.2 878.7 508.9 877.7 510.6 876.4 512.3 878.6 514 876.8 515.7 876.8 517.4 876.7 519.2 876.4 520.9 875.3 522.6 873.9 524.3 873.3 526 871.1 527.7 871.1 529.4 871.5 531.1 873 532.9 873 534.6 872.9 536.3 874.5 538 873.9 539.7 875.1 541.4 873.4 543.1 872.8 544.8 874.6 546.6 873.2" fill="none" stroke="#0000d0" stroke-width="5.6" stroke-linejoin="round" stroke-linecap="round"/>
<path d="M504.8 874.7l5.6 5.6m-5.6 0l5.6 -5.6M290.9 954.9l5.6 5.6m-5.6 0l5.6 -5.6M440.1 891.8l5.6 5.6m-5.6 0l5.6 -5.6M295.8 954.4l5.6 5.6m-5.6 0l5.6 -5.6M283.8 958.9l5.6 5.6m-5.6 0l5.6 -5.6M420.9 889.7l5.6 5.6m-5.6 0l5.6 -5.6M313 946.1l5.6 5.6m-5.6 0l5.6 -5.6M323.7 933l5.6 5.6m-5.6 0l5.6 -5.6M328.1 933.4l5.6 5.6m-5.6 0l5.6 -5.6M419.2 895.2l5.6 5.6m-5.6 0l5.6 -5.6M292.4 956.5l5.6 5.6m-5.6 0l5.6 -5.6M497.9 879.1l5.6 5.6m-5.6 0l5.6 -5.6M487.2 874.8l5.6 5.6m-5.6 0l5.6 -5.6M443.6 891.7l5.6 5.6m-5.6 0l5.6 -5.6M280 963.8l5.6 5.6m-5.6 0l5.6 -5.6M523.8 868l5.6 5.6m-5.6 0l5.6 -5.6M391.8 903.1l5.6 5.6m-5.6 0l5.6 -5.6M326.3 936.5l5.6 5.6m-5.6 0l5.6 -5.6M363.3 910.1l5.6 5.6m-5.6 0l5.6 -5.6M328.6 934.1l5.6 5.6m-5.6 0l5.6 -5.6M544.6 871.2l5.6 5.6m-5.6 0l5.6 -5.6M461.8 884.8l5.6 5.6m-5.6 0l5.6 -5.6M286.3 962.2l5.6 5.6m-5.6 0l5.6 -5.6M381.7 905.4l5.6 5.6m-5.6 0l5.6 -5.6M435.7 891.5l5.6 5.6m-5.6 0l5.6 -5.6M334.6 928.3l5.6 5.6m-5.6 0l5.6 -5.6M385.6 905.3l5.6 5.6m-5.6 0l5.6 -5.6M352.5 917.4l5.6 5.6m-5.6 0l5.6 -5.6M322 935.6l5.6 5.6m-5.6 0l5.6 -5.6M449.5 888.3l5.6 5.6m-5.6 0l5.6 -5.6M477 878.3l5.6 5.6m-5.6 0l5.6 -5.6M470.4 881.4l5.6 5.6m-5.6 0l5.6 -5.6M391.6 904.7l5.6 5.6m-5.6 0l5.6 -5.6M382.6 907.2l5.6 5.6m-5.6 0l5.6 -5.6M395.7 906.5l5.6 5.6m-5.6 0l5.6 -5.6M357.6 916.1l5.6 5.6m-5.6 0l5.6 -5.6M515.3 873.6l5.6 5.6m-5.6 0l5.6 -5.6M340.1 927.7l5.6 5.6m-5.6 0l5.6 -5.6M505.9 874.2l5.6 5.6m-5.6 0l5.6 -5.6M420.7 889.8l5.6 5.6m-5.6 0l5.6 -5.6M414.5 895.6l5.6 5.6m-5.6 0l5.6 -5.6M357.4 917.7l5.6 5.6m-5.6 0l5.6 -5.6M300.7 947.2l5.6 5.6m-5.6 0l5.6 -5.6M445.8 890.8l5.6 5.6m-5.6 0l5.6 -5.6M536.7 869.2l5.6 5.6m-5.6 0l5.6 -5.6M447.7 890.4l5.6 5.6m-5.6 0l5.6 -5.6M453.8 886.5l5.6 5.6m-5.6 0l5.6 -5.6M423 894.2l5.6 5.6m-5.6 0l5.6 -5.6M525.1 870l5.6 5.6m-5.6 0l5.6 -5.6M449 889.3l5.6 5.6m-5.6 0l5.6 -5.6M374.6 908.6l5.6 5.6m-5.6 0l5.6 -5.6M414.6 895.4l5.6 5.6m-5.6 0l5.6 -5.6M453.3 887.1l5.6 5.6m-5.6 0l5.6 -5.6M423.5 892.4l5.6 5.6m-5.6 0l5.6 -5.6M467.8 879.3l5.6 5.6m-5.6 0l5.6 -5.6M409.2 896.1l5.6 5.6m-5.6 0l5.6 -5.6M329.4 930l5.6 5.6m-5.6 0l5.6 -5.6M326.4 934.2l5.6 5.6m-5.6 0l5.6 -5.6M384.8 905.9l5.6 5.6m-5.6 0l5.6 -5.6M489.9 881.1l5.6 5.6m-5.6 0l5.6 -5.6M370.2 911.7l5.6 5.6m-5.6 0l5.6 -5.6M447.2 890.1l5.6 5.6m-5.6 0l5.6 -5.6M332 931.9l5.6 5.6m-5.6 0l5.6 -5.6M489.9 876l5.6 5.6m-5.6 0l5.6 -5.6M432.4 893.5l5.6 5.6m-5.6 0l5.6 -5.6M277.5 968.1l5.6 5.6m-5.6 0l5.6 -5.6M353.5 915.1l5.6 5.6m-5.6 0l5.6 -5.6M446.5 885.5l5.6 5.6m-5.6 0l5.6 -5.6M541.6 871.1l5.6 5.6m-5.6 0l5.6 -5.6M345 919.1l5.6 5.6m-5.6 0l5.6 -5.6M301.9 953.5l5.6 5.6m-5.6 0l5.6 -5.6M330.3 929.8l5.6 5.6m-5.6 0l5.6 -5.6M531.5 869l5.6 5.6m-5.6 0l5.6 -5.6M470 879.5l5.6 5.6m-5.6 0l5.6 -5.6M484.6 879l5.6 5.6m-5.6 0l5.6 -5.6M330.9 935l5.6 5.6m-5.6 0l5.6 -5.6M477.3 882.5l5.6 5.6m-5.6 0l5.6 -5.6M389.4 906.3l5.6 5.6m-5.6 0l5.6 -5.6M477.6 878.1l5.6 5.6m-5.6 0l5.6 -5.6M497.1 876.5l5.6 5.6m-5.6 0l5.6 -5.6M332.5 929l5.6 5.6m-5.6 0l5.6 -5.6M295.6 955l5.6 5.6m-5.6 0l5.6 -5.6M292.4 955.8l5.6 5.6m-5.6 0l5.6 -5.6M494.9 881.9l5.6 5.6m-5.6 0l5.6 -5.6M275.1 965.8l5.6 5.6m-5.6 0l5.6 -5.6M387.2 904.1l5.6 5.6m-5.6 0l5.6 -5.6M349.9 917.8l5.6 5.6m-5.6 0l5.6 -5.6M426.1 889.5l5.6 5.6m-5.6 0l5.6 -5.6M434.6 890.9l5.6 5.6m-5.6 0l5.6 -5.6M364.3 907.6l5.6 5.6m-5.6 0l5.6 -5.6M530.8 870.2l5.6 5.6m-5.6 0l5.6 -5.6M426.5 888.7l5.6 5.6m-5.6 0l5.6 -5.6M516.9 875.4l5.6 5.6m-5.6 0l5.6 -5.6M375.5 910.4l5.6 5.6m-5.6 0l5.6 -5.6M537.9 871.7l5.6 5.6m-5.6 0l5.6 -5.6M285.8 960.1l5.6 5.6m-5.6 0l5.6 -5.6M373.3 909.6l5.6 5.6m-5.6 0l5.6 -5.6M388.1 907.3l5.6 5.6m-5.6 0l5.6 -5.6M316.5 944l5.6 5.6m-5.6 0l5.6 -5.6M463.8 883.7l5.6 5.6m-5.6 0l5.6 -5.6M530.6 868.5l5.6 5.6m-5.6 0l5.6 -5.6M460.8 883.1l5.6 5.6m-5.6 0l5.6 -5.6M398 902.2l5.6 5.6m-5.6 0l5.6 -5.6M470.6 881.4l5.6 5.6m-5.6 0l5.6 -5.6M276.1 966.3l5.6 5.6m-5.6 0l5.6 -5.6M352.8 917.1l5.6 5.6m-5.6 0l5.6 -5.6M468 880.8l5.6 5.6m-5.6 0l5.6 -5.6M451.2 889.7l5.6 5.6m-5.6 0l5.6 -5.6M327.6 931.5l5.6 5.6m-5.6 0l5.6 -5.6M462.6 884l5.6 5.6m-5.6 0l5.6 -5.6M409.5 893.7l5.6 5.6m-5.6 0l5.6 -5.6M309.4 946.7l5.6 5.6m-5.6 0l5.6 -5.6M488.6 875.8l5.6 5.6m-5.6 0l5.6 -5.6M335 932.2l5.6 5.6m-5.6 0l5.6 -5.6M471.3 882.5l5.6 5.6m-5.6 0l5.6 -5.6M403.9 894.9l5.6 5.6m-5.6 0l5.6 -5.6M339.2 929.7l5.6 5.6m-5.6 0l5.6 -5.6M451.4 889.8l5.6 5.6m-5.6 0l5.6 -5.6M323.7 935.5l5.6 5.6m-5.6 0l5.6 -5.6M347.7 920.5l5.6 5.6m-5.6 0l5.6 -5.6M468.5 876.7l5.6 5.6m-5.6 0l5.6 -5.6M538.2 874.1l5.6 5.6m-5.6 0l5.6 -5.6M474.5 879.9l5.6 5.6m-5.6 0l5.6 -5.6M512.1 874.1l5.6 5.6m-5.6 0l5.6 -5.6M531 871l5.6 5.6m-5.6 0l5.6 -5.6M315.6 942l5.6 5.6m-5.6 0l5.6 -5.6M274.9 965.4l5.6 5.6m-5.6 0l5.6 -5.6M518.9 868.5l5.6 5.6m-5.6 0l5.6 -5.6M543 871.9l5.6 5.6m-5.6 0l5.6 -5.6M398.8 901.3l5.6 5.6m-5.6 0l5.6 -5.6M352.9 915.4l5.6 5.6m-5.6 0l5.6 -5.6M431 895.7l5.6 5.6m-5.6 0l5.6 -5.6M344.2 922l5.6 5.6m-5.6 0l5.6 -5.6M300.4 947.9l5.6 5.6m-5.6 0l5.6 -5.6M356.7 916.8l5.6 5.6m-5.6 0l5.6 -5.6M330.1 934.2l5.6 5.6m-5.6 0l5.6 -5.6M292.9 953.8l5.6 5.6m-5.6 0l5.6 -5.6M509.9 876.9l5.6 5.6m-5.6 0l5.6 -5.6M364 911.9l5.6 5.6m-5.6 0l5.6 -5.6M380.3 907.1l5.6 5.6m-5.6 0l5.6 -5.6M431.4 890.7l5.6 5.6m-5.6 0l5.6 -5.6M484.8 875.6l5.6 5.6m-5.6 0l5.6 -5.6M327.2 930.6l5.6 5.6m-5.6 0l5.6 -5.6M455.1 884.2l5.6 5.6m-5.6 0l5.6 -5.6M391.1 904.7l5.6 5.6m-5.6 0l5.6 -5.6M339.3 927l5.6 5.6m-5.6 0l5.6 -5.6M541.2 870.9l5.6 5.6m-5.6 0l5.6 -5.6M476.8 878.8l5.6 5.6m-5.6 0l5.6 -5.6M490.6 877.6l5.6 5.6m-5.6 0l5.6 -5.6M457 888.6l5.6 5.6m-5.6 0l5.6 -5.6M284.9 962.3l5.6 5.6m-5.6 0l5.6 -5.6M483.4 874.4l5.6 5.6m-5.6 0l5.6 -5.6M296.4 952.9l5.6 5.6m-5.6 0l5.6 -5.6M444.5 888.7l5.6 5.6m-5.6 0l5.6 -5.6M277.5 965.6l5.6 5.6m-5.6 0l5.6 -5.6M407.2 896.4l5.6 5.6m-5.6 0l5.6 -5.6M417.8 894.8l5.6 5.6m-5.6 0l5.6 -5.6M342.3 923.9l5.6 5.6m-5.6 0l5.6 -5.6M290.2 959.2l5.6 5.6m-5.6 0l5.6 -5.6M389.2 902.9l5.6 5.6m-5.6 0l5.6 -5.6M398.4 901.3l5.6 5.6m-5.6 0l5.6 -5.6M466 879.7l5.6 5.6m-5.6 0l5.6 -5.6M281.2 966.7l5.6 5.6m-5.6 0l5.6 -5.6M477.5 882.1l5.6 5.6m-5.6 0l5.6 -5.6M511.6 874.2l5.6 5.6m-5.6 0l5.6 -5.6M437.2 890.7l5.6 5.6m-5.6 0l5.6 -5.6M396 900.7l5.6 5.6m-5.6 0l5.6 -5.6M276.1 964l5.6 5.6m-5.6 0l5.6 -5.6M363.8 909.1l5.6 5.6m-5.6 0l5.6 -5.6M468.9 879.8l5.6 5.6m-5.6 0l5.6 -5.6M287.1 963l5.6 5.6m-5.6 0l5.6 -5.6M425.5 891.1l5.6 5.6m-5.6 0l5.6 -5.6M393.4 901.5l5.6 5.6m-5.6 0l5.6 -5.6M300 954.2l5.6 5.6m-5.6 0l5.6 -5.6M379 905.7l5.6 5.6m-5.6 0l5.6 -5.6M407.9 894l5.6 5.6m-5.6 0l5.6 -5.6M518 871.7l5.6 5.6m-5.6 0l5.6 -5.6M515.9 873.3l5.6 5.6m-5.6 0l5.6 -5.6M388.2 901.7l5.6 5.6m-5.6 0l5.6 -5.6M435.9 894.1l5.6 5.6m-5.6 0l5.6 -5.6M419.3 894.3l5.6 5.6m-5.6 0l5.6 -5.6M272.7 967.3l5.6 5.6m-5.6 0l5.6 -5.6M452.1 887.8l5.6 5.6m-5.6 0l5.6 -5.6M351.9 918.7l5.6 5.6m-5.6 0l5.6 -5.6M498.3 880.7l5.6 5.6m-5.6 0l5.6 -5.6M521.3 867.1l5.6 5.6m-5.6 0l5.6 -5.6M396.3 901.5l5.6 5.6m-5.6 0l5.6 -5.6M307.2 944l5.6 5.6m-5.6 0l5.6 -5.6M437.7 888.9l5.6 5.6m-5.6 0l5.6 -5.6M530.2 871.4l5.6 5.6m-5.6 0l5.6 -5.6M306.4 947.5l5.6 5.6m-5.6 0l5.6 -5.6M324.2 934.5l5.6 5.6m-5.6 0l5.6 -5.6M415.8 893.8l5.6 5.6m-5.6 0l5.6 -5.6M274.6 968.9l5.6 5.6m-5.6 0l5.6 -5.6M483.3 878.8l5.6 5.6m-5.6 0l5.6 -5.6M461.7 882l5.6 5.6m-5.6 0l5.6 -5.6M348.8 915.7l5.6 5.6m-5.6 0l5.6 -5.6M308.8 944.5l5.6 5.6m-5.6 0l5.6 -5.6M421.7 892.4l5.6 5.6m-5.6 0l5.6 -5.6M356.2 914.1l5.6 5.6m-5.6 0l5.6 -5.6M381.8 908.8l5.6 5.6m-5.6 0l5.6 -5.6M293.1 956.8l5.6 5.6m-5.6 0l5.6 -5.6M278.6 964.5l5.6 5.6m-5.6 0l5.6 -5.6M491.2 880.4l5.6 5.6m-5.6 0l5.6 -5.6M331.6 931.7l5.6 5.6m-5.6 0l5.6 -5.6M295.8 951.1l5.6 5.6m-5.6 0l5.6 -5.6M304.6 949.6l5.6 5.6m-5.6 0l5.6 -5.6M457.5 886.2l5.6 5.6m-5.6 0l5.6 -5.6M493 876.7l5.6 5.6m-5.6 0l5.6 -5.6M472.5 882l5.6 5.6m-5.6 0l5.6 -5.6M338 929.8l5.6 5.6m-5.6 0l5.6 -5.6M505.2 877.4l5.6 5.6m-5.6 0l5.6 -5.6M459.1 883.5l5.6 5.6m-5.6 0l5.6 -5.6M337.4 926.3l5.6 5.6m-5.6 0l5.6 -5.6M301.2 948.7l5.6 5.6m-5.6 0l5.6 -5.6M483.6 874.7l5.6 5.6m-5.6 0l5.6 -5.6M451.6 885.4l5.6 5.6m-5.6 0l5.6 -5.6M491.5 880.4l5.6 5.6m-5.6 0l5.6 -5.6M496.3 876.1l5.6 5.6m-5.6 0l5.6 -5.6M523 870.1l5.6 5.6m-5.6 0l5.6 -5.6M378.6 905.6l5.6 5.6m-5.6 0l5.6 -5.6M381.8 904.4l5.6 5.6m-5.6 0l5.6 -5.6M418.7 891.3l5.6 5.6m-5.6 0l5.6 -5.6M356.8 918l5.6 5.6m-5.6 0l5.6 -5.6M457.4 885.1l5.6 5.6m-5.6 0l5.6 -5.6M377.1 907.6l5.6 5.6m-5.6 0l5.6 -5.6M533.5 873.7l5.6 5.6m-5.6 0l5.6 -5.6M444.5 888.7l5.6 5.6m-5.6 0l5.6 -5.6M342.7 921.6l5.6 5.6m-5.6 0l5.6 -5.6M494.4 877.4l5.6 5.6m-5.6 0l5.6 -5.6M296.9 953.7l5.6 5.6m-5.6 0l5.6 -5.6M483.6 878.7l5.6 5.6m-5.6 0l5.6 -5.6M520.9 869.8l5.6 5.6m-5.6 0l5.6 -5.6M443.2 887.5l5.6 5.6m-5.6 0l5.6 -5.6M328.3 931.2l5.6 5.6m-5.6 0l5.6 -5.6M437.2 892.7l5.6 5.6m-5.6 0l5.6 -5.6M454.3 887.3l5.6 5.6m-5.6 0l5.6 -5.6M300.7 952.7l5.6 5.6m-5.6 0l5.6 -5.6M409.5 896.4l5.6 5.6m-5.6 0l5.6 -5.6M540.2 872.1l5.6 5.6m-5.6 0l5.6 -5.6M389.2 904l5.6 5.6m-5.6 0l5.6 -5.6M354.9 915.9l5.6 5.6m-5.6 0l5.6 -5.6M337.3 929.7l5.6 5.6m-5.6 0l5.6 -5.6M371.1 908.5l5.6 5.6m-5.6 0l5.6 -5.6M506.6 872.7l5.6 5.6m-5.6 0l5.6 -5.6M435.8 895.1l5.6 5.6m-5.6 0l5.6 -5.6M408.6 896.8l5.6 5.6m-5.6 0l5.6 -5.6M450.9 885.6l5.6 5.6m-5.6 0l5.6 -5.6M536.3 870.2l5.6 5.6m-5.6 0l5.6 -5.6M400.3 898.8l5.6 5.6m-5.6 0l5.6 -5.6M502 877.7l5.6 5.6m-5.6 0l5.6 -5.6M503 873l5.6 5.6m-5.6 0l5.6 -5.6M543.5 871l5.6 5.6m-5.6 0l5.6 -5.6M341.9 924.5l5.6 5.6m-5.6 0l5.6 -5.6M313.5 945.8l5.6 5.6m-5.6 0l5.6 -5.6M294.6 956.3l5.6 5.6m-5.6 0l5.6 -5.6M494.5 879.2l5.6 5.6m-5.6 0l5.6 -5.6M293.4 957l5.6 5.6m-5.6 0l5.6 -5.6M285.5 962l5.6 5.6m-5.6 0l5.6 -5.6M446.3 891.2l5.6 5.6m-5.6 0l5.6 -5.6M483.6 877.1l5.6 5.6m-5.6 0l5.6 -5.6M469.1 882.3l5.6 5.6m-5.6 0l5.6 -5.6M512.8 873.1l5.6 5.6m-5.6 0l5.6 -5.6M346.6 920.3l5.6 5.6m-5.6 0l5.6 -5.6M468.4 877.3l5.6 5.6m-5.6 0l5.6 -5.6M535.6 874.3l5.6 5.6m-5.6 0l5.6 -5.6M367.7 908.1l5.6 5.6m-5.6 0l5.6 -5.6M502.3 873.4l5.6 5.6m-5.6 0l5.6 -5.6M276.8 968.8l5.6 5.6m-5.6 0l5.6 -5.6M424.4 894.3l5.6 5.6m-5.6 0l5.6 -5.6M380.3 906.8l5.6 5.6m-5.6 0l5.6 -5.6M479.7 878.5l5.6 5.6m-5.6 0l5.6 -5.6M406.5 895.9l5.6 5.6m-5.6 0l5.6 -5.6M393.7 903.6l5.6 5.6m-5.6 0l5.6 -5.6M383 908.3l5.6 5.6m-5.6 0l5.6 -5.6M383.2 905.5l5.6 5.6m-5.6 0l5.6 -5.6M329.1 933.8l5.6 5.6m-5.6 0l5.6 -5.6M499.2 876.3l5.6 5.6m-5.6 0l5.6 -5.6M298.5 951.7l5.6 5.6m-5.6 0l5.6 -5.6M496.3 878.4l5.6 5.6m-5.6 0l5.6 -5.6M382.6 909.6l5.6 5.6m-5.6 0l5.6 -5.6M362.8 910.3l5.6 5.6m-5.6 0l5.6 -5.6M436.9 895.1l5.6 5.6m-5.6 0l5.6 -5.6M285.5 959.7l5.6 5.6m-5.6 0l5.6 -5.6M473.7 877.6l5.6 5.6m-5.6 0l5.6 -5.6M388.2 902.2l5.6 5.6m-5.6 0l5.6 -5.6M424.8 892.8l5.6 5.6m-5.6 0l5.6 -5.6M534.2 874l5.6 5.6m-5.6 0l5.6 -5.6M419.1 892.4l5.6 5.6m-5.6 0l5.6 -5.6M336.6 931.5l5.6 5.6m-5.6 0l5.6 -5.6M523.3 871.6l5.6 5.6m-5.6 0l5.6 -5.6M521.3 869.5l5.6 5.6m-5.6 0l5.6 -5.6M434.7 893.5l5.6 5.6m-5.6 0l5.6 -5.6M325.9 935.9l5.6 5.6m-5.6 0l5.6 -5.6M339.3 928.9l5.6 5.6m-5.6 0l5.6 -5.6M316.5 941.7l5.6 5.6m-5.6 0l5.6 -5.6M433.6 891.1l5.6 5.6m-5.6 0l5.6 -5.6M537.8 873.9l5.6 5.6m-5.6 0l5.6 -5.6M533.2 869.8l5.6 5.6m-5.6 0l5.6 -5.6M405.4 898.8l5.6 5.6m-5.6 0l5.6 -5.6M464.3 882.8l5.6 5.6m-5.6 0l5.6 -5.6M527.7 868.6l5.6 5.6m-5.6 0l5.6 -5.6M388.9 905.8l5.6 5.6m-5.6 0l5.6 -5.6M280 966.1l5.6 5.6m-5.6 0l5.6 -5.6M451.4 890.6l5.6 5.6m-5.6 0l5.6 -5.6M336 928.4l5.6 5.6m-5.6 0l5.6 -5.6M365.7 910.2l5.6 5.6m-5.6 0l5.6 -5.6M391.8 905.5l5.6 5.6m-5.6 0l5.6 -5.6M438.5 892.4l5.6 5.6m-5.6 0l5.6 -5.6M392 902.7l5.6 5.6m-5.6 0l5.6 -5.6M535 869.1l5.6 5.6m-5.6 0l5.6 -5.6M534.2 869.4l5.6 5.6m-5.6 0l5.6 -5.6M280 964.8l5.6 5.6m-5.6 0l5.6 -5.6M533.2 868.5l5.6 5.6m-5.6 0l5.6 -5.6M335.1 928.7l5.6 5.6m-5.6 0l5.6 -5.6M317 941.8l5.6 5.6m-5.6 0l5.6 -5.6" stroke="#0000d0" stroke-width="1.6" fill="none"/>
<path d="M275.9 968.4 277.6 965.6 279.3 964.4 281 962 282.8 962.1 284.5 962.1 286.2 961.3 287.9 959 289.6 957.7 291.3 958.6 293 956.6 294.7 957 296.5 956.6 298.2 955.6 299.9 953.4 301.6 952.9 303.3 951.4 305 950.5 306.7 949.9 308.4 946.9 310.2 944.9 311.9 946.3 313.6 944.9 315.3 943.9 317 945.2 318.7 944.5 320.4 945.9 322.2 945.9 323.9 945.3 325.6 943.7 327.3 944.3 329 943 330.7 941.5 332.4 940.2 334.1 940.6 335.9 939.2 337.6 938.3 339.3 938.7 341 937.1 342.7 937.8 344.4 936.3 346.1 935.3 347.8 934.5 349.6 932.6 351.3 931.3 353 929.3 354.7 928.3 356.4 926.2 358.1 926.1 359.8 924.5 361.6 925.4 363.3 927.1 365 925.2 366.7 925.8 368.4 925 370.1 926.3 371.8 925.4 373.5 924.2 375.3 923.2 377 923.4 378.7 922.1 380.4 920.8 382.1 921.9 383.8 921.7 385.5 920.7 387.2 920.2 389 920.3 390.7 919.3 392.4 917.7 394.1 916.3 395.8 914.2 397.5 913 399.2 912.5 401 912 402.7 909.7 404.4 911.2 406.1 909.5 407.8 911.2 409.5 911.1 411.2 911.4 412.9 910.4 414.7 910 416.4 911 418.1 908.7 419.8 908.4 421.5 907.5 423.2 907.5 424.9 906.7 426.6 906.5 428.4 907.6 430.1 906.7 431.8 906.5 433.5 907.5 435.2 905.9 436.9 905.8 438.6 902.5 440.4 902.1 442.1 899.9 443.8 897.7 445.5 896.9 447.2 895.8 448.9 896.8 450.6 895.5 452.3 897.9 454.1 896.2 455.8 897.5 457.5 897 459.2 898.2 460.9 895.8 462.6 896.4 464.3 894.7 466 894.8 467.8 894.6 469.5 895.7 471.2 895.5 472.9 895.6 474.6 896.1 476.3 895.8 478 894.8 479.8 893.5 481.5 894.6 483.2 891.2 484.9 891.7 486.6 888.5 488.3 887.7 490 887.1 491.7 885.7 493.5 886.7 495.2 886.2 496.9 886.3 498.6 888.4 500.3 888.6 502 888.7 503.7 887.6 505.4 887.8 507.2 887.9 508.9 888 510.6 886.8 512.3 885.6 514 887.3 515.7 885.9 517.4 886.5 519.2 887.8 520.9 887.2 522.6 888.4 524.3 887.6 526 888.3 527.7 885.9 529.4 884.3 531.1 884.9 532.9 883.5 534.6 881.2 536.3 880.7 538 880.3 539.7 880.9 541.4 880.6 543.1 881.1 544.8 882.2 546.6 883" fill="none" stroke="#10aae8" stroke-width="5.6" stroke-linejoin="round" stroke-linecap="round"/>
<path d="M399.1 907.8l5.6 5.6m-5.6 0l5.6 -5.6M478.2 891.4l5.6 5.6m-5.6 0l5.6 -5.6M521.5 883.7l5.6 5.6m-5.6 0l5.6 -5.6M352.5 922.3l5.6 5.6m-5.6 0l5.6 -5.6M500.1 886.7l5.6 5.6m-5.6 0l5.6 -5.6M435.1 904.6l5.6 5.6m-5.6 0l5.6 -5.6M348.8 929.8l5.6 5.6m-5.6 0l5.6 -5.6M475.9 891.4l5.6 5.6m-5.6 0l5.6 -5.6M377.4 917.8l5.6 5.6m-5.6 0l5.6 -5.6M538.7 880.5l5.6 5.6m-5.6 0l5.6 -5.6M478.6 894.4l5.6 5.6m-5.6 0l5.6 -5.6M526.9 880l5.6 5.6m-5.6 0l5.6 -5.6M397.4 911l5.6 5.6m-5.6 0l5.6 -5.6M281.8 955.7l5.6 5.6m-5.6 0l5.6 -5.6M485.4 884l5.6 5.6m-5.6 0l5.6 -5.6M440.6 898.1l5.6 5.6m-5.6 0l5.6 -5.6M521.2 887.9l5.6 5.6m-5.6 0l5.6 -5.6M486.6 885.1l5.6 5.6m-5.6 0l5.6 -5.6M302.7 948l5.6 5.6m-5.6 0l5.6 -5.6M291.8 952.4l5.6 5.6m-5.6 0l5.6 -5.6M520.3 887.5l5.6 5.6m-5.6 0l5.6 -5.6M277.3 957.3l5.6 5.6m-5.6 0l5.6 -5.6M533.9 880.6l5.6 5.6m-5.6 0l5.6 -5.6M421.9 907.4l5.6 5.6m-5.6 0l5.6 -5.6M296.6 954.5l5.6 5.6m-5.6 0l5.6 -5.6M370.7 923.1l5.6 5.6m-5.6 0l5.6 -5.6M346.2 929.6l5.6 5.6m-5.6 0l5.6 -5.6M368.7 924l5.6 5.6m-5.6 0l5.6 -5.6M429.5 904.2l5.6 5.6m-5.6 0l5.6 -5.6M399 909.9l5.6 5.6m-5.6 0l5.6 -5.6M415.5 907.6l5.6 5.6m-5.6 0l5.6 -5.6M330 936.5l5.6 5.6m-5.6 0l5.6 -5.6M338.9 935.1l5.6 5.6m-5.6 0l5.6 -5.6M456.2 894.5l5.6 5.6m-5.6 0l5.6 -5.6M523.7 884.9l5.6 5.6m-5.6 0l5.6 -5.6M470.9 894.2l5.6 5.6m-5.6 0l5.6 -5.6M400.6 908.2l5.6 5.6m-5.6 0l5.6 -5.6M464.9 891.2l5.6 5.6m-5.6 0l5.6 -5.6M414.4 906.2l5.6 5.6m-5.6 0l5.6 -5.6M414 908l5.6 5.6m-5.6 0l5.6 -5.6M496.4 886l5.6 5.6m-5.6 0l5.6 -5.6M444.8 895.1l5.6 5.6m-5.6 0l5.6 -5.6M347.8 928.1l5.6 5.6m-5.6 0l5.6 -5.6M296 954.4l5.6 5.6m-5.6 0l5.6 -5.6M425 906.4l5.6 5.6m-5.6 0l5.6 -5.6M481.4 888.2l5.6 5.6m-5.6 0l5.6 -5.6M372.5 917.4l5.6 5.6m-5.6 0l5.6 -5.6M328.6 938.5l5.6 5.6m-5.6 0l5.6 -5.6M285.6 959.2l5.6 5.6m-5.6 0l5.6 -5.6M348.4 929.8l5.6 5.6m-5.6 0l5.6 -5.6M284.7 958.6l5.6 5.6m-5.6 0l5.6 -5.6M293.5 954.3l5.6 5.6m-5.6 0l5.6 -5.6M505.9 881.9l5.6 5.6m-5.6 0l5.6 -5.6M277.1 962.2l5.6 5.6m-5.6 0l5.6 -5.6M374.4 921.1l5.6 5.6m-5.6 0l5.6 -5.6M476.6 892.1l5.6 5.6m-5.6 0l5.6 -5.6M384 917.2l5.6 5.6m-5.6 0l5.6 -5.6M523.1 883.5l5.6 5.6m-5.6 0l5.6 -5.6M345.7 931.3l5.6 5.6m-5.6 0l5.6 -5.6M488 883.1l5.6 5.6m-5.6 0l5.6 -5.6M469.9 894.9l5.6 5.6m-5.6 0l5.6 -5.6M293 954.1l5.6 5.6m-5.6 0l5.6 -5.6M370.4 920.2l5.6 5.6m-5.6 0l5.6 -5.6M497.8 887.3l5.6 5.6m-5.6 0l5.6 -5.6M513.2 883.5l5.6 5.6m-5.6 0l5.6 -5.6M303.9 942.8l5.6 5.6m-5.6 0l5.6 -5.6M529.2 878.6l5.6 5.6m-5.6 0l5.6 -5.6M301.4 949.3l5.6 5.6m-5.6 0l5.6 -5.6M405.8 906.1l5.6 5.6m-5.6 0l5.6 -5.6M331.1 938.1l5.6 5.6m-5.6 0l5.6 -5.6M306 945.6l5.6 5.6m-5.6 0l5.6 -5.6M440.7 894.2l5.6 5.6m-5.6 0l5.6 -5.6M283.7 956.6l5.6 5.6m-5.6 0l5.6 -5.6M301.5 951.1l5.6 5.6m-5.6 0l5.6 -5.6M447.3 894.4l5.6 5.6m-5.6 0l5.6 -5.6M408.7 906.1l5.6 5.6m-5.6 0l5.6 -5.6M509.9 885.4l5.6 5.6m-5.6 0l5.6 -5.6M412.9 908.8l5.6 5.6m-5.6 0l5.6 -5.6M298.4 948.3l5.6 5.6m-5.6 0l5.6 -5.6M424.1 906.1l5.6 5.6m-5.6 0l5.6 -5.6M536.9 880.9l5.6 5.6m-5.6 0l5.6 -5.6M521.8 884.1l5.6 5.6m-5.6 0l5.6 -5.6M336.9 934.6l5.6 5.6m-5.6 0l5.6 -5.6M413.2 910.5l5.6 5.6m-5.6 0l5.6 -5.6M512.2 883.6l5.6 5.6m-5.6 0l5.6 -5.6M520.4 882.9l5.6 5.6m-5.6 0l5.6 -5.6M337.9 933.4l5.6 5.6m-5.6 0l5.6 -5.6M345.9 929.9l5.6 5.6m-5.6 0l5.6 -5.6M388.1 914.6l5.6 5.6m-5.6 0l5.6 -5.6M516 884.9l5.6 5.6m-5.6 0l5.6 -5.6M377.5 917.9l5.6 5.6m-5.6 0l5.6 -5.6M531 880.5l5.6 5.6m-5.6 0l5.6 -5.6M450.2 891.3l5.6 5.6m-5.6 0l5.6 -5.6M418.6 906.1l5.6 5.6m-5.6 0l5.6 -5.6M386.7 915.6l5.6 5.6m-5.6 0l5.6 -5.6M444.1 894.7l5.6 5.6m-5.6 0l5.6 -5.6M499.4 887.7l5.6 5.6m-5.6 0l5.6 -5.6M442.1 894.3l5.6 5.6m-5.6 0l5.6 -5.6M282.3 957.9l5.6 5.6m-5.6 0l5.6 -5.6M374.9 919.7l5.6 5.6m-5.6 0l5.6 -5.6M352 927.4l5.6 5.6m-5.6 0l5.6 -5.6M376.1 920.3l5.6 5.6m-5.6 0l5.6 -5.6M452.3 893l5.6 5.6m-5.6 0l5.6 -5.6M317.4 943l5.6 5.6m-5.6 0l5.6 -5.6M392.9 913.7l5.6 5.6m-5.6 0l5.6 -5.6M291.6 950.5l5.6 5.6m-5.6 0l5.6 -5.6M348 927l5.6 5.6m-5.6 0l5.6 -5.6M532.9 879.6l5.6 5.6m-5.6 0l5.6 -5.6M351.6 926.4l5.6 5.6m-5.6 0l5.6 -5.6M306.1 942.5l5.6 5.6m-5.6 0l5.6 -5.6M304.4 946.4l5.6 5.6m-5.6 0l5.6 -5.6M456.4 892.6l5.6 5.6m-5.6 0l5.6 -5.6M426 902.9l5.6 5.6m-5.6 0l5.6 -5.6M330.9 934.2l5.6 5.6m-5.6 0l5.6 -5.6M484.9 886.8l5.6 5.6m-5.6 0l5.6 -5.6M490.9 886.4l5.6 5.6m-5.6 0l5.6 -5.6M509.9 882.9l5.6 5.6m-5.6 0l5.6 -5.6M362.2 925.3l5.6 5.6m-5.6 0l5.6 -5.6M528 877.8l5.6 5.6m-5.6 0l5.6 -5.6M436.5 900.3l5.6 5.6m-5.6 0l5.6 -5.6M404.2 908.7l5.6 5.6m-5.6 0l5.6 -5.6M362.2 921.5l5.6 5.6m-5.6 0l5.6 -5.6M275 963.9l5.6 5.6m-5.6 0l5.6 -5.6M354.9 924.1l5.6 5.6m-5.6 0l5.6 -5.6M349.2 931.5l5.6 5.6m-5.6 0l5.6 -5.6M329.2 938.9l5.6 5.6m-5.6 0l5.6 -5.6M427.7 904.2l5.6 5.6m-5.6 0l5.6 -5.6M441 893.9l5.6 5.6m-5.6 0l5.6 -5.6M397 907.6l5.6 5.6m-5.6 0l5.6 -5.6M500.8 887.5l5.6 5.6m-5.6 0l5.6 -5.6M284.8 958.8l5.6 5.6m-5.6 0l5.6 -5.6M402.3 906.2l5.6 5.6m-5.6 0l5.6 -5.6M444.3 897.1l5.6 5.6m-5.6 0l5.6 -5.6M340.3 936.1l5.6 5.6m-5.6 0l5.6 -5.6M409.4 905.4l5.6 5.6m-5.6 0l5.6 -5.6M356 921.1l5.6 5.6m-5.6 0l5.6 -5.6M353.2 921.8l5.6 5.6m-5.6 0l5.6 -5.6M482.3 889.7l5.6 5.6m-5.6 0l5.6 -5.6M287.7 954.9l5.6 5.6m-5.6 0l5.6 -5.6M435.1 897.8l5.6 5.6m-5.6 0l5.6 -5.6M373.6 923.3l5.6 5.6m-5.6 0l5.6 -5.6M386.9 915l5.6 5.6m-5.6 0l5.6 -5.6M279.9 959l5.6 5.6m-5.6 0l5.6 -5.6M456 897.4l5.6 5.6m-5.6 0l5.6 -5.6M311.7 944.9l5.6 5.6m-5.6 0l5.6 -5.6M496.7 885.6l5.6 5.6m-5.6 0l5.6 -5.6M519.5 886.3l5.6 5.6m-5.6 0l5.6 -5.6M287.7 956.4l5.6 5.6m-5.6 0l5.6 -5.6M389.5 915.1l5.6 5.6m-5.6 0l5.6 -5.6M280.4 962.9l5.6 5.6m-5.6 0l5.6 -5.6M490.4 881.5l5.6 5.6m-5.6 0l5.6 -5.6M311.5 943.6l5.6 5.6m-5.6 0l5.6 -5.6M308.9 942l5.6 5.6m-5.6 0l5.6 -5.6M466.9 894l5.6 5.6m-5.6 0l5.6 -5.6M335.5 938.8l5.6 5.6m-5.6 0l5.6 -5.6M307.7 942.4l5.6 5.6m-5.6 0l5.6 -5.6M493.4 882.3l5.6 5.6m-5.6 0l5.6 -5.6M281 961.9l5.6 5.6m-5.6 0l5.6 -5.6M487.9 883.9l5.6 5.6m-5.6 0l5.6 -5.6M362.1 923.7l5.6 5.6m-5.6 0l5.6 -5.6M434.9 902.6l5.6 5.6m-5.6 0l5.6 -5.6M381.6 918.5l5.6 5.6m-5.6 0l5.6 -5.6M439.7 896.9l5.6 5.6m-5.6 0l5.6 -5.6M417.1 906.9l5.6 5.6m-5.6 0l5.6 -5.6M315 943.4l5.6 5.6m-5.6 0l5.6 -5.6M299 951.7l5.6 5.6m-5.6 0l5.6 -5.6M310 943.3l5.6 5.6m-5.6 0l5.6 -5.6M492.7 881.6l5.6 5.6m-5.6 0l5.6 -5.6M436 898.3l5.6 5.6m-5.6 0l5.6 -5.6M510.6 882l5.6 5.6m-5.6 0l5.6 -5.6M335.8 934.5l5.6 5.6m-5.6 0l5.6 -5.6M354.9 920.9l5.6 5.6m-5.6 0l5.6 -5.6M487.9 882.3l5.6 5.6m-5.6 0l5.6 -5.6M377.4 920.8l5.6 5.6m-5.6 0l5.6 -5.6M493 884.9l5.6 5.6m-5.6 0l5.6 -5.6M281.9 959.3l5.6 5.6m-5.6 0l5.6 -5.6M365.2 921.5l5.6 5.6m-5.6 0l5.6 -5.6M440.6 895.3l5.6 5.6m-5.6 0l5.6 -5.6M414.9 907.5l5.6 5.6m-5.6 0l5.6 -5.6M477.4 893.1l5.6 5.6m-5.6 0l5.6 -5.6M369 921.5l5.6 5.6m-5.6 0l5.6 -5.6M540.5 879.8l5.6 5.6m-5.6 0l5.6 -5.6M541.2 875.9l5.6 5.6m-5.6 0l5.6 -5.6M380.6 918.3l5.6 5.6m-5.6 0l5.6 -5.6M348.8 927.9l5.6 5.6m-5.6 0l5.6 -5.6M507.9 883l5.6 5.6m-5.6 0l5.6 -5.6M479.5 892.5l5.6 5.6m-5.6 0l5.6 -5.6M367.1 922.3l5.6 5.6m-5.6 0l5.6 -5.6M322.2 940l5.6 5.6m-5.6 0l5.6 -5.6M423.5 901.5l5.6 5.6m-5.6 0l5.6 -5.6M368.4 923.8l5.6 5.6m-5.6 0l5.6 -5.6M509.9 881l5.6 5.6m-5.6 0l5.6 -5.6M378.3 918.7l5.6 5.6m-5.6 0l5.6 -5.6M426.2 903.2l5.6 5.6m-5.6 0l5.6 -5.6M355.4 921.2l5.6 5.6m-5.6 0l5.6 -5.6M286.7 958.6l5.6 5.6m-5.6 0l5.6 -5.6M273.4 961.5l5.6 5.6m-5.6 0l5.6 -5.6M453.3 894.2l5.6 5.6m-5.6 0l5.6 -5.6M513.7 881.9l5.6 5.6m-5.6 0l5.6 -5.6M468.5 892.2l5.6 5.6m-5.6 0l5.6 -5.6M540.4 877l5.6 5.6m-5.6 0l5.6 -5.6M375.4 918l5.6 5.6m-5.6 0l5.6 -5.6M436.3 901.6l5.6 5.6m-5.6 0l5.6 -5.6M314.2 944.5l5.6 5.6m-5.6 0l5.6 -5.6M359 920.9l5.6 5.6m-5.6 0l5.6 -5.6M369.2 923.9l5.6 5.6m-5.6 0l5.6 -5.6M485.2 886.3l5.6 5.6m-5.6 0l5.6 -5.6M423.7 902.6l5.6 5.6m-5.6 0l5.6 -5.6M302.9 944.6l5.6 5.6m-5.6 0l5.6 -5.6M416.4 909.1l5.6 5.6m-5.6 0l5.6 -5.6M315.6 939.2l5.6 5.6m-5.6 0l5.6 -5.6M478.3 890l5.6 5.6m-5.6 0l5.6 -5.6M411.5 908.7l5.6 5.6m-5.6 0l5.6 -5.6M458 896.9l5.6 5.6m-5.6 0l5.6 -5.6M303.7 946.7l5.6 5.6m-5.6 0l5.6 -5.6M372 920.5l5.6 5.6m-5.6 0l5.6 -5.6M523.4 884.2l5.6 5.6m-5.6 0l5.6 -5.6M453.3 891.8l5.6 5.6m-5.6 0l5.6 -5.6M342.1 933.1l5.6 5.6m-5.6 0l5.6 -5.6M366.8 922.4l5.6 5.6m-5.6 0l5.6 -5.6M473.7 892.9l5.6 5.6m-5.6 0l5.6 -5.6M332.4 934.8l5.6 5.6m-5.6 0l5.6 -5.6M424.4 906.2l5.6 5.6m-5.6 0l5.6 -5.6M318.7 941.2l5.6 5.6m-5.6 0l5.6 -5.6M456.3 897.2l5.6 5.6m-5.6 0l5.6 -5.6M393 914.8l5.6 5.6m-5.6 0l5.6 -5.6M367.7 919.8l5.6 5.6m-5.6 0l5.6 -5.6M339 935.8l5.6 5.6m-5.6 0l5.6 -5.6M367.9 919.9l5.6 5.6m-5.6 0l5.6 -5.6M413.4 908.7l5.6 5.6m-5.6 0l5.6 -5.6M425.9 901.6l5.6 5.6m-5.6 0l5.6 -5.6M324.9 941.6l5.6 5.6m-5.6 0l5.6 -5.6M469.1 892.5l5.6 5.6m-5.6 0l5.6 -5.6M475.3 892.4l5.6 5.6m-5.6 0l5.6 -5.6M284.7 957l5.6 5.6m-5.6 0l5.6 -5.6M498.9 884l5.6 5.6m-5.6 0l5.6 -5.6M518.7 882.2l5.6 5.6m-5.6 0l5.6 -5.6M505.3 887.2l5.6 5.6m-5.6 0l5.6 -5.6M362.3 922.1l5.6 5.6m-5.6 0l5.6 -5.6M505 884.8l5.6 5.6m-5.6 0l5.6 -5.6M451.9 897l5.6 5.6m-5.6 0l5.6 -5.6M471.4 894.5l5.6 5.6m-5.6 0l5.6 -5.6M312.4 943.8l5.6 5.6m-5.6 0l5.6 -5.6M377.3 917l5.6 5.6m-5.6 0l5.6 -5.6M522.3 884.7l5.6 5.6m-5.6 0l5.6 -5.6M534.3 879.9l5.6 5.6m-5.6 0l5.6 -5.6M413.8 908.6l5.6 5.6m-5.6 0l5.6 -5.6M305.9 943.7l5.6 5.6m-5.6 0l5.6 -5.6M356.1 921l5.6 5.6m-5.6 0l5.6 -5.6M346.1 930.6l5.6 5.6m-5.6 0l5.6 -5.6M541.8 881.9l5.6 5.6m-5.6 0l5.6 -5.6M386.6 914.5l5.6 5.6m-5.6 0l5.6 -5.6M291.6 956.5l5.6 5.6m-5.6 0l5.6 -5.6M361.3 921.1l5.6 5.6m-5.6 0l5.6 -5.6M349.7 924.3l5.6 5.6m-5.6 0l5.6 -5.6M347 926.2l5.6 5.6m-5.6 0l5.6 -5.6M351.3 922.7l5.6 5.6m-5.6 0l5.6 -5.6M395.8 909.5l5.6 5.6m-5.6 0l5.6 -5.6M271.9 962.1l5.6 5.6m-5.6 0l5.6 -5.6M467.2 889.3l5.6 5.6m-5.6 0l5.6 -5.6M528.7 877.3l5.6 5.6m-5.6 0l5.6 -5.6M533.2 878.8l5.6 5.6m-5.6 0l5.6 -5.6M421.5 905.4l5.6 5.6m-5.6 0l5.6 -5.6M515.2 883.7l5.6 5.6m-5.6 0l5.6 -5.6M531.9 878.8l5.6 5.6m-5.6 0l5.6 -5.6M363.1 920.9l5.6 5.6m-5.6 0l5.6 -5.6M436.2 896.9l5.6 5.6m-5.6 0l5.6 -5.6M360.3 922.3l5.6 5.6m-5.6 0l5.6 -5.6M419 904l5.6 5.6m-5.6 0l5.6 -5.6M541.7 881.1l5.6 5.6m-5.6 0l5.6 -5.6M452.4 892.4l5.6 5.6m-5.6 0l5.6 -5.6M393.5 911.2l5.6 5.6m-5.6 0l5.6 -5.6M449.2 895l5.6 5.6m-5.6 0l5.6 -5.6M398.7 908.6l5.6 5.6m-5.6 0l5.6 -5.6M506.4 883l5.6 5.6m-5.6 0l5.6 -5.6M471.9 891.3l5.6 5.6m-5.6 0l5.6 -5.6M382.1 916.9l5.6 5.6m-5.6 0l5.6 -5.6M350.9 925.4l5.6 5.6m-5.6 0l5.6 -5.6M443.3 892.5l5.6 5.6m-5.6 0l5.6 -5.6M501.4 882.4l5.6 5.6m-5.6 0l5.6 -5.6M531.2 881.3l5.6 5.6m-5.6 0l5.6 -5.6M529.3 881.8l5.6 5.6m-5.6 0l5.6 -5.6M462.8 892.2l5.6 5.6m-5.6 0l5.6 -5.6M500.7 883.8l5.6 5.6m-5.6 0l5.6 -5.6M402.8 910.2l5.6 5.6m-5.6 0l5.6 -5.6M339.8 931.6l5.6 5.6m-5.6 0l5.6 -5.6M448.7 894.2l5.6 5.6m-5.6 0l5.6 -5.6M503.7 885.2l5.6 5.6m-5.6 0l5.6 -5.6M429.4 905.7l5.6 5.6m-5.6 0l5.6 -5.6M433.8 904.7l5.6 5.6m-5.6 0l5.6 -5.6M473.5 890l5.6 5.6m-5.6 0l5.6 -5.6M287.4 957.9l5.6 5.6m-5.6 0l5.6 -5.6M447.1 895.8l5.6 5.6m-5.6 0l5.6 -5.6M369.4 921.4l5.6 5.6m-5.6 0l5.6 -5.6M413.3 909l5.6 5.6m-5.6 0l5.6 -5.6M518.1 887.2l5.6 5.6m-5.6 0l5.6 -5.6M430.7 901.4l5.6 5.6m-5.6 0l5.6 -5.6M350.9 928.8l5.6 5.6m-5.6 0l5.6 -5.6M382 915.7l5.6 5.6m-5.6 0l5.6 -5.6M542.6 877.9l5.6 5.6m-5.6 0l5.6 -5.6M367.5 925.8l5.6 5.6m-5.6 0l5.6 -5.6M542.7 879.8l5.6 5.6m-5.6 0l5.6 -5.6M459.5 893.4l5.6 5.6m-5.6 0l5.6 -5.6M385.5 917.5l5.6 5.6m-5.6 0l5.6 -5.6M285.1 954.9l5.6 5.6m-5.6 0l5.6 -5.6M544.6 879.7l5.6 5.6m-5.6 0l5.6 -5.6M509.6 881.8l5.6 5.6m-5.6 0l5.6 -5.6M371.5 921.9l5.6 5.6m-5.6 0l5.6 -5.6M543.1 877.2l5.6 5.6m-5.6 0l5.6 -5.6M487 886.1l5.6 5.6m-5.6 0l5.6 -5.6M395 911.4l5.6 5.6m-5.6 0l5.6 -5.6M382.4 916.3l5.6 5.6m-5.6 0l5.6 -5.6M364.9 926.3l5.6 5.6m-5.6 0l5.6 -5.6M276.3 960.8l5.6 5.6m-5.6 0l5.6 -5.6M327.3 940.8l5.6 5.6m-5.6 0l5.6 -5.6M389.9 914.2l5.6 5.6m-5.6 0l5.6 -5.6" stroke="#10aae8" stroke-width="1.6" fill="none"/>
<path d="M275.9 973.8 277.6 971.6 279.3 970.8 281 969.5 282.8 968.7 284.5 969.4 286.2 969.1 287.9 967.9 289.6 967.2 291.3 966.2 293 964 294.7 963.6 296.5 963.7 298.2 964.4 299.9 963.5 301.6 961.7 303.3 962.6 305 961.1 306.7 959.5 308.4 958.9 310.2 956.3 311.9 957.1 313.6 957 315.3 957.8 317 957.4 318.7 956.9 320.4 955 322.2 952.4 323.9 950.7 325.6 950.9 327.3 949.8 329 950.2 330.7 948.5 332.4 949.6 334.1 949.7 335.9 948.4 337.6 946.9 339.3 944.6 341 943.1 342.7 940.6 344.4 940.1 346.1 941.3 347.8 941.6 349.6 942.5 351.3 940.5 353 940.1 354.7 939.5 356.4 937.7 358.1 936.8 359.8 937.5 361.6 937.6 363.3 936 365 938.8 366.7 938 368.4 937.7 370.1 936.5 371.8 936.7 373.5 936.2 375.3 934.4 377 933.6 378.7 934.6 380.4 935.4 382.1 936.6 383.8 936.2 385.5 935.8 387.2 935.3 389 932.4 390.7 932.3 392.4 931.7 394.1 929.7 395.8 930 397.5 929.6 399.2 931.2 401 930.5 402.7 927.8 404.4 928.5 406.1 925.3 407.8 924 409.5 924.3 411.2 923.8 412.9 922.3 414.7 922 416.4 922.2 418.1 921.5 419.8 920.8 421.5 918.6 423.2 917.8 424.9 916.6 426.6 915.7 428.4 917.7 430.1 917.4 431.8 918.3 433.5 917.5 435.2 916.7 436.9 916 438.6 914.8 440.4 915.2 442.1 915 443.8 913.6 445.5 913.9 447.2 915.5 448.9 916.8 450.6 915.1 452.3 916.7 454.1 915.7 455.8 914 457.5 914.1 459.2 913.3 460.9 912.8 462.6 912.6 464.3 913.9 466 913.9 467.8 911.9 469.5 911.7 471.2 910.4 472.9 908.9 474.6 908.5 476.3 908.4 478 908.3 479.8 907 481.5 906.8 483.2 906.1 484.9 906 486.6 905.5 488.3 904 490 903.5 491.7 901.9 493.5 900.9 495.2 900 496.9 901.4 498.6 901.4 500.3 902.7 502 902.1 503.7 900.3 505.4 899.8 507.2 897.5 508.9 898.8 510.6 899.3 512.3 899.9 514 900.6 515.7 899.5 517.4 901.2 519.2 900.3 520.9 898.1 522.6 897.8 524.3 898.2 526 897.1 527.7 897 529.4 897.7 531.1 898.4 532.9 899.5 534.6 898.5 536.3 898.7 538 897.3 539.7 895.5 541.4 895.9 543.1 893.7 544.8 894.9 546.6 894.5" fill="none" stroke="#62e6ff" stroke-width="5.6" stroke-linejoin="round" stroke-linecap="round"/>
<path d="M363.8 934.2l5.6 5.6m-5.6 0l5.6 -5.6M537.4 891.4l5.6 5.6m-5.6 0l5.6 -5.6M423 911.4l5.6 5.6m-5.6 0l5.6 -5.6M359.1 934.8l5.6 5.6m-5.6 0l5.6 -5.6M442.1 912.9l5.6 5.6m-5.6 0l5.6 -5.6M332.7 946.3l5.6 5.6m-5.6 0l5.6 -5.6M290.4 961.1l5.6 5.6m-5.6 0l5.6 -5.6M366.3 936.9l5.6 5.6m-5.6 0l5.6 -5.6M444.5 911.1l5.6 5.6m-5.6 0l5.6 -5.6M426.4 912.2l5.6 5.6m-5.6 0l5.6 -5.6M511.3 895.6l5.6 5.6m-5.6 0l5.6 -5.6M338.5 939.5l5.6 5.6m-5.6 0l5.6 -5.6M508.6 893.7l5.6 5.6m-5.6 0l5.6 -5.6M310.9 954.7l5.6 5.6m-5.6 0l5.6 -5.6M506.2 895.3l5.6 5.6m-5.6 0l5.6 -5.6M484.5 898.9l5.6 5.6m-5.6 0l5.6 -5.6M471.8 904.3l5.6 5.6m-5.6 0l5.6 -5.6M455.4 911.3l5.6 5.6m-5.6 0l5.6 -5.6M534 892.6l5.6 5.6m-5.6 0l5.6 -5.6M449.2 914.8l5.6 5.6m-5.6 0l5.6 -5.6M453.5 912.4l5.6 5.6m-5.6 0l5.6 -5.6M418.1 915.1l5.6 5.6m-5.6 0l5.6 -5.6M486 902.2l5.6 5.6m-5.6 0l5.6 -5.6M475.9 904.4l5.6 5.6m-5.6 0l5.6 -5.6M343.1 939.7l5.6 5.6m-5.6 0l5.6 -5.6M517.3 898.2l5.6 5.6m-5.6 0l5.6 -5.6M328.6 948.6l5.6 5.6m-5.6 0l5.6 -5.6M351.3 933l5.6 5.6m-5.6 0l5.6 -5.6M474.3 902.2l5.6 5.6m-5.6 0l5.6 -5.6M395.9 930.3l5.6 5.6m-5.6 0l5.6 -5.6M309.4 956.7l5.6 5.6m-5.6 0l5.6 -5.6M318.9 950.5l5.6 5.6m-5.6 0l5.6 -5.6M427.2 915.6l5.6 5.6m-5.6 0l5.6 -5.6M441 908.9l5.6 5.6m-5.6 0l5.6 -5.6M520.5 895.9l5.6 5.6m-5.6 0l5.6 -5.6M434.4 914.6l5.6 5.6m-5.6 0l5.6 -5.6M525.3 893.4l5.6 5.6m-5.6 0l5.6 -5.6M313.6 954.7l5.6 5.6m-5.6 0l5.6 -5.6M453.4 908.2l5.6 5.6m-5.6 0l5.6 -5.6M340.9 941l5.6 5.6m-5.6 0l5.6 -5.6M480.4 904.5l5.6 5.6m-5.6 0l5.6 -5.6M471 907l5.6 5.6m-5.6 0l5.6 -5.6M304.7 954.6l5.6 5.6m-5.6 0l5.6 -5.6M293.7 962.1l5.6 5.6m-5.6 0l5.6 -5.6M303.6 958.4l5.6 5.6m-5.6 0l5.6 -5.6M426.9 916l5.6 5.6m-5.6 0l5.6 -5.6M305.8 956.6l5.6 5.6m-5.6 0l5.6 -5.6M284.8 963.9l5.6 5.6m-5.6 0l5.6 -5.6M286.2 965.8l5.6 5.6m-5.6 0l5.6 -5.6M417.5 918.9l5.6 5.6m-5.6 0l5.6 -5.6M485.2 903.6l5.6 5.6m-5.6 0l5.6 -5.6M500.4 899.3l5.6 5.6m-5.6 0l5.6 -5.6M318.3 951.3l5.6 5.6m-5.6 0l5.6 -5.6M467.4 912l5.6 5.6m-5.6 0l5.6 -5.6M353.3 933.2l5.6 5.6m-5.6 0l5.6 -5.6M324.2 949.6l5.6 5.6m-5.6 0l5.6 -5.6M535.5 891.8l5.6 5.6m-5.6 0l5.6 -5.6M472.3 902.7l5.6 5.6m-5.6 0l5.6 -5.6M290.4 961l5.6 5.6m-5.6 0l5.6 -5.6M275.3 970.7l5.6 5.6m-5.6 0l5.6 -5.6M273.4 967l5.6 5.6m-5.6 0l5.6 -5.6M410.2 921.8l5.6 5.6m-5.6 0l5.6 -5.6M510.7 894.8l5.6 5.6m-5.6 0l5.6 -5.6M476.7 904.1l5.6 5.6m-5.6 0l5.6 -5.6M453.1 912.2l5.6 5.6m-5.6 0l5.6 -5.6M400.7 924.2l5.6 5.6m-5.6 0l5.6 -5.6M475.3 902.9l5.6 5.6m-5.6 0l5.6 -5.6M487 898.3l5.6 5.6m-5.6 0l5.6 -5.6M535.8 891l5.6 5.6m-5.6 0l5.6 -5.6M392.8 929.9l5.6 5.6m-5.6 0l5.6 -5.6M290.8 962.7l5.6 5.6m-5.6 0l5.6 -5.6M373.5 931.6l5.6 5.6m-5.6 0l5.6 -5.6M295.5 963.4l5.6 5.6m-5.6 0l5.6 -5.6M418.4 915.2l5.6 5.6m-5.6 0l5.6 -5.6M389.9 930.7l5.6 5.6m-5.6 0l5.6 -5.6M535.7 891.4l5.6 5.6m-5.6 0l5.6 -5.6M378.2 931.5l5.6 5.6m-5.6 0l5.6 -5.6M375.7 932.8l5.6 5.6m-5.6 0l5.6 -5.6M281.2 966.3l5.6 5.6m-5.6 0l5.6 -5.6M350.9 933.9l5.6 5.6m-5.6 0l5.6 -5.6M272 967.7l5.6 5.6m-5.6 0l5.6 -5.6M423.2 911l5.6 5.6m-5.6 0l5.6 -5.6M517.8 893.9l5.6 5.6m-5.6 0l5.6 -5.6M490.3 896.4l5.6 5.6m-5.6 0l5.6 -5.6M373 934.8l5.6 5.6m-5.6 0l5.6 -5.6M476.7 902.9l5.6 5.6m-5.6 0l5.6 -5.6M542.8 890.1l5.6 5.6m-5.6 0l5.6 -5.6M321.8 947.6l5.6 5.6m-5.6 0l5.6 -5.6M499.6 895.9l5.6 5.6m-5.6 0l5.6 -5.6M382.3 931.5l5.6 5.6m-5.6 0l5.6 -5.6M275 970.8l5.6 5.6m-5.6 0l5.6 -5.6M388.8 927l5.6 5.6m-5.6 0l5.6 -5.6M291.2 962.2l5.6 5.6m-5.6 0l5.6 -5.6M377.3 934.3l5.6 5.6m-5.6 0l5.6 -5.6M370.3 931.8l5.6 5.6m-5.6 0l5.6 -5.6M349.6 938l5.6 5.6m-5.6 0l5.6 -5.6M303.6 958l5.6 5.6m-5.6 0l5.6 -5.6M453.3 913.2l5.6 5.6m-5.6 0l5.6 -5.6M324.1 948.2l5.6 5.6m-5.6 0l5.6 -5.6M477.5 904.2l5.6 5.6m-5.6 0l5.6 -5.6M374 931.3l5.6 5.6m-5.6 0l5.6 -5.6M414.4 920.5l5.6 5.6m-5.6 0l5.6 -5.6M419.9 914l5.6 5.6m-5.6 0l5.6 -5.6M504.3 895.7l5.6 5.6m-5.6 0l5.6 -5.6M318.7 947.4l5.6 5.6m-5.6 0l5.6 -5.6M455.5 911.9l5.6 5.6m-5.6 0l5.6 -5.6M285.6 965.6l5.6 5.6m-5.6 0l5.6 -5.6M498.5 900.9l5.6 5.6m-5.6 0l5.6 -5.6M415.4 922.7l5.6 5.6m-5.6 0l5.6 -5.6M383 935.3l5.6 5.6m-5.6 0l5.6 -5.6M521.9 893.4l5.6 5.6m-5.6 0l5.6 -5.6M321.9 948.4l5.6 5.6m-5.6 0l5.6 -5.6M299.1 957.7l5.6 5.6m-5.6 0l5.6 -5.6M370 932l5.6 5.6m-5.6 0l5.6 -5.6M285 965l5.6 5.6m-5.6 0l5.6 -5.6M320 949.1l5.6 5.6m-5.6 0l5.6 -5.6M525.3 893.2l5.6 5.6m-5.6 0l5.6 -5.6M290.1 962.8l5.6 5.6m-5.6 0l5.6 -5.6M338.2 939l5.6 5.6m-5.6 0l5.6 -5.6M393.3 930.4l5.6 5.6m-5.6 0l5.6 -5.6M366.8 931.6l5.6 5.6m-5.6 0l5.6 -5.6M536 895.5l5.6 5.6m-5.6 0l5.6 -5.6M464.6 913.4l5.6 5.6m-5.6 0l5.6 -5.6M468.7 904.1l5.6 5.6m-5.6 0l5.6 -5.6M506.6 895.7l5.6 5.6m-5.6 0l5.6 -5.6M428.7 914.9l5.6 5.6m-5.6 0l5.6 -5.6M459.9 913l5.6 5.6m-5.6 0l5.6 -5.6M439.5 911l5.6 5.6m-5.6 0l5.6 -5.6M469.8 905.2l5.6 5.6m-5.6 0l5.6 -5.6M516.2 895.2l5.6 5.6m-5.6 0l5.6 -5.6M418.8 914.5l5.6 5.6m-5.6 0l5.6 -5.6M361.4 936.7l5.6 5.6m-5.6 0l5.6 -5.6M327.6 946.5l5.6 5.6m-5.6 0l5.6 -5.6M314.7 952.9l5.6 5.6m-5.6 0l5.6 -5.6M501.9 896l5.6 5.6m-5.6 0l5.6 -5.6M369.9 930.1l5.6 5.6m-5.6 0l5.6 -5.6M512.8 895.3l5.6 5.6m-5.6 0l5.6 -5.6M442.2 909.6l5.6 5.6m-5.6 0l5.6 -5.6M366 937.4l5.6 5.6m-5.6 0l5.6 -5.6M292.2 960.9l5.6 5.6m-5.6 0l5.6 -5.6M532.7 897.2l5.6 5.6m-5.6 0l5.6 -5.6M409.3 919.2l5.6 5.6m-5.6 0l5.6 -5.6M318.9 951.7l5.6 5.6m-5.6 0l5.6 -5.6M531.2 898.7l5.6 5.6m-5.6 0l5.6 -5.6M542.8 891.6l5.6 5.6m-5.6 0l5.6 -5.6M326.8 945.7l5.6 5.6m-5.6 0l5.6 -5.6M368.1 932l5.6 5.6m-5.6 0l5.6 -5.6M388.7 925.8l5.6 5.6m-5.6 0l5.6 -5.6M276.8 966.7l5.6 5.6m-5.6 0l5.6 -5.6M403.4 921.5l5.6 5.6m-5.6 0l5.6 -5.6M320.5 948.9l5.6 5.6m-5.6 0l5.6 -5.6M510.1 894.9l5.6 5.6m-5.6 0l5.6 -5.6M458.2 907.2l5.6 5.6m-5.6 0l5.6 -5.6M350.2 940.4l5.6 5.6m-5.6 0l5.6 -5.6M449.6 910.3l5.6 5.6m-5.6 0l5.6 -5.6M390.1 929.7l5.6 5.6m-5.6 0l5.6 -5.6M357.7 935.6l5.6 5.6m-5.6 0l5.6 -5.6M283.4 964.9l5.6 5.6m-5.6 0l5.6 -5.6M517.8 898.7l5.6 5.6m-5.6 0l5.6 -5.6M464.5 910l5.6 5.6m-5.6 0l5.6 -5.6M381.9 931.3l5.6 5.6m-5.6 0l5.6 -5.6M511.3 895.9l5.6 5.6m-5.6 0l5.6 -5.6M372.3 930.5l5.6 5.6m-5.6 0l5.6 -5.6M408.4 920.7l5.6 5.6m-5.6 0l5.6 -5.6M489.8 896.4l5.6 5.6m-5.6 0l5.6 -5.6M405.8 918.2l5.6 5.6m-5.6 0l5.6 -5.6M313.3 953.1l5.6 5.6m-5.6 0l5.6 -5.6M373.6 929.6l5.6 5.6m-5.6 0l5.6 -5.6M378 932.7l5.6 5.6m-5.6 0l5.6 -5.6M503.6 896.7l5.6 5.6m-5.6 0l5.6 -5.6M530.3 896.5l5.6 5.6m-5.6 0l5.6 -5.6M485.6 899.8l5.6 5.6m-5.6 0l5.6 -5.6M520.2 897.7l5.6 5.6m-5.6 0l5.6 -5.6M333.5 943.8l5.6 5.6m-5.6 0l5.6 -5.6M441.8 911.9l5.6 5.6m-5.6 0l5.6 -5.6M457.4 907.7l5.6 5.6m-5.6 0l5.6 -5.6M524.4 895.6l5.6 5.6m-5.6 0l5.6 -5.6M519 896.5l5.6 5.6m-5.6 0l5.6 -5.6M309.5 954.2l5.6 5.6m-5.6 0l5.6 -5.6M474.5 905.8l5.6 5.6m-5.6 0l5.6 -5.6M404.3 923.1l5.6 5.6m-5.6 0l5.6 -5.6M447.2 915l5.6 5.6m-5.6 0l5.6 -5.6M284.6 966.4l5.6 5.6m-5.6 0l5.6 -5.6M512.8 898.1l5.6 5.6m-5.6 0l5.6 -5.6M436.5 913.7l5.6 5.6m-5.6 0l5.6 -5.6M369.9 931.6l5.6 5.6m-5.6 0l5.6 -5.6M503.1 894.8l5.6 5.6m-5.6 0l5.6 -5.6M294.4 959.5l5.6 5.6m-5.6 0l5.6 -5.6M504.1 898.5l5.6 5.6m-5.6 0l5.6 -5.6M340.7 935.7l5.6 5.6m-5.6 0l5.6 -5.6M312.4 956.7l5.6 5.6m-5.6 0l5.6 -5.6M323.2 944.7l5.6 5.6m-5.6 0l5.6 -5.6M364.3 934.9l5.6 5.6m-5.6 0l5.6 -5.6M344.1 938.6l5.6 5.6m-5.6 0l5.6 -5.6M295.7 961.3l5.6 5.6m-5.6 0l5.6 -5.6M497.7 898.9l5.6 5.6m-5.6 0l5.6 -5.6M426.6 914.2l5.6 5.6m-5.6 0l5.6 -5.6M458.8 908.3l5.6 5.6m-5.6 0l5.6 -5.6M333.8 946.6l5.6 5.6m-5.6 0l5.6 -5.6M424 915.9l5.6 5.6m-5.6 0l5.6 -5.6M329.7 948.4l5.6 5.6m-5.6 0l5.6 -5.6M361 931.2l5.6 5.6m-5.6 0l5.6 -5.6M287.4 961.5l5.6 5.6m-5.6 0l5.6 -5.6M385.7 930.5l5.6 5.6m-5.6 0l5.6 -5.6M499.4 898.1l5.6 5.6m-5.6 0l5.6 -5.6M373.8 933.7l5.6 5.6m-5.6 0l5.6 -5.6M484 906.4l5.6 5.6m-5.6 0l5.6 -5.6M383.7 932.2l5.6 5.6m-5.6 0l5.6 -5.6M283.3 964.2l5.6 5.6m-5.6 0l5.6 -5.6M520.7 896.5l5.6 5.6m-5.6 0l5.6 -5.6M446.3 911.2l5.6 5.6m-5.6 0l5.6 -5.6M308.1 955.5l5.6 5.6m-5.6 0l5.6 -5.6M340.9 937.7l5.6 5.6m-5.6 0l5.6 -5.6M278.9 967.4l5.6 5.6m-5.6 0l5.6 -5.6M304.6 954.2l5.6 5.6m-5.6 0l5.6 -5.6M465.9 911.6l5.6 5.6m-5.6 0l5.6 -5.6M320.2 952l5.6 5.6m-5.6 0l5.6 -5.6M538.2 890.5l5.6 5.6m-5.6 0l5.6 -5.6M521.4 894.2l5.6 5.6m-5.6 0l5.6 -5.6M531.2 894.3l5.6 5.6m-5.6 0l5.6 -5.6M337.1 942l5.6 5.6m-5.6 0l5.6 -5.6M482.1 903.8l5.6 5.6m-5.6 0l5.6 -5.6M508.8 894.4l5.6 5.6m-5.6 0l5.6 -5.6M533.8 892.5l5.6 5.6m-5.6 0l5.6 -5.6M293.8 959.4l5.6 5.6m-5.6 0l5.6 -5.6M487.9 899.8l5.6 5.6m-5.6 0l5.6 -5.6M532.8 894.4l5.6 5.6m-5.6 0l5.6 -5.6M542.4 893.3l5.6 5.6m-5.6 0l5.6 -5.6M519.3 895.8l5.6 5.6m-5.6 0l5.6 -5.6M287.3 962.2l5.6 5.6m-5.6 0l5.6 -5.6M502.7 899.6l5.6 5.6m-5.6 0l5.6 -5.6M456.7 910.2l5.6 5.6m-5.6 0l5.6 -5.6M475.4 904.7l5.6 5.6m-5.6 0l5.6 -5.6M436.1 914.7l5.6 5.6m-5.6 0l5.6 -5.6M400.2 924.2l5.6 5.6m-5.6 0l5.6 -5.6M481.5 902.8l5.6 5.6m-5.6 0l5.6 -5.6M417.6 917.1l5.6 5.6m-5.6 0l5.6 -5.6M313.8 954.1l5.6 5.6m-5.6 0l5.6 -5.6M373.4 932.7l5.6 5.6m-5.6 0l5.6 -5.6M400.4 926.1l5.6 5.6m-5.6 0l5.6 -5.6M406.6 918.5l5.6 5.6m-5.6 0l5.6 -5.6M300.7 960.6l5.6 5.6m-5.6 0l5.6 -5.6M400.7 924.3l5.6 5.6m-5.6 0l5.6 -5.6M534.4 893.5l5.6 5.6m-5.6 0l5.6 -5.6M432.7 917l5.6 5.6m-5.6 0l5.6 -5.6M422 913l5.6 5.6m-5.6 0l5.6 -5.6M504.2 894.1l5.6 5.6m-5.6 0l5.6 -5.6M472.6 905.7l5.6 5.6m-5.6 0l5.6 -5.6M492.5 899.5l5.6 5.6m-5.6 0l5.6 -5.6M342.7 935.5l5.6 5.6m-5.6 0l5.6 -5.6M437.1 910l5.6 5.6m-5.6 0l5.6 -5.6M421.6 915.3l5.6 5.6m-5.6 0l5.6 -5.6M458.6 911.6l5.6 5.6m-5.6 0l5.6 -5.6M467.8 906.3l5.6 5.6m-5.6 0l5.6 -5.6M454.5 909.9l5.6 5.6m-5.6 0l5.6 -5.6M437.1 911.1l5.6 5.6m-5.6 0l5.6 -5.6M514.6 899.7l5.6 5.6m-5.6 0l5.6 -5.6M309.9 956.6l5.6 5.6m-5.6 0l5.6 -5.6M281.6 964l5.6 5.6m-5.6 0l5.6 -5.6M489.6 900.6l5.6 5.6m-5.6 0l5.6 -5.6M421.6 914.6l5.6 5.6m-5.6 0l5.6 -5.6M312.7 956.1l5.6 5.6m-5.6 0l5.6 -5.6M324.9 947.4l5.6 5.6m-5.6 0l5.6 -5.6M540.1 890.8l5.6 5.6m-5.6 0l5.6 -5.6M366.8 934.5l5.6 5.6m-5.6 0l5.6 -5.6M346.2 935.9l5.6 5.6m-5.6 0l5.6 -5.6M519.8 895.8l5.6 5.6m-5.6 0l5.6 -5.6M281.1 968.8l5.6 5.6m-5.6 0l5.6 -5.6M317.3 949l5.6 5.6m-5.6 0l5.6 -5.6M317.8 949.4l5.6 5.6m-5.6 0l5.6 -5.6M471.1 906.5l5.6 5.6m-5.6 0l5.6 -5.6M287.5 961.6l5.6 5.6m-5.6 0l5.6 -5.6M421.9 912.4l5.6 5.6m-5.6 0l5.6 -5.6M415.4 919.8l5.6 5.6m-5.6 0l5.6 -5.6M430.9 914.4l5.6 5.6m-5.6 0l5.6 -5.6M472 902.7l5.6 5.6m-5.6 0l5.6 -5.6M538.5 891.8l5.6 5.6m-5.6 0l5.6 -5.6M464.3 910.4l5.6 5.6m-5.6 0l5.6 -5.6M387.4 927.2l5.6 5.6m-5.6 0l5.6 -5.6M443.6 910.1l5.6 5.6m-5.6 0l5.6 -5.6M321.5 948.2l5.6 5.6m-5.6 0l5.6 -5.6M335.9 946.1l5.6 5.6m-5.6 0l5.6 -5.6M320 952.1l5.6 5.6m-5.6 0l5.6 -5.6M338 937.8l5.6 5.6m-5.6 0l5.6 -5.6M457 910.1l5.6 5.6m-5.6 0l5.6 -5.6M326 948.3l5.6 5.6m-5.6 0l5.6 -5.6M433.3 915.9l5.6 5.6m-5.6 0l5.6 -5.6M347.5 938.4l5.6 5.6m-5.6 0l5.6 -5.6M423.7 914.3l5.6 5.6m-5.6 0l5.6 -5.6M412.2 920.9l5.6 5.6m-5.6 0l5.6 -5.6M499.2 896.5l5.6 5.6m-5.6 0l5.6 -5.6M319.3 951.8l5.6 5.6m-5.6 0l5.6 -5.6M310.9 955.5l5.6 5.6m-5.6 0l5.6 -5.6M439.3 910.5l5.6 5.6m-5.6 0l5.6 -5.6M474.5 904.6l5.6 5.6m-5.6 0l5.6 -5.6M327.3 946.4l5.6 5.6m-5.6 0l5.6 -5.6M389.6 926.4l5.6 5.6m-5.6 0l5.6 -5.6M491.1 900.9l5.6 5.6m-5.6 0l5.6 -5.6M305.4 953.1l5.6 5.6m-5.6 0l5.6 -5.6M455.3 909.2l5.6 5.6m-5.6 0l5.6 -5.6M273.8 968.7l5.6 5.6m-5.6 0l5.6 -5.6M354.2 936.2l5.6 5.6m-5.6 0l5.6 -5.6M279.3 965.6l5.6 5.6m-5.6 0l5.6 -5.6M319 952l5.6 5.6m-5.6 0l5.6 -5.6M351 934l5.6 5.6m-5.6 0l5.6 -5.6M426.5 915l5.6 5.6m-5.6 0l5.6 -5.6M445.5 915.6l5.6 5.6m-5.6 0l5.6 -5.6M322.4 945.9l5.6 5.6m-5.6 0l5.6 -5.6M382.8 929.8l5.6 5.6m-5.6 0l5.6 -5.6M355.7 933.1l5.6 5.6m-5.6 0l5.6 -5.6M488.7 896.8l5.6 5.6m-5.6 0l5.6 -5.6M303.9 955.3l5.6 5.6m-5.6 0l5.6 -5.6M361.1 937l5.6 5.6m-5.6 0l5.6 -5.6M531.8 896.9l5.6 5.6m-5.6 0l5.6 -5.6M430.2 916.5l5.6 5.6m-5.6 0l5.6 -5.6M528.2 894.9l5.6 5.6m-5.6 0l5.6 -5.6" stroke="#62e6ff" stroke-width="1.6" fill="none"/>
<path d="M121.6 1097.1 220.2 1094.6 266.1 1094 296.3 1099.4 318.8 1100.6 336.9 1098.3 351.9 1101.1 364.7 1103.3 375.9 1101.2 385.9 1100.6 394.9 1100.1 403.1 1099 410.6 1097.9 417.5 1095.7 423.9 1095.9 429.9 1095.5 435.5 1094.2 440.8 1093.5 445.8 1094.3 450.5 1091.7 455 1091.9 459.2 1092.2 463.3 1089.2 467.2 1090.2 471 1089.7 474.6 1089.7 478 1088.4 481.3 1087.3 484.5 1086.8 487.6 1086.6 490.6 1086.1 493.5 1085.3 496.3 1085.9 499.1 1083.7 501.7 1082.3 504.3 1081.9 509.2 1080.4 513.8 1079.3 518.3 1078.2 522.5 1077.4 526.5 1075.1 530.4 1074.1 534.1 1072.1 537.7 1070.5 541.1 1067.5 544.4 1068.9 547.6 1066.8 550.6 1065.6 553.6 1065.5 556.5 1065.3 559.2 1064 561.9 1061.3 564.6 1061 567.1 1059.7 570.8 1058.5 574.3 1057.4 577.8 1056.5 581 1055 584.2 1053.2 587.3 1052.6 590.2 1049.4 593.1 1049.6 595.9 1046.4 598.6 1047.3 601.2 1043.8 603.7 1044.4 607 1042.7 610.2 1040.4 613.2 1040.5 616.2 1038.5 619 1036.7 621.8 1035 624.5 1034.1 627.1 1030.6 629.7 1030.3 632.7 1028.1 635.7 1026.8 638.6 1024.8 641.4 1024.4 644.1 1021.6 646.7 1021 649.2 1019.6 652.2 1015.9 655.1 1015.8 657.9 1014 660.6 1011.6 663.2 1009.3 665.7 1008 668.6 1007.1 671.4 1005.8 674.1 1002.2 676.7 1003.4 679.3 999.7 682.1 999.2" fill="none" stroke="#90e6f0" stroke-width="2.2" stroke-linejoin="round" stroke-linecap="round"/>
<g fill="#90e6f0"><circle cx="121.6" cy="1097.1" r="7.6"/><circle cx="220.2" cy="1094.6" r="7.6"/><circle cx="266.1" cy="1094" r="7.6"/><circle cx="296.3" cy="1099.4" r="7.6"/><circle cx="318.8" cy="1100.6" r="7.6"/><circle cx="336.9" cy="1098.3" r="7.6"/><circle cx="351.9" cy="1101.1" r="7.6"/><circle cx="364.7" cy="1103.3" r="7.6"/><circle cx="375.9" cy="1101.2" r="7.6"/><circle cx="385.9" cy="1100.6" r="7.6"/><circle cx="394.9" cy="1100.1" r="7.6"/><circle cx="403.1" cy="1099" r="7.6"/><circle cx="410.6" cy="1097.9" r="7.6"/><circle cx="417.5" cy="1095.7" r="7.6"/><circle cx="423.9" cy="1095.9" r="7.6"/><circle cx="429.9" cy="1095.5" r="7.6"/><circle cx="435.5" cy="1094.2" r="7.6"/><circle cx="440.8" cy="1093.5" r="7.6"/><circle cx="445.8" cy="1094.3" r="7.6"/><circle cx="450.5" cy="1091.7" r="7.6"/><circle cx="455" cy="1091.9" r="7.6"/><circle cx="459.2" cy="1092.2" r="7.6"/><circle cx="463.3" cy="1089.2" r="7.6"/><circle cx="467.2" cy="1090.2" r="7.6"/><circle cx="471" cy="1089.7" r="7.6"/><circle cx="474.6" cy="1089.7" r="7.6"/><circle cx="478" cy="1088.4" r="7.6"/><circle cx="481.3" cy="1087.3" r="7.6"/><circle cx="484.5" cy="1086.8" r="7.6"/><circle cx="487.6" cy="1086.6" r="7.6"/><circle cx="490.6" cy="1086.1" r="7.6"/><circle cx="493.5" cy="1085.3" r="7.6"/><circle cx="496.3" cy="1085.9" r="7.6"/><circle cx="499.1" cy="1083.7" r="7.6"/><circle cx="501.7" cy="1082.3" r="7.6"/><circle cx="504.3" cy="1081.9" r="7.6"/><circle cx="509.2" cy="1080.4" r="7.6"/><circle cx="513.8" cy="1079.3" r="7.6"/><circle cx="518.3" cy="1078.2" r="7.6"/><circle cx="522.5" cy="1077.4" r="7.6"/><circle cx="526.5" cy="1075.1" r="7.6"/><circle cx="530.4" cy="1074.1" r="7.6"/><circle cx="534.1" cy="1072.1" r="7.6"/><circle cx="537.7" cy="1070.5" r="7.6"/><circle cx="541.1" cy="1067.5" r="7.6"/><circle cx="544.4" cy="1068.9" r="7.6"/><circle cx="547.6" cy="1066.8" r="7.6"/><circle cx="550.6" cy="1065.6" r="7.6"/><circle cx="553.6" cy="1065.5" r="7.6"/><circle cx="556.5" cy="1065.3" r="7.6"/><circle cx="559.2" cy="1064" r="7.6"/><circle cx="561.9" cy="1061.3" r="7.6"/><circle cx="564.6" cy="1061" r="7.6"/><circle cx="567.1" cy="1059.7" r="7.6"/><circle cx="570.8" cy="1058.5" r="7.6"/><circle cx="574.3" cy="1057.4" r="7.6"/><circle cx="577.8" cy="1056.5" r="7.6"/><circle cx="581" cy="1055" r="7.6"/><circle cx="584.2" cy="1053.2" r="7.6"/><circle cx="587.3" cy="1052.6" r="7.6"/><circle cx="590.2" cy="1049.4" r="7.6"/><circle cx="593.1" cy="1049.6" r="7.6"/><circle cx="595.9" cy="1046.4" r="7.6"/><circle cx="598.6" cy="1047.3" r="7.6"/><circle cx="601.2" cy="1043.8" r="7.6"/><circle cx="603.7" cy="1044.4" r="7.6"/><circle cx="607" cy="1042.7" r="7.6"/><circle cx="610.2" cy="1040.4" r="7.6"/><circle cx="613.2" cy="1040.5" r="7.6"/><circle cx="616.2" cy="1038.5" r="7.6"/><circle cx="619" cy="1036.7" r="7.6"/><circle cx="621.8" cy="1035" r="7.6"/><circle cx="624.5" cy="1034.1" r="7.6"/><circle cx="627.1" cy="1030.6" r="7.6"/><circle cx="629.7" cy="1030.3" r="7.6"/><circle cx="632.7" cy="1028.1" r="7.6"/><circle cx="635.7" cy="1026.8" r="7.6"/><circle cx="638.6" cy="1024.8" r="7.6"/><circle cx="641.4" cy="1024.4" r="7.6"/><circle cx="644.1" cy="1021.6" r="7.6"/><circle cx="646.7" cy="1021" r="7.6"/><circle cx="649.2" cy="1019.6" r="7.6"/><circle cx="652.2" cy="1015.9" r="7.6"/><circle cx="655.1" cy="1015.8" r="7.6"/><circle cx="657.9" cy="1014" r="7.6"/><circle cx="660.6" cy="1011.6" r="7.6"/><circle cx="663.2" cy="1009.3" r="7.6"/><circle cx="665.7" cy="1008" r="7.6"/><circle cx="668.6" cy="1007.1" r="7.6"/><circle cx="671.4" cy="1005.8" r="7.6"/><circle cx="674.1" cy="1002.2" r="7.6"/><circle cx="676.7" cy="1003.4" r="7.6"/><circle cx="679.3" cy="999.7" r="7.6"/><circle cx="682.1" cy="999.2" r="7.6"/></g>
<path d="M150.2 1096.7 248.8 1092.8 294.7 1094.1 324.9 1089.8 347.4 1087.3 365.4 1093.2 380.4 1090.6 393.3 1088.1 404.5 1087.1 414.5 1087.4 423.5 1086.3 431.7 1084.1 439.1 1086 446.1 1085.4 452.5 1087.3 458.5 1085.1 464.1 1086.4 469.4 1085.5 474.3 1085.3 479.1 1082.5 483.6 1082.8 487.8 1081.9 491.9 1080.2 495.8 1079.3 499.6 1079.8 503.1 1078.6 506.6 1077.8 509.9 1076.3 513.1 1075 516.2 1074.2 519.2 1073.5 522.1 1072.7 524.9 1072.3 527.6 1071.4 530.3 1069.3 532.8 1069.3 537.8 1068.5 542.4 1065 546.9 1064.8 551.1 1063 555.1 1061.8 559 1059.9 562.7 1057.7 566.2 1057.8 569.7 1054.8 573 1053.6 576.1 1052.5 579.2 1050.5 582.2 1048.8 585 1049 587.8 1047.5 590.5 1045.8 593.2 1044 595.7 1044.4 599.4 1041.2 602.9 1039.6 606.3 1038.2 609.6 1036.2 612.8 1034.6 615.9 1033.9 618.8 1030.7 621.7 1031.2 624.5 1028.3 627.2 1027.2 629.8 1027.6 632.3 1024.4 635.6 1023.6 638.8 1022.1 641.8 1019.6 644.8 1019.3 647.6 1016.8 650.4 1016.6 653.1 1016.7 655.7 1012.9 658.2 1010.9 661.3 1010.4 664.3 1007.5 667.2 1007.3 670 1004.9 672.7 1003.9 675.3 1002.9 677.8 1000.8 680.8 998.3 683.7 997.6 686.5 996.5 689.2 994.5 691.8 992.5 694.3 990.4 697.2 990.1 700 988.4 702.7 986.2 705.3 983.7 707.9 982.8 710.7 980.2" fill="none" stroke="#10a8e8" stroke-width="2.2" stroke-linejoin="round" stroke-linecap="round"/>
<g fill="#10a8e8"><circle cx="150.2" cy="1096.7" r="7.6"/><circle cx="248.8" cy="1092.8" r="7.6"/><circle cx="294.7" cy="1094.1" r="7.6"/><circle cx="324.9" cy="1089.8" r="7.6"/><circle cx="347.4" cy="1087.3" r="7.6"/><circle cx="365.4" cy="1093.2" r="7.6"/><circle cx="380.4" cy="1090.6" r="7.6"/><circle cx="393.3" cy="1088.1" r="7.6"/><circle cx="404.5" cy="1087.1" r="7.6"/><circle cx="414.5" cy="1087.4" r="7.6"/><circle cx="423.5" cy="1086.3" r="7.6"/><circle cx="431.7" cy="1084.1" r="7.6"/><circle cx="439.1" cy="1086" r="7.6"/><circle cx="446.1" cy="1085.4" r="7.6"/><circle cx="452.5" cy="1087.3" r="7.6"/><circle cx="458.5" cy="1085.1" r="7.6"/><circle cx="464.1" cy="1086.4" r="7.6"/><circle cx="469.4" cy="1085.5" r="7.6"/><circle cx="474.3" cy="1085.3" r="7.6"/><circle cx="479.1" cy="1082.5" r="7.6"/><circle cx="483.6" cy="1082.8" r="7.6"/><circle cx="487.8" cy="1081.9" r="7.6"/><circle cx="491.9" cy="1080.2" r="7.6"/><circle cx="495.8" cy="1079.3" r="7.6"/><circle cx="499.6" cy="1079.8" r="7.6"/><circle cx="503.1" cy="1078.6" r="7.6"/><circle cx="506.6" cy="1077.8" r="7.6"/><circle cx="509.9" cy="1076.3" r="7.6"/><circle cx="513.1" cy="1075" r="7.6"/><circle cx="516.2" cy="1074.2" r="7.6"/><circle cx="519.2" cy="1073.5" r="7.6"/><circle cx="522.1" cy="1072.7" r="7.6"/><circle cx="524.9" cy="1072.3" r="7.6"/><circle cx="527.6" cy="1071.4" r="7.6"/><circle cx="530.3" cy="1069.3" r="7.6"/><circle cx="532.8" cy="1069.3" r="7.6"/><circle cx="537.8" cy="1068.5" r="7.6"/><circle cx="542.4" cy="1065" r="7.6"/><circle cx="546.9" cy="1064.8" r="7.6"/><circle cx="551.1" cy="1063" r="7.6"/><circle cx="555.1" cy="1061.8" r="7.6"/><circle cx="559" cy="1059.9" r="7.6"/><circle cx="562.7" cy="1057.7" r="7.6"/><circle cx="566.2" cy="1057.8" r="7.6"/><circle cx="569.7" cy="1054.8" r="7.6"/><circle cx="573" cy="1053.6" r="7.6"/><circle cx="576.1" cy="1052.5" r="7.6"/><circle cx="579.2" cy="1050.5" r="7.6"/><circle cx="582.2" cy="1048.8" r="7.6"/><circle cx="585" cy="1049" r="7.6"/><circle cx="587.8" cy="1047.5" r="7.6"/><circle cx="590.5" cy="1045.8" r="7.6"/><circle cx="593.2" cy="1044" r="7.6"/><circle cx="595.7" cy="1044.4" r="7.6"/><circle cx="599.4" cy="1041.2" r="7.6"/><circle cx="602.9" cy="1039.6" r="7.6"/><circle cx="606.3" cy="1038.2" r="7.6"/><circle cx="609.6" cy="1036.2" r="7.6"/><circle cx="612.8" cy="1034.6" r="7.6"/><circle cx="615.9" cy="1033.9" r="7.6"/><circle cx="618.8" cy="1030.7" r="7.6"/><circle cx="621.7" cy="1031.2" r="7.6"/><circle cx="624.5" cy="1028.3" r="7.6"/><circle cx="627.2" cy="1027.2" r="7.6"/><circle cx="629.8" cy="1027.6" r="7.6"/><circle cx="632.3" cy="1024.4" r="7.6"/><circle cx="635.6" cy="1023.6" r="7.6"/><circle cx="638.8" cy="1022.1" r="7.6"/><circle cx="641.8" cy="1019.6" r="7.6"/><circle cx="644.8" cy="1019.3" r="7.6"/><circle cx="647.6" cy="1016.8" r="7.6"/><circle cx="650.4" cy="1016.6" r="7.6"/><circle cx="653.1" cy="1016.7" r="7.6"/><circle cx="655.7" cy="1012.9" r="7.6"/><circle cx="658.2" cy="1010.9" r="7.6"/><circle cx="661.3" cy="1010.4" r="7.6"/><circle cx="664.3" cy="1007.5" r="7.6"/><circle cx="667.2" cy="1007.3" r="7.6"/><circle cx="670" cy="1004.9" r="7.6"/><circle cx="672.7" cy="1003.9" r="7.6"/><circle cx="675.3" cy="1002.9" r="7.6"/><circle cx="677.8" cy="1000.8" r="7.6"/><circle cx="680.8" cy="998.3" r="7.6"/><circle cx="683.7" cy="997.6" r="7.6"/><circle cx="686.5" cy="996.5" r="7.6"/><circle cx="689.2" cy="994.5" r="7.6"/><circle cx="691.8" cy="992.5" r="7.6"/><circle cx="694.3" cy="990.4" r="7.6"/><circle cx="697.2" cy="990.1" r="7.6"/><circle cx="700" cy="988.4" r="7.6"/><circle cx="702.7" cy="986.2" r="7.6"/><circle cx="705.3" cy="983.7" r="7.6"/><circle cx="707.9" cy="982.8" r="7.6"/><circle cx="710.7" cy="980.2" r="7.6"/></g>
<path d="M176 1099.9 274.6 1098.7 320.5 1096.4 350.7 1095.4 373.3 1092.4 391.3 1095.2 406.3 1094 419.1 1093.7 430.4 1093.4 440.3 1092 449.3 1092 457.5 1092.6 465 1092.4 471.9 1092 478.3 1090.6 484.3 1088.7 489.9 1087.6 495.2 1086.5 500.2 1085.4 504.9 1084.7 509.4 1083.4 513.7 1083 517.7 1080.2 521.6 1078.5 525.4 1078.1 529 1074.7 532.4 1074 535.8 1072.8 539 1072.1 542.1 1070.9 545 1069.4 547.9 1069.5 550.7 1066.5 553.5 1066 556.1 1064.1 558.7 1062.7 563.6 1059.9 568.3 1057.4 572.7 1053.2 576.9 1055 581 1049.5 584.8 1048.7 588.5 1046 592.1 1045.2 595.5 1042 598.8 1040.6 602 1039.8 605 1039.2 608 1038 610.9 1036.7 613.7 1033.6 616.4 1032.5 619 1032.7 621.5 1031.1 625.2 1028 628.8 1027.6 632.2 1025.6 635.5 1023.9 638.6 1020.3 641.7 1020.3 644.6 1017.5 647.5 1016.5 650.3 1012.3 653 1012.2 655.6 1011.2 658.1 1011 661.4 1006.8 664.6 1005.4 667.6 1003.5 670.6 1001.8 673.4 1000 676.2 997.4 678.9 997.5 681.5 995.3 684.1 992.5 687.1 992.3 690.1 988.9 693 987 695.8 986.3 698.5 983.9 701.1 982.2 703.7 980.5 706.6 979.5 709.5 976.6 712.3 977.2 715 974.5 717.6 973.1 720.1 970.8 723 969.7 725.8 968.3 728.5 966.1 731.2 965.6 733.7 964.9 736.5 963.1" fill="none" stroke="#0000cc" stroke-width="2.2" stroke-linejoin="round" stroke-linecap="round"/>
<g fill="#0000cc"><circle cx="176" cy="1099.9" r="7.6"/><circle cx="274.6" cy="1098.7" r="7.6"/><circle cx="320.5" cy="1096.4" r="7.6"/><circle cx="350.7" cy="1095.4" r="7.6"/><circle cx="373.3" cy="1092.4" r="7.6"/><circle cx="391.3" cy="1095.2" r="7.6"/><circle cx="406.3" cy="1094" r="7.6"/><circle cx="419.1" cy="1093.7" r="7.6"/><circle cx="430.4" cy="1093.4" r="7.6"/><circle cx="440.3" cy="1092" r="7.6"/><circle cx="449.3" cy="1092" r="7.6"/><circle cx="457.5" cy="1092.6" r="7.6"/><circle cx="465" cy="1092.4" r="7.6"/><circle cx="471.9" cy="1092" r="7.6"/><circle cx="478.3" cy="1090.6" r="7.6"/><circle cx="484.3" cy="1088.7" r="7.6"/><circle cx="489.9" cy="1087.6" r="7.6"/><circle cx="495.2" cy="1086.5" r="7.6"/><circle cx="500.2" cy="1085.4" r="7.6"/><circle cx="504.9" cy="1084.7" r="7.6"/><circle cx="509.4" cy="1083.4" r="7.6"/><circle cx="513.7" cy="1083" r="7.6"/><circle cx="517.7" cy="1080.2" r="7.6"/><circle cx="521.6" cy="1078.5" r="7.6"/><circle cx="525.4" cy="1078.1" r="7.6"/><circle cx="529" cy="1074.7" r="7.6"/><circle cx="532.4" cy="1074" r="7.6"/><circle cx="535.8" cy="1072.8" r="7.6"/><circle cx="539" cy="1072.1" r="7.6"/><circle cx="542.1" cy="1070.9" r="7.6"/><circle cx="545" cy="1069.4" r="7.6"/><circle cx="547.9" cy="1069.5" r="7.6"/><circle cx="550.7" cy="1066.5" r="7.6"/><circle cx="553.5" cy="1066" r="7.6"/><circle cx="556.1" cy="1064.1" r="7.6"/><circle cx="558.7" cy="1062.7" r="7.6"/><circle cx="563.6" cy="1059.9" r="7.6"/><circle cx="568.3" cy="1057.4" r="7.6"/><circle cx="572.7" cy="1053.2" r="7.6"/><circle cx="576.9" cy="1055" r="7.6"/><circle cx="581" cy="1049.5" r="7.6"/><circle cx="584.8" cy="1048.7" r="7.6"/><circle cx="588.5" cy="1046" r="7.6"/><circle cx="592.1" cy="1045.2" r="7.6"/><circle cx="595.5" cy="1042" r="7.6"/><circle cx="598.8" cy="1040.6" r="7.6"/><circle cx="602" cy="1039.8" r="7.6"/><circle cx="605" cy="1039.2" r="7.6"/><circle cx="608" cy="1038" r="7.6"/><circle cx="610.9" cy="1036.7" r="7.6"/><circle cx="613.7" cy="1033.6" r="7.6"/><circle cx="616.4" cy="1032.5" r="7.6"/><circle cx="619" cy="1032.7" r="7.6"/><circle cx="621.5" cy="1031.1" r="7.6"/><circle cx="625.2" cy="1028" r="7.6"/><circle cx="628.8" cy="1027.6" r="7.6"/><circle cx="632.2" cy="1025.6" r="7.6"/><circle cx="635.5" cy="1023.9" r="7.6"/><circle cx="638.6" cy="1020.3" r="7.6"/><circle cx="641.7" cy="1020.3" r="7.6"/><circle cx="644.6" cy="1017.5" r="7.6"/><circle cx="647.5" cy="1016.5" r="7.6"/><circle cx="650.3" cy="1012.3" r="7.6"/><circle cx="653" cy="1012.2" r="7.6"/><circle cx="655.6" cy="1011.2" r="7.6"/><circle cx="658.1" cy="1011" r="7.6"/><circle cx="661.4" cy="1006.8" r="7.6"/><circle cx="664.6" cy="1005.4" r="7.6"/><circle cx="667.6" cy="1003.5" r="7.6"/><circle cx="670.6" cy="1001.8" r="7.6"/><circle cx="673.4" cy="1000" r="7.6"/><circle cx="676.2" cy="997.4" r="7.6"/><circle cx="678.9" cy="997.5" r="7.6"/><circle cx="681.5" cy="995.3" r="7.6"/><circle cx="684.1" cy="992.5" r="7.6"/><circle cx="687.1" cy="992.3" r="7.6"/><circle cx="690.1" cy="988.9" r="7.6"/><circle cx="693" cy="987" r="7.6"/><circle cx="695.8" cy="986.3" r="7.6"/><circle cx="698.5" cy="983.9" r="7.6"/><circle cx="701.1" cy="982.2" r="7.6"/><circle cx="703.7" cy="980.5" r="7.6"/><circle cx="706.6" cy="979.5" r="7.6"/><circle cx="709.5" cy="976.6" r="7.6"/><circle cx="712.3" cy="977.2" r="7.6"/><circle cx="715" cy="974.5" r="7.6"/><circle cx="717.6" cy="973.1" r="7.6"/><circle cx="720.1" cy="970.8" r="7.6"/><circle cx="723" cy="969.7" r="7.6"/><circle cx="725.8" cy="968.3" r="7.6"/><circle cx="728.5" cy="966.1" r="7.6"/><circle cx="731.2" cy="965.6" r="7.6"/><circle cx="733.7" cy="964.9" r="7.6"/><circle cx="736.5" cy="963.1" r="7.6"/></g>
<path d="M427.7 1100.5 442.7 1098.1 455.5 1094.6 466.7 1094.8 476.7 1095 485.7 1091.7 493.9 1091 501.4 1090.6 508.3 1088.7 514.7 1087.3 520.7 1084.3 526.3 1082.3 531.6 1080 536.6 1079.8 541.3 1077.4 545.8 1074.2 550.1 1073.2 554.1 1072.2 558 1070.1 561.8 1066 565.4 1065 568.8 1062 572.1 1060.8 575.4 1057 578.5 1056.7 581.4 1054.3 584.3 1053.9 587.1 1050.9 589.9 1048.3 592.5 1048.4 595.1 1046.1 600 1043.4 604.7 1040.9 609.1 1038.2 613.3 1035.3 617.3 1032.9 621.2 1031.4 624.9 1030.1 628.5 1027.5 631.9 1023.5 635.2 1024 638.4 1022.2 641.4 1020.1 644.4 1017.7 647.3 1015.9 650.1 1015.7 652.8 1012.2 655.4 1011.2 657.9 1009.8 661.6 1006.6 665.2 1003 668.6 1003.6 671.9 1002.9 675 998.6 678.1 996.5 681 996.2 683.9 993.6 686.7 993 689.4 989.7 692 989.8 694.5 986.8 697.8 986.9 701 985.1 704 982.3 707 980.1 709.8 977.9 712.6 976 715.3 972.8 717.9 971.8 720.5 968.5 723.5 966.2 726.5 966.6 729.4 963.4 732.2 962 734.9 958.8 737.5 958.9 740.1 957.4 743 956.1 745.9 955.2 748.7 954.6 751.4 953.2 754 951.6 756.5 949.9 759.4 948.7 762.2 946 764.9 945.1 767.6 944.7 770.1 942.4 772.9 939.8" fill="none" stroke="#9a22d8" stroke-width="2.2" stroke-linejoin="round" stroke-linecap="round"/>
<g fill="#9a22d8"><circle cx="427.7" cy="1100.5" r="7.6"/><circle cx="442.7" cy="1098.1" r="7.6"/><circle cx="455.5" cy="1094.6" r="7.6"/><circle cx="466.7" cy="1094.8" r="7.6"/><circle cx="476.7" cy="1095" r="7.6"/><circle cx="485.7" cy="1091.7" r="7.6"/><circle cx="493.9" cy="1091" r="7.6"/><circle cx="501.4" cy="1090.6" r="7.6"/><circle cx="508.3" cy="1088.7" r="7.6"/><circle cx="514.7" cy="1087.3" r="7.6"/><circle cx="520.7" cy="1084.3" r="7.6"/><circle cx="526.3" cy="1082.3" r="7.6"/><circle cx="531.6" cy="1080" r="7.6"/><circle cx="536.6" cy="1079.8" r="7.6"/><circle cx="541.3" cy="1077.4" r="7.6"/><circle cx="545.8" cy="1074.2" r="7.6"/><circle cx="550.1" cy="1073.2" r="7.6"/><circle cx="554.1" cy="1072.2" r="7.6"/><circle cx="558" cy="1070.1" r="7.6"/><circle cx="561.8" cy="1066" r="7.6"/><circle cx="565.4" cy="1065" r="7.6"/><circle cx="568.8" cy="1062" r="7.6"/><circle cx="572.1" cy="1060.8" r="7.6"/><circle cx="575.4" cy="1057" r="7.6"/><circle cx="578.5" cy="1056.7" r="7.6"/><circle cx="581.4" cy="1054.3" r="7.6"/><circle cx="584.3" cy="1053.9" r="7.6"/><circle cx="587.1" cy="1050.9" r="7.6"/><circle cx="589.9" cy="1048.3" r="7.6"/><circle cx="592.5" cy="1048.4" r="7.6"/><circle cx="595.1" cy="1046.1" r="7.6"/><circle cx="600" cy="1043.4" r="7.6"/><circle cx="604.7" cy="1040.9" r="7.6"/><circle cx="609.1" cy="1038.2" r="7.6"/><circle cx="613.3" cy="1035.3" r="7.6"/><circle cx="617.3" cy="1032.9" r="7.6"/><circle cx="621.2" cy="1031.4" r="7.6"/><circle cx="624.9" cy="1030.1" r="7.6"/><circle cx="628.5" cy="1027.5" r="7.6"/><circle cx="631.9" cy="1023.5" r="7.6"/><circle cx="635.2" cy="1024" r="7.6"/><circle cx="638.4" cy="1022.2" r="7.6"/><circle cx="641.4" cy="1020.1" r="7.6"/><circle cx="644.4" cy="1017.7" r="7.6"/><circle cx="647.3" cy="1015.9" r="7.6"/><circle cx="650.1" cy="1015.7" r="7.6"/><circle cx="652.8" cy="1012.2" r="7.6"/><circle cx="655.4" cy="1011.2" r="7.6"/><circle cx="657.9" cy="1009.8" r="7.6"/><circle cx="661.6" cy="1006.6" r="7.6"/><circle cx="665.2" cy="1003" r="7.6"/><circle cx="668.6" cy="1003.6" r="7.6"/><circle cx="671.9" cy="1002.9" r="7.6"/><circle cx="675" cy="998.6" r="7.6"/><circle cx="678.1" cy="996.5" r="7.6"/><circle cx="681" cy="996.2" r="7.6"/><circle cx="683.9" cy="993.6" r="7.6"/><circle cx="686.7" cy="993" r="7.6"/><circle cx="689.4" cy="989.7" r="7.6"/><circle cx="692" cy="989.8" r="7.6"/><circle cx="694.5" cy="986.8" r="7.6"/><circle cx="697.8" cy="986.9" r="7.6"/><circle cx="701" cy="985.1" r="7.6"/><circle cx="704" cy="982.3" r="7.6"/><circle cx="707" cy="980.1" r="7.6"/><circle cx="709.8" cy="977.9" r="7.6"/><circle cx="712.6" cy="976" r="7.6"/><circle cx="715.3" cy="972.8" r="7.6"/><circle cx="717.9" cy="971.8" r="7.6"/><circle cx="720.5" cy="968.5" r="7.6"/><circle cx="723.5" cy="966.2" r="7.6"/><circle cx="726.5" cy="966.6" r="7.6"/><circle cx="729.4" cy="963.4" r="7.6"/><circle cx="732.2" cy="962" r="7.6"/><circle cx="734.9" cy="958.8" r="7.6"/><circle cx="737.5" cy="958.9" r="7.6"/><circle cx="740.1" cy="957.4" r="7.6"/><circle cx="743" cy="956.1" r="7.6"/><circle cx="745.9" cy="955.2" r="7.6"/><circle cx="748.7" cy="954.6" r="7.6"/><circle cx="751.4" cy="953.2" r="7.6"/><circle cx="754" cy="951.6" r="7.6"/><circle cx="756.5" cy="949.9" r="7.6"/><circle cx="759.4" cy="948.7" r="7.6"/><circle cx="762.2" cy="946" r="7.6"/><circle cx="764.9" cy="945.1" r="7.6"/><circle cx="767.6" cy="944.7" r="7.6"/><circle cx="770.1" cy="942.4" r="7.6"/><circle cx="772.9" cy="939.8" r="7.6"/></g>
<path d="M274.6 1092.1 373.3 1087.4 419.1 1083.5 449.3 1079.5 471.9 1082.2 489.9 1085.1 504.9 1088.7 517.7 1087.1 529 1088.1 539 1085 547.9 1080.8 556.1 1077 563.6 1075.7 570.5 1072.7 576.9 1071.3 582.9 1068 588.5 1065.4 593.8 1064.1 598.8 1060.1 603.5 1059.2 608 1056.7 612.3 1052.8 616.4 1052.3 620.3 1049.8 624 1049.4 627.6 1046.5 631 1043.6 634.4 1042.7 637.6 1042.5 640.7 1040.9 643.7 1039.4 646.6 1037.9 649.4 1036.8 652.1 1033.2 654.7 1033.5 657.3 1029.9 662.2 1027.7 666.9 1024.4 671.3 1020.2 675.5 1018.9 679.6 1016.9 683.4 1011.7 687.1 1011.8 690.7 1009.2 694.1 1006.2 697.4 1002.9 700.6 997.8 703.7 994.5 706.6 987.8 709.5 984.2 712.3 983.4 715 981.7 717.6 980.1 720.1 980 723.8 977.3 727.4 975.9 730.8 972.8 734.1 971.7 737.2 969.5 740.3 965.3 743.3 964.5 746.1 962.2 748.9 961.2 751.6 956.2 754.2 956.6 756.8 951.8 760 949.5 763.2 948 766.3 943.4 769.2 943.9 772.1 941.1 774.8 941.1 777.5 937.1 780.1 935.9 782.7 935.7 785.8 935 788.7 934 791.6 933.3 794.4 931.3 797.1 929 799.7 927.8 802.3 924.3 805.2 923.1 808.1 921.8 810.9 920.5 813.6 916.4 816.2 916 818.8 913.1 821.7 911.3 824.4 911.3 827.2 908.9 829.8 907.9 832.3 905.1 835.2 906.9" fill="none" stroke="#f0148a" stroke-width="2.2" stroke-linejoin="round" stroke-linecap="round"/>
<g fill="#f0148a"><circle cx="274.6" cy="1092.1" r="7.6"/><circle cx="373.3" cy="1087.4" r="7.6"/><circle cx="419.1" cy="1083.5" r="7.6"/><circle cx="449.3" cy="1079.5" r="7.6"/><circle cx="471.9" cy="1082.2" r="7.6"/><circle cx="489.9" cy="1085.1" r="7.6"/><circle cx="504.9" cy="1088.7" r="7.6"/><circle cx="517.7" cy="1087.1" r="7.6"/><circle cx="529" cy="1088.1" r="7.6"/><circle cx="539" cy="1085" r="7.6"/><circle cx="547.9" cy="1080.8" r="7.6"/><circle cx="556.1" cy="1077" r="7.6"/><circle cx="563.6" cy="1075.7" r="7.6"/><circle cx="570.5" cy="1072.7" r="7.6"/><circle cx="576.9" cy="1071.3" r="7.6"/><circle cx="582.9" cy="1068" r="7.6"/><circle cx="588.5" cy="1065.4" r="7.6"/><circle cx="593.8" cy="1064.1" r="7.6"/><circle cx="598.8" cy="1060.1" r="7.6"/><circle cx="603.5" cy="1059.2" r="7.6"/><circle cx="608" cy="1056.7" r="7.6"/><circle cx="612.3" cy="1052.8" r="7.6"/><circle cx="616.4" cy="1052.3" r="7.6"/><circle cx="620.3" cy="1049.8" r="7.6"/><circle cx="624" cy="1049.4" r="7.6"/><circle cx="627.6" cy="1046.5" r="7.6"/><circle cx="631" cy="1043.6" r="7.6"/><circle cx="634.4" cy="1042.7" r="7.6"/><circle cx="637.6" cy="1042.5" r="7.6"/><circle cx="640.7" cy="1040.9" r="7.6"/><circle cx="643.7" cy="1039.4" r="7.6"/><circle cx="646.6" cy="1037.9" r="7.6"/><circle cx="649.4" cy="1036.8" r="7.6"/><circle cx="652.1" cy="1033.2" r="7.6"/><circle cx="654.7" cy="1033.5" r="7.6"/><circle cx="657.3" cy="1029.9" r="7.6"/><circle cx="662.2" cy="1027.7" r="7.6"/><circle cx="666.9" cy="1024.4" r="7.6"/><circle cx="671.3" cy="1020.2" r="7.6"/><circle cx="675.5" cy="1018.9" r="7.6"/><circle cx="679.6" cy="1016.9" r="7.6"/><circle cx="683.4" cy="1011.7" r="7.6"/><circle cx="687.1" cy="1011.8" r="7.6"/><circle cx="690.7" cy="1009.2" r="7.6"/><circle cx="694.1" cy="1006.2" r="7.6"/><circle cx="697.4" cy="1002.9" r="7.6"/><circle cx="700.6" cy="997.8" r="7.6"/><circle cx="703.7" cy="994.5" r="7.6"/><circle cx="706.6" cy="987.8" r="7.6"/><circle cx="709.5" cy="984.2" r="7.6"/><circle cx="712.3" cy="983.4" r="7.6"/><circle cx="715" cy="981.7" r="7.6"/><circle cx="717.6" cy="980.1" r="7.6"/><circle cx="720.1" cy="980" r="7.6"/><circle cx="723.8" cy="977.3" r="7.6"/><circle cx="727.4" cy="975.9" r="7.6"/><circle cx="730.8" cy="972.8" r="7.6"/><circle cx="734.1" cy="971.7" r="7.6"/><circle cx="737.2" cy="969.5" r="7.6"/><circle cx="740.3" cy="965.3" r="7.6"/><circle cx="743.3" cy="964.5" r="7.6"/><circle cx="746.1" cy="962.2" r="7.6"/><circle cx="748.9" cy="961.2" r="7.6"/><circle cx="751.6" cy="956.2" r="7.6"/><circle cx="754.2" cy="956.6" r="7.6"/><circle cx="756.8" cy="951.8" r="7.6"/><circle cx="760" cy="949.5" r="7.6"/><circle cx="763.2" cy="948" r="7.6"/><circle cx="766.3" cy="943.4" r="7.6"/><circle cx="769.2" cy="943.9" r="7.6"/><circle cx="772.1" cy="941.1" r="7.6"/><circle cx="774.8" cy="941.1" r="7.6"/><circle cx="777.5" cy="937.1" r="7.6"/><circle cx="780.1" cy="935.9" r="7.6"/><circle cx="782.7" cy="935.7" r="7.6"/><circle cx="785.8" cy="935" r="7.6"/><circle cx="788.7" cy="934" r="7.6"/><circle cx="791.6" cy="933.3" r="7.6"/><circle cx="794.4" cy="931.3" r="7.6"/><circle cx="797.1" cy="929" r="7.6"/><circle cx="799.7" cy="927.8" r="7.6"/><circle cx="802.3" cy="924.3" r="7.6"/><circle cx="805.2" cy="923.1" r="7.6"/><circle cx="808.1" cy="921.8" r="7.6"/><circle cx="810.9" cy="920.5" r="7.6"/><circle cx="813.6" cy="916.4" r="7.6"/><circle cx="816.2" cy="916" r="7.6"/><circle cx="818.8" cy="913.1" r="7.6"/><circle cx="821.7" cy="911.3" r="7.6"/><circle cx="824.4" cy="911.3" r="7.6"/><circle cx="827.2" cy="908.9" r="7.6"/><circle cx="829.8" cy="907.9" r="7.6"/><circle cx="832.3" cy="905.1" r="7.6"/><circle cx="835.2" cy="906.9" r="7.6"/></g>
<path d="M336.9 1084.4 435.5 1081 481.3 1078 511.5 1075.4 534.1 1073.8 552.1 1069 567.1 1065.4 580 1062.3 591.2 1059.6 601.2 1056 610.2 1052.4 618.3 1049.1 625.8 1045.5 632.7 1043.4 639.1 1039.7 645.1 1037.8 650.7 1034.2 656 1032.2 661 1029.9 665.7 1027.1 670.2 1024.7 674.5 1021.5 678.6 1019.8 682.5 1016.6 686.2 1014.8 689.8 1013.2 693.3 1009.1 696.6 1007.5 699.8 1007 702.9 1005.1 705.9 1003 708.8 1002.1 711.6 999.7 714.3 998.2 717 997.3 719.5 996.4 724.4 992.1 729.1 989.7 733.5 986.1 737.8 983 741.8 982.6 745.7 978.2 749.4 977.7 752.9 974.1 756.3 972.4 759.6 967.3 762.8 965.3 765.9 964.2 768.8 961.8 771.7 959 774.5 954.5 777.2 954.1 779.8 952.7 782.4 951.1 786.1 947.8 789.6 945.4 793 942.4 796.3 939.9 799.5 936.7 802.5 934.9 805.5 934.1 808.4 930.6 811.1 927.4 813.8 925 816.4 923.4 819 920.3 822.3 916.3 825.4 913.1 828.5 907.2 831.4 903.4 834.3 901.5 837.1 898.8 839.8 897.6 842.4 895.5 844.9 892.5 848 890.9 851 888 853.8 889.5 856.6 884 859.3 882.7 861.9 880.1 864.5 879.1 867.5 877.3 870.3 875.3 873.1 872.7 875.8 871.8 878.4 870.8 881 867.6 883.9 868.2 886.7 863.5 889.4 862.9 892 861.3 894.6 859.2 897.4 858.2" fill="none" stroke="#c00000" stroke-width="2.2" stroke-linejoin="round" stroke-linecap="round"/>
<g fill="#c00000"><circle cx="336.9" cy="1084.4" r="7.6"/><circle cx="435.5" cy="1081" r="7.6"/><circle cx="481.3" cy="1078" r="7.6"/><circle cx="511.5" cy="1075.4" r="7.6"/><circle cx="534.1" cy="1073.8" r="7.6"/><circle cx="552.1" cy="1069" r="7.6"/><circle cx="567.1" cy="1065.4" r="7.6"/><circle cx="580" cy="1062.3" r="7.6"/><circle cx="591.2" cy="1059.6" r="7.6"/><circle cx="601.2" cy="1056" r="7.6"/><circle cx="610.2" cy="1052.4" r="7.6"/><circle cx="618.3" cy="1049.1" r="7.6"/><circle cx="625.8" cy="1045.5" r="7.6"/><circle cx="632.7" cy="1043.4" r="7.6"/><circle cx="639.1" cy="1039.7" r="7.6"/><circle cx="645.1" cy="1037.8" r="7.6"/><circle cx="650.7" cy="1034.2" r="7.6"/><circle cx="656" cy="1032.2" r="7.6"/><circle cx="661" cy="1029.9" r="7.6"/><circle cx="665.7" cy="1027.1" r="7.6"/><circle cx="670.2" cy="1024.7" r="7.6"/><circle cx="674.5" cy="1021.5" r="7.6"/><circle cx="678.6" cy="1019.8" r="7.6"/><circle cx="682.5" cy="1016.6" r="7.6"/><circle cx="686.2" cy="1014.8" r="7.6"/><circle cx="689.8" cy="1013.2" r="7.6"/><circle cx="693.3" cy="1009.1" r="7.6"/><circle cx="696.6" cy="1007.5" r="7.6"/><circle cx="699.8" cy="1007" r="7.6"/><circle cx="702.9" cy="1005.1" r="7.6"/><circle cx="705.9" cy="1003" r="7.6"/><circle cx="708.8" cy="1002.1" r="7.6"/><circle cx="711.6" cy="999.7" r="7.6"/><circle cx="714.3" cy="998.2" r="7.6"/><circle cx="717" cy="997.3" r="7.6"/><circle cx="719.5" cy="996.4" r="7.6"/><circle cx="724.4" cy="992.1" r="7.6"/><circle cx="729.1" cy="989.7" r="7.6"/><circle cx="733.5" cy="986.1" r="7.6"/><circle cx="737.8" cy="983" r="7.6"/><circle cx="741.8" cy="982.6" r="7.6"/><circle cx="745.7" cy="978.2" r="7.6"/><circle cx="749.4" cy="977.7" r="7.6"/><circle cx="752.9" cy="974.1" r="7.6"/><circle cx="756.3" cy="972.4" r="7.6"/><circle cx="759.6" cy="967.3" r="7.6"/><circle cx="762.8" cy="965.3" r="7.6"/><circle cx="765.9" cy="964.2" r="7.6"/><circle cx="768.8" cy="961.8" r="7.6"/><circle cx="771.7" cy="959" r="7.6"/><circle cx="774.5" cy="954.5" r="7.6"/><circle cx="777.2" cy="954.1" r="7.6"/><circle cx="779.8" cy="952.7" r="7.6"/><circle cx="782.4" cy="951.1" r="7.6"/><circle cx="786.1" cy="947.8" r="7.6"/><circle cx="789.6" cy="945.4" r="7.6"/><circle cx="793" cy="942.4" r="7.6"/><circle cx="796.3" cy="939.9" r="7.6"/><circle cx="799.5" cy="936.7" r="7.6"/><circle cx="802.5" cy="934.9" r="7.6"/><circle cx="805.5" cy="934.1" r="7.6"/><circle cx="808.4" cy="930.6" r="7.6"/><circle cx="811.1" cy="927.4" r="7.6"/><circle cx="813.8" cy="925" r="7.6"/><circle cx="816.4" cy="923.4" r="7.6"/><circle cx="819" cy="920.3" r="7.6"/><circle cx="822.3" cy="916.3" r="7.6"/><circle cx="825.4" cy="913.1" r="7.6"/><circle cx="828.5" cy="907.2" r="7.6"/><circle cx="831.4" cy="903.4" r="7.6"/><circle cx="834.3" cy="901.5" r="7.6"/><circle cx="837.1" cy="898.8" r="7.6"/><circle cx="839.8" cy="897.6" r="7.6"/><circle cx="842.4" cy="895.5" r="7.6"/><circle cx="844.9" cy="892.5" r="7.6"/><circle cx="848" cy="890.9" r="7.6"/><circle cx="851" cy="888" r="7.6"/><circle cx="853.8" cy="889.5" r="7.6"/><circle cx="856.6" cy="884" r="7.6"/><circle cx="859.3" cy="882.7" r="7.6"/><circle cx="861.9" cy="880.1" r="7.6"/><circle cx="864.5" cy="879.1" r="7.6"/><circle cx="867.5" cy="877.3" r="7.6"/><circle cx="870.3" cy="875.3" r="7.6"/><circle cx="873.1" cy="872.7" r="7.6"/><circle cx="875.8" cy="871.8" r="7.6"/><circle cx="878.4" cy="870.8" r="7.6"/><circle cx="881" cy="867.6" r="7.6"/><circle cx="883.9" cy="868.2" r="7.6"/><circle cx="886.7" cy="863.5" r="7.6"/><circle cx="889.4" cy="862.9" r="7.6"/><circle cx="892" cy="861.3" r="7.6"/><circle cx="894.6" cy="859.2" r="7.6"/><circle cx="897.4" cy="858.2" r="7.6"/></g>
<path d="M382.7 1088 481.3 1086.8 527.2 1068.6 557.4 1066.5 580 1049.8 598 1044.7 613 1037.9 625.8 1031.8 637.1 1026.3 647 1023.7 656 1018.8 664.2 1017.6 671.7 1013.7 678.6 1006 685 1004.8 691 999.6 696.6 996.6 701.9 993.1 706.9 990.2 711.6 988 716.1 984.3 720.4 982.3 724.4 978.5 728.3 977.3 732.1 973.2 735.7 971.8 739.1 968.8 742.5 968.1 745.7 965.7 748.8 964.3 751.7 963 754.6 961.7 757.4 961.1 760.2 956.6 762.8 955.9 765.4 953.1 770.3 950.2 775 946.5 779.4 943.1 783.6 940.3 787.7 938.8 791.5 932.7 795.2 930.4 798.8 928.2 802.2 925.5 805.5 921.7 808.7 919.7 811.7 917.7 814.7 914.5 817.6 913.8 820.4 910.1 823.1 909.3 825.7 907.1 828.2 904.3 831.9 902.2 835.5 899 838.9 898.2 842.2 894.3 845.3 892.3 848.4 891.3 851.3 887.9 854.2 886.9 857 885.3 859.7 881.3 862.3 880.9 864.8 879.7 868.1 878.4 871.3 874.8 874.3 873.2 877.3 871.1 880.1 868.2 882.9 866.8 885.6 865.6 888.2 861.8 890.8 860.1 893.8 857.9 896.8 855.9 899.7 853.6 902.5 851.9 905.2 849.6 907.8 846.8 910.4 844 913.3 842.8 916.2 841.5 919 840.8 921.7 837.8 924.3 835.5 926.8 834.4 929.7 832.3 932.5 829.7 935.2 827.3 937.9 823.4 940.4 820.8 943.2 817.9" fill="none" stroke="#000000" stroke-width="2.2" stroke-linejoin="round" stroke-linecap="round"/>
<g fill="#000000"><circle cx="382.7" cy="1088" r="7.6"/><circle cx="481.3" cy="1086.8" r="7.6"/><circle cx="527.2" cy="1068.6" r="7.6"/><circle cx="557.4" cy="1066.5" r="7.6"/><circle cx="580" cy="1049.8" r="7.6"/><circle cx="598" cy="1044.7" r="7.6"/><circle cx="613" cy="1037.9" r="7.6"/><circle cx="625.8" cy="1031.8" r="7.6"/><circle cx="637.1" cy="1026.3" r="7.6"/><circle cx="647" cy="1023.7" r="7.6"/><circle cx="656" cy="1018.8" r="7.6"/><circle cx="664.2" cy="1017.6" r="7.6"/><circle cx="671.7" cy="1013.7" r="7.6"/><circle cx="678.6" cy="1006" r="7.6"/><circle cx="685" cy="1004.8" r="7.6"/><circle cx="691" cy="999.6" r="7.6"/><circle cx="696.6" cy="996.6" r="7.6"/><circle cx="701.9" cy="993.1" r="7.6"/><circle cx="706.9" cy="990.2" r="7.6"/><circle cx="711.6" cy="988" r="7.6"/><circle cx="716.1" cy="984.3" r="7.6"/><circle cx="720.4" cy="982.3" r="7.6"/><circle cx="724.4" cy="978.5" r="7.6"/><circle cx="728.3" cy="977.3" r="7.6"/><circle cx="732.1" cy="973.2" r="7.6"/><circle cx="735.7" cy="971.8" r="7.6"/><circle cx="739.1" cy="968.8" r="7.6"/><circle cx="742.5" cy="968.1" r="7.6"/><circle cx="745.7" cy="965.7" r="7.6"/><circle cx="748.8" cy="964.3" r="7.6"/><circle cx="751.7" cy="963" r="7.6"/><circle cx="754.6" cy="961.7" r="7.6"/><circle cx="757.4" cy="961.1" r="7.6"/><circle cx="760.2" cy="956.6" r="7.6"/><circle cx="762.8" cy="955.9" r="7.6"/><circle cx="765.4" cy="953.1" r="7.6"/><circle cx="770.3" cy="950.2" r="7.6"/><circle cx="775" cy="946.5" r="7.6"/><circle cx="779.4" cy="943.1" r="7.6"/><circle cx="783.6" cy="940.3" r="7.6"/><circle cx="787.7" cy="938.8" r="7.6"/><circle cx="791.5" cy="932.7" r="7.6"/><circle cx="795.2" cy="930.4" r="7.6"/><circle cx="798.8" cy="928.2" r="7.6"/><circle cx="802.2" cy="925.5" r="7.6"/><circle cx="805.5" cy="921.7" r="7.6"/><circle cx="808.7" cy="919.7" r="7.6"/><circle cx="811.7" cy="917.7" r="7.6"/><circle cx="814.7" cy="914.5" r="7.6"/><circle cx="817.6" cy="913.8" r="7.6"/><circle cx="820.4" cy="910.1" r="7.6"/><circle cx="823.1" cy="909.3" r="7.6"/><circle cx="825.7" cy="907.1" r="7.6"/><circle cx="828.2" cy="904.3" r="7.6"/><circle cx="831.9" cy="902.2" r="7.6"/><circle cx="835.5" cy="899" r="7.6"/><circle cx="838.9" cy="898.2" r="7.6"/><circle cx="842.2" cy="894.3" r="7.6"/><circle cx="845.3" cy="892.3" r="7.6"/><circle cx="848.4" cy="891.3" r="7.6"/><circle cx="851.3" cy="887.9" r="7.6"/><circle cx="854.2" cy="886.9" r="7.6"/><circle cx="857" cy="885.3" r="7.6"/><circle cx="859.7" cy="881.3" r="7.6"/><circle cx="862.3" cy="880.9" r="7.6"/><circle cx="864.8" cy="879.7" r="7.6"/><circle cx="868.1" cy="878.4" r="7.6"/><circle cx="871.3" cy="874.8" r="7.6"/><circle cx="874.3" cy="873.2" r="7.6"/><circle cx="877.3" cy="871.1" r="7.6"/><circle cx="880.1" cy="868.2" r="7.6"/><circle cx="882.9" cy="866.8" r="7.6"/><circle cx="885.6" cy="865.6" r="7.6"/><circle cx="888.2" cy="861.8" r="7.6"/><circle cx="890.8" cy="860.1" r="7.6"/><circle cx="893.8" cy="857.9" r="7.6"/><circle cx="896.8" cy="855.9" r="7.6"/><circle cx="899.7" cy="853.6" r="7.6"/><circle cx="902.5" cy="851.9" r="7.6"/><circle cx="905.2" cy="849.6" r="7.6"/><circle cx="907.8" cy="846.8" r="7.6"/><circle cx="910.4" cy="844" r="7.6"/><circle cx="913.3" cy="842.8" r="7.6"/><circle cx="916.2" cy="841.5" r="7.6"/><circle cx="919" cy="840.8" r="7.6"/><circle cx="921.7" cy="837.8" r="7.6"/><circle cx="924.3" cy="835.5" r="7.6"/><circle cx="926.8" cy="834.4" r="7.6"/><circle cx="929.7" cy="832.3" r="7.6"/><circle cx="932.5" cy="829.7" r="7.6"/><circle cx="935.2" cy="827.3" r="7.6"/><circle cx="937.9" cy="823.4" r="7.6"/><circle cx="940.4" cy="820.8" r="7.6"/><circle cx="943.2" cy="817.9" r="7.6"/></g>
<line x1="120.8" y1="1278.2" x2="120.8" y2="1638" stroke="#000" stroke-width="2.6"/>
<line x1="120.8" y1="1628.7" x2="125.8" y2="1628.7" stroke="#000" stroke-width="1.5"/>
<line x1="120.8" y1="1620.2" x2="129.8" y2="1620.2" stroke="#000" stroke-width="1.5"/>
<line x1="120.8" y1="1611.7" x2="125.8" y2="1611.7" stroke="#000" stroke-width="1.5"/>
<line x1="120.8" y1="1603.2" x2="125.8" y2="1603.2" stroke="#000" stroke-width="1.5"/>
<line x1="120.8" y1="1594.6" x2="125.8" y2="1594.6" stroke="#000" stroke-width="1.5"/>
<line x1="120.8" y1="1586.1" x2="125.8" y2="1586.1" stroke="#000" stroke-width="1.5"/>
<line x1="120.8" y1="1577.6" x2="129.8" y2="1577.6" stroke="#000" stroke-width="1.5"/>
<line x1="120.8" y1="1569.1" x2="125.8" y2="1569.1" stroke="#000" stroke-width="1.5"/>
<line x1="120.8" y1="1560.6" x2="125.8" y2="1560.6" stroke="#000" stroke-width="1.5"/>
<line x1="120.8" y1="1552" x2="125.8" y2="1552" stroke="#000" stroke-width="1.5"/>
<line x1="120.8" y1="1543.5" x2="125.8" y2="1543.5" stroke="#000" stroke-width="1.5"/>
<line x1="120.8" y1="1535" x2="129.8" y2="1535" stroke="#000" stroke-width="1.5"/>
<line x1="120.8" y1="1526.5" x2="125.8" y2="1526.5" stroke="#000" stroke-width="1.5"/>
<line x1="120.8" y1="1518" x2="125.8" y2="1518" stroke="#000" stroke-width="1.5"/>
<line x1="120.8" y1="1509.4" x2="125.8" y2="1509.4" stroke="#000" stroke-width="1.5"/>
<line x1="120.8" y1="1500.9" x2="125.8" y2="1500.9" stroke="#000" stroke-width="1.5"/>
<line x1="120.8" y1="1492.4" x2="129.8" y2="1492.4" stroke="#000" stroke-width="1.5"/>
<line x1="120.8" y1="1483.9" x2="125.8" y2="1483.9" stroke="#000" stroke-width="1.5"/>
<line x1="120.8" y1="1475.4" x2="125.8" y2="1475.4" stroke="#000" stroke-width="1.5"/>
<line x1="120.8" y1="1466.8" x2="125.8" y2="1466.8" stroke="#000" stroke-width="1.5"/>
<line x1="120.8" y1="1458.3" x2="125.8" y2="1458.3" stroke="#000" stroke-width="1.5"/>
<line x1="120.8" y1="1449.8" x2="129.8" y2="1449.8" stroke="#000" stroke-width="1.5"/>
<line x1="120.8" y1="1441.3" x2="125.8" y2="1441.3" stroke="#000" stroke-width="1.5"/>
<line x1="120.8" y1="1432.8" x2="125.8" y2="1432.8" stroke="#000" stroke-width="1.5"/>
<line x1="120.8" y1="1424.2" x2="125.8" y2="1424.2" stroke="#000" stroke-width="1.5"/>
<line x1="120.8" y1="1415.7" x2="125.8" y2="1415.7" stroke="#000" stroke-width="1.5"/>
<line x1="120.8" y1="1407.2" x2="129.8" y2="1407.2" stroke="#000" stroke-width="1.5"/>
<line x1="120.8" y1="1398.7" x2="125.8" y2="1398.7" stroke="#000" stroke-width="1.5"/>
<line x1="120.8" y1="1390.2" x2="125.8" y2="1390.2" stroke="#000" stroke-width="1.5"/>
<line x1="120.8" y1="1381.6" x2="125.8" y2="1381.6" stroke="#000" stroke-width="1.5"/>
<line x1="120.8" y1="1373.1" x2="125.8" y2="1373.1" stroke="#000" stroke-width="1.5"/>
<line x1="120.8" y1="1364.6" x2="129.8" y2="1364.6" stroke="#000" stroke-width="1.5"/>
<line x1="120.8" y1="1356.1" x2="125.8" y2="1356.1" stroke="#000" stroke-width="1.5"/>
<line x1="120.8" y1="1347.6" x2="125.8" y2="1347.6" stroke="#000" stroke-width="1.5"/>
<line x1="120.8" y1="1339" x2="125.8" y2="1339" stroke="#000" stroke-width="1.5"/>
<line x1="120.8" y1="1330.5" x2="125.8" y2="1330.5" stroke="#000" stroke-width="1.5"/>
<line x1="120.8" y1="1322" x2="129.8" y2="1322" stroke="#000" stroke-width="1.5"/>
<line x1="120.8" y1="1313.5" x2="125.8" y2="1313.5" stroke="#000" stroke-width="1.5"/>
<line x1="120.8" y1="1305" x2="125.8" y2="1305" stroke="#000" stroke-width="1.5"/>
<line x1="120.8" y1="1296.4" x2="125.8" y2="1296.4" stroke="#000" stroke-width="1.5"/>
<line x1="120.8" y1="1287.9" x2="125.8" y2="1287.9" stroke="#000" stroke-width="1.5"/>
<line x1="120.8" y1="1279.4" x2="129.8" y2="1279.4" stroke="#000" stroke-width="1.5"/>
<text transform="translate(89.50 1627.87) scale(0.834 1)" font-size="32.96">0</text>
<text transform="translate(66.91 1585.27) scale(0.829 1)" font-size="32.96">0.5</text>
<text transform="translate(88.14 1543.00) scale(0.905 1)" font-size="33.91">1</text>
<text transform="translate(65.74 1500.07) scale(0.843 1)" font-size="33.43">1.5</text>
<text transform="translate(89.17 1457.80) scale(0.858 1)" font-size="33.43">2</text>
<text transform="translate(66.62 1414.87) scale(0.836 1)" font-size="32.96">2.5</text>
<text transform="translate(89.48 1372.27) scale(0.852 1)" font-size="32.96">3</text>
<text transform="translate(66.91 1329.67) scale(0.829 1)" font-size="32.96">3.5</text>
<text transform="translate(90.08 1287.40) scale(0.763 1)" font-size="33.91">4</text>
<line x1="119.8" y1="1636.3" x2="1000" y2="1636.3" stroke="#000" stroke-width="2.6"/>
<line x1="120.4" y1="1636.3" x2="120.4" y2="1627.8" stroke="#000" stroke-width="1.4"/>
<line x1="181.9" y1="1636.3" x2="181.9" y2="1631.8" stroke="#000" stroke-width="1.4"/>
<line x1="217.8" y1="1636.3" x2="217.8" y2="1631.8" stroke="#000" stroke-width="1.4"/>
<line x1="243.3" y1="1636.3" x2="243.3" y2="1631.8" stroke="#000" stroke-width="1.4"/>
<line x1="263.1" y1="1636.3" x2="263.1" y2="1631.8" stroke="#000" stroke-width="1.4"/>
<line x1="279.3" y1="1636.3" x2="279.3" y2="1631.8" stroke="#000" stroke-width="1.4"/>
<line x1="293" y1="1636.3" x2="293" y2="1631.8" stroke="#000" stroke-width="1.4"/>
<line x1="304.8" y1="1636.3" x2="304.8" y2="1631.8" stroke="#000" stroke-width="1.4"/>
<line x1="315.3" y1="1636.3" x2="315.3" y2="1631.8" stroke="#000" stroke-width="1.4"/>
<line x1="324.6" y1="1636.3" x2="324.6" y2="1627.8" stroke="#000" stroke-width="1.4"/>
<line x1="386.1" y1="1636.3" x2="386.1" y2="1631.8" stroke="#000" stroke-width="1.4"/>
<line x1="422" y1="1636.3" x2="422" y2="1631.8" stroke="#000" stroke-width="1.4"/>
<line x1="447.5" y1="1636.3" x2="447.5" y2="1631.8" stroke="#000" stroke-width="1.4"/>
<line x1="467.3" y1="1636.3" x2="467.3" y2="1631.8" stroke="#000" stroke-width="1.4"/>
<line x1="483.5" y1="1636.3" x2="483.5" y2="1631.8" stroke="#000" stroke-width="1.4"/>
<line x1="497.2" y1="1636.3" x2="497.2" y2="1631.8" stroke="#000" stroke-width="1.4"/>
<line x1="509" y1="1636.3" x2="509" y2="1631.8" stroke="#000" stroke-width="1.4"/>
<line x1="519.5" y1="1636.3" x2="519.5" y2="1631.8" stroke="#000" stroke-width="1.4"/>
<line x1="528.8" y1="1636.3" x2="528.8" y2="1627.8" stroke="#000" stroke-width="1.4"/>
<line x1="590.3" y1="1636.3" x2="590.3" y2="1631.8" stroke="#000" stroke-width="1.4"/>
<line x1="626.2" y1="1636.3" x2="626.2" y2="1631.8" stroke="#000" stroke-width="1.4"/>
<line x1="651.7" y1="1636.3" x2="651.7" y2="1631.8" stroke="#000" stroke-width="1.4"/>
<line x1="671.5" y1="1636.3" x2="671.5" y2="1631.8" stroke="#000" stroke-width="1.4"/>
<line x1="687.7" y1="1636.3" x2="687.7" y2="1631.8" stroke="#000" stroke-width="1.4"/>
<line x1="701.4" y1="1636.3" x2="701.4" y2="1631.8" stroke="#000" stroke-width="1.4"/>
<line x1="713.2" y1="1636.3" x2="713.2" y2="1631.8" stroke="#000" stroke-width="1.4"/>
<line x1="723.7" y1="1636.3" x2="723.7" y2="1631.8" stroke="#000" stroke-width="1.4"/>
<line x1="733" y1="1636.3" x2="733" y2="1627.8" stroke="#000" stroke-width="1.4"/>
<line x1="794.5" y1="1636.3" x2="794.5" y2="1631.8" stroke="#000" stroke-width="1.4"/>
<line x1="830.4" y1="1636.3" x2="830.4" y2="1631.8" stroke="#000" stroke-width="1.4"/>
<line x1="855.9" y1="1636.3" x2="855.9" y2="1631.8" stroke="#000" stroke-width="1.4"/>
<line x1="875.7" y1="1636.3" x2="875.7" y2="1631.8" stroke="#000" stroke-width="1.4"/>
<line x1="891.9" y1="1636.3" x2="891.9" y2="1631.8" stroke="#000" stroke-width="1.4"/>
<line x1="905.6" y1="1636.3" x2="905.6" y2="1631.8" stroke="#000" stroke-width="1.4"/>
<line x1="917.4" y1="1636.3" x2="917.4" y2="1631.8" stroke="#000" stroke-width="1.4"/>
<line x1="927.9" y1="1636.3" x2="927.9" y2="1631.8" stroke="#000" stroke-width="1.4"/>
<line x1="937.2" y1="1636.3" x2="937.2" y2="1627.8" stroke="#000" stroke-width="1.4"/>
<line x1="998.7" y1="1636.3" x2="998.7" y2="1631.8" stroke="#000" stroke-width="1.4"/>
<text transform="translate(94.32 1676.88) scale(0.836 1)" font-size="32.39">0.01</text>
<text transform="translate(305.87 1676.88) scale(0.798 1)" font-size="32.39">0.1</text>
<text transform="translate(522.03 1677.20) scale(0.740 1)" font-size="33.33">1</text>
<text transform="translate(717.60 1676.88) scale(0.889 1)" font-size="32.39">10</text>
<text transform="translate(913.07 1676.88) scale(0.860 1)" font-size="32.39">100</text>
<text transform="translate(785.08 1253.38) scale(0.810 1)" font-size="52.47" font-weight="bold">(c)</text>
<text transform="translate(933.03 1425.71) scale(0.841 1)" font-size="28.73" fill="#000000">3 K</text>
<text transform="translate(933.03 1458.91) scale(0.829 1)" font-size="29.14" fill="#c00000">5 K</text>
<text transform="translate(933.71 1492.71) scale(0.824 1)" font-size="28.73" fill="#f0148a">10 K</text>
<text transform="translate(932.79 1526.51) scale(0.839 1)" font-size="28.73" fill="#9a10d8">20 K</text>
<text transform="translate(933.04 1560.31) scale(0.835 1)" font-size="28.73" fill="#00a8e8">30 K</text>
<text transform="translate(933.52 1594.11) scale(0.827 1)" font-size="28.73" fill="#94e4ee">40 K</text>
<text transform="translate(819.00 1608.60) scale(0.836 1)" font-size="33.00"><tspan font-style="italic" y="0.00">eV</tspan><tspan font-style="italic" font-size="20.46" y="16.80">d</tspan><tspan font-style="italic" y="0.00">/k</tspan><tspan font-style="italic" font-size="20.46" y="16.80">B</tspan><tspan font-style="italic" y="0.00">T</tspan></text>
<text transform="translate(32.20 1507.20) rotate(-90) scale(0.852 1)" font-size="31.50"><tspan y="0.00">Δ</tspan><tspan font-style="italic" y="0.00">g</tspan><tspan font-style="italic" font-size="19.53" y="15.00">d</tspan><tspan y="0.00"> (e</tspan><tspan font-size="19.53" y="-14.00">2</tspan><tspan font-style="italic" y="0.00">/h)</tspan></text>
<line x1="229.9" y1="1250" x2="229.9" y2="1495" stroke="#000" stroke-width="2.8"/>
<line x1="229.9" y1="1483.4" x2="238.7" y2="1483.4" stroke="#000" stroke-width="1.4"/>
<text transform="translate(202.12 1483.18) scale(1.002 1)" font-size="21.83">0</text>
<line x1="229.9" y1="1464.1" x2="234.5" y2="1464.1" stroke="#000" stroke-width="1.4"/>
<line x1="229.9" y1="1444.8" x2="234.5" y2="1444.8" stroke="#000" stroke-width="1.4"/>
<line x1="229.9" y1="1425.4" x2="234.5" y2="1425.4" stroke="#000" stroke-width="1.4"/>
<line x1="229.9" y1="1406.1" x2="238.7" y2="1406.1" stroke="#000" stroke-width="1.4"/>
<text transform="translate(201.86 1406.10) scale(1.031 1)" font-size="22.14">2</text>
<line x1="229.9" y1="1386.8" x2="234.5" y2="1386.8" stroke="#000" stroke-width="1.4"/>
<line x1="229.9" y1="1367.5" x2="234.5" y2="1367.5" stroke="#000" stroke-width="1.4"/>
<line x1="229.9" y1="1348.1" x2="234.5" y2="1348.1" stroke="#000" stroke-width="1.4"/>
<line x1="229.9" y1="1328.8" x2="238.7" y2="1328.8" stroke="#000" stroke-width="1.4"/>
<text transform="translate(202.59 1328.80) scale(0.917 1)" font-size="22.46">4</text>
<line x1="229.9" y1="1309.5" x2="234.5" y2="1309.5" stroke="#000" stroke-width="1.4"/>
<line x1="229.9" y1="1290.2" x2="234.5" y2="1290.2" stroke="#000" stroke-width="1.4"/>
<line x1="229.9" y1="1270.8" x2="234.5" y2="1270.8" stroke="#000" stroke-width="1.4"/>
<line x1="229.9" y1="1251.5" x2="238.7" y2="1251.5" stroke="#000" stroke-width="1.4"/>
<text transform="translate(201.86 1251.28) scale(1.046 1)" font-size="21.83">6</text>
<line x1="229" y1="1483.4" x2="635.5" y2="1483.4" stroke="#000" stroke-width="2.7"/>
<line x1="230.1" y1="1483.4" x2="230.1" y2="1475.4" stroke="#000" stroke-width="1.3"/>
<line x1="259.2" y1="1483.4" x2="259.2" y2="1479.2" stroke="#000" stroke-width="1.3"/>
<line x1="276.2" y1="1483.4" x2="276.2" y2="1479.2" stroke="#000" stroke-width="1.3"/>
<line x1="288.3" y1="1483.4" x2="288.3" y2="1479.2" stroke="#000" stroke-width="1.3"/>
<line x1="297.6" y1="1483.4" x2="297.6" y2="1479.2" stroke="#000" stroke-width="1.3"/>
<line x1="305.3" y1="1483.4" x2="305.3" y2="1479.2" stroke="#000" stroke-width="1.3"/>
<line x1="311.7" y1="1483.4" x2="311.7" y2="1479.2" stroke="#000" stroke-width="1.3"/>
<line x1="317.3" y1="1483.4" x2="317.3" y2="1479.2" stroke="#000" stroke-width="1.3"/>
<line x1="322.3" y1="1483.4" x2="322.3" y2="1479.2" stroke="#000" stroke-width="1.3"/>
<line x1="326.7" y1="1483.4" x2="326.7" y2="1475.4" stroke="#000" stroke-width="1.3"/>
<line x1="355.8" y1="1483.4" x2="355.8" y2="1479.2" stroke="#000" stroke-width="1.3"/>
<line x1="372.8" y1="1483.4" x2="372.8" y2="1479.2" stroke="#000" stroke-width="1.3"/>
<line x1="384.9" y1="1483.4" x2="384.9" y2="1479.2" stroke="#000" stroke-width="1.3"/>
<line x1="394.2" y1="1483.4" x2="394.2" y2="1479.2" stroke="#000" stroke-width="1.3"/>
<line x1="401.9" y1="1483.4" x2="401.9" y2="1479.2" stroke="#000" stroke-width="1.3"/>
<line x1="408.3" y1="1483.4" x2="408.3" y2="1479.2" stroke="#000" stroke-width="1.3"/>
<line x1="413.9" y1="1483.4" x2="413.9" y2="1479.2" stroke="#000" stroke-width="1.3"/>
<line x1="418.9" y1="1483.4" x2="418.9" y2="1479.2" stroke="#000" stroke-width="1.3"/>
<line x1="423.3" y1="1483.4" x2="423.3" y2="1475.4" stroke="#000" stroke-width="1.3"/>
<line x1="452.4" y1="1483.4" x2="452.4" y2="1479.2" stroke="#000" stroke-width="1.3"/>
<line x1="469.4" y1="1483.4" x2="469.4" y2="1479.2" stroke="#000" stroke-width="1.3"/>
<line x1="481.5" y1="1483.4" x2="481.5" y2="1479.2" stroke="#000" stroke-width="1.3"/>
<line x1="490.8" y1="1483.4" x2="490.8" y2="1479.2" stroke="#000" stroke-width="1.3"/>
<line x1="498.5" y1="1483.4" x2="498.5" y2="1479.2" stroke="#000" stroke-width="1.3"/>
<line x1="504.9" y1="1483.4" x2="504.9" y2="1479.2" stroke="#000" stroke-width="1.3"/>
<line x1="510.5" y1="1483.4" x2="510.5" y2="1479.2" stroke="#000" stroke-width="1.3"/>
<line x1="515.5" y1="1483.4" x2="515.5" y2="1479.2" stroke="#000" stroke-width="1.3"/>
<line x1="519.9" y1="1483.4" x2="519.9" y2="1475.4" stroke="#000" stroke-width="1.3"/>
<line x1="549" y1="1483.4" x2="549" y2="1479.2" stroke="#000" stroke-width="1.3"/>
<line x1="566" y1="1483.4" x2="566" y2="1479.2" stroke="#000" stroke-width="1.3"/>
<line x1="578.1" y1="1483.4" x2="578.1" y2="1479.2" stroke="#000" stroke-width="1.3"/>
<line x1="587.4" y1="1483.4" x2="587.4" y2="1479.2" stroke="#000" stroke-width="1.3"/>
<line x1="595.1" y1="1483.4" x2="595.1" y2="1479.2" stroke="#000" stroke-width="1.3"/>
<line x1="601.5" y1="1483.4" x2="601.5" y2="1479.2" stroke="#000" stroke-width="1.3"/>
<line x1="607.1" y1="1483.4" x2="607.1" y2="1479.2" stroke="#000" stroke-width="1.3"/>
<line x1="612.1" y1="1483.4" x2="612.1" y2="1479.2" stroke="#000" stroke-width="1.3"/>
<line x1="616.5" y1="1483.4" x2="616.5" y2="1475.4" stroke="#000" stroke-width="1.3"/>
<text transform="translate(207.99 1527.75) scale(0.813 1)" font-size="24.79">0.01</text>
<text transform="translate(311.48 1527.75) scale(0.822 1)" font-size="24.79">0.1</text>
<text transform="translate(419.07 1528.00) scale(0.602 1)" font-size="25.51">1</text>
<text transform="translate(509.02 1527.75) scale(0.799 1)" font-size="24.79">10</text>
<text transform="translate(600.14 1527.75) scale(0.835 1)" font-size="24.79">100</text>
<text transform="translate(246.20 1255.60) scale(0.996 1)" font-size="21.00"><tspan y="0.00">Δ</tspan><tspan font-style="italic" y="0.00">g (e</tspan><tspan font-size="13.02" y="-12.00">2</tspan><tspan font-style="italic" y="0.00">/h)</tspan></text>
<text transform="translate(553.50 1459.50) scale(0.866 1)" font-size="24.50"><tspan font-style="italic" y="0.00">eV</tspan><tspan font-style="italic" font-size="15.19" y="13.50">d</tspan><tspan font-style="italic" y="0.00">/k</tspan><tspan font-style="italic" font-size="15.19" y="13.50">B</tspan><tspan font-style="italic" y="0.00">T</tspan></text>
<path d="M328.6 1473 349.3 1472.4 363.1 1469.9 373.5 1471.1 381.8 1469.7 388.7 1468.7 394.6 1469.2 399.9 1466.8 404.5 1465.8 408.7 1465.6 412.4 1465.2 415.9 1463.6 419.1 1463.4 422.1 1461.6 424.9 1461 427.5 1459.7 430 1457.7 432.3 1456.4 434.5 1455.2 438.6 1454.2 442.3 1452.4 445.7 1450.5 448.9 1449.2 451.8 1446.6 454.6 1446.1 457.1 1444.7 459.6 1443.6 461.9 1440.9 465.1 1439.2 468.1 1436 470.9 1435.5 473.5 1432.4 476 1431.5 478.3 1432.1 480.5 1428 483.3 1428.9 485.9 1427.2 488.3 1425.5 490.6 1424.9 493.3 1423.6 495.9 1422.7 498.3 1420.4 500.6 1419 503.2 1417.7 505.6 1416.1 507.9 1415.7" fill="none" stroke="#5ae6f6" stroke-width="2" stroke-linejoin="round" stroke-linecap="round"/>
<g fill="#5ae6f6"><circle cx="328.6" cy="1473" r="8.2"/><circle cx="349.3" cy="1472.4" r="8.2"/><circle cx="363.1" cy="1469.9" r="8.2"/><circle cx="373.5" cy="1471.1" r="8.2"/><circle cx="381.8" cy="1469.7" r="8.2"/><circle cx="388.7" cy="1468.7" r="8.2"/><circle cx="394.6" cy="1469.2" r="8.2"/><circle cx="399.9" cy="1466.8" r="8.2"/><circle cx="404.5" cy="1465.8" r="8.2"/><circle cx="408.7" cy="1465.6" r="8.2"/><circle cx="412.4" cy="1465.2" r="8.2"/><circle cx="415.9" cy="1463.6" r="8.2"/><circle cx="419.1" cy="1463.4" r="8.2"/><circle cx="422.1" cy="1461.6" r="8.2"/><circle cx="424.9" cy="1461" r="8.2"/><circle cx="427.5" cy="1459.7" r="8.2"/><circle cx="430" cy="1457.7" r="8.2"/><circle cx="432.3" cy="1456.4" r="8.2"/><circle cx="434.5" cy="1455.2" r="8.2"/><circle cx="438.6" cy="1454.2" r="8.2"/><circle cx="442.3" cy="1452.4" r="8.2"/><circle cx="445.7" cy="1450.5" r="8.2"/><circle cx="448.9" cy="1449.2" r="8.2"/><circle cx="451.8" cy="1446.6" r="8.2"/><circle cx="454.6" cy="1446.1" r="8.2"/><circle cx="457.1" cy="1444.7" r="8.2"/><circle cx="459.6" cy="1443.6" r="8.2"/><circle cx="461.9" cy="1440.9" r="8.2"/><circle cx="465.1" cy="1439.2" r="8.2"/><circle cx="468.1" cy="1436" r="8.2"/><circle cx="470.9" cy="1435.5" r="8.2"/><circle cx="473.5" cy="1432.4" r="8.2"/><circle cx="476" cy="1431.5" r="8.2"/><circle cx="478.3" cy="1432.1" r="8.2"/><circle cx="480.5" cy="1428" r="8.2"/><circle cx="483.3" cy="1428.9" r="8.2"/><circle cx="485.9" cy="1427.2" r="8.2"/><circle cx="488.3" cy="1425.5" r="8.2"/><circle cx="490.6" cy="1424.9" r="8.2"/><circle cx="493.3" cy="1423.6" r="8.2"/><circle cx="495.9" cy="1422.7" r="8.2"/><circle cx="498.3" cy="1420.4" r="8.2"/><circle cx="500.6" cy="1419" r="8.2"/><circle cx="503.2" cy="1417.7" r="8.2"/><circle cx="505.6" cy="1416.1" r="8.2"/><circle cx="507.9" cy="1415.7" r="8.2"/></g>
<path d="M298.2 1480.1 340.7 1476.3 361.4 1469.8 375.2 1468.9 385.5 1468 393.8 1466.3 400.8 1468.2 406.7 1463.5 411.9 1464.2 416.6 1463.1 420.7 1464 424.5 1460 428 1460.9 431.2 1458.1 434.2 1457.2 437 1455.6 439.6 1455.5 442 1453 444.4 1452.8 446.6 1452.2 450.6 1451.6 454.4 1446.5 457.8 1448.2 460.9 1446.3 463.9 1443.9 466.6 1443.3 469.2 1441.6 471.6 1442.2 473.9 1439.9 477.1 1438 480.1 1436.5 482.9 1435.1 485.6 1433.9 488 1432.1 490.3 1433.3 492.6 1429 495.3 1426.3 497.9 1427.8 500.4 1426.6 502.7 1425.8 505.4 1424 508 1422.8 510.4 1422 512.7 1421.4 515.2 1419 517.7 1417.9 520 1418.6 522.5 1417" fill="none" stroke="#0000cc" stroke-width="2" stroke-linejoin="round" stroke-linecap="round"/>
<g fill="#0000cc"><circle cx="298.2" cy="1480.1" r="8.2"/><circle cx="340.7" cy="1476.3" r="8.2"/><circle cx="361.4" cy="1469.8" r="8.2"/><circle cx="375.2" cy="1468.9" r="8.2"/><circle cx="385.5" cy="1468" r="8.2"/><circle cx="393.8" cy="1466.3" r="8.2"/><circle cx="400.8" cy="1468.2" r="8.2"/><circle cx="406.7" cy="1463.5" r="8.2"/><circle cx="411.9" cy="1464.2" r="8.2"/><circle cx="416.6" cy="1463.1" r="8.2"/><circle cx="420.7" cy="1464" r="8.2"/><circle cx="424.5" cy="1460" r="8.2"/><circle cx="428" cy="1460.9" r="8.2"/><circle cx="431.2" cy="1458.1" r="8.2"/><circle cx="434.2" cy="1457.2" r="8.2"/><circle cx="437" cy="1455.6" r="8.2"/><circle cx="439.6" cy="1455.5" r="8.2"/><circle cx="442" cy="1453" r="8.2"/><circle cx="444.4" cy="1452.8" r="8.2"/><circle cx="446.6" cy="1452.2" r="8.2"/><circle cx="450.6" cy="1451.6" r="8.2"/><circle cx="454.4" cy="1446.5" r="8.2"/><circle cx="457.8" cy="1448.2" r="8.2"/><circle cx="460.9" cy="1446.3" r="8.2"/><circle cx="463.9" cy="1443.9" r="8.2"/><circle cx="466.6" cy="1443.3" r="8.2"/><circle cx="469.2" cy="1441.6" r="8.2"/><circle cx="471.6" cy="1442.2" r="8.2"/><circle cx="473.9" cy="1439.9" r="8.2"/><circle cx="477.1" cy="1438" r="8.2"/><circle cx="480.1" cy="1436.5" r="8.2"/><circle cx="482.9" cy="1435.1" r="8.2"/><circle cx="485.6" cy="1433.9" r="8.2"/><circle cx="488" cy="1432.1" r="8.2"/><circle cx="490.3" cy="1433.3" r="8.2"/><circle cx="492.6" cy="1429" r="8.2"/><circle cx="495.3" cy="1426.3" r="8.2"/><circle cx="497.9" cy="1427.8" r="8.2"/><circle cx="500.4" cy="1426.6" r="8.2"/><circle cx="502.7" cy="1425.8" r="8.2"/><circle cx="505.4" cy="1424" r="8.2"/><circle cx="508" cy="1422.8" r="8.2"/><circle cx="510.4" cy="1422" r="8.2"/><circle cx="512.7" cy="1421.4" r="8.2"/><circle cx="515.2" cy="1419" r="8.2"/><circle cx="517.7" cy="1417.9" r="8.2"/><circle cx="520" cy="1418.6" r="8.2"/><circle cx="522.5" cy="1417" r="8.2"/></g>
<path d="M315.2 1481.5 357.7 1479.8 378.4 1473.5 392.2 1469.8 402.6 1467.4 410.9 1466.6 417.8 1462.6 423.7 1459.9 428.9 1457.4 433.6 1456 437.7 1455.5 441.5 1452.6 445 1449.7 448.2 1449.1 451.2 1446.5 454 1445.2 456.6 1443.7 459.1 1440.8 461.4 1439.2 463.6 1437.6 467.7 1433.5 471.4 1431.9 474.8 1429.8 478 1426.3 480.9 1423.6 483.6 1421.1 486.2 1418.2 488.6 1416 490.9 1414.1 494.2 1410.8 497.2 1408.5 499.9 1405.3 502.6 1404.8 505 1402.6 507.4 1399.8 509.6 1397.1 512.3 1396.7 514.9 1395.3 517.4 1391.5 519.7 1389.4 522.4 1386.7 525 1385.2 527.4 1381.6 529.7 1380.8 532.2 1377.2 534.7 1375.4 537 1372.2 539.5 1369.1 541.9 1366.3" fill="none" stroke="#9a22d8" stroke-width="2" stroke-linejoin="round" stroke-linecap="round"/>
<g fill="#9a22d8"><circle cx="315.2" cy="1481.5" r="8.2"/><circle cx="357.7" cy="1479.8" r="8.2"/><circle cx="378.4" cy="1473.5" r="8.2"/><circle cx="392.2" cy="1469.8" r="8.2"/><circle cx="402.6" cy="1467.4" r="8.2"/><circle cx="410.9" cy="1466.6" r="8.2"/><circle cx="417.8" cy="1462.6" r="8.2"/><circle cx="423.7" cy="1459.9" r="8.2"/><circle cx="428.9" cy="1457.4" r="8.2"/><circle cx="433.6" cy="1456" r="8.2"/><circle cx="437.7" cy="1455.5" r="8.2"/><circle cx="441.5" cy="1452.6" r="8.2"/><circle cx="445" cy="1449.7" r="8.2"/><circle cx="448.2" cy="1449.1" r="8.2"/><circle cx="451.2" cy="1446.5" r="8.2"/><circle cx="454" cy="1445.2" r="8.2"/><circle cx="456.6" cy="1443.7" r="8.2"/><circle cx="459.1" cy="1440.8" r="8.2"/><circle cx="461.4" cy="1439.2" r="8.2"/><circle cx="463.6" cy="1437.6" r="8.2"/><circle cx="467.7" cy="1433.5" r="8.2"/><circle cx="471.4" cy="1431.9" r="8.2"/><circle cx="474.8" cy="1429.8" r="8.2"/><circle cx="478" cy="1426.3" r="8.2"/><circle cx="480.9" cy="1423.6" r="8.2"/><circle cx="483.6" cy="1421.1" r="8.2"/><circle cx="486.2" cy="1418.2" r="8.2"/><circle cx="488.6" cy="1416" r="8.2"/><circle cx="490.9" cy="1414.1" r="8.2"/><circle cx="494.2" cy="1410.8" r="8.2"/><circle cx="497.2" cy="1408.5" r="8.2"/><circle cx="499.9" cy="1405.3" r="8.2"/><circle cx="502.6" cy="1404.8" r="8.2"/><circle cx="505" cy="1402.6" r="8.2"/><circle cx="507.4" cy="1399.8" r="8.2"/><circle cx="509.6" cy="1397.1" r="8.2"/><circle cx="512.3" cy="1396.7" r="8.2"/><circle cx="514.9" cy="1395.3" r="8.2"/><circle cx="517.4" cy="1391.5" r="8.2"/><circle cx="519.7" cy="1389.4" r="8.2"/><circle cx="522.4" cy="1386.7" r="8.2"/><circle cx="525" cy="1385.2" r="8.2"/><circle cx="527.4" cy="1381.6" r="8.2"/><circle cx="529.7" cy="1380.8" r="8.2"/><circle cx="532.2" cy="1377.2" r="8.2"/><circle cx="534.7" cy="1375.4" r="8.2"/><circle cx="537" cy="1372.2" r="8.2"/><circle cx="539.5" cy="1369.1" r="8.2"/><circle cx="541.9" cy="1366.3" r="8.2"/></g>
<path d="M344.3 1481.7 386.8 1480.1 407.5 1478.5 421.3 1473.3 431.6 1467.5 439.9 1464.2 446.9 1461.3 452.8 1457.1 458 1454 462.6 1451.5 466.8 1450.1 470.6 1447.8 474.1 1444.7 477.3 1443.5 480.3 1440 483.1 1437.2 485.7 1436.4 488.1 1433.8 490.5 1430.4 492.7 1429 496.7 1425.5 500.5 1421.2 503.9 1418.2 507 1415.6 510 1410.7 512.7 1409.7 515.3 1407.4 517.7 1404.8 520 1401 523.2 1399.1 526.2 1395.2 529 1393.6 531.6 1391 534.1 1388.2 536.4 1385.1 538.6 1383 541.4 1381.1 544 1376.7 546.5 1375 548.8 1372.4 551.5 1368.6 554.1 1367.9 556.5 1363.3 558.7 1362.3 561.3 1356 563.8 1353.1 566.1 1353" fill="none" stroke="#f0148a" stroke-width="2" stroke-linejoin="round" stroke-linecap="round"/>
<g fill="#f0148a"><circle cx="344.3" cy="1481.7" r="8.2"/><circle cx="386.8" cy="1480.1" r="8.2"/><circle cx="407.5" cy="1478.5" r="8.2"/><circle cx="421.3" cy="1473.3" r="8.2"/><circle cx="431.6" cy="1467.5" r="8.2"/><circle cx="439.9" cy="1464.2" r="8.2"/><circle cx="446.9" cy="1461.3" r="8.2"/><circle cx="452.8" cy="1457.1" r="8.2"/><circle cx="458" cy="1454" r="8.2"/><circle cx="462.6" cy="1451.5" r="8.2"/><circle cx="466.8" cy="1450.1" r="8.2"/><circle cx="470.6" cy="1447.8" r="8.2"/><circle cx="474.1" cy="1444.7" r="8.2"/><circle cx="477.3" cy="1443.5" r="8.2"/><circle cx="480.3" cy="1440" r="8.2"/><circle cx="483.1" cy="1437.2" r="8.2"/><circle cx="485.7" cy="1436.4" r="8.2"/><circle cx="488.1" cy="1433.8" r="8.2"/><circle cx="490.5" cy="1430.4" r="8.2"/><circle cx="492.7" cy="1429" r="8.2"/><circle cx="496.7" cy="1425.5" r="8.2"/><circle cx="500.5" cy="1421.2" r="8.2"/><circle cx="503.9" cy="1418.2" r="8.2"/><circle cx="507" cy="1415.6" r="8.2"/><circle cx="510" cy="1410.7" r="8.2"/><circle cx="512.7" cy="1409.7" r="8.2"/><circle cx="515.3" cy="1407.4" r="8.2"/><circle cx="517.7" cy="1404.8" r="8.2"/><circle cx="520" cy="1401" r="8.2"/><circle cx="523.2" cy="1399.1" r="8.2"/><circle cx="526.2" cy="1395.2" r="8.2"/><circle cx="529" cy="1393.6" r="8.2"/><circle cx="531.6" cy="1391" r="8.2"/><circle cx="534.1" cy="1388.2" r="8.2"/><circle cx="536.4" cy="1385.1" r="8.2"/><circle cx="538.6" cy="1383" r="8.2"/><circle cx="541.4" cy="1381.1" r="8.2"/><circle cx="544" cy="1376.7" r="8.2"/><circle cx="546.5" cy="1375" r="8.2"/><circle cx="548.8" cy="1372.4" r="8.2"/><circle cx="551.5" cy="1368.6" r="8.2"/><circle cx="554.1" cy="1367.9" r="8.2"/><circle cx="556.5" cy="1363.3" r="8.2"/><circle cx="558.7" cy="1362.3" r="8.2"/><circle cx="561.3" cy="1356" r="8.2"/><circle cx="563.8" cy="1353.1" r="8.2"/><circle cx="566.1" cy="1353" r="8.2"/></g>
<path d="M373.4 1482.7 415.9 1478.9 436.6 1476.4 450.3 1470 460.7 1466.5 469 1462.5 475.9 1459.5 481.9 1456.5 487.1 1452.4 491.7 1449.6 495.9 1446 499.7 1442.2 503.2 1439.1 506.4 1435.4 509.4 1433.5 512.1 1428.9 514.8 1428.4 517.2 1423.6 519.5 1422.8 521.7 1418.6 525.8 1415.2 529.5 1409.1 533 1404.9 536.1 1401.1 539.1 1396.1 541.8 1392 544.4 1387.6 546.8 1386.8 549.1 1382.1 552.3 1377.6 555.3 1373.9 558.1 1371.6 560.7 1364.9 563.2 1363.1 565.5 1359.3 567.7 1356.9 570.5 1351.5 573.1 1349.2 575.5 1347.1 577.9 1344.7 580.6 1341.2 583.1 1336 585.5 1333.6 587.8 1330.5 590.4 1326.2 592.8 1323 595.1 1321.8" fill="none" stroke="#c00000" stroke-width="2" stroke-linejoin="round" stroke-linecap="round"/>
<g fill="#c00000"><circle cx="373.4" cy="1482.7" r="8.2"/><circle cx="415.9" cy="1478.9" r="8.2"/><circle cx="436.6" cy="1476.4" r="8.2"/><circle cx="450.3" cy="1470" r="8.2"/><circle cx="460.7" cy="1466.5" r="8.2"/><circle cx="469" cy="1462.5" r="8.2"/><circle cx="475.9" cy="1459.5" r="8.2"/><circle cx="481.9" cy="1456.5" r="8.2"/><circle cx="487.1" cy="1452.4" r="8.2"/><circle cx="491.7" cy="1449.6" r="8.2"/><circle cx="495.9" cy="1446" r="8.2"/><circle cx="499.7" cy="1442.2" r="8.2"/><circle cx="503.2" cy="1439.1" r="8.2"/><circle cx="506.4" cy="1435.4" r="8.2"/><circle cx="509.4" cy="1433.5" r="8.2"/><circle cx="512.1" cy="1428.9" r="8.2"/><circle cx="514.8" cy="1428.4" r="8.2"/><circle cx="517.2" cy="1423.6" r="8.2"/><circle cx="519.5" cy="1422.8" r="8.2"/><circle cx="521.7" cy="1418.6" r="8.2"/><circle cx="525.8" cy="1415.2" r="8.2"/><circle cx="529.5" cy="1409.1" r="8.2"/><circle cx="533" cy="1404.9" r="8.2"/><circle cx="536.1" cy="1401.1" r="8.2"/><circle cx="539.1" cy="1396.1" r="8.2"/><circle cx="541.8" cy="1392" r="8.2"/><circle cx="544.4" cy="1387.6" r="8.2"/><circle cx="546.8" cy="1386.8" r="8.2"/><circle cx="549.1" cy="1382.1" r="8.2"/><circle cx="552.3" cy="1377.6" r="8.2"/><circle cx="555.3" cy="1373.9" r="8.2"/><circle cx="558.1" cy="1371.6" r="8.2"/><circle cx="560.7" cy="1364.9" r="8.2"/><circle cx="563.2" cy="1363.1" r="8.2"/><circle cx="565.5" cy="1359.3" r="8.2"/><circle cx="567.7" cy="1356.9" r="8.2"/><circle cx="570.5" cy="1351.5" r="8.2"/><circle cx="573.1" cy="1349.2" r="8.2"/><circle cx="575.5" cy="1347.1" r="8.2"/><circle cx="577.9" cy="1344.7" r="8.2"/><circle cx="580.6" cy="1341.2" r="8.2"/><circle cx="583.1" cy="1336" r="8.2"/><circle cx="585.5" cy="1333.6" r="8.2"/><circle cx="587.8" cy="1330.5" r="8.2"/><circle cx="590.4" cy="1326.2" r="8.2"/><circle cx="592.8" cy="1323" r="8.2"/><circle cx="595.1" cy="1321.8" r="8.2"/></g>
<path d="M394.8 1469.3 437.3 1463 458 1458.1 471.8 1453.2 482.1 1450.3 490.4 1443.5 497.4 1437.1 503.3 1431.5 508.5 1425 513.2 1419.3 517.3 1413.1 521.1 1407.8 524.6 1399.9 527.8 1395.9 530.8 1391.6 533.6 1387.2 536.2 1384.9 538.6 1380.9 541 1380 543.2 1376 547.2 1371.8 551 1368.3 554.4 1364.6 557.5 1360.9 560.5 1357.4 563.2 1353.3 565.8 1349.6 568.2 1347.9 570.5 1345 573.7 1340.1 576.7 1338.1 579.5 1334.2 582.2 1330.1 584.6 1328.3 586.9 1324.1 589.2 1321.9 591.9 1319.6 594.5 1314.9 597 1312.3 599.3 1307.3 602 1304.5 604.6 1299 607 1295.7 609.3 1290.6 611.8 1287.2 614.3 1284.1 616.6 1279.9 619.1 1273.8 621.5 1272.1 623.7 1271.2" fill="none" stroke="#000000" stroke-width="2" stroke-linejoin="round" stroke-linecap="round"/>
<g fill="#000000"><circle cx="394.8" cy="1469.3" r="8.2"/><circle cx="437.3" cy="1463" r="8.2"/><circle cx="458" cy="1458.1" r="8.2"/><circle cx="471.8" cy="1453.2" r="8.2"/><circle cx="482.1" cy="1450.3" r="8.2"/><circle cx="490.4" cy="1443.5" r="8.2"/><circle cx="497.4" cy="1437.1" r="8.2"/><circle cx="503.3" cy="1431.5" r="8.2"/><circle cx="508.5" cy="1425" r="8.2"/><circle cx="513.2" cy="1419.3" r="8.2"/><circle cx="517.3" cy="1413.1" r="8.2"/><circle cx="521.1" cy="1407.8" r="8.2"/><circle cx="524.6" cy="1399.9" r="8.2"/><circle cx="527.8" cy="1395.9" r="8.2"/><circle cx="530.8" cy="1391.6" r="8.2"/><circle cx="533.6" cy="1387.2" r="8.2"/><circle cx="536.2" cy="1384.9" r="8.2"/><circle cx="538.6" cy="1380.9" r="8.2"/><circle cx="541" cy="1380" r="8.2"/><circle cx="543.2" cy="1376" r="8.2"/><circle cx="547.2" cy="1371.8" r="8.2"/><circle cx="551" cy="1368.3" r="8.2"/><circle cx="554.4" cy="1364.6" r="8.2"/><circle cx="557.5" cy="1360.9" r="8.2"/><circle cx="560.5" cy="1357.4" r="8.2"/><circle cx="563.2" cy="1353.3" r="8.2"/><circle cx="565.8" cy="1349.6" r="8.2"/><circle cx="568.2" cy="1347.9" r="8.2"/><circle cx="570.5" cy="1345" r="8.2"/><circle cx="573.7" cy="1340.1" r="8.2"/><circle cx="576.7" cy="1338.1" r="8.2"/><circle cx="579.5" cy="1334.2" r="8.2"/><circle cx="582.2" cy="1330.1" r="8.2"/><circle cx="584.6" cy="1328.3" r="8.2"/><circle cx="586.9" cy="1324.1" r="8.2"/><circle cx="589.2" cy="1321.9" r="8.2"/><circle cx="591.9" cy="1319.6" r="8.2"/><circle cx="594.5" cy="1314.9" r="8.2"/><circle cx="597" cy="1312.3" r="8.2"/><circle cx="599.3" cy="1307.3" r="8.2"/><circle cx="602" cy="1304.5" r="8.2"/><circle cx="604.6" cy="1299" r="8.2"/><circle cx="607" cy="1295.7" r="8.2"/><circle cx="609.3" cy="1290.6" r="8.2"/><circle cx="611.8" cy="1287.2" r="8.2"/><circle cx="614.3" cy="1284.1" r="8.2"/><circle cx="616.6" cy="1279.9" r="8.2"/><circle cx="619.1" cy="1273.8" r="8.2"/><circle cx="621.5" cy="1272.1" r="8.2"/><circle cx="623.7" cy="1271.2" r="8.2"/></g>
<path d="M169.6 1624.1 267 1624.2 312.3 1623.4 342.1 1622 364.4 1621.4 382.2 1619.4 397 1617.5 409.7 1613.6 420.8 1611.5 430.7 1612.4 439.6 1609.5 447.6 1609.8 455 1607.2 461.8 1608.3 468.2 1606.8 474.1 1605.5 479.6 1603.9 484.9 1602.9 489.8 1601.7 494.5 1601.5 498.9 1600.5 503.1 1599.9 507.1 1598.3 511 1599.9 514.7 1597.6 518.2 1598 521.7 1597.3 524.9 1594.5 528.1 1593.1 531.2 1594.8 534.1 1591.8 537 1590.9 539.8 1589.3 542.4 1588.4 545.1 1585.9 547.6 1585.8 552.4 1583.2 557.1 1581.5 561.4 1577.2 565.6 1578.4 569.6 1576.1 573.4 1572.2 577.1 1571.5 580.6 1570.7 584 1569.7 587.2 1567.7 590.4 1567.8 593.4 1565.2 596.3 1563 599.2 1562.2 601.9 1562.5 604.6 1560 607.2 1560.4 609.7 1559.6 613.3 1557.6 616.8 1556.6 620.2 1554.1 623.4 1552.9 626.6 1551 629.6 1549.8 632.5 1547.6 635.3 1547.5 638.1 1546.5 640.7 1545.8 643.3 1547.1 645.8 1547.1 649.1 1545.9 652.2 1547.2 655.2 1546.4 658.1 1546.2 661 1544.2 663.7 1543 666.4 1544.7 669 1544.2 671.5 1544.3 674.5 1543.6 677.4 1544.1 680.3 1542.2 683 1542.8 685.7 1541 688.3 1539.2 690.8 1540.8 693.7 1542.4 696.6 1538.9 699.3 1541.2 702 1539.2 704.6 1539.2 707.1 1539.3 710 1539.5" fill="none" stroke="#94e4ee" stroke-width="2.5" stroke-linejoin="round" stroke-linecap="round"/>
<g fill="#94e4ee"><circle cx="169.6" cy="1624.1" r="12"/><circle cx="267" cy="1624.2" r="12"/><circle cx="312.3" cy="1623.4" r="12"/><circle cx="342.1" cy="1622" r="12"/><circle cx="364.4" cy="1621.4" r="12"/><circle cx="382.2" cy="1619.4" r="12"/><circle cx="397" cy="1617.5" r="12"/><circle cx="409.7" cy="1613.6" r="12"/><circle cx="420.8" cy="1611.5" r="12"/><circle cx="430.7" cy="1612.4" r="12"/><circle cx="439.6" cy="1609.5" r="12"/><circle cx="447.6" cy="1609.8" r="12"/><circle cx="455" cy="1607.2" r="12"/><circle cx="461.8" cy="1608.3" r="12"/><circle cx="468.2" cy="1606.8" r="12"/><circle cx="474.1" cy="1605.5" r="12"/><circle cx="479.6" cy="1603.9" r="12"/><circle cx="484.9" cy="1602.9" r="12"/><circle cx="489.8" cy="1601.7" r="12"/><circle cx="494.5" cy="1601.5" r="12"/><circle cx="498.9" cy="1600.5" r="12"/><circle cx="503.1" cy="1599.9" r="12"/><circle cx="507.1" cy="1598.3" r="12"/><circle cx="511" cy="1599.9" r="12"/><circle cx="514.7" cy="1597.6" r="12"/><circle cx="518.2" cy="1598" r="12"/><circle cx="521.7" cy="1597.3" r="12"/><circle cx="524.9" cy="1594.5" r="12"/><circle cx="528.1" cy="1593.1" r="12"/><circle cx="531.2" cy="1594.8" r="12"/><circle cx="534.1" cy="1591.8" r="12"/><circle cx="537" cy="1590.9" r="12"/><circle cx="539.8" cy="1589.3" r="12"/><circle cx="542.4" cy="1588.4" r="12"/><circle cx="545.1" cy="1585.9" r="12"/><circle cx="547.6" cy="1585.8" r="12"/><circle cx="552.4" cy="1583.2" r="12"/><circle cx="557.1" cy="1581.5" r="12"/><circle cx="561.4" cy="1577.2" r="12"/><circle cx="565.6" cy="1578.4" r="12"/><circle cx="569.6" cy="1576.1" r="12"/><circle cx="573.4" cy="1572.2" r="12"/><circle cx="577.1" cy="1571.5" r="12"/><circle cx="580.6" cy="1570.7" r="12"/><circle cx="584" cy="1569.7" r="12"/><circle cx="587.2" cy="1567.7" r="12"/><circle cx="590.4" cy="1567.8" r="12"/><circle cx="593.4" cy="1565.2" r="12"/><circle cx="596.3" cy="1563" r="12"/><circle cx="599.2" cy="1562.2" r="12"/><circle cx="601.9" cy="1562.5" r="12"/><circle cx="604.6" cy="1560" r="12"/><circle cx="607.2" cy="1560.4" r="12"/><circle cx="609.7" cy="1559.6" r="12"/><circle cx="613.3" cy="1557.6" r="12"/><circle cx="616.8" cy="1556.6" r="12"/><circle cx="620.2" cy="1554.1" r="12"/><circle cx="623.4" cy="1552.9" r="12"/><circle cx="626.6" cy="1551" r="12"/><circle cx="629.6" cy="1549.8" r="12"/><circle cx="632.5" cy="1547.6" r="12"/><circle cx="635.3" cy="1547.5" r="12"/><circle cx="638.1" cy="1546.5" r="12"/><circle cx="640.7" cy="1545.8" r="12"/><circle cx="643.3" cy="1547.1" r="12"/><circle cx="645.8" cy="1547.1" r="12"/><circle cx="649.1" cy="1545.9" r="12"/><circle cx="652.2" cy="1547.2" r="12"/><circle cx="655.2" cy="1546.4" r="12"/><circle cx="658.1" cy="1546.2" r="12"/><circle cx="661" cy="1544.2" r="12"/><circle cx="663.7" cy="1543" r="12"/><circle cx="666.4" cy="1544.7" r="12"/><circle cx="669" cy="1544.2" r="12"/><circle cx="671.5" cy="1544.3" r="12"/><circle cx="674.5" cy="1543.6" r="12"/><circle cx="677.4" cy="1544.1" r="12"/><circle cx="680.3" cy="1542.2" r="12"/><circle cx="683" cy="1542.8" r="12"/><circle cx="685.7" cy="1541" r="12"/><circle cx="688.3" cy="1539.2" r="12"/><circle cx="690.8" cy="1540.8" r="12"/><circle cx="693.7" cy="1542.4" r="12"/><circle cx="696.6" cy="1538.9" r="12"/><circle cx="699.3" cy="1541.2" r="12"/><circle cx="702" cy="1539.2" r="12"/><circle cx="704.6" cy="1539.2" r="12"/><circle cx="707.1" cy="1539.3" r="12"/><circle cx="710" cy="1539.5" r="12"/></g>
<path d="M195.1 1621.8 292.5 1619.5 337.8 1619 367.6 1617.6 389.9 1614.1 407.7 1614.9 422.5 1613.9 435.2 1613 446.3 1607.9 456.2 1608.2 465.1 1605 473.1 1606.2 480.5 1605.5 487.4 1602.9 493.7 1601.7 499.6 1602.7 505.2 1602.5 510.4 1600.4 515.3 1600.3 520 1597.5 524.4 1598.7 528.6 1599.1 532.7 1597.4 536.5 1597.3 540.2 1593 543.8 1590.4 547.2 1591.7 550.5 1589.3 553.6 1588.8 556.7 1588 559.6 1586.6 562.5 1586.3 565.3 1585 568 1580.9 570.6 1581.4 573.1 1582.4 578 1578 582.6 1577.4 586.9 1574.6 591.1 1572.4 595.1 1572.3 598.9 1569.8 602.6 1566.6 606.1 1565.9 609.5 1561.9 612.7 1560.8 615.9 1560.8 618.9 1558.7 621.8 1557 624.7 1557.9 627.4 1557.2 630.1 1557.6 632.7 1556.8 635.2 1555 638.8 1554.1 642.3 1553.7 645.7 1553 648.9 1554 652.1 1553.5 655.1 1552.9 658 1551.5 660.9 1550.5 663.6 1551.3 666.3 1549.7 668.8 1549.9 671.4 1547.7 674.6 1548.5 677.7 1549.9 680.7 1547 683.7 1546.2 686.5 1547.1 689.2 1548.6 691.9 1548 694.5 1545.8 697 1545.4 700 1545.3 702.9 1544.1 705.8 1544.7 708.5 1543.4 711.2 1539.4 713.8 1537.6 716.3 1535.2 719.3 1531.6 722.1 1528.3 724.8 1527.4 727.5 1525.6 730.1 1520.7 732.6 1517.9 735.5 1517.1 738.2 1514.9 740.9 1512.9 743.5 1513.7 746 1509.9" fill="none" stroke="#00a8e8" stroke-width="2.5" stroke-linejoin="round" stroke-linecap="round"/>
<g fill="#00a8e8"><circle cx="195.1" cy="1621.8" r="12"/><circle cx="292.5" cy="1619.5" r="12"/><circle cx="337.8" cy="1619" r="12"/><circle cx="367.6" cy="1617.6" r="12"/><circle cx="389.9" cy="1614.1" r="12"/><circle cx="407.7" cy="1614.9" r="12"/><circle cx="422.5" cy="1613.9" r="12"/><circle cx="435.2" cy="1613" r="12"/><circle cx="446.3" cy="1607.9" r="12"/><circle cx="456.2" cy="1608.2" r="12"/><circle cx="465.1" cy="1605" r="12"/><circle cx="473.1" cy="1606.2" r="12"/><circle cx="480.5" cy="1605.5" r="12"/><circle cx="487.4" cy="1602.9" r="12"/><circle cx="493.7" cy="1601.7" r="12"/><circle cx="499.6" cy="1602.7" r="12"/><circle cx="505.2" cy="1602.5" r="12"/><circle cx="510.4" cy="1600.4" r="12"/><circle cx="515.3" cy="1600.3" r="12"/><circle cx="520" cy="1597.5" r="12"/><circle cx="524.4" cy="1598.7" r="12"/><circle cx="528.6" cy="1599.1" r="12"/><circle cx="532.7" cy="1597.4" r="12"/><circle cx="536.5" cy="1597.3" r="12"/><circle cx="540.2" cy="1593" r="12"/><circle cx="543.8" cy="1590.4" r="12"/><circle cx="547.2" cy="1591.7" r="12"/><circle cx="550.5" cy="1589.3" r="12"/><circle cx="553.6" cy="1588.8" r="12"/><circle cx="556.7" cy="1588" r="12"/><circle cx="559.6" cy="1586.6" r="12"/><circle cx="562.5" cy="1586.3" r="12"/><circle cx="565.3" cy="1585" r="12"/><circle cx="568" cy="1580.9" r="12"/><circle cx="570.6" cy="1581.4" r="12"/><circle cx="573.1" cy="1582.4" r="12"/><circle cx="578" cy="1578" r="12"/><circle cx="582.6" cy="1577.4" r="12"/><circle cx="586.9" cy="1574.6" r="12"/><circle cx="591.1" cy="1572.4" r="12"/><circle cx="595.1" cy="1572.3" r="12"/><circle cx="598.9" cy="1569.8" r="12"/><circle cx="602.6" cy="1566.6" r="12"/><circle cx="606.1" cy="1565.9" r="12"/><circle cx="609.5" cy="1561.9" r="12"/><circle cx="612.7" cy="1560.8" r="12"/><circle cx="615.9" cy="1560.8" r="12"/><circle cx="618.9" cy="1558.7" r="12"/><circle cx="621.8" cy="1557" r="12"/><circle cx="624.7" cy="1557.9" r="12"/><circle cx="627.4" cy="1557.2" r="12"/><circle cx="630.1" cy="1557.6" r="12"/><circle cx="632.7" cy="1556.8" r="12"/><circle cx="635.2" cy="1555" r="12"/><circle cx="638.8" cy="1554.1" r="12"/><circle cx="642.3" cy="1553.7" r="12"/><circle cx="645.7" cy="1553" r="12"/><circle cx="648.9" cy="1554" r="12"/><circle cx="652.1" cy="1553.5" r="12"/><circle cx="655.1" cy="1552.9" r="12"/><circle cx="658" cy="1551.5" r="12"/><circle cx="660.9" cy="1550.5" r="12"/><circle cx="663.6" cy="1551.3" r="12"/><circle cx="666.3" cy="1549.7" r="12"/><circle cx="668.8" cy="1549.9" r="12"/><circle cx="671.4" cy="1547.7" r="12"/><circle cx="674.6" cy="1548.5" r="12"/><circle cx="677.7" cy="1549.9" r="12"/><circle cx="680.7" cy="1547" r="12"/><circle cx="683.7" cy="1546.2" r="12"/><circle cx="686.5" cy="1547.1" r="12"/><circle cx="689.2" cy="1548.6" r="12"/><circle cx="691.9" cy="1548" r="12"/><circle cx="694.5" cy="1545.8" r="12"/><circle cx="697" cy="1545.4" r="12"/><circle cx="700" cy="1545.3" r="12"/><circle cx="702.9" cy="1544.1" r="12"/><circle cx="705.8" cy="1544.7" r="12"/><circle cx="708.5" cy="1543.4" r="12"/><circle cx="711.2" cy="1539.4" r="12"/><circle cx="713.8" cy="1537.6" r="12"/><circle cx="716.3" cy="1535.2" r="12"/><circle cx="719.3" cy="1531.6" r="12"/><circle cx="722.1" cy="1528.3" r="12"/><circle cx="724.8" cy="1527.4" r="12"/><circle cx="727.5" cy="1525.6" r="12"/><circle cx="730.1" cy="1520.7" r="12"/><circle cx="732.6" cy="1517.9" r="12"/><circle cx="735.5" cy="1517.1" r="12"/><circle cx="738.2" cy="1514.9" r="12"/><circle cx="740.9" cy="1512.9" r="12"/><circle cx="743.5" cy="1513.7" r="12"/><circle cx="746" cy="1509.9" r="12"/></g>
<path d="M231 1627.1 328.5 1625.5 373.8 1622.7 403.6 1619 425.9 1616.6 443.7 1615 458.5 1612.2 471.2 1609.8 482.3 1607 492.1 1606.8 501 1604.6 509.1 1604 516.5 1603.7 523.3 1601.6 529.7 1600.1 535.6 1598.4 541.1 1598.1 546.3 1597.3 551.3 1595.3 555.9 1594.9 560.4 1595.4 564.6 1591.7 568.6 1591.7 572.5 1589.9 576.2 1591.6 579.7 1589.6 583.1 1588.5 586.4 1587.5 589.6 1586.4 592.6 1585.6 595.6 1582.8 598.5 1583.9 601.2 1583.4 603.9 1580.6 606.5 1582.1 609.1 1581.2 613.9 1576.8 618.5 1575.5 622.9 1573.4 627.1 1571 631.1 1569.8 634.9 1566.2 638.5 1565.3 642 1563.9 645.4 1562.7 648.7 1560.3 651.8 1558.3 654.9 1557.3 657.8 1552.8 660.6 1554 663.4 1551 666 1548.4 668.6 1547.6 671.1 1544.6 674.8 1542.1 678.3 1541.6 681.7 1539.1 684.9 1538.6 688 1535 691.1 1532.7 694 1532 696.8 1534.2 699.6 1532.1 702.2 1531 704.8 1530.1 707.3 1529.6 710.6 1530 713.7 1530 716.7 1530.2 719.6 1529.7 722.4 1527.8 725.2 1523.1 727.8 1519.3 730.4 1514.3 732.9 1512.2 736 1509.5 738.9 1504.8 741.7 1501.6 744.5 1496.4 747.2 1495.5 749.8 1491.9 752.3 1488.8 755.2 1485.7 758.1 1479.8 760.8 1478.3 763.5 1474.9 766.1 1474.6 768.6 1469.7 771.4 1468" fill="none" stroke="#9a1ad8" stroke-width="2.5" stroke-linejoin="round" stroke-linecap="round"/>
<g fill="#9a1ad8"><circle cx="231" cy="1627.1" r="12"/><circle cx="328.5" cy="1625.5" r="12"/><circle cx="373.8" cy="1622.7" r="12"/><circle cx="403.6" cy="1619" r="12"/><circle cx="425.9" cy="1616.6" r="12"/><circle cx="443.7" cy="1615" r="12"/><circle cx="458.5" cy="1612.2" r="12"/><circle cx="471.2" cy="1609.8" r="12"/><circle cx="482.3" cy="1607" r="12"/><circle cx="492.1" cy="1606.8" r="12"/><circle cx="501" cy="1604.6" r="12"/><circle cx="509.1" cy="1604" r="12"/><circle cx="516.5" cy="1603.7" r="12"/><circle cx="523.3" cy="1601.6" r="12"/><circle cx="529.7" cy="1600.1" r="12"/><circle cx="535.6" cy="1598.4" r="12"/><circle cx="541.1" cy="1598.1" r="12"/><circle cx="546.3" cy="1597.3" r="12"/><circle cx="551.3" cy="1595.3" r="12"/><circle cx="555.9" cy="1594.9" r="12"/><circle cx="560.4" cy="1595.4" r="12"/><circle cx="564.6" cy="1591.7" r="12"/><circle cx="568.6" cy="1591.7" r="12"/><circle cx="572.5" cy="1589.9" r="12"/><circle cx="576.2" cy="1591.6" r="12"/><circle cx="579.7" cy="1589.6" r="12"/><circle cx="583.1" cy="1588.5" r="12"/><circle cx="586.4" cy="1587.5" r="12"/><circle cx="589.6" cy="1586.4" r="12"/><circle cx="592.6" cy="1585.6" r="12"/><circle cx="595.6" cy="1582.8" r="12"/><circle cx="598.5" cy="1583.9" r="12"/><circle cx="601.2" cy="1583.4" r="12"/><circle cx="603.9" cy="1580.6" r="12"/><circle cx="606.5" cy="1582.1" r="12"/><circle cx="609.1" cy="1581.2" r="12"/><circle cx="613.9" cy="1576.8" r="12"/><circle cx="618.5" cy="1575.5" r="12"/><circle cx="622.9" cy="1573.4" r="12"/><circle cx="627.1" cy="1571" r="12"/><circle cx="631.1" cy="1569.8" r="12"/><circle cx="634.9" cy="1566.2" r="12"/><circle cx="638.5" cy="1565.3" r="12"/><circle cx="642" cy="1563.9" r="12"/><circle cx="645.4" cy="1562.7" r="12"/><circle cx="648.7" cy="1560.3" r="12"/><circle cx="651.8" cy="1558.3" r="12"/><circle cx="654.9" cy="1557.3" r="12"/><circle cx="657.8" cy="1552.8" r="12"/><circle cx="660.6" cy="1554" r="12"/><circle cx="663.4" cy="1551" r="12"/><circle cx="666" cy="1548.4" r="12"/><circle cx="668.6" cy="1547.6" r="12"/><circle cx="671.1" cy="1544.6" r="12"/><circle cx="674.8" cy="1542.1" r="12"/><circle cx="678.3" cy="1541.6" r="12"/><circle cx="681.7" cy="1539.1" r="12"/><circle cx="684.9" cy="1538.6" r="12"/><circle cx="688" cy="1535" r="12"/><circle cx="691.1" cy="1532.7" r="12"/><circle cx="694" cy="1532" r="12"/><circle cx="696.8" cy="1534.2" r="12"/><circle cx="699.6" cy="1532.1" r="12"/><circle cx="702.2" cy="1531" r="12"/><circle cx="704.8" cy="1530.1" r="12"/><circle cx="707.3" cy="1529.6" r="12"/><circle cx="710.6" cy="1530" r="12"/><circle cx="713.7" cy="1530" r="12"/><circle cx="716.7" cy="1530.2" r="12"/><circle cx="719.6" cy="1529.7" r="12"/><circle cx="722.4" cy="1527.8" r="12"/><circle cx="725.2" cy="1523.1" r="12"/><circle cx="727.8" cy="1519.3" r="12"/><circle cx="730.4" cy="1514.3" r="12"/><circle cx="732.9" cy="1512.2" r="12"/><circle cx="736" cy="1509.5" r="12"/><circle cx="738.9" cy="1504.8" r="12"/><circle cx="741.7" cy="1501.6" r="12"/><circle cx="744.5" cy="1496.4" r="12"/><circle cx="747.2" cy="1495.5" r="12"/><circle cx="749.8" cy="1491.9" r="12"/><circle cx="752.3" cy="1488.8" r="12"/><circle cx="755.2" cy="1485.7" r="12"/><circle cx="758.1" cy="1479.8" r="12"/><circle cx="760.8" cy="1478.3" r="12"/><circle cx="763.5" cy="1474.9" r="12"/><circle cx="766.1" cy="1474.6" r="12"/><circle cx="768.6" cy="1469.7" r="12"/><circle cx="771.4" cy="1468" r="12"/></g>
<path d="M292.5 1633.8 389.9 1629.4 435.2 1625.9 465.1 1623.8 487.4 1621.9 505.2 1619.6 520 1620 532.7 1615.3 543.8 1615.1 553.6 1610.9 562.5 1609.4 570.6 1605.7 578 1602.4 584.8 1598.1 591.1 1594.6 597 1590.6 602.6 1587.4 607.8 1584.5 612.7 1579.7 617.4 1575.2 621.8 1571.6 626.1 1570.2 630.1 1565.9 633.9 1564.4 637.6 1560.7 641.2 1556.9 644.6 1556.3 647.9 1554.9 651 1550.4 654.1 1547 657.1 1544.5 659.9 1543.7 662.7 1539.9 665.4 1537.8 668 1536.6 670.5 1533.8 675.4 1529.8 680 1525.2 684.4 1522.4 688.5 1520.8 692.5 1518.4 696.3 1516.5 700 1513.3 703.5 1511.9 706.9 1509.8 710.2 1507.4 713.3 1505.9 716.3 1504.4 719.3 1501.7 722.1 1500 724.8 1497.5 727.5 1497.3 730.1 1495.5 732.6 1494 736.3 1491.4 739.8 1490.7 743.1 1490.7 746.4 1486.7 749.5 1484.5 752.5 1483.1 755.5 1480.2 758.3 1479 761 1476.4 763.7 1474.7 766.3 1473.8 768.8 1472.1 772 1469.6 775.1 1466.9 778.2 1466.2 781.1 1463 783.9 1463.2 786.7 1460.4 789.3 1459.1 791.9 1458.3 794.4 1456.5 797.4 1452.8 800.4 1452.1 803.2 1450.9 806 1447.7 808.6 1444.7 811.2 1445.4 813.8 1443.8 816.7 1442.4 819.5 1440.2 822.3 1438.5 824.9 1436.9 827.5 1436.4 830 1433.9 832.9 1433.3" fill="none" stroke="#dc55b5" stroke-width="2.5" stroke-linejoin="round" stroke-linecap="round"/>
<g fill="#dc55b5" stroke="#f0147f" stroke-width="1.6"><circle cx="292.5" cy="1633.8" r="12"/><circle cx="389.9" cy="1629.4" r="12"/><circle cx="435.2" cy="1625.9" r="12"/><circle cx="465.1" cy="1623.8" r="12"/><circle cx="487.4" cy="1621.9" r="12"/><circle cx="505.2" cy="1619.6" r="12"/><circle cx="520" cy="1620" r="12"/><circle cx="532.7" cy="1615.3" r="12"/><circle cx="543.8" cy="1615.1" r="12"/><circle cx="553.6" cy="1610.9" r="12"/><circle cx="562.5" cy="1609.4" r="12"/><circle cx="570.6" cy="1605.7" r="12"/><circle cx="578" cy="1602.4" r="12"/><circle cx="584.8" cy="1598.1" r="12"/><circle cx="591.1" cy="1594.6" r="12"/><circle cx="597" cy="1590.6" r="12"/><circle cx="602.6" cy="1587.4" r="12"/><circle cx="607.8" cy="1584.5" r="12"/><circle cx="612.7" cy="1579.7" r="12"/><circle cx="617.4" cy="1575.2" r="12"/><circle cx="621.8" cy="1571.6" r="12"/><circle cx="626.1" cy="1570.2" r="12"/><circle cx="630.1" cy="1565.9" r="12"/><circle cx="633.9" cy="1564.4" r="12"/><circle cx="637.6" cy="1560.7" r="12"/><circle cx="641.2" cy="1556.9" r="12"/><circle cx="644.6" cy="1556.3" r="12"/><circle cx="647.9" cy="1554.9" r="12"/><circle cx="651" cy="1550.4" r="12"/><circle cx="654.1" cy="1547" r="12"/><circle cx="657.1" cy="1544.5" r="12"/><circle cx="659.9" cy="1543.7" r="12"/><circle cx="662.7" cy="1539.9" r="12"/><circle cx="665.4" cy="1537.8" r="12"/><circle cx="668" cy="1536.6" r="12"/><circle cx="670.5" cy="1533.8" r="12"/><circle cx="675.4" cy="1529.8" r="12"/><circle cx="680" cy="1525.2" r="12"/><circle cx="684.4" cy="1522.4" r="12"/><circle cx="688.5" cy="1520.8" r="12"/><circle cx="692.5" cy="1518.4" r="12"/><circle cx="696.3" cy="1516.5" r="12"/><circle cx="700" cy="1513.3" r="12"/><circle cx="703.5" cy="1511.9" r="12"/><circle cx="706.9" cy="1509.8" r="12"/><circle cx="710.2" cy="1507.4" r="12"/><circle cx="713.3" cy="1505.9" r="12"/><circle cx="716.3" cy="1504.4" r="12"/><circle cx="719.3" cy="1501.7" r="12"/><circle cx="722.1" cy="1500" r="12"/><circle cx="724.8" cy="1497.5" r="12"/><circle cx="727.5" cy="1497.3" r="12"/><circle cx="730.1" cy="1495.5" r="12"/><circle cx="732.6" cy="1494" r="12"/><circle cx="736.3" cy="1491.4" r="12"/><circle cx="739.8" cy="1490.7" r="12"/><circle cx="743.1" cy="1490.7" r="12"/><circle cx="746.4" cy="1486.7" r="12"/><circle cx="749.5" cy="1484.5" r="12"/><circle cx="752.5" cy="1483.1" r="12"/><circle cx="755.5" cy="1480.2" r="12"/><circle cx="758.3" cy="1479" r="12"/><circle cx="761" cy="1476.4" r="12"/><circle cx="763.7" cy="1474.7" r="12"/><circle cx="766.3" cy="1473.8" r="12"/><circle cx="768.8" cy="1472.1" r="12"/><circle cx="772" cy="1469.6" r="12"/><circle cx="775.1" cy="1466.9" r="12"/><circle cx="778.2" cy="1466.2" r="12"/><circle cx="781.1" cy="1463" r="12"/><circle cx="783.9" cy="1463.2" r="12"/><circle cx="786.7" cy="1460.4" r="12"/><circle cx="789.3" cy="1459.1" r="12"/><circle cx="791.9" cy="1458.3" r="12"/><circle cx="794.4" cy="1456.5" r="12"/><circle cx="797.4" cy="1452.8" r="12"/><circle cx="800.4" cy="1452.1" r="12"/><circle cx="803.2" cy="1450.9" r="12"/><circle cx="806" cy="1447.7" r="12"/><circle cx="808.6" cy="1444.7" r="12"/><circle cx="811.2" cy="1445.4" r="12"/><circle cx="813.8" cy="1443.8" r="12"/><circle cx="816.7" cy="1442.4" r="12"/><circle cx="819.5" cy="1440.2" r="12"/><circle cx="822.3" cy="1438.5" r="12"/><circle cx="824.9" cy="1436.9" r="12"/><circle cx="827.5" cy="1436.4" r="12"/><circle cx="830" cy="1433.9" r="12"/><circle cx="832.9" cy="1433.3" r="12"/></g>
<path d="M354 1626.6 451.4 1623 496.7 1620 526.5 1617.9 548.8 1610.1 566.6 1608.2 581.4 1604.3 594.1 1599.4 605.2 1594.4 615.1 1587.6 624 1581.7 632 1576.4 639.4 1574.1 646.3 1568.7 652.6 1564.7 658.5 1559.6 664 1558.2 669.3 1554.1 674.2 1550 678.9 1546.7 683.3 1542 687.5 1541.2 691.6 1536.5 695.4 1535.6 699.1 1531.6 702.7 1528.8 706.1 1527.3 709.4 1524.8 712.5 1521.1 715.6 1519 718.5 1516.6 721.4 1512.8 724.2 1508.8 726.9 1507.1 729.5 1503.7 732 1501.4 736.9 1497.7 741.5 1493.8 745.8 1490 750 1485.1 754 1483.7 757.8 1480 761.5 1476.8 765 1474.4 768.4 1473.3 771.6 1467.4 774.8 1464.5 777.8 1464.3 780.7 1460.3 783.6 1460 786.3 1455.4 789 1453.7 791.6 1452.9 794.1 1450.9 797.7 1447.3 801.2 1444.4 804.6 1441 807.8 1438 811 1435.6 814 1434.6 816.9 1431.6 819.8 1428.5 822.5 1426.6 825.2 1424.9 827.7 1423.4 830.3 1420.4 833.5 1418.2 836.6 1416.4 839.6 1416.6 842.6 1412.2 845.4 1411.3 848.1 1406.6 850.8 1407.1 853.4 1403 855.9 1401.6 858.9 1399.9 861.8 1398.3 864.7 1396.6 867.4 1394.9 870.1 1392.8 872.7 1390.3 875.2 1391.5 878.2 1387.3 881 1385.7 883.7 1385.2 886.4 1382.3 889 1380.2 891.5 1378.2 894.4 1379.2" fill="none" stroke="#c00000" stroke-width="2.5" stroke-linejoin="round" stroke-linecap="round"/>
<g fill="#c00000"><circle cx="354" cy="1626.6" r="12"/><circle cx="451.4" cy="1623" r="12"/><circle cx="496.7" cy="1620" r="12"/><circle cx="526.5" cy="1617.9" r="12"/><circle cx="548.8" cy="1610.1" r="12"/><circle cx="566.6" cy="1608.2" r="12"/><circle cx="581.4" cy="1604.3" r="12"/><circle cx="594.1" cy="1599.4" r="12"/><circle cx="605.2" cy="1594.4" r="12"/><circle cx="615.1" cy="1587.6" r="12"/><circle cx="624" cy="1581.7" r="12"/><circle cx="632" cy="1576.4" r="12"/><circle cx="639.4" cy="1574.1" r="12"/><circle cx="646.3" cy="1568.7" r="12"/><circle cx="652.6" cy="1564.7" r="12"/><circle cx="658.5" cy="1559.6" r="12"/><circle cx="664" cy="1558.2" r="12"/><circle cx="669.3" cy="1554.1" r="12"/><circle cx="674.2" cy="1550" r="12"/><circle cx="678.9" cy="1546.7" r="12"/><circle cx="683.3" cy="1542" r="12"/><circle cx="687.5" cy="1541.2" r="12"/><circle cx="691.6" cy="1536.5" r="12"/><circle cx="695.4" cy="1535.6" r="12"/><circle cx="699.1" cy="1531.6" r="12"/><circle cx="702.7" cy="1528.8" r="12"/><circle cx="706.1" cy="1527.3" r="12"/><circle cx="709.4" cy="1524.8" r="12"/><circle cx="712.5" cy="1521.1" r="12"/><circle cx="715.6" cy="1519" r="12"/><circle cx="718.5" cy="1516.6" r="12"/><circle cx="721.4" cy="1512.8" r="12"/><circle cx="724.2" cy="1508.8" r="12"/><circle cx="726.9" cy="1507.1" r="12"/><circle cx="729.5" cy="1503.7" r="12"/><circle cx="732" cy="1501.4" r="12"/><circle cx="736.9" cy="1497.7" r="12"/><circle cx="741.5" cy="1493.8" r="12"/><circle cx="745.8" cy="1490" r="12"/><circle cx="750" cy="1485.1" r="12"/><circle cx="754" cy="1483.7" r="12"/><circle cx="757.8" cy="1480" r="12"/><circle cx="761.5" cy="1476.8" r="12"/><circle cx="765" cy="1474.4" r="12"/><circle cx="768.4" cy="1473.3" r="12"/><circle cx="771.6" cy="1467.4" r="12"/><circle cx="774.8" cy="1464.5" r="12"/><circle cx="777.8" cy="1464.3" r="12"/><circle cx="780.7" cy="1460.3" r="12"/><circle cx="783.6" cy="1460" r="12"/><circle cx="786.3" cy="1455.4" r="12"/><circle cx="789" cy="1453.7" r="12"/><circle cx="791.6" cy="1452.9" r="12"/><circle cx="794.1" cy="1450.9" r="12"/><circle cx="797.7" cy="1447.3" r="12"/><circle cx="801.2" cy="1444.4" r="12"/><circle cx="804.6" cy="1441" r="12"/><circle cx="807.8" cy="1438" r="12"/><circle cx="811" cy="1435.6" r="12"/><circle cx="814" cy="1434.6" r="12"/><circle cx="816.9" cy="1431.6" r="12"/><circle cx="819.8" cy="1428.5" r="12"/><circle cx="822.5" cy="1426.6" r="12"/><circle cx="825.2" cy="1424.9" r="12"/><circle cx="827.7" cy="1423.4" r="12"/><circle cx="830.3" cy="1420.4" r="12"/><circle cx="833.5" cy="1418.2" r="12"/><circle cx="836.6" cy="1416.4" r="12"/><circle cx="839.6" cy="1416.6" r="12"/><circle cx="842.6" cy="1412.2" r="12"/><circle cx="845.4" cy="1411.3" r="12"/><circle cx="848.1" cy="1406.6" r="12"/><circle cx="850.8" cy="1407.1" r="12"/><circle cx="853.4" cy="1403" r="12"/><circle cx="855.9" cy="1401.6" r="12"/><circle cx="858.9" cy="1399.9" r="12"/><circle cx="861.8" cy="1398.3" r="12"/><circle cx="864.7" cy="1396.6" r="12"/><circle cx="867.4" cy="1394.9" r="12"/><circle cx="870.1" cy="1392.8" r="12"/><circle cx="872.7" cy="1390.3" r="12"/><circle cx="875.2" cy="1391.5" r="12"/><circle cx="878.2" cy="1387.3" r="12"/><circle cx="881" cy="1385.7" r="12"/><circle cx="883.7" cy="1385.2" r="12"/><circle cx="886.4" cy="1382.3" r="12"/><circle cx="889" cy="1380.2" r="12"/><circle cx="891.5" cy="1378.2" r="12"/><circle cx="894.4" cy="1379.2" r="12"/></g>
<path d="M399.3 1610.6 496.7 1605.3 542 1601.5 571.8 1592.7 594.1 1587.4 611.9 1582.1 626.7 1573 639.4 1567.4 650.5 1562.6 660.4 1554.7 669.3 1550.6 677.3 1544 684.7 1538.3 691.6 1533.4 697.9 1528.2 703.8 1522.8 709.4 1517.6 714.6 1514.5 719.5 1510.3 724.2 1505.4 728.6 1500.5 732.8 1495.5 736.9 1492 740.7 1488.1 744.4 1486.5 748 1484.4 751.4 1481.7 754.7 1478.1 757.8 1475.3 760.9 1473.4 763.8 1471 766.7 1469.2 769.5 1467.8 772.2 1463.8 774.8 1464.8 777.3 1458.9 782.2 1455.9 786.8 1453 791.1 1450.6 795.3 1448.7 799.3 1448.4 803.1 1443.3 806.8 1442.7 810.3 1439 813.7 1437.5 816.9 1434.4 820.1 1435.8 823.1 1431.7 826 1429.4 828.9 1430.6 831.6 1426.6 834.3 1424.8 836.9 1422.2 839.4 1419.6 843 1416.2 846.5 1414.8 849.9 1414 853.1 1409.8 856.3 1406.3 859.3 1404.7 862.2 1399.9 865.1 1399.6 867.8 1395.6 870.5 1392.5 873 1392.8 875.6 1391.5 878.8 1389.1 881.9 1388.2 884.9 1387.5 887.9 1386.6 890.7 1382.8 893.4 1378.6 896.1 1380.8 898.7 1376.2 901.2 1373.8 904.2 1371.9 907.1 1368.5 910 1367.4 912.7 1362.3 915.4 1360.6 918 1356.9 920.5 1357.1 923.5 1352.4 926.3 1350.8 929 1348.3 931.7 1342 934.3 1338.9 936.8 1335.8 939.7 1330.6 942.4 1326 945.1 1323.9 947.7 1322.5 950.2 1319.7" fill="none" stroke="#000000" stroke-width="2.5" stroke-linejoin="round" stroke-linecap="round"/>
<g fill="#000000"><circle cx="399.3" cy="1610.6" r="12"/><circle cx="496.7" cy="1605.3" r="12"/><circle cx="542" cy="1601.5" r="12"/><circle cx="571.8" cy="1592.7" r="12"/><circle cx="594.1" cy="1587.4" r="12"/><circle cx="611.9" cy="1582.1" r="12"/><circle cx="626.7" cy="1573" r="12"/><circle cx="639.4" cy="1567.4" r="12"/><circle cx="650.5" cy="1562.6" r="12"/><circle cx="660.4" cy="1554.7" r="12"/><circle cx="669.3" cy="1550.6" r="12"/><circle cx="677.3" cy="1544" r="12"/><circle cx="684.7" cy="1538.3" r="12"/><circle cx="691.6" cy="1533.4" r="12"/><circle cx="697.9" cy="1528.2" r="12"/><circle cx="703.8" cy="1522.8" r="12"/><circle cx="709.4" cy="1517.6" r="12"/><circle cx="714.6" cy="1514.5" r="12"/><circle cx="719.5" cy="1510.3" r="12"/><circle cx="724.2" cy="1505.4" r="12"/><circle cx="728.6" cy="1500.5" r="12"/><circle cx="732.8" cy="1495.5" r="12"/><circle cx="736.9" cy="1492" r="12"/><circle cx="740.7" cy="1488.1" r="12"/><circle cx="744.4" cy="1486.5" r="12"/><circle cx="748" cy="1484.4" r="12"/><circle cx="751.4" cy="1481.7" r="12"/><circle cx="754.7" cy="1478.1" r="12"/><circle cx="757.8" cy="1475.3" r="12"/><circle cx="760.9" cy="1473.4" r="12"/><circle cx="763.8" cy="1471" r="12"/><circle cx="766.7" cy="1469.2" r="12"/><circle cx="769.5" cy="1467.8" r="12"/><circle cx="772.2" cy="1463.8" r="12"/><circle cx="774.8" cy="1464.8" r="12"/><circle cx="777.3" cy="1458.9" r="12"/><circle cx="782.2" cy="1455.9" r="12"/><circle cx="786.8" cy="1453" r="12"/><circle cx="791.1" cy="1450.6" r="12"/><circle cx="795.3" cy="1448.7" r="12"/><circle cx="799.3" cy="1448.4" r="12"/><circle cx="803.1" cy="1443.3" r="12"/><circle cx="806.8" cy="1442.7" r="12"/><circle cx="810.3" cy="1439" r="12"/><circle cx="813.7" cy="1437.5" r="12"/><circle cx="816.9" cy="1434.4" r="12"/><circle cx="820.1" cy="1435.8" r="12"/><circle cx="823.1" cy="1431.7" r="12"/><circle cx="826" cy="1429.4" r="12"/><circle cx="828.9" cy="1430.6" r="12"/><circle cx="831.6" cy="1426.6" r="12"/><circle cx="834.3" cy="1424.8" r="12"/><circle cx="836.9" cy="1422.2" r="12"/><circle cx="839.4" cy="1419.6" r="12"/><circle cx="843" cy="1416.2" r="12"/><circle cx="846.5" cy="1414.8" r="12"/><circle cx="849.9" cy="1414" r="12"/><circle cx="853.1" cy="1409.8" r="12"/><circle cx="856.3" cy="1406.3" r="12"/><circle cx="859.3" cy="1404.7" r="12"/><circle cx="862.2" cy="1399.9" r="12"/><circle cx="865.1" cy="1399.6" r="12"/><circle cx="867.8" cy="1395.6" r="12"/><circle cx="870.5" cy="1392.5" r="12"/><circle cx="873" cy="1392.8" r="12"/><circle cx="875.6" cy="1391.5" r="12"/><circle cx="878.8" cy="1389.1" r="12"/><circle cx="881.9" cy="1388.2" r="12"/><circle cx="884.9" cy="1387.5" r="12"/><circle cx="887.9" cy="1386.6" r="12"/><circle cx="890.7" cy="1382.8" r="12"/><circle cx="893.4" cy="1378.6" r="12"/><circle cx="896.1" cy="1380.8" r="12"/><circle cx="898.7" cy="1376.2" r="12"/><circle cx="901.2" cy="1373.8" r="12"/><circle cx="904.2" cy="1371.9" r="12"/><circle cx="907.1" cy="1368.5" r="12"/><circle cx="910" cy="1367.4" r="12"/><circle cx="912.7" cy="1362.3" r="12"/><circle cx="915.4" cy="1360.6" r="12"/><circle cx="918" cy="1356.9" r="12"/><circle cx="920.5" cy="1357.1" r="12"/><circle cx="923.5" cy="1352.4" r="12"/><circle cx="926.3" cy="1350.8" r="12"/><circle cx="929" cy="1348.3" r="12"/><circle cx="931.7" cy="1342" r="12"/><circle cx="934.3" cy="1338.9" r="12"/><circle cx="936.8" cy="1335.8" r="12"/><circle cx="939.7" cy="1330.6" r="12"/><circle cx="942.4" cy="1326" r="12"/><circle cx="945.1" cy="1323.9" r="12"/><circle cx="947.7" cy="1322.5" r="12"/><circle cx="950.2" cy="1319.7" r="12"/></g>
<g fill="#000"><circle cx="944" cy="1324" r="13"/><circle cx="950" cy="1321" r="13"/><circle cx="938" cy="1330" r="12.5"/></g>
</svg></body></html>
